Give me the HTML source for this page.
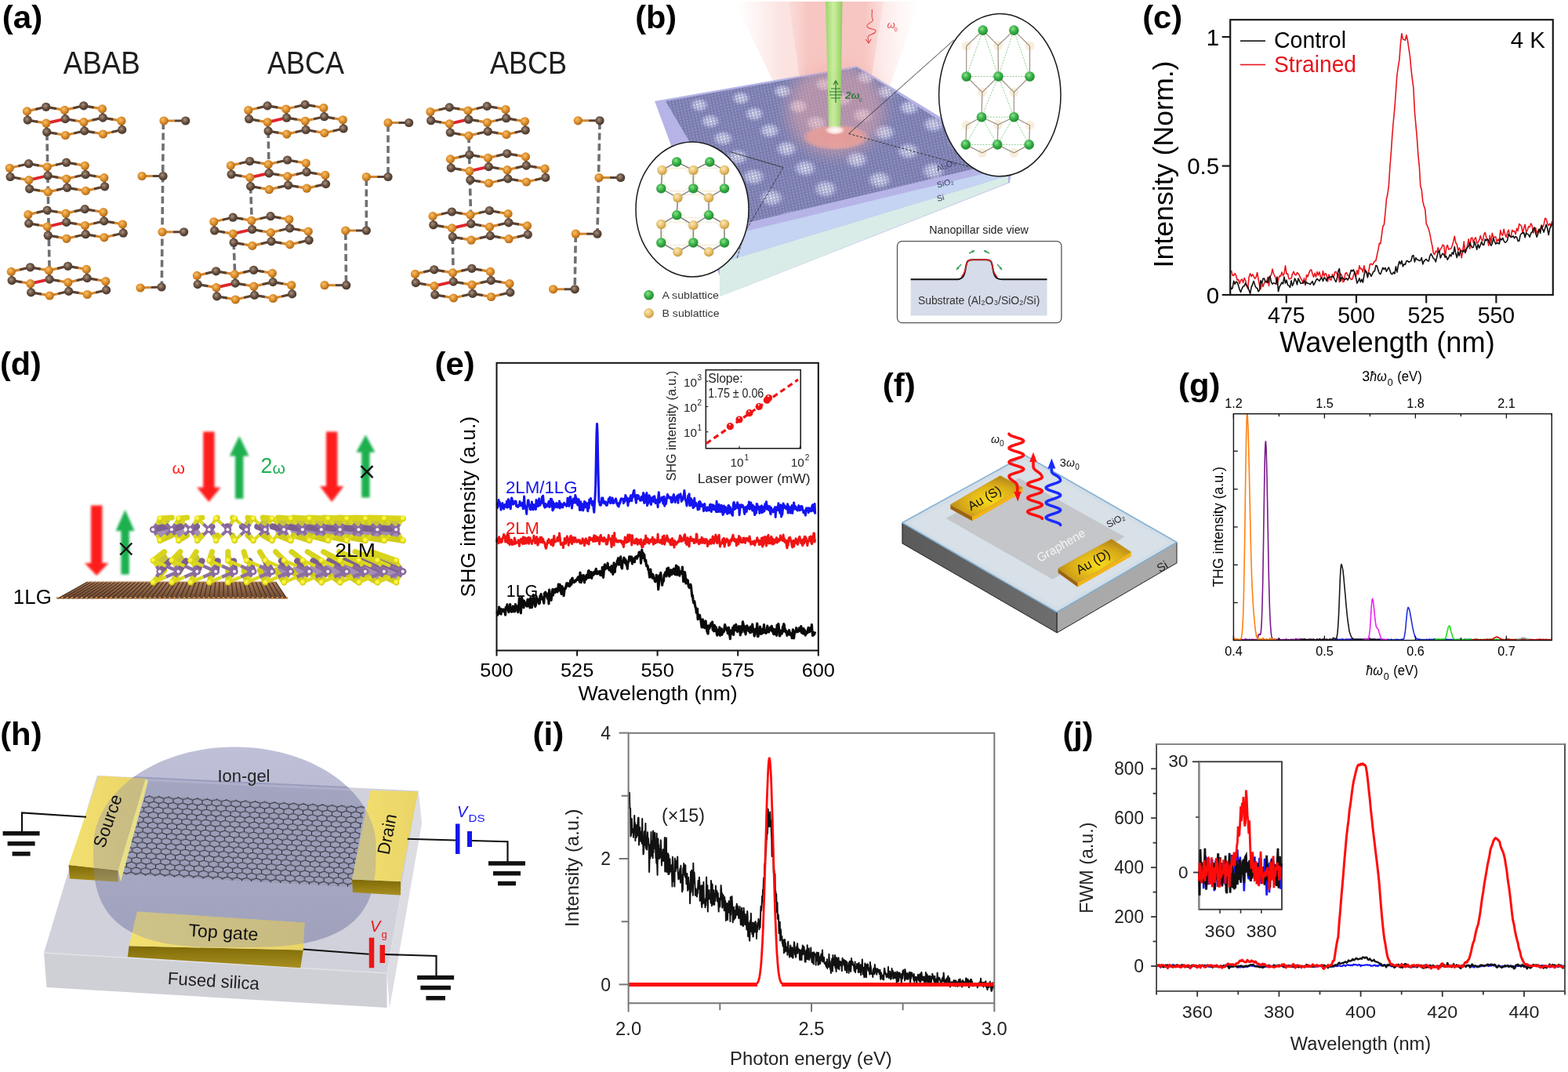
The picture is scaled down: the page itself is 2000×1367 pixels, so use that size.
<!DOCTYPE html><html><head><meta charset="utf-8"><style>html,body{margin:0;padding:0;background:#fff;}svg{display:block;}text{font-family:"Liberation Sans",Arial,sans-serif;}</style></head><body>
<svg width="2000" height="1367" viewBox="0 0 2000 1367">
<rect width="2000" height="1367" fill="#fff"/>
<defs>
<radialGradient id="gO" cx="0.4" cy="0.38" r="0.65"><stop offset="0" stop-color="#f8c068"/><stop offset="0.55" stop-color="#dc8c28"/><stop offset="1" stop-color="#a8661a"/></radialGradient>
<radialGradient id="gB" cx="0.42" cy="0.4" r="0.65"><stop offset="0" stop-color="#a89482"/><stop offset="0.5" stop-color="#6a5242"/><stop offset="1" stop-color="#3e2e22"/></radialGradient>
</defs>
<text x="129.8" y="94.0" font-size="39.8" text-anchor="middle" fill="#1e1e1e" textLength="98.0" lengthAdjust="spacingAndGlyphs">ABAB</text>
<text x="390.0" y="94.0" font-size="39.8" text-anchor="middle" fill="#1e1e1e" textLength="98.0" lengthAdjust="spacingAndGlyphs">ABCA</text>
<text x="674.0" y="94.0" font-size="39.8" text-anchor="middle" fill="#1e1e1e" textLength="98.0" lengthAdjust="spacingAndGlyphs">ABCB</text>
<path d="M59.9,170.0 L63.3,356.0" stroke="#6f7073" stroke-width="3.6" stroke-dasharray="9 4.5" fill="none"/>
<path d="M208.3,156.0 L206.3,366.0" stroke="#6f7073" stroke-width="3.6" stroke-dasharray="9 4.5" fill="none"/>
<g stroke-linecap="round">
<path d="M34.4,141.9 L34.8,147.5" stroke="#d4862c" stroke-width="3.2"/>
<path d="M34.8,147.5 L35.2,153.1" stroke="#5a4232" stroke-width="3.2"/>
<path d="M34.4,141.9 L46.5,139.1" stroke="#d4862c" stroke-width="3.2"/>
<path d="M46.5,139.1 L58.7,136.3" stroke="#5a4232" stroke-width="3.2"/>
<path d="M82.4,140.4 L82.8,146.0" stroke="#d4862c" stroke-width="3.2"/>
<path d="M82.8,146.0 L83.2,151.6" stroke="#5a4232" stroke-width="3.2"/>
<path d="M82.4,140.4 L94.5,137.6" stroke="#d4862c" stroke-width="3.2"/>
<path d="M94.5,137.6 L106.7,134.8" stroke="#5a4232" stroke-width="3.2"/>
<path d="M82.4,140.4 L70.6,138.4" stroke="#d4862c" stroke-width="3.2"/>
<path d="M70.6,138.4 L58.7,136.3" stroke="#5a4232" stroke-width="3.2"/>
<path d="M130.4,138.9 L130.8,144.5" stroke="#d4862c" stroke-width="3.2"/>
<path d="M130.8,144.5 L131.2,150.1" stroke="#5a4232" stroke-width="3.2"/>
<path d="M130.4,138.9 L118.5,136.9" stroke="#d4862c" stroke-width="3.2"/>
<path d="M118.5,136.9 L106.7,134.8" stroke="#5a4232" stroke-width="3.2"/>
<path d="M58.9,157.2 L59.3,162.8" stroke="#d4862c" stroke-width="3.2"/>
<path d="M59.3,162.8 L59.7,168.4" stroke="#5a4232" stroke-width="3.2"/>
<path d="M58.9,157.2 L47.0,155.2" stroke="#d4862c" stroke-width="3.2"/>
<path d="M47.0,155.2 L35.2,153.1" stroke="#5a4232" stroke-width="3.2"/>
<path d="M106.9,155.7 L107.3,161.3" stroke="#d4862c" stroke-width="3.2"/>
<path d="M107.3,161.3 L107.7,166.9" stroke="#5a4232" stroke-width="3.2"/>
<path d="M106.9,155.7 L119.0,152.9" stroke="#d4862c" stroke-width="3.2"/>
<path d="M119.0,152.9 L131.2,150.1" stroke="#5a4232" stroke-width="3.2"/>
<path d="M106.9,155.7 L95.0,153.7" stroke="#d4862c" stroke-width="3.2"/>
<path d="M95.0,153.7 L83.2,151.6" stroke="#5a4232" stroke-width="3.2"/>
<path d="M154.9,154.2 L155.3,159.8" stroke="#d4862c" stroke-width="3.2"/>
<path d="M155.3,159.8 L155.7,165.4" stroke="#5a4232" stroke-width="3.2"/>
<path d="M154.9,154.2 L143.1,152.2" stroke="#d4862c" stroke-width="3.2"/>
<path d="M143.1,152.2 L131.2,150.1" stroke="#5a4232" stroke-width="3.2"/>
<path d="M83.4,172.5 L95.5,169.7" stroke="#d4862c" stroke-width="3.2"/>
<path d="M95.5,169.7 L107.7,166.9" stroke="#5a4232" stroke-width="3.2"/>
<path d="M83.4,172.5 L71.6,170.4" stroke="#d4862c" stroke-width="3.2"/>
<path d="M71.6,170.4 L59.7,168.4" stroke="#5a4232" stroke-width="3.2"/>
<path d="M131.4,171.0 L143.6,168.2" stroke="#d4862c" stroke-width="3.2"/>
<path d="M143.6,168.2 L155.7,165.4" stroke="#5a4232" stroke-width="3.2"/>
<path d="M131.4,171.0 L119.5,168.9" stroke="#d4862c" stroke-width="3.2"/>
<path d="M119.5,168.9 L107.7,166.9" stroke="#5a4232" stroke-width="3.2"/>
<path d="M58.9,157.2 L83.2,151.6" stroke="#e0242c" stroke-width="3.8"/>
</g>
<circle cx="106.7" cy="134.8" r="5.6" fill="url(#gB)"/>
<circle cx="58.7" cy="136.3" r="5.6" fill="url(#gB)"/>
<circle cx="130.4" cy="138.9" r="5.6" fill="url(#gO)"/>
<circle cx="82.4" cy="140.4" r="5.6" fill="url(#gO)"/>
<circle cx="34.4" cy="141.9" r="5.6" fill="url(#gO)"/>
<circle cx="131.2" cy="150.1" r="5.6" fill="url(#gB)"/>
<circle cx="83.2" cy="151.6" r="5.6" fill="url(#gB)"/>
<circle cx="35.2" cy="153.1" r="5.6" fill="url(#gB)"/>
<circle cx="154.9" cy="154.2" r="5.6" fill="url(#gO)"/>
<circle cx="106.9" cy="155.7" r="5.6" fill="url(#gO)"/>
<circle cx="58.9" cy="157.2" r="5.6" fill="url(#gO)"/>
<circle cx="155.7" cy="165.4" r="5.6" fill="url(#gB)"/>
<circle cx="107.7" cy="166.9" r="5.6" fill="url(#gB)"/>
<circle cx="59.7" cy="168.4" r="5.6" fill="url(#gB)"/>
<circle cx="131.4" cy="171.0" r="5.6" fill="url(#gO)"/>
<circle cx="83.4" cy="172.5" r="5.6" fill="url(#gO)"/>
<g stroke-linecap="round">
<path d="M12.3,214.3 L12.7,219.9" stroke="#d4862c" stroke-width="3.2"/>
<path d="M12.7,219.9 L13.1,225.5" stroke="#5a4232" stroke-width="3.2"/>
<path d="M12.3,214.3 L24.5,211.5" stroke="#d4862c" stroke-width="3.2"/>
<path d="M24.5,211.5 L36.6,208.7" stroke="#5a4232" stroke-width="3.2"/>
<path d="M60.3,212.8 L60.7,218.4" stroke="#d4862c" stroke-width="3.2"/>
<path d="M60.7,218.4 L61.1,224.0" stroke="#5a4232" stroke-width="3.2"/>
<path d="M60.3,212.8 L72.4,210.0" stroke="#d4862c" stroke-width="3.2"/>
<path d="M72.4,210.0 L84.6,207.2" stroke="#5a4232" stroke-width="3.2"/>
<path d="M60.3,212.8 L48.5,210.8" stroke="#d4862c" stroke-width="3.2"/>
<path d="M48.5,210.8 L36.6,208.7" stroke="#5a4232" stroke-width="3.2"/>
<path d="M108.3,211.3 L108.7,216.9" stroke="#d4862c" stroke-width="3.2"/>
<path d="M108.7,216.9 L109.1,222.5" stroke="#5a4232" stroke-width="3.2"/>
<path d="M108.3,211.3 L96.4,209.2" stroke="#d4862c" stroke-width="3.2"/>
<path d="M96.4,209.2 L84.6,207.2" stroke="#5a4232" stroke-width="3.2"/>
<path d="M36.8,229.6 L37.2,235.2" stroke="#d4862c" stroke-width="3.2"/>
<path d="M37.2,235.2 L37.6,240.8" stroke="#5a4232" stroke-width="3.2"/>
<path d="M36.8,229.6 L24.9,227.6" stroke="#d4862c" stroke-width="3.2"/>
<path d="M24.9,227.6 L13.1,225.5" stroke="#5a4232" stroke-width="3.2"/>
<path d="M84.8,228.1 L85.2,233.7" stroke="#d4862c" stroke-width="3.2"/>
<path d="M85.2,233.7 L85.6,239.3" stroke="#5a4232" stroke-width="3.2"/>
<path d="M84.8,228.1 L96.9,225.3" stroke="#d4862c" stroke-width="3.2"/>
<path d="M96.9,225.3 L109.1,222.5" stroke="#5a4232" stroke-width="3.2"/>
<path d="M84.8,228.1 L72.9,226.1" stroke="#d4862c" stroke-width="3.2"/>
<path d="M72.9,226.1 L61.1,224.0" stroke="#5a4232" stroke-width="3.2"/>
<path d="M132.8,226.6 L133.2,232.2" stroke="#d4862c" stroke-width="3.2"/>
<path d="M133.2,232.2 L133.6,237.8" stroke="#5a4232" stroke-width="3.2"/>
<path d="M132.8,226.6 L121.0,224.6" stroke="#d4862c" stroke-width="3.2"/>
<path d="M121.0,224.6 L109.1,222.5" stroke="#5a4232" stroke-width="3.2"/>
<path d="M61.3,244.9 L73.4,242.1" stroke="#d4862c" stroke-width="3.2"/>
<path d="M73.4,242.1 L85.6,239.3" stroke="#5a4232" stroke-width="3.2"/>
<path d="M61.3,244.9 L49.5,242.9" stroke="#d4862c" stroke-width="3.2"/>
<path d="M49.5,242.9 L37.6,240.8" stroke="#5a4232" stroke-width="3.2"/>
<path d="M109.3,243.4 L121.4,240.6" stroke="#d4862c" stroke-width="3.2"/>
<path d="M121.4,240.6 L133.6,237.8" stroke="#5a4232" stroke-width="3.2"/>
<path d="M109.3,243.4 L97.4,241.4" stroke="#d4862c" stroke-width="3.2"/>
<path d="M97.4,241.4 L85.6,239.3" stroke="#5a4232" stroke-width="3.2"/>
<path d="M36.8,229.6 L61.1,224.0" stroke="#e0242c" stroke-width="3.8"/>
</g>
<circle cx="84.6" cy="207.2" r="5.6" fill="url(#gB)"/>
<circle cx="36.6" cy="208.7" r="5.6" fill="url(#gB)"/>
<circle cx="108.3" cy="211.3" r="5.6" fill="url(#gO)"/>
<circle cx="60.3" cy="212.8" r="5.6" fill="url(#gO)"/>
<circle cx="12.3" cy="214.3" r="5.6" fill="url(#gO)"/>
<circle cx="109.1" cy="222.5" r="5.6" fill="url(#gB)"/>
<circle cx="61.1" cy="224.0" r="5.6" fill="url(#gB)"/>
<circle cx="13.1" cy="225.5" r="5.6" fill="url(#gB)"/>
<circle cx="132.8" cy="226.6" r="5.6" fill="url(#gO)"/>
<circle cx="84.8" cy="228.1" r="5.6" fill="url(#gO)"/>
<circle cx="36.8" cy="229.6" r="5.6" fill="url(#gO)"/>
<circle cx="133.6" cy="237.8" r="5.6" fill="url(#gB)"/>
<circle cx="85.6" cy="239.3" r="5.6" fill="url(#gB)"/>
<circle cx="37.6" cy="240.8" r="5.6" fill="url(#gB)"/>
<circle cx="109.3" cy="243.4" r="5.6" fill="url(#gO)"/>
<circle cx="61.3" cy="244.9" r="5.6" fill="url(#gO)"/>
<g stroke-linecap="round">
<path d="M35.9,273.7 L36.3,279.3" stroke="#d4862c" stroke-width="3.2"/>
<path d="M36.3,279.3 L36.7,284.9" stroke="#5a4232" stroke-width="3.2"/>
<path d="M35.9,273.7 L48.0,270.9" stroke="#d4862c" stroke-width="3.2"/>
<path d="M48.0,270.9 L60.2,268.1" stroke="#5a4232" stroke-width="3.2"/>
<path d="M83.9,272.2 L84.3,277.8" stroke="#d4862c" stroke-width="3.2"/>
<path d="M84.3,277.8 L84.7,283.4" stroke="#5a4232" stroke-width="3.2"/>
<path d="M83.9,272.2 L96.0,269.4" stroke="#d4862c" stroke-width="3.2"/>
<path d="M96.0,269.4 L108.2,266.6" stroke="#5a4232" stroke-width="3.2"/>
<path d="M83.9,272.2 L72.1,270.1" stroke="#d4862c" stroke-width="3.2"/>
<path d="M72.1,270.1 L60.2,268.1" stroke="#5a4232" stroke-width="3.2"/>
<path d="M131.9,270.7 L132.3,276.3" stroke="#d4862c" stroke-width="3.2"/>
<path d="M132.3,276.3 L132.7,281.9" stroke="#5a4232" stroke-width="3.2"/>
<path d="M131.9,270.7 L120.0,268.6" stroke="#d4862c" stroke-width="3.2"/>
<path d="M120.0,268.6 L108.2,266.6" stroke="#5a4232" stroke-width="3.2"/>
<path d="M60.4,289.0 L60.8,294.6" stroke="#d4862c" stroke-width="3.2"/>
<path d="M60.8,294.6 L61.2,300.2" stroke="#5a4232" stroke-width="3.2"/>
<path d="M60.4,289.0 L48.5,286.9" stroke="#d4862c" stroke-width="3.2"/>
<path d="M48.5,286.9 L36.7,284.9" stroke="#5a4232" stroke-width="3.2"/>
<path d="M108.4,287.5 L108.8,293.1" stroke="#d4862c" stroke-width="3.2"/>
<path d="M108.8,293.1 L109.2,298.7" stroke="#5a4232" stroke-width="3.2"/>
<path d="M108.4,287.5 L120.5,284.7" stroke="#d4862c" stroke-width="3.2"/>
<path d="M120.5,284.7 L132.7,281.9" stroke="#5a4232" stroke-width="3.2"/>
<path d="M108.4,287.5 L96.5,285.4" stroke="#d4862c" stroke-width="3.2"/>
<path d="M96.5,285.4 L84.7,283.4" stroke="#5a4232" stroke-width="3.2"/>
<path d="M156.4,286.0 L156.8,291.6" stroke="#d4862c" stroke-width="3.2"/>
<path d="M156.8,291.6 L157.2,297.2" stroke="#5a4232" stroke-width="3.2"/>
<path d="M156.4,286.0 L144.6,283.9" stroke="#d4862c" stroke-width="3.2"/>
<path d="M144.6,283.9 L132.7,281.9" stroke="#5a4232" stroke-width="3.2"/>
<path d="M84.9,304.3 L97.0,301.5" stroke="#d4862c" stroke-width="3.2"/>
<path d="M97.0,301.5 L109.2,298.7" stroke="#5a4232" stroke-width="3.2"/>
<path d="M84.9,304.3 L73.1,302.2" stroke="#d4862c" stroke-width="3.2"/>
<path d="M73.1,302.2 L61.2,300.2" stroke="#5a4232" stroke-width="3.2"/>
<path d="M132.9,302.8 L145.1,300.0" stroke="#d4862c" stroke-width="3.2"/>
<path d="M145.1,300.0 L157.2,297.2" stroke="#5a4232" stroke-width="3.2"/>
<path d="M132.9,302.8 L121.0,300.8" stroke="#d4862c" stroke-width="3.2"/>
<path d="M121.0,300.8 L109.2,298.7" stroke="#5a4232" stroke-width="3.2"/>
<path d="M60.4,289.0 L84.7,283.4" stroke="#e0242c" stroke-width="3.8"/>
</g>
<circle cx="108.2" cy="266.6" r="5.6" fill="url(#gB)"/>
<circle cx="60.2" cy="268.1" r="5.6" fill="url(#gB)"/>
<circle cx="131.9" cy="270.7" r="5.6" fill="url(#gO)"/>
<circle cx="83.9" cy="272.2" r="5.6" fill="url(#gO)"/>
<circle cx="35.9" cy="273.7" r="5.6" fill="url(#gO)"/>
<circle cx="132.7" cy="281.9" r="5.6" fill="url(#gB)"/>
<circle cx="84.7" cy="283.4" r="5.6" fill="url(#gB)"/>
<circle cx="36.7" cy="284.9" r="5.6" fill="url(#gB)"/>
<circle cx="156.4" cy="286.0" r="5.6" fill="url(#gO)"/>
<circle cx="108.4" cy="287.5" r="5.6" fill="url(#gO)"/>
<circle cx="60.4" cy="289.0" r="5.6" fill="url(#gO)"/>
<circle cx="157.2" cy="297.2" r="5.6" fill="url(#gB)"/>
<circle cx="109.2" cy="298.7" r="5.6" fill="url(#gB)"/>
<circle cx="61.2" cy="300.2" r="5.6" fill="url(#gB)"/>
<circle cx="132.9" cy="302.8" r="5.6" fill="url(#gO)"/>
<circle cx="84.9" cy="304.3" r="5.6" fill="url(#gO)"/>
<g stroke-linecap="round">
<path d="M14.3,346.4 L14.7,352.0" stroke="#d4862c" stroke-width="3.2"/>
<path d="M14.7,352.0 L15.1,357.6" stroke="#5a4232" stroke-width="3.2"/>
<path d="M14.3,346.4 L26.5,343.6" stroke="#d4862c" stroke-width="3.2"/>
<path d="M26.5,343.6 L38.6,340.8" stroke="#5a4232" stroke-width="3.2"/>
<path d="M62.3,344.9 L62.7,350.5" stroke="#d4862c" stroke-width="3.2"/>
<path d="M62.7,350.5 L63.1,356.1" stroke="#5a4232" stroke-width="3.2"/>
<path d="M62.3,344.9 L74.4,342.1" stroke="#d4862c" stroke-width="3.2"/>
<path d="M74.4,342.1 L86.6,339.3" stroke="#5a4232" stroke-width="3.2"/>
<path d="M62.3,344.9 L50.5,342.8" stroke="#d4862c" stroke-width="3.2"/>
<path d="M50.5,342.8 L38.6,340.8" stroke="#5a4232" stroke-width="3.2"/>
<path d="M110.3,343.4 L110.7,349.0" stroke="#d4862c" stroke-width="3.2"/>
<path d="M110.7,349.0 L111.1,354.6" stroke="#5a4232" stroke-width="3.2"/>
<path d="M110.3,343.4 L98.4,341.3" stroke="#d4862c" stroke-width="3.2"/>
<path d="M98.4,341.3 L86.6,339.3" stroke="#5a4232" stroke-width="3.2"/>
<path d="M38.8,361.7 L39.2,367.3" stroke="#d4862c" stroke-width="3.2"/>
<path d="M39.2,367.3 L39.6,372.9" stroke="#5a4232" stroke-width="3.2"/>
<path d="M38.8,361.7 L26.9,359.6" stroke="#d4862c" stroke-width="3.2"/>
<path d="M26.9,359.6 L15.1,357.6" stroke="#5a4232" stroke-width="3.2"/>
<path d="M86.8,360.2 L87.2,365.8" stroke="#d4862c" stroke-width="3.2"/>
<path d="M87.2,365.8 L87.6,371.4" stroke="#5a4232" stroke-width="3.2"/>
<path d="M86.8,360.2 L98.9,357.4" stroke="#d4862c" stroke-width="3.2"/>
<path d="M98.9,357.4 L111.1,354.6" stroke="#5a4232" stroke-width="3.2"/>
<path d="M86.8,360.2 L74.9,358.1" stroke="#d4862c" stroke-width="3.2"/>
<path d="M74.9,358.1 L63.1,356.1" stroke="#5a4232" stroke-width="3.2"/>
<path d="M134.8,358.7 L135.2,364.3" stroke="#d4862c" stroke-width="3.2"/>
<path d="M135.2,364.3 L135.6,369.9" stroke="#5a4232" stroke-width="3.2"/>
<path d="M134.8,358.7 L123.0,356.6" stroke="#d4862c" stroke-width="3.2"/>
<path d="M123.0,356.6 L111.1,354.6" stroke="#5a4232" stroke-width="3.2"/>
<path d="M63.3,377.0 L75.4,374.2" stroke="#d4862c" stroke-width="3.2"/>
<path d="M75.4,374.2 L87.6,371.4" stroke="#5a4232" stroke-width="3.2"/>
<path d="M63.3,377.0 L51.5,374.9" stroke="#d4862c" stroke-width="3.2"/>
<path d="M51.5,374.9 L39.6,372.9" stroke="#5a4232" stroke-width="3.2"/>
<path d="M111.3,375.5 L123.4,372.7" stroke="#d4862c" stroke-width="3.2"/>
<path d="M123.4,372.7 L135.6,369.9" stroke="#5a4232" stroke-width="3.2"/>
<path d="M111.3,375.5 L99.4,373.4" stroke="#d4862c" stroke-width="3.2"/>
<path d="M99.4,373.4 L87.6,371.4" stroke="#5a4232" stroke-width="3.2"/>
<path d="M38.8,361.7 L63.1,356.1" stroke="#e0242c" stroke-width="3.8"/>
</g>
<circle cx="86.6" cy="339.3" r="5.6" fill="url(#gB)"/>
<circle cx="38.6" cy="340.8" r="5.6" fill="url(#gB)"/>
<circle cx="110.3" cy="343.4" r="5.6" fill="url(#gO)"/>
<circle cx="62.3" cy="344.9" r="5.6" fill="url(#gO)"/>
<circle cx="14.3" cy="346.4" r="5.6" fill="url(#gO)"/>
<circle cx="111.1" cy="354.6" r="5.6" fill="url(#gB)"/>
<circle cx="63.1" cy="356.1" r="5.6" fill="url(#gB)"/>
<circle cx="15.1" cy="357.6" r="5.6" fill="url(#gB)"/>
<circle cx="134.8" cy="358.7" r="5.6" fill="url(#gO)"/>
<circle cx="86.8" cy="360.2" r="5.6" fill="url(#gO)"/>
<circle cx="38.8" cy="361.7" r="5.6" fill="url(#gO)"/>
<circle cx="135.6" cy="369.9" r="5.6" fill="url(#gB)"/>
<circle cx="87.6" cy="371.4" r="5.6" fill="url(#gB)"/>
<circle cx="39.6" cy="372.9" r="5.6" fill="url(#gB)"/>
<circle cx="111.3" cy="375.5" r="5.6" fill="url(#gO)"/>
<circle cx="63.3" cy="377.0" r="5.6" fill="url(#gO)"/>
<path d="M209.0,154.0 L222.8,154.0" stroke="#d4862c" stroke-width="3.0"/>
<path d="M222.8,154.0 L236.7,154.0" stroke="#5a4232" stroke-width="3.0"/>
<circle cx="209.0" cy="154.0" r="5.6" fill="url(#gO)"/>
<circle cx="236.7" cy="154.0" r="5.6" fill="url(#gB)"/>
<path d="M181.0,224.5 L194.5,224.5" stroke="#d4862c" stroke-width="3.0"/>
<path d="M194.5,224.5 L208.0,224.5" stroke="#5a4232" stroke-width="3.0"/>
<circle cx="181.0" cy="224.5" r="5.6" fill="url(#gO)"/>
<circle cx="208.0" cy="224.5" r="5.6" fill="url(#gB)"/>
<path d="M207.0,295.8 L220.8,295.8" stroke="#d4862c" stroke-width="3.0"/>
<path d="M220.8,295.8 L234.6,295.8" stroke="#5a4232" stroke-width="3.0"/>
<circle cx="207.0" cy="295.8" r="5.6" fill="url(#gO)"/>
<circle cx="234.6" cy="295.8" r="5.6" fill="url(#gB)"/>
<path d="M179.0,367.0 L192.5,366.5" stroke="#d4862c" stroke-width="3.0"/>
<path d="M192.5,366.5 L206.0,366.0" stroke="#5a4232" stroke-width="3.0"/>
<circle cx="179.0" cy="367.0" r="5.6" fill="url(#gO)"/>
<circle cx="206.0" cy="366.0" r="5.6" fill="url(#gB)"/>
<path d="M342.1,167.0 L343.1,220.8" stroke="#6f7073" stroke-width="3.6" stroke-dasharray="9 4.5" fill="none"/>
<path d="M319.6,237.6 L321.6,292.5" stroke="#6f7073" stroke-width="3.6" stroke-dasharray="9 4.5" fill="none"/>
<path d="M298.1,309.3 L300.1,361.1" stroke="#6f7073" stroke-width="3.6" stroke-dasharray="9 4.5" fill="none"/>
<path d="M495.0,159.0 L495.0,224.0" stroke="#6f7073" stroke-width="3.6" stroke-dasharray="9 4.5" fill="none"/>
<path d="M467.3,228.0 L467.3,292.0" stroke="#6f7073" stroke-width="3.6" stroke-dasharray="9 4.5" fill="none"/>
<path d="M440.8,297.0 L441.5,362.0" stroke="#6f7073" stroke-width="3.6" stroke-dasharray="9 4.5" fill="none"/>
<g stroke-linecap="round">
<path d="M316.8,140.5 L317.2,146.1" stroke="#d4862c" stroke-width="3.2"/>
<path d="M317.2,146.1 L317.6,151.7" stroke="#5a4232" stroke-width="3.2"/>
<path d="M316.8,140.5 L329.0,137.7" stroke="#d4862c" stroke-width="3.2"/>
<path d="M329.0,137.7 L341.1,134.9" stroke="#5a4232" stroke-width="3.2"/>
<path d="M364.8,139.0 L365.2,144.6" stroke="#d4862c" stroke-width="3.2"/>
<path d="M365.2,144.6 L365.6,150.2" stroke="#5a4232" stroke-width="3.2"/>
<path d="M364.8,139.0 L377.0,136.2" stroke="#d4862c" stroke-width="3.2"/>
<path d="M377.0,136.2 L389.1,133.4" stroke="#5a4232" stroke-width="3.2"/>
<path d="M364.8,139.0 L353.0,136.9" stroke="#d4862c" stroke-width="3.2"/>
<path d="M353.0,136.9 L341.1,134.9" stroke="#5a4232" stroke-width="3.2"/>
<path d="M412.8,137.5 L413.2,143.1" stroke="#d4862c" stroke-width="3.2"/>
<path d="M413.2,143.1 L413.6,148.7" stroke="#5a4232" stroke-width="3.2"/>
<path d="M412.8,137.5 L401.0,135.4" stroke="#d4862c" stroke-width="3.2"/>
<path d="M401.0,135.4 L389.1,133.4" stroke="#5a4232" stroke-width="3.2"/>
<path d="M341.3,155.8 L341.7,161.4" stroke="#d4862c" stroke-width="3.2"/>
<path d="M341.7,161.4 L342.1,167.0" stroke="#5a4232" stroke-width="3.2"/>
<path d="M341.3,155.8 L329.5,153.8" stroke="#d4862c" stroke-width="3.2"/>
<path d="M329.5,153.8 L317.6,151.7" stroke="#5a4232" stroke-width="3.2"/>
<path d="M389.3,154.3 L389.7,159.9" stroke="#d4862c" stroke-width="3.2"/>
<path d="M389.7,159.9 L390.1,165.5" stroke="#5a4232" stroke-width="3.2"/>
<path d="M389.3,154.3 L401.5,151.5" stroke="#d4862c" stroke-width="3.2"/>
<path d="M401.5,151.5 L413.6,148.7" stroke="#5a4232" stroke-width="3.2"/>
<path d="M389.3,154.3 L377.5,152.2" stroke="#d4862c" stroke-width="3.2"/>
<path d="M377.5,152.2 L365.6,150.2" stroke="#5a4232" stroke-width="3.2"/>
<path d="M437.3,152.8 L437.7,158.4" stroke="#d4862c" stroke-width="3.2"/>
<path d="M437.7,158.4 L438.1,164.0" stroke="#5a4232" stroke-width="3.2"/>
<path d="M437.3,152.8 L425.5,150.8" stroke="#d4862c" stroke-width="3.2"/>
<path d="M425.5,150.8 L413.6,148.7" stroke="#5a4232" stroke-width="3.2"/>
<path d="M365.8,171.1 L378.0,168.3" stroke="#d4862c" stroke-width="3.2"/>
<path d="M378.0,168.3 L390.1,165.5" stroke="#5a4232" stroke-width="3.2"/>
<path d="M365.8,171.1 L354.0,169.1" stroke="#d4862c" stroke-width="3.2"/>
<path d="M354.0,169.1 L342.1,167.0" stroke="#5a4232" stroke-width="3.2"/>
<path d="M413.8,169.6 L426.0,166.8" stroke="#d4862c" stroke-width="3.2"/>
<path d="M426.0,166.8 L438.1,164.0" stroke="#5a4232" stroke-width="3.2"/>
<path d="M413.8,169.6 L402.0,167.6" stroke="#d4862c" stroke-width="3.2"/>
<path d="M402.0,167.6 L390.1,165.5" stroke="#5a4232" stroke-width="3.2"/>
<path d="M341.3,155.8 L365.6,150.2" stroke="#e0242c" stroke-width="3.8"/>
</g>
<circle cx="389.1" cy="133.4" r="5.6" fill="url(#gB)"/>
<circle cx="341.1" cy="134.9" r="5.6" fill="url(#gB)"/>
<circle cx="412.8" cy="137.5" r="5.6" fill="url(#gO)"/>
<circle cx="364.8" cy="139.0" r="5.6" fill="url(#gO)"/>
<circle cx="316.8" cy="140.5" r="5.6" fill="url(#gO)"/>
<circle cx="413.6" cy="148.7" r="5.6" fill="url(#gB)"/>
<circle cx="365.6" cy="150.2" r="5.6" fill="url(#gB)"/>
<circle cx="317.6" cy="151.7" r="5.6" fill="url(#gB)"/>
<circle cx="437.3" cy="152.8" r="5.6" fill="url(#gO)"/>
<circle cx="389.3" cy="154.3" r="5.6" fill="url(#gO)"/>
<circle cx="341.3" cy="155.8" r="5.6" fill="url(#gO)"/>
<circle cx="438.1" cy="164.0" r="5.6" fill="url(#gB)"/>
<circle cx="390.1" cy="165.5" r="5.6" fill="url(#gB)"/>
<circle cx="342.1" cy="167.0" r="5.6" fill="url(#gB)"/>
<circle cx="413.8" cy="169.6" r="5.6" fill="url(#gO)"/>
<circle cx="365.8" cy="171.1" r="5.6" fill="url(#gO)"/>
<g stroke-linecap="round">
<path d="M294.3,211.1 L294.7,216.7" stroke="#d4862c" stroke-width="3.2"/>
<path d="M294.7,216.7 L295.1,222.3" stroke="#5a4232" stroke-width="3.2"/>
<path d="M294.3,211.1 L306.5,208.3" stroke="#d4862c" stroke-width="3.2"/>
<path d="M306.5,208.3 L318.6,205.5" stroke="#5a4232" stroke-width="3.2"/>
<path d="M342.3,209.6 L342.7,215.2" stroke="#d4862c" stroke-width="3.2"/>
<path d="M342.7,215.2 L343.1,220.8" stroke="#5a4232" stroke-width="3.2"/>
<path d="M342.3,209.6 L354.5,206.8" stroke="#d4862c" stroke-width="3.2"/>
<path d="M354.5,206.8 L366.6,204.0" stroke="#5a4232" stroke-width="3.2"/>
<path d="M342.3,209.6 L330.5,207.6" stroke="#d4862c" stroke-width="3.2"/>
<path d="M330.5,207.6 L318.6,205.5" stroke="#5a4232" stroke-width="3.2"/>
<path d="M390.3,208.1 L390.7,213.7" stroke="#d4862c" stroke-width="3.2"/>
<path d="M390.7,213.7 L391.1,219.3" stroke="#5a4232" stroke-width="3.2"/>
<path d="M390.3,208.1 L378.5,206.1" stroke="#d4862c" stroke-width="3.2"/>
<path d="M378.5,206.1 L366.6,204.0" stroke="#5a4232" stroke-width="3.2"/>
<path d="M318.8,226.4 L319.2,232.0" stroke="#d4862c" stroke-width="3.2"/>
<path d="M319.2,232.0 L319.6,237.6" stroke="#5a4232" stroke-width="3.2"/>
<path d="M318.8,226.4 L307.0,224.3" stroke="#d4862c" stroke-width="3.2"/>
<path d="M307.0,224.3 L295.1,222.3" stroke="#5a4232" stroke-width="3.2"/>
<path d="M366.8,224.9 L367.2,230.5" stroke="#d4862c" stroke-width="3.2"/>
<path d="M367.2,230.5 L367.6,236.1" stroke="#5a4232" stroke-width="3.2"/>
<path d="M366.8,224.9 L379.0,222.1" stroke="#d4862c" stroke-width="3.2"/>
<path d="M379.0,222.1 L391.1,219.3" stroke="#5a4232" stroke-width="3.2"/>
<path d="M366.8,224.9 L355.0,222.8" stroke="#d4862c" stroke-width="3.2"/>
<path d="M355.0,222.8 L343.1,220.8" stroke="#5a4232" stroke-width="3.2"/>
<path d="M414.8,223.4 L415.2,229.0" stroke="#d4862c" stroke-width="3.2"/>
<path d="M415.2,229.0 L415.6,234.6" stroke="#5a4232" stroke-width="3.2"/>
<path d="M414.8,223.4 L403.0,221.3" stroke="#d4862c" stroke-width="3.2"/>
<path d="M403.0,221.3 L391.1,219.3" stroke="#5a4232" stroke-width="3.2"/>
<path d="M343.3,241.7 L355.5,238.9" stroke="#d4862c" stroke-width="3.2"/>
<path d="M355.5,238.9 L367.6,236.1" stroke="#5a4232" stroke-width="3.2"/>
<path d="M343.3,241.7 L331.5,239.6" stroke="#d4862c" stroke-width="3.2"/>
<path d="M331.5,239.6 L319.6,237.6" stroke="#5a4232" stroke-width="3.2"/>
<path d="M391.3,240.2 L403.5,237.4" stroke="#d4862c" stroke-width="3.2"/>
<path d="M403.5,237.4 L415.6,234.6" stroke="#5a4232" stroke-width="3.2"/>
<path d="M391.3,240.2 L379.5,238.1" stroke="#d4862c" stroke-width="3.2"/>
<path d="M379.5,238.1 L367.6,236.1" stroke="#5a4232" stroke-width="3.2"/>
<path d="M318.8,226.4 L343.1,220.8" stroke="#e0242c" stroke-width="3.8"/>
</g>
<circle cx="366.6" cy="204.0" r="5.6" fill="url(#gB)"/>
<circle cx="318.6" cy="205.5" r="5.6" fill="url(#gB)"/>
<circle cx="390.3" cy="208.1" r="5.6" fill="url(#gO)"/>
<circle cx="342.3" cy="209.6" r="5.6" fill="url(#gO)"/>
<circle cx="294.3" cy="211.1" r="5.6" fill="url(#gO)"/>
<circle cx="391.1" cy="219.3" r="5.6" fill="url(#gB)"/>
<circle cx="343.1" cy="220.8" r="5.6" fill="url(#gB)"/>
<circle cx="295.1" cy="222.3" r="5.6" fill="url(#gB)"/>
<circle cx="414.8" cy="223.4" r="5.6" fill="url(#gO)"/>
<circle cx="366.8" cy="224.9" r="5.6" fill="url(#gO)"/>
<circle cx="318.8" cy="226.4" r="5.6" fill="url(#gO)"/>
<circle cx="415.6" cy="234.6" r="5.6" fill="url(#gB)"/>
<circle cx="367.6" cy="236.1" r="5.6" fill="url(#gB)"/>
<circle cx="319.6" cy="237.6" r="5.6" fill="url(#gB)"/>
<circle cx="391.3" cy="240.2" r="5.6" fill="url(#gO)"/>
<circle cx="343.3" cy="241.7" r="5.6" fill="url(#gO)"/>
<g stroke-linecap="round">
<path d="M272.8,282.8 L273.2,288.4" stroke="#d4862c" stroke-width="3.2"/>
<path d="M273.2,288.4 L273.6,294.0" stroke="#5a4232" stroke-width="3.2"/>
<path d="M272.8,282.8 L285.0,280.0" stroke="#d4862c" stroke-width="3.2"/>
<path d="M285.0,280.0 L297.1,277.2" stroke="#5a4232" stroke-width="3.2"/>
<path d="M320.8,281.3 L321.2,286.9" stroke="#d4862c" stroke-width="3.2"/>
<path d="M321.2,286.9 L321.6,292.5" stroke="#5a4232" stroke-width="3.2"/>
<path d="M320.8,281.3 L333.0,278.5" stroke="#d4862c" stroke-width="3.2"/>
<path d="M333.0,278.5 L345.1,275.7" stroke="#5a4232" stroke-width="3.2"/>
<path d="M320.8,281.3 L309.0,279.2" stroke="#d4862c" stroke-width="3.2"/>
<path d="M309.0,279.2 L297.1,277.2" stroke="#5a4232" stroke-width="3.2"/>
<path d="M368.8,279.8 L369.2,285.4" stroke="#d4862c" stroke-width="3.2"/>
<path d="M369.2,285.4 L369.6,291.0" stroke="#5a4232" stroke-width="3.2"/>
<path d="M368.8,279.8 L357.0,277.8" stroke="#d4862c" stroke-width="3.2"/>
<path d="M357.0,277.8 L345.1,275.7" stroke="#5a4232" stroke-width="3.2"/>
<path d="M297.3,298.1 L297.7,303.7" stroke="#d4862c" stroke-width="3.2"/>
<path d="M297.7,303.7 L298.1,309.3" stroke="#5a4232" stroke-width="3.2"/>
<path d="M297.3,298.1 L285.5,296.1" stroke="#d4862c" stroke-width="3.2"/>
<path d="M285.5,296.1 L273.6,294.0" stroke="#5a4232" stroke-width="3.2"/>
<path d="M345.3,296.6 L345.7,302.2" stroke="#d4862c" stroke-width="3.2"/>
<path d="M345.7,302.2 L346.1,307.8" stroke="#5a4232" stroke-width="3.2"/>
<path d="M345.3,296.6 L357.5,293.8" stroke="#d4862c" stroke-width="3.2"/>
<path d="M357.5,293.8 L369.6,291.0" stroke="#5a4232" stroke-width="3.2"/>
<path d="M345.3,296.6 L333.5,294.6" stroke="#d4862c" stroke-width="3.2"/>
<path d="M333.5,294.6 L321.6,292.5" stroke="#5a4232" stroke-width="3.2"/>
<path d="M393.3,295.1 L393.7,300.7" stroke="#d4862c" stroke-width="3.2"/>
<path d="M393.7,300.7 L394.1,306.3" stroke="#5a4232" stroke-width="3.2"/>
<path d="M393.3,295.1 L381.5,293.1" stroke="#d4862c" stroke-width="3.2"/>
<path d="M381.5,293.1 L369.6,291.0" stroke="#5a4232" stroke-width="3.2"/>
<path d="M321.8,313.4 L334.0,310.6" stroke="#d4862c" stroke-width="3.2"/>
<path d="M334.0,310.6 L346.1,307.8" stroke="#5a4232" stroke-width="3.2"/>
<path d="M321.8,313.4 L310.0,311.4" stroke="#d4862c" stroke-width="3.2"/>
<path d="M310.0,311.4 L298.1,309.3" stroke="#5a4232" stroke-width="3.2"/>
<path d="M369.8,311.9 L382.0,309.1" stroke="#d4862c" stroke-width="3.2"/>
<path d="M382.0,309.1 L394.1,306.3" stroke="#5a4232" stroke-width="3.2"/>
<path d="M369.8,311.9 L358.0,309.9" stroke="#d4862c" stroke-width="3.2"/>
<path d="M358.0,309.9 L346.1,307.8" stroke="#5a4232" stroke-width="3.2"/>
<path d="M297.3,298.1 L321.6,292.5" stroke="#e0242c" stroke-width="3.8"/>
</g>
<circle cx="345.1" cy="275.7" r="5.6" fill="url(#gB)"/>
<circle cx="297.1" cy="277.2" r="5.6" fill="url(#gB)"/>
<circle cx="368.8" cy="279.8" r="5.6" fill="url(#gO)"/>
<circle cx="320.8" cy="281.3" r="5.6" fill="url(#gO)"/>
<circle cx="272.8" cy="282.8" r="5.6" fill="url(#gO)"/>
<circle cx="369.6" cy="291.0" r="5.6" fill="url(#gB)"/>
<circle cx="321.6" cy="292.5" r="5.6" fill="url(#gB)"/>
<circle cx="273.6" cy="294.0" r="5.6" fill="url(#gB)"/>
<circle cx="393.3" cy="295.1" r="5.6" fill="url(#gO)"/>
<circle cx="345.3" cy="296.6" r="5.6" fill="url(#gO)"/>
<circle cx="297.3" cy="298.1" r="5.6" fill="url(#gO)"/>
<circle cx="394.1" cy="306.3" r="5.6" fill="url(#gB)"/>
<circle cx="346.1" cy="307.8" r="5.6" fill="url(#gB)"/>
<circle cx="298.1" cy="309.3" r="5.6" fill="url(#gB)"/>
<circle cx="369.8" cy="311.9" r="5.6" fill="url(#gO)"/>
<circle cx="321.8" cy="313.4" r="5.6" fill="url(#gO)"/>
<g stroke-linecap="round">
<path d="M251.3,351.4 L251.7,357.0" stroke="#d4862c" stroke-width="3.2"/>
<path d="M251.7,357.0 L252.1,362.6" stroke="#5a4232" stroke-width="3.2"/>
<path d="M251.3,351.4 L263.5,348.6" stroke="#d4862c" stroke-width="3.2"/>
<path d="M263.5,348.6 L275.6,345.8" stroke="#5a4232" stroke-width="3.2"/>
<path d="M299.3,349.9 L299.7,355.5" stroke="#d4862c" stroke-width="3.2"/>
<path d="M299.7,355.5 L300.1,361.1" stroke="#5a4232" stroke-width="3.2"/>
<path d="M299.3,349.9 L311.5,347.1" stroke="#d4862c" stroke-width="3.2"/>
<path d="M311.5,347.1 L323.6,344.3" stroke="#5a4232" stroke-width="3.2"/>
<path d="M299.3,349.9 L287.5,347.8" stroke="#d4862c" stroke-width="3.2"/>
<path d="M287.5,347.8 L275.6,345.8" stroke="#5a4232" stroke-width="3.2"/>
<path d="M347.3,348.4 L347.7,354.0" stroke="#d4862c" stroke-width="3.2"/>
<path d="M347.7,354.0 L348.1,359.6" stroke="#5a4232" stroke-width="3.2"/>
<path d="M347.3,348.4 L335.5,346.3" stroke="#d4862c" stroke-width="3.2"/>
<path d="M335.5,346.3 L323.6,344.3" stroke="#5a4232" stroke-width="3.2"/>
<path d="M275.8,366.7 L276.2,372.3" stroke="#d4862c" stroke-width="3.2"/>
<path d="M276.2,372.3 L276.6,377.9" stroke="#5a4232" stroke-width="3.2"/>
<path d="M275.8,366.7 L264.0,364.6" stroke="#d4862c" stroke-width="3.2"/>
<path d="M264.0,364.6 L252.1,362.6" stroke="#5a4232" stroke-width="3.2"/>
<path d="M323.8,365.2 L324.2,370.8" stroke="#d4862c" stroke-width="3.2"/>
<path d="M324.2,370.8 L324.6,376.4" stroke="#5a4232" stroke-width="3.2"/>
<path d="M323.8,365.2 L336.0,362.4" stroke="#d4862c" stroke-width="3.2"/>
<path d="M336.0,362.4 L348.1,359.6" stroke="#5a4232" stroke-width="3.2"/>
<path d="M323.8,365.2 L312.0,363.1" stroke="#d4862c" stroke-width="3.2"/>
<path d="M312.0,363.1 L300.1,361.1" stroke="#5a4232" stroke-width="3.2"/>
<path d="M371.8,363.7 L372.2,369.3" stroke="#d4862c" stroke-width="3.2"/>
<path d="M372.2,369.3 L372.6,374.9" stroke="#5a4232" stroke-width="3.2"/>
<path d="M371.8,363.7 L360.0,361.6" stroke="#d4862c" stroke-width="3.2"/>
<path d="M360.0,361.6 L348.1,359.6" stroke="#5a4232" stroke-width="3.2"/>
<path d="M300.3,382.0 L312.5,379.2" stroke="#d4862c" stroke-width="3.2"/>
<path d="M312.5,379.2 L324.6,376.4" stroke="#5a4232" stroke-width="3.2"/>
<path d="M300.3,382.0 L288.5,379.9" stroke="#d4862c" stroke-width="3.2"/>
<path d="M288.5,379.9 L276.6,377.9" stroke="#5a4232" stroke-width="3.2"/>
<path d="M348.3,380.5 L360.5,377.7" stroke="#d4862c" stroke-width="3.2"/>
<path d="M360.5,377.7 L372.6,374.9" stroke="#5a4232" stroke-width="3.2"/>
<path d="M348.3,380.5 L336.5,378.4" stroke="#d4862c" stroke-width="3.2"/>
<path d="M336.5,378.4 L324.6,376.4" stroke="#5a4232" stroke-width="3.2"/>
<path d="M275.8,366.7 L300.1,361.1" stroke="#e0242c" stroke-width="3.8"/>
</g>
<circle cx="323.6" cy="344.3" r="5.6" fill="url(#gB)"/>
<circle cx="275.6" cy="345.8" r="5.6" fill="url(#gB)"/>
<circle cx="347.3" cy="348.4" r="5.6" fill="url(#gO)"/>
<circle cx="299.3" cy="349.9" r="5.6" fill="url(#gO)"/>
<circle cx="251.3" cy="351.4" r="5.6" fill="url(#gO)"/>
<circle cx="348.1" cy="359.6" r="5.6" fill="url(#gB)"/>
<circle cx="300.1" cy="361.1" r="5.6" fill="url(#gB)"/>
<circle cx="252.1" cy="362.6" r="5.6" fill="url(#gB)"/>
<circle cx="371.8" cy="363.7" r="5.6" fill="url(#gO)"/>
<circle cx="323.8" cy="365.2" r="5.6" fill="url(#gO)"/>
<circle cx="275.8" cy="366.7" r="5.6" fill="url(#gO)"/>
<circle cx="372.6" cy="374.9" r="5.6" fill="url(#gB)"/>
<circle cx="324.6" cy="376.4" r="5.6" fill="url(#gB)"/>
<circle cx="276.6" cy="377.9" r="5.6" fill="url(#gB)"/>
<circle cx="348.3" cy="380.5" r="5.6" fill="url(#gO)"/>
<circle cx="300.3" cy="382.0" r="5.6" fill="url(#gO)"/>
<path d="M495.0,156.5 L508.3,156.5" stroke="#d4862c" stroke-width="3.0"/>
<path d="M508.3,156.5 L521.6,156.5" stroke="#5a4232" stroke-width="3.0"/>
<circle cx="495.0" cy="156.5" r="5.6" fill="url(#gO)"/>
<circle cx="521.6" cy="156.5" r="5.6" fill="url(#gB)"/>
<path d="M467.3,225.5 L481.1,225.5" stroke="#d4862c" stroke-width="3.0"/>
<path d="M481.1,225.5 L495.0,225.5" stroke="#5a4232" stroke-width="3.0"/>
<circle cx="467.3" cy="225.5" r="5.6" fill="url(#gO)"/>
<circle cx="495.0" cy="225.5" r="5.6" fill="url(#gB)"/>
<path d="M440.7,294.0 L454.0,294.0" stroke="#d4862c" stroke-width="3.0"/>
<path d="M454.0,294.0 L467.3,294.0" stroke="#5a4232" stroke-width="3.0"/>
<circle cx="440.7" cy="294.0" r="5.6" fill="url(#gO)"/>
<circle cx="467.3" cy="294.0" r="5.6" fill="url(#gB)"/>
<path d="M414.0,363.7 L427.9,363.7" stroke="#d4862c" stroke-width="3.0"/>
<path d="M427.9,363.7 L441.7,363.7" stroke="#5a4232" stroke-width="3.0"/>
<circle cx="414.0" cy="363.7" r="5.6" fill="url(#gO)"/>
<circle cx="441.7" cy="363.7" r="5.6" fill="url(#gB)"/>
<path d="M597.9,173.1 L600.8,285.3" stroke="#6f7073" stroke-width="3.6" stroke-dasharray="9 4.5" fill="none"/>
<path d="M577.3,302.1 L578.3,359.1" stroke="#6f7073" stroke-width="3.6" stroke-dasharray="9 4.5" fill="none"/>
<path d="M765.0,156.0 L762.0,296.0" stroke="#6f7073" stroke-width="3.6" stroke-dasharray="9 4.5" fill="none"/>
<path d="M734.3,300.0 L733.2,366.0" stroke="#6f7073" stroke-width="3.6" stroke-dasharray="9 4.5" fill="none"/>
<g stroke-linecap="round">
<path d="M548.9,142.5 L549.3,148.1" stroke="#d4862c" stroke-width="3.2"/>
<path d="M549.3,148.1 L549.7,153.7" stroke="#5a4232" stroke-width="3.2"/>
<path d="M548.9,142.5 L561.0,139.7" stroke="#d4862c" stroke-width="3.2"/>
<path d="M561.0,139.7 L573.2,136.9" stroke="#5a4232" stroke-width="3.2"/>
<path d="M596.9,141.0 L597.3,146.6" stroke="#d4862c" stroke-width="3.2"/>
<path d="M597.3,146.6 L597.7,152.2" stroke="#5a4232" stroke-width="3.2"/>
<path d="M596.9,141.0 L609.0,138.2" stroke="#d4862c" stroke-width="3.2"/>
<path d="M609.0,138.2 L621.2,135.4" stroke="#5a4232" stroke-width="3.2"/>
<path d="M596.9,141.0 L585.0,138.9" stroke="#d4862c" stroke-width="3.2"/>
<path d="M585.0,138.9 L573.2,136.9" stroke="#5a4232" stroke-width="3.2"/>
<path d="M644.9,139.5 L645.3,145.1" stroke="#d4862c" stroke-width="3.2"/>
<path d="M645.3,145.1 L645.7,150.7" stroke="#5a4232" stroke-width="3.2"/>
<path d="M644.9,139.5 L633.0,137.4" stroke="#d4862c" stroke-width="3.2"/>
<path d="M633.0,137.4 L621.2,135.4" stroke="#5a4232" stroke-width="3.2"/>
<path d="M573.4,157.8 L573.8,163.4" stroke="#d4862c" stroke-width="3.2"/>
<path d="M573.8,163.4 L574.2,169.0" stroke="#5a4232" stroke-width="3.2"/>
<path d="M573.4,157.8 L561.5,155.8" stroke="#d4862c" stroke-width="3.2"/>
<path d="M561.5,155.8 L549.7,153.7" stroke="#5a4232" stroke-width="3.2"/>
<path d="M621.4,156.3 L621.8,161.9" stroke="#d4862c" stroke-width="3.2"/>
<path d="M621.8,161.9 L622.2,167.5" stroke="#5a4232" stroke-width="3.2"/>
<path d="M621.4,156.3 L633.5,153.5" stroke="#d4862c" stroke-width="3.2"/>
<path d="M633.5,153.5 L645.7,150.7" stroke="#5a4232" stroke-width="3.2"/>
<path d="M621.4,156.3 L609.5,154.2" stroke="#d4862c" stroke-width="3.2"/>
<path d="M609.5,154.2 L597.7,152.2" stroke="#5a4232" stroke-width="3.2"/>
<path d="M669.4,154.8 L669.8,160.4" stroke="#d4862c" stroke-width="3.2"/>
<path d="M669.8,160.4 L670.2,166.0" stroke="#5a4232" stroke-width="3.2"/>
<path d="M669.4,154.8 L657.5,152.8" stroke="#d4862c" stroke-width="3.2"/>
<path d="M657.5,152.8 L645.7,150.7" stroke="#5a4232" stroke-width="3.2"/>
<path d="M597.9,173.1 L610.0,170.3" stroke="#d4862c" stroke-width="3.2"/>
<path d="M610.0,170.3 L622.2,167.5" stroke="#5a4232" stroke-width="3.2"/>
<path d="M597.9,173.1 L586.0,171.1" stroke="#d4862c" stroke-width="3.2"/>
<path d="M586.0,171.1 L574.2,169.0" stroke="#5a4232" stroke-width="3.2"/>
<path d="M645.9,171.6 L658.0,168.8" stroke="#d4862c" stroke-width="3.2"/>
<path d="M658.0,168.8 L670.2,166.0" stroke="#5a4232" stroke-width="3.2"/>
<path d="M645.9,171.6 L634.0,169.6" stroke="#d4862c" stroke-width="3.2"/>
<path d="M634.0,169.6 L622.2,167.5" stroke="#5a4232" stroke-width="3.2"/>
<path d="M573.4,157.8 L597.7,152.2" stroke="#e0242c" stroke-width="3.8"/>
</g>
<circle cx="621.2" cy="135.4" r="5.6" fill="url(#gB)"/>
<circle cx="573.2" cy="136.9" r="5.6" fill="url(#gB)"/>
<circle cx="644.9" cy="139.5" r="5.6" fill="url(#gO)"/>
<circle cx="596.9" cy="141.0" r="5.6" fill="url(#gO)"/>
<circle cx="548.9" cy="142.5" r="5.6" fill="url(#gO)"/>
<circle cx="645.7" cy="150.7" r="5.6" fill="url(#gB)"/>
<circle cx="597.7" cy="152.2" r="5.6" fill="url(#gB)"/>
<circle cx="549.7" cy="153.7" r="5.6" fill="url(#gB)"/>
<circle cx="669.4" cy="154.8" r="5.6" fill="url(#gO)"/>
<circle cx="621.4" cy="156.3" r="5.6" fill="url(#gO)"/>
<circle cx="573.4" cy="157.8" r="5.6" fill="url(#gO)"/>
<circle cx="670.2" cy="166.0" r="5.6" fill="url(#gB)"/>
<circle cx="622.2" cy="167.5" r="5.6" fill="url(#gB)"/>
<circle cx="574.2" cy="169.0" r="5.6" fill="url(#gB)"/>
<circle cx="645.9" cy="171.6" r="5.6" fill="url(#gO)"/>
<circle cx="597.9" cy="173.1" r="5.6" fill="url(#gO)"/>
<g stroke-linecap="round">
<path d="M574.5,202.9 L574.9,208.5" stroke="#d4862c" stroke-width="3.2"/>
<path d="M574.9,208.5 L575.3,214.1" stroke="#5a4232" stroke-width="3.2"/>
<path d="M574.5,202.9 L586.6,200.1" stroke="#d4862c" stroke-width="3.2"/>
<path d="M586.6,200.1 L598.8,197.3" stroke="#5a4232" stroke-width="3.2"/>
<path d="M622.5,201.4 L622.9,207.0" stroke="#d4862c" stroke-width="3.2"/>
<path d="M622.9,207.0 L623.3,212.6" stroke="#5a4232" stroke-width="3.2"/>
<path d="M622.5,201.4 L634.6,198.6" stroke="#d4862c" stroke-width="3.2"/>
<path d="M634.6,198.6 L646.8,195.8" stroke="#5a4232" stroke-width="3.2"/>
<path d="M622.5,201.4 L610.6,199.4" stroke="#d4862c" stroke-width="3.2"/>
<path d="M610.6,199.4 L598.8,197.3" stroke="#5a4232" stroke-width="3.2"/>
<path d="M670.5,199.9 L670.9,205.5" stroke="#d4862c" stroke-width="3.2"/>
<path d="M670.9,205.5 L671.3,211.1" stroke="#5a4232" stroke-width="3.2"/>
<path d="M670.5,199.9 L658.6,197.9" stroke="#d4862c" stroke-width="3.2"/>
<path d="M658.6,197.9 L646.8,195.8" stroke="#5a4232" stroke-width="3.2"/>
<path d="M599.0,218.2 L599.4,223.8" stroke="#d4862c" stroke-width="3.2"/>
<path d="M599.4,223.8 L599.8,229.4" stroke="#5a4232" stroke-width="3.2"/>
<path d="M599.0,218.2 L587.1,216.2" stroke="#d4862c" stroke-width="3.2"/>
<path d="M587.1,216.2 L575.3,214.1" stroke="#5a4232" stroke-width="3.2"/>
<path d="M647.0,216.7 L647.4,222.3" stroke="#d4862c" stroke-width="3.2"/>
<path d="M647.4,222.3 L647.8,227.9" stroke="#5a4232" stroke-width="3.2"/>
<path d="M647.0,216.7 L659.1,213.9" stroke="#d4862c" stroke-width="3.2"/>
<path d="M659.1,213.9 L671.3,211.1" stroke="#5a4232" stroke-width="3.2"/>
<path d="M647.0,216.7 L635.1,214.7" stroke="#d4862c" stroke-width="3.2"/>
<path d="M635.1,214.7 L623.3,212.6" stroke="#5a4232" stroke-width="3.2"/>
<path d="M695.0,215.2 L695.4,220.8" stroke="#d4862c" stroke-width="3.2"/>
<path d="M695.4,220.8 L695.8,226.4" stroke="#5a4232" stroke-width="3.2"/>
<path d="M695.0,215.2 L683.1,213.2" stroke="#d4862c" stroke-width="3.2"/>
<path d="M683.1,213.2 L671.3,211.1" stroke="#5a4232" stroke-width="3.2"/>
<path d="M623.5,233.5 L635.6,230.7" stroke="#d4862c" stroke-width="3.2"/>
<path d="M635.6,230.7 L647.8,227.9" stroke="#5a4232" stroke-width="3.2"/>
<path d="M623.5,233.5 L611.6,231.4" stroke="#d4862c" stroke-width="3.2"/>
<path d="M611.6,231.4 L599.8,229.4" stroke="#5a4232" stroke-width="3.2"/>
<path d="M671.5,232.0 L683.6,229.2" stroke="#d4862c" stroke-width="3.2"/>
<path d="M683.6,229.2 L695.8,226.4" stroke="#5a4232" stroke-width="3.2"/>
<path d="M671.5,232.0 L659.6,229.9" stroke="#d4862c" stroke-width="3.2"/>
<path d="M659.6,229.9 L647.8,227.9" stroke="#5a4232" stroke-width="3.2"/>
<path d="M599.0,218.2 L623.3,212.6" stroke="#e0242c" stroke-width="3.8"/>
</g>
<circle cx="646.8" cy="195.8" r="5.6" fill="url(#gB)"/>
<circle cx="598.8" cy="197.3" r="5.6" fill="url(#gB)"/>
<circle cx="670.5" cy="199.9" r="5.6" fill="url(#gO)"/>
<circle cx="622.5" cy="201.4" r="5.6" fill="url(#gO)"/>
<circle cx="574.5" cy="202.9" r="5.6" fill="url(#gO)"/>
<circle cx="671.3" cy="211.1" r="5.6" fill="url(#gB)"/>
<circle cx="623.3" cy="212.6" r="5.6" fill="url(#gB)"/>
<circle cx="575.3" cy="214.1" r="5.6" fill="url(#gB)"/>
<circle cx="695.0" cy="215.2" r="5.6" fill="url(#gO)"/>
<circle cx="647.0" cy="216.7" r="5.6" fill="url(#gO)"/>
<circle cx="599.0" cy="218.2" r="5.6" fill="url(#gO)"/>
<circle cx="695.8" cy="226.4" r="5.6" fill="url(#gB)"/>
<circle cx="647.8" cy="227.9" r="5.6" fill="url(#gB)"/>
<circle cx="599.8" cy="229.4" r="5.6" fill="url(#gB)"/>
<circle cx="671.5" cy="232.0" r="5.6" fill="url(#gO)"/>
<circle cx="623.5" cy="233.5" r="5.6" fill="url(#gO)"/>
<g stroke-linecap="round">
<path d="M552.0,275.6 L552.4,281.2" stroke="#d4862c" stroke-width="3.2"/>
<path d="M552.4,281.2 L552.8,286.8" stroke="#5a4232" stroke-width="3.2"/>
<path d="M552.0,275.6 L564.1,272.8" stroke="#d4862c" stroke-width="3.2"/>
<path d="M564.1,272.8 L576.3,270.0" stroke="#5a4232" stroke-width="3.2"/>
<path d="M600.0,274.1 L600.4,279.7" stroke="#d4862c" stroke-width="3.2"/>
<path d="M600.4,279.7 L600.8,285.3" stroke="#5a4232" stroke-width="3.2"/>
<path d="M600.0,274.1 L612.1,271.3" stroke="#d4862c" stroke-width="3.2"/>
<path d="M612.1,271.3 L624.3,268.5" stroke="#5a4232" stroke-width="3.2"/>
<path d="M600.0,274.1 L588.1,272.1" stroke="#d4862c" stroke-width="3.2"/>
<path d="M588.1,272.1 L576.3,270.0" stroke="#5a4232" stroke-width="3.2"/>
<path d="M648.0,272.6 L648.4,278.2" stroke="#d4862c" stroke-width="3.2"/>
<path d="M648.4,278.2 L648.8,283.8" stroke="#5a4232" stroke-width="3.2"/>
<path d="M648.0,272.6 L636.1,270.6" stroke="#d4862c" stroke-width="3.2"/>
<path d="M636.1,270.6 L624.3,268.5" stroke="#5a4232" stroke-width="3.2"/>
<path d="M576.5,290.9 L576.9,296.5" stroke="#d4862c" stroke-width="3.2"/>
<path d="M576.9,296.5 L577.3,302.1" stroke="#5a4232" stroke-width="3.2"/>
<path d="M576.5,290.9 L564.6,288.9" stroke="#d4862c" stroke-width="3.2"/>
<path d="M564.6,288.9 L552.8,286.8" stroke="#5a4232" stroke-width="3.2"/>
<path d="M624.5,289.4 L624.9,295.0" stroke="#d4862c" stroke-width="3.2"/>
<path d="M624.9,295.0 L625.3,300.6" stroke="#5a4232" stroke-width="3.2"/>
<path d="M624.5,289.4 L636.6,286.6" stroke="#d4862c" stroke-width="3.2"/>
<path d="M636.6,286.6 L648.8,283.8" stroke="#5a4232" stroke-width="3.2"/>
<path d="M624.5,289.4 L612.6,287.4" stroke="#d4862c" stroke-width="3.2"/>
<path d="M612.6,287.4 L600.8,285.3" stroke="#5a4232" stroke-width="3.2"/>
<path d="M672.5,287.9 L672.9,293.5" stroke="#d4862c" stroke-width="3.2"/>
<path d="M672.9,293.5 L673.3,299.1" stroke="#5a4232" stroke-width="3.2"/>
<path d="M672.5,287.9 L660.6,285.9" stroke="#d4862c" stroke-width="3.2"/>
<path d="M660.6,285.9 L648.8,283.8" stroke="#5a4232" stroke-width="3.2"/>
<path d="M601.0,306.2 L613.1,303.4" stroke="#d4862c" stroke-width="3.2"/>
<path d="M613.1,303.4 L625.3,300.6" stroke="#5a4232" stroke-width="3.2"/>
<path d="M601.0,306.2 L589.1,304.2" stroke="#d4862c" stroke-width="3.2"/>
<path d="M589.1,304.2 L577.3,302.1" stroke="#5a4232" stroke-width="3.2"/>
<path d="M649.0,304.7 L661.1,301.9" stroke="#d4862c" stroke-width="3.2"/>
<path d="M661.1,301.9 L673.3,299.1" stroke="#5a4232" stroke-width="3.2"/>
<path d="M649.0,304.7 L637.1,302.7" stroke="#d4862c" stroke-width="3.2"/>
<path d="M637.1,302.7 L625.3,300.6" stroke="#5a4232" stroke-width="3.2"/>
<path d="M576.5,290.9 L600.8,285.3" stroke="#e0242c" stroke-width="3.8"/>
</g>
<circle cx="624.3" cy="268.5" r="5.6" fill="url(#gB)"/>
<circle cx="576.3" cy="270.0" r="5.6" fill="url(#gB)"/>
<circle cx="648.0" cy="272.6" r="5.6" fill="url(#gO)"/>
<circle cx="600.0" cy="274.1" r="5.6" fill="url(#gO)"/>
<circle cx="552.0" cy="275.6" r="5.6" fill="url(#gO)"/>
<circle cx="648.8" cy="283.8" r="5.6" fill="url(#gB)"/>
<circle cx="600.8" cy="285.3" r="5.6" fill="url(#gB)"/>
<circle cx="552.8" cy="286.8" r="5.6" fill="url(#gB)"/>
<circle cx="672.5" cy="287.9" r="5.6" fill="url(#gO)"/>
<circle cx="624.5" cy="289.4" r="5.6" fill="url(#gO)"/>
<circle cx="576.5" cy="290.9" r="5.6" fill="url(#gO)"/>
<circle cx="673.3" cy="299.1" r="5.6" fill="url(#gB)"/>
<circle cx="625.3" cy="300.6" r="5.6" fill="url(#gB)"/>
<circle cx="577.3" cy="302.1" r="5.6" fill="url(#gB)"/>
<circle cx="649.0" cy="304.7" r="5.6" fill="url(#gO)"/>
<circle cx="601.0" cy="306.2" r="5.6" fill="url(#gO)"/>
<g stroke-linecap="round">
<path d="M529.5,349.4 L529.9,355.0" stroke="#d4862c" stroke-width="3.2"/>
<path d="M529.9,355.0 L530.3,360.6" stroke="#5a4232" stroke-width="3.2"/>
<path d="M529.5,349.4 L541.6,346.6" stroke="#d4862c" stroke-width="3.2"/>
<path d="M541.6,346.6 L553.8,343.8" stroke="#5a4232" stroke-width="3.2"/>
<path d="M577.5,347.9 L577.9,353.5" stroke="#d4862c" stroke-width="3.2"/>
<path d="M577.9,353.5 L578.3,359.1" stroke="#5a4232" stroke-width="3.2"/>
<path d="M577.5,347.9 L589.6,345.1" stroke="#d4862c" stroke-width="3.2"/>
<path d="M589.6,345.1 L601.8,342.3" stroke="#5a4232" stroke-width="3.2"/>
<path d="M577.5,347.9 L565.6,345.8" stroke="#d4862c" stroke-width="3.2"/>
<path d="M565.6,345.8 L553.8,343.8" stroke="#5a4232" stroke-width="3.2"/>
<path d="M625.5,346.4 L625.9,352.0" stroke="#d4862c" stroke-width="3.2"/>
<path d="M625.9,352.0 L626.3,357.6" stroke="#5a4232" stroke-width="3.2"/>
<path d="M625.5,346.4 L613.6,344.3" stroke="#d4862c" stroke-width="3.2"/>
<path d="M613.6,344.3 L601.8,342.3" stroke="#5a4232" stroke-width="3.2"/>
<path d="M554.0,364.7 L554.4,370.3" stroke="#d4862c" stroke-width="3.2"/>
<path d="M554.4,370.3 L554.8,375.9" stroke="#5a4232" stroke-width="3.2"/>
<path d="M554.0,364.7 L542.1,362.6" stroke="#d4862c" stroke-width="3.2"/>
<path d="M542.1,362.6 L530.3,360.6" stroke="#5a4232" stroke-width="3.2"/>
<path d="M602.0,363.2 L602.4,368.8" stroke="#d4862c" stroke-width="3.2"/>
<path d="M602.4,368.8 L602.8,374.4" stroke="#5a4232" stroke-width="3.2"/>
<path d="M602.0,363.2 L614.1,360.4" stroke="#d4862c" stroke-width="3.2"/>
<path d="M614.1,360.4 L626.3,357.6" stroke="#5a4232" stroke-width="3.2"/>
<path d="M602.0,363.2 L590.1,361.1" stroke="#d4862c" stroke-width="3.2"/>
<path d="M590.1,361.1 L578.3,359.1" stroke="#5a4232" stroke-width="3.2"/>
<path d="M650.0,361.7 L650.4,367.3" stroke="#d4862c" stroke-width="3.2"/>
<path d="M650.4,367.3 L650.8,372.9" stroke="#5a4232" stroke-width="3.2"/>
<path d="M650.0,361.7 L638.1,359.6" stroke="#d4862c" stroke-width="3.2"/>
<path d="M638.1,359.6 L626.3,357.6" stroke="#5a4232" stroke-width="3.2"/>
<path d="M578.5,380.0 L590.6,377.2" stroke="#d4862c" stroke-width="3.2"/>
<path d="M590.6,377.2 L602.8,374.4" stroke="#5a4232" stroke-width="3.2"/>
<path d="M578.5,380.0 L566.6,377.9" stroke="#d4862c" stroke-width="3.2"/>
<path d="M566.6,377.9 L554.8,375.9" stroke="#5a4232" stroke-width="3.2"/>
<path d="M626.5,378.5 L638.6,375.7" stroke="#d4862c" stroke-width="3.2"/>
<path d="M638.6,375.7 L650.8,372.9" stroke="#5a4232" stroke-width="3.2"/>
<path d="M626.5,378.5 L614.6,376.4" stroke="#d4862c" stroke-width="3.2"/>
<path d="M614.6,376.4 L602.8,374.4" stroke="#5a4232" stroke-width="3.2"/>
<path d="M554.0,364.7 L578.3,359.1" stroke="#e0242c" stroke-width="3.8"/>
</g>
<circle cx="601.8" cy="342.3" r="5.6" fill="url(#gB)"/>
<circle cx="553.8" cy="343.8" r="5.6" fill="url(#gB)"/>
<circle cx="625.5" cy="346.4" r="5.6" fill="url(#gO)"/>
<circle cx="577.5" cy="347.9" r="5.6" fill="url(#gO)"/>
<circle cx="529.5" cy="349.4" r="5.6" fill="url(#gO)"/>
<circle cx="626.3" cy="357.6" r="5.6" fill="url(#gB)"/>
<circle cx="578.3" cy="359.1" r="5.6" fill="url(#gB)"/>
<circle cx="530.3" cy="360.6" r="5.6" fill="url(#gB)"/>
<circle cx="650.0" cy="361.7" r="5.6" fill="url(#gO)"/>
<circle cx="602.0" cy="363.2" r="5.6" fill="url(#gO)"/>
<circle cx="554.0" cy="364.7" r="5.6" fill="url(#gO)"/>
<circle cx="650.8" cy="372.9" r="5.6" fill="url(#gB)"/>
<circle cx="602.8" cy="374.4" r="5.6" fill="url(#gB)"/>
<circle cx="554.8" cy="375.9" r="5.6" fill="url(#gB)"/>
<circle cx="626.5" cy="378.5" r="5.6" fill="url(#gO)"/>
<circle cx="578.5" cy="380.0" r="5.6" fill="url(#gO)"/>
<path d="M737.3,153.8 L751.1,153.8" stroke="#d4862c" stroke-width="3.0"/>
<path d="M751.1,153.8 L765.0,153.8" stroke="#5a4232" stroke-width="3.0"/>
<circle cx="737.3" cy="153.8" r="5.6" fill="url(#gO)"/>
<circle cx="765.0" cy="153.8" r="5.6" fill="url(#gB)"/>
<path d="M764.0,226.5 L777.8,226.5" stroke="#d4862c" stroke-width="3.0"/>
<path d="M777.8,226.5 L791.6,226.5" stroke="#5a4232" stroke-width="3.0"/>
<circle cx="764.0" cy="226.5" r="5.6" fill="url(#gO)"/>
<circle cx="791.6" cy="226.5" r="5.6" fill="url(#gB)"/>
<path d="M734.3,298.2 L748.1,298.2" stroke="#d4862c" stroke-width="3.0"/>
<path d="M748.1,298.2 L761.9,298.2" stroke="#5a4232" stroke-width="3.0"/>
<circle cx="734.3" cy="298.2" r="5.6" fill="url(#gO)"/>
<circle cx="761.9" cy="298.2" r="5.6" fill="url(#gB)"/>
<path d="M705.6,368.8 L719.4,368.8" stroke="#d4862c" stroke-width="3.0"/>
<path d="M719.4,368.8 L733.2,368.8" stroke="#5a4232" stroke-width="3.0"/>
<circle cx="705.6" cy="368.8" r="5.6" fill="url(#gO)"/>
<circle cx="733.2" cy="368.8" r="5.6" fill="url(#gB)"/>
<defs>
<linearGradient id="beamOuter" x1="0" y1="0" x2="1" y2="0"><stop offset="0" stop-color="#fde9e8" stop-opacity="0"/><stop offset="0.25" stop-color="#fbe0de" stop-opacity="0.9"/><stop offset="0.75" stop-color="#fbe0de" stop-opacity="0.9"/><stop offset="1" stop-color="#fde9e8" stop-opacity="0"/></linearGradient>
<linearGradient id="beamInner" x1="0" y1="0" x2="1" y2="0"><stop offset="0" stop-color="#f8cdca" stop-opacity="0.3"/><stop offset="0.2" stop-color="#f7c6c2"/><stop offset="0.8" stop-color="#f7c6c2"/><stop offset="1" stop-color="#f8cdca" stop-opacity="0.3"/></linearGradient>
<linearGradient id="greenBeam" x1="0" y1="0" x2="1" y2="0"><stop offset="0" stop-color="#98d46a"/><stop offset="0.45" stop-color="#c8f09c"/><stop offset="0.6" stop-color="#bfe98e"/><stop offset="1" stop-color="#8ccc5e"/></linearGradient>
<radialGradient id="spotG" cx="0.5" cy="0.5" r="0.5"><stop offset="0" stop-color="#e69a94" stop-opacity="0.95"/><stop offset="0.8" stop-color="#e8a09a" stop-opacity="0.85"/><stop offset="1" stop-color="#eaa8a2" stop-opacity="0.2"/></radialGradient>
<radialGradient id="glowG" cx="0.5" cy="0.5" r="0.5"><stop offset="0" stop-color="#ffffff"/><stop offset="0.6" stop-color="#fff4f0" stop-opacity="0.8"/><stop offset="1" stop-color="#ffffff" stop-opacity="0"/></radialGradient>
<radialGradient id="bumpG" cx="0.5" cy="0.45" r="0.5"><stop offset="0" stop-color="#eceefc"/><stop offset="0.55" stop-color="#cdd0f2" stop-opacity="0.95"/><stop offset="1" stop-color="#a6a9d8" stop-opacity="0"/></radialGradient>
<radialGradient id="gA" cx="0.4" cy="0.35" r="0.65"><stop offset="0" stop-color="#8fe08f"/><stop offset="0.5" stop-color="#3cb44a"/><stop offset="1" stop-color="#1f8a2c"/></radialGradient>
<radialGradient id="gBt" cx="0.4" cy="0.35" r="0.65"><stop offset="0" stop-color="#fbe9b8"/><stop offset="0.55" stop-color="#e8c270"/><stop offset="1" stop-color="#c89a42"/></radialGradient>
<filter id="blurP" x="-50%" y="-50%" width="200%" height="200%"><feGaussianBlur stdDeviation="9"/></filter>
<pattern id="mesh" width="4.2" height="3.6" patternUnits="userSpaceOnUse" patternTransform="rotate(-12)"><path d="M0,1.8 L1.05,0 L3.15,0 L4.2,1.8 L3.15,3.6 L1.05,3.6 Z" fill="none" stroke="#4a4c7c" stroke-width="0.75"/></pattern>
<clipPath id="grClip"><path d="M849,129 L1093,86 L1268,198 L1286,205 L940,287 L932,270 Z"/></clipPath>
</defs>
<path d="M937,2 L1172,2 L1112,178 L1022,178 Z" fill="url(#beamOuter)"/>
<path d="M1006,2 L1127,2 L1100,170 L1030,170 Z" fill="url(#beamInner)"/>
<path d="M835,129 L1093,84 L1292,206 L1288,233 L926,375 L918,352 Z" fill="#b6b4e6"/>
<path d="M918.0,302.9 L936.4,298.5 L954.8,294.0 L973.2,289.6 L991.6,285.1 L1010.0,280.7 L1028.4,276.2 L1046.8,271.8 L1065.2,267.3 L1083.6,262.9 L1102.0,258.4 L1120.4,254.0 L1138.8,249.6 L1157.2,245.1 L1175.6,240.7 L1194.0,236.2 L1212.4,231.8 L1230.8,227.3 L1249.2,222.9 L1267.6,218.4 L1286.0,214.0 L1286.0,224.0 L1267.6,229.6 L1249.2,235.2 L1230.8,240.7 L1212.4,246.3 L1194.0,251.9 L1175.6,257.5 L1157.2,263.1 L1138.8,268.6 L1120.4,274.2 L1102.0,279.8 L1083.6,285.4 L1065.2,291.0 L1046.8,296.5 L1028.4,302.1 L1010.0,307.7 L991.6,313.3 L973.2,318.9 L954.8,324.4 L936.4,330.0 L918.0,335.6Z" stroke="none" stroke-width="1" fill="#c4d4f2" />
<path d="M918.0,335.6 L936.4,330.0 L954.8,324.4 L973.2,318.9 L991.6,313.3 L1010.0,307.7 L1028.4,302.1 L1046.8,296.5 L1065.2,291.0 L1083.6,285.4 L1102.0,279.8 L1120.4,274.2 L1138.8,268.6 L1157.2,263.1 L1175.6,257.5 L1194.0,251.9 L1212.4,246.3 L1230.8,240.7 L1249.2,235.2 L1267.6,229.6 L1286.0,224.0 L1286.0,233.0 L1267.6,240.3 L1249.2,247.5 L1230.8,254.8 L1212.4,262.0 L1194.0,269.3 L1175.6,276.5 L1157.2,283.8 L1138.8,291.1 L1120.4,298.3 L1102.0,305.6 L1083.6,312.8 L1065.2,320.1 L1046.8,327.4 L1028.4,334.6 L1010.0,341.9 L991.6,349.1 L973.2,356.4 L954.8,363.6 L936.4,370.9 L918.0,378.2Z" stroke="none" stroke-width="1" fill="#d9ece8" />
<g clip-path="url(#grClip)">
<rect x="840" y="80" width="460" height="220" fill="#9093c4"/>
<ellipse cx="870.0" cy="98.5" rx="11.9" ry="8.8" fill="url(#bumpG)"/>
<ellipse cx="916.6" cy="90.8" rx="11.9" ry="8.8" fill="url(#bumpG)"/>
<ellipse cx="963.3" cy="83.0" rx="11.9" ry="8.8" fill="url(#bumpG)"/>
<ellipse cx="830.2" cy="124.3" rx="12.7" ry="9.4" fill="url(#bumpG)"/>
<ellipse cx="880.0" cy="116.0" rx="12.7" ry="9.4" fill="url(#bumpG)"/>
<ellipse cx="929.8" cy="107.7" rx="12.7" ry="9.4" fill="url(#bumpG)"/>
<ellipse cx="979.6" cy="99.5" rx="12.7" ry="9.4" fill="url(#bumpG)"/>
<ellipse cx="1029.5" cy="91.2" rx="12.7" ry="9.4" fill="url(#bumpG)"/>
<ellipse cx="1079.3" cy="82.9" rx="12.7" ry="9.4" fill="url(#bumpG)"/>
<ellipse cx="839.0" cy="143.8" rx="13.5" ry="10.0" fill="url(#bumpG)"/>
<ellipse cx="892.0" cy="135.0" rx="13.5" ry="10.0" fill="url(#bumpG)"/>
<ellipse cx="945.0" cy="126.2" rx="13.5" ry="10.0" fill="url(#bumpG)"/>
<ellipse cx="998.0" cy="117.4" rx="13.5" ry="10.0" fill="url(#bumpG)"/>
<ellipse cx="1051.0" cy="108.6" rx="13.5" ry="10.0" fill="url(#bumpG)"/>
<ellipse cx="1104.0" cy="99.8" rx="13.5" ry="10.0" fill="url(#bumpG)"/>
<ellipse cx="1157.0" cy="91.0" rx="13.5" ry="10.0" fill="url(#bumpG)"/>
<ellipse cx="1210.0" cy="82.2" rx="13.5" ry="10.0" fill="url(#bumpG)"/>
<ellipse cx="849.8" cy="164.8" rx="14.3" ry="10.6" fill="url(#bumpG)"/>
<ellipse cx="906.0" cy="155.5" rx="14.3" ry="10.6" fill="url(#bumpG)"/>
<ellipse cx="962.2" cy="146.2" rx="14.3" ry="10.6" fill="url(#bumpG)"/>
<ellipse cx="1018.4" cy="136.8" rx="14.3" ry="10.6" fill="url(#bumpG)"/>
<ellipse cx="1074.5" cy="127.5" rx="14.3" ry="10.6" fill="url(#bumpG)"/>
<ellipse cx="1130.7" cy="118.2" rx="14.3" ry="10.6" fill="url(#bumpG)"/>
<ellipse cx="1186.9" cy="108.9" rx="14.3" ry="10.6" fill="url(#bumpG)"/>
<ellipse cx="1243.1" cy="99.5" rx="14.3" ry="10.6" fill="url(#bumpG)"/>
<ellipse cx="1299.3" cy="90.2" rx="14.3" ry="10.6" fill="url(#bumpG)"/>
<ellipse cx="862.8" cy="187.5" rx="15.1" ry="11.2" fill="url(#bumpG)"/>
<ellipse cx="922.2" cy="177.6" rx="15.1" ry="11.2" fill="url(#bumpG)"/>
<ellipse cx="981.6" cy="167.7" rx="15.1" ry="11.2" fill="url(#bumpG)"/>
<ellipse cx="1040.9" cy="157.9" rx="15.1" ry="11.2" fill="url(#bumpG)"/>
<ellipse cx="1100.3" cy="148.0" rx="15.1" ry="11.2" fill="url(#bumpG)"/>
<ellipse cx="1159.6" cy="138.2" rx="15.1" ry="11.2" fill="url(#bumpG)"/>
<ellipse cx="1219.0" cy="128.3" rx="15.1" ry="11.2" fill="url(#bumpG)"/>
<ellipse cx="1278.4" cy="118.5" rx="15.1" ry="11.2" fill="url(#bumpG)"/>
<ellipse cx="878.1" cy="211.7" rx="15.9" ry="11.8" fill="url(#bumpG)"/>
<ellipse cx="940.6" cy="201.3" rx="15.9" ry="11.8" fill="url(#bumpG)"/>
<ellipse cx="1003.1" cy="190.9" rx="15.9" ry="11.8" fill="url(#bumpG)"/>
<ellipse cx="1065.7" cy="180.5" rx="15.9" ry="11.8" fill="url(#bumpG)"/>
<ellipse cx="1128.2" cy="170.1" rx="15.9" ry="11.8" fill="url(#bumpG)"/>
<ellipse cx="1190.8" cy="159.8" rx="15.9" ry="11.8" fill="url(#bumpG)"/>
<ellipse cx="1253.3" cy="149.4" rx="15.9" ry="11.8" fill="url(#bumpG)"/>
<ellipse cx="895.5" cy="237.5" rx="16.7" ry="12.4" fill="url(#bumpG)"/>
<ellipse cx="961.2" cy="226.6" rx="16.7" ry="12.4" fill="url(#bumpG)"/>
<ellipse cx="1026.9" cy="215.7" rx="16.7" ry="12.4" fill="url(#bumpG)"/>
<ellipse cx="1092.6" cy="204.8" rx="16.7" ry="12.4" fill="url(#bumpG)"/>
<ellipse cx="1158.4" cy="193.9" rx="16.7" ry="12.4" fill="url(#bumpG)"/>
<ellipse cx="1224.1" cy="183.0" rx="16.7" ry="12.4" fill="url(#bumpG)"/>
<ellipse cx="1289.8" cy="172.0" rx="16.7" ry="12.4" fill="url(#bumpG)"/>
<ellipse cx="846.2" cy="276.4" rx="17.6" ry="13.0" fill="url(#bumpG)"/>
<ellipse cx="915.1" cy="264.9" rx="17.6" ry="13.0" fill="url(#bumpG)"/>
<ellipse cx="984.0" cy="253.5" rx="17.6" ry="13.0" fill="url(#bumpG)"/>
<ellipse cx="1052.9" cy="242.1" rx="17.6" ry="13.0" fill="url(#bumpG)"/>
<ellipse cx="1121.8" cy="230.6" rx="17.6" ry="13.0" fill="url(#bumpG)"/>
<ellipse cx="1190.7" cy="219.2" rx="17.6" ry="13.0" fill="url(#bumpG)"/>
<ellipse cx="1259.6" cy="207.7" rx="17.6" ry="13.0" fill="url(#bumpG)"/>
<ellipse cx="936.9" cy="294.0" rx="18.4" ry="13.6" fill="url(#bumpG)"/>
<ellipse cx="1009.0" cy="282.0" rx="18.4" ry="13.6" fill="url(#bumpG)"/>
<ellipse cx="1081.1" cy="270.0" rx="18.4" ry="13.6" fill="url(#bumpG)"/>
<ellipse cx="1153.2" cy="258.1" rx="18.4" ry="13.6" fill="url(#bumpG)"/>
<ellipse cx="1225.2" cy="246.1" rx="18.4" ry="13.6" fill="url(#bumpG)"/>
<ellipse cx="1297.3" cy="234.1" rx="18.4" ry="13.6" fill="url(#bumpG)"/>
<ellipse cx="1111.5" cy="299.6" rx="19.2" ry="14.2" fill="url(#bumpG)"/>
<ellipse cx="1186.7" cy="287.1" rx="19.2" ry="14.2" fill="url(#bumpG)"/>
<ellipse cx="1262.0" cy="274.6" rx="19.2" ry="14.2" fill="url(#bumpG)"/>
<rect x="840" y="80" width="460" height="220" fill="url(#mesh)" opacity="0.6"/>
</g>
<ellipse cx="1066" cy="140" rx="62" ry="58" fill="#f4aaa6" opacity="0.45" filter="url(#blurP)"/>
<ellipse cx="1066" cy="175" rx="42" ry="16" fill="url(#spotG)"/>
<path d="M1053,2 L1074.5,2 L1072,162 L1057,162 Z" fill="url(#greenBeam)" opacity="0.95"/>
<ellipse cx="1065" cy="166" rx="13" ry="6" fill="url(#glowG)"/>
<path d="M1112,12 C1114,16 1110,20 1113,24 C1116,28 1104,30 1106,34 C1108,38 1118,36 1117,40 C1116,44 1106,44 1107,48 L1108,54" stroke="#e04848" stroke-width="1.1" fill="none"/>
<path d="M1104,50 L1108,55 L1111,50" stroke="#e04848" stroke-width="1.1" fill="none"/>
<path d="M1066,104 L1066,131 M1063,108 L1066,103 L1069,108 M1060,113 L1072,113 M1058,117 L1074,117 M1058,121 L1074,121 M1060,125 L1072,125" stroke="#2f7a36" stroke-width="1.2" fill="none"/>
<text x="1131.5" y="36.0" font-size="13" fill="#e04848" font-style="italic" font-family="'Liberation Serif', serif">ω</text>
<text x="1140.5" y="39.5" font-size="7.5" fill="#e04848">0</text>
<text x="1078.0" y="126.0" font-size="13.5" fill="#3a7a3a" font-weight="bold" font-style="italic" font-family="'Liberation Serif', serif">2ω</text>
<text x="1095.5" y="129.5" font-size="7.5" fill="#3a7a3a">0</text>
<text x="1196.0" y="219.0" font-size="10.5" fill="#3a3c66" transform="rotate(-22 1196.0 219.0)">Al₂O₃</text>
<text x="1196.0" y="239.5" font-size="10.5" fill="#3a3c66" transform="rotate(-14 1196.0 239.5)">SiO₂</text>
<text x="1196.0" y="257.0" font-size="10.5" fill="#3a3c66" transform="rotate(-14 1196.0 257.0)">Si</text>
<path d="M1082.6,170.5 L1216.9,50.9" stroke="#333" stroke-width="0.9" fill="none"/>
<path d="M1082.6,170.5 L1238,213" stroke="#333" stroke-width="1" stroke-dasharray="3 2" fill="none"/>
<path d="M999,213.5 L931,193.5" stroke="#333" stroke-width="0.9" fill="none"/>
<path d="M999,213.5 L950,296 L940,330" stroke="#333" stroke-width="0.9" fill="none" stroke-dasharray="4 1.5"/>
<ellipse cx="883" cy="267" rx="72" ry="86" fill="#fff" stroke="#1a1a1a" stroke-width="1.5"/>
<path d="M884.0,229.0 L874.0,243.7 L854.0,243.7 L844.0,229.0 L854.0,214.3 L874.0,214.3Z" stroke="#d8c070" stroke-width="0.7" fill="none" stroke-dasharray="1.5 1.2"/>
<path d="M924.0,229.0 L914.0,243.7 L894.0,243.7 L884.0,229.0 L894.0,214.3 L914.0,214.3Z" stroke="#d8c070" stroke-width="0.7" fill="none" stroke-dasharray="1.5 1.2"/>
<path d="M904.0,263.0 L894.0,277.7 L874.0,277.7 L864.0,263.0 L874.0,248.3 L894.0,248.3Z" stroke="#d8c070" stroke-width="0.7" fill="none" stroke-dasharray="1.5 1.2"/>
<path d="M884.0,298.0 L874.0,312.7 L854.0,312.7 L844.0,298.0 L854.0,283.3 L874.0,283.3Z" stroke="#d8c070" stroke-width="0.7" fill="none" stroke-dasharray="1.5 1.2"/>
<path d="M924.0,298.0 L914.0,312.7 L894.0,312.7 L884.0,298.0 L894.0,283.3 L914.0,283.3Z" stroke="#d8c070" stroke-width="0.7" fill="none" stroke-dasharray="1.5 1.2"/>
<line x1="863.2" y1="206.5" x2="844.5" y2="217.0" stroke="#8a8a8a" stroke-width="1.6" />
<line x1="863.2" y1="206.5" x2="884.3" y2="217.0" stroke="#8a8a8a" stroke-width="1.6" />
<line x1="905.3" y1="206.5" x2="884.3" y2="217.0" stroke="#8a8a8a" stroke-width="1.6" />
<line x1="905.3" y1="206.5" x2="924.0" y2="217.0" stroke="#8a8a8a" stroke-width="1.6" />
<line x1="844.5" y1="217.0" x2="843.3" y2="240.4" stroke="#8a8a8a" stroke-width="1.6" />
<line x1="884.3" y1="217.0" x2="884.3" y2="240.4" stroke="#8a8a8a" stroke-width="1.6" />
<line x1="924.0" y1="217.0" x2="924.0" y2="240.4" stroke="#8a8a8a" stroke-width="1.6" />
<line x1="843.3" y1="240.4" x2="864.4" y2="252.1" stroke="#8a8a8a" stroke-width="1.6" />
<line x1="884.3" y1="240.4" x2="864.4" y2="252.1" stroke="#8a8a8a" stroke-width="1.6" />
<line x1="884.3" y1="240.4" x2="904.1" y2="252.1" stroke="#8a8a8a" stroke-width="1.6" />
<line x1="924.0" y1="240.4" x2="904.1" y2="252.1" stroke="#8a8a8a" stroke-width="1.6" />
<line x1="864.4" y1="252.1" x2="863.2" y2="274.3" stroke="#8a8a8a" stroke-width="1.6" />
<line x1="904.1" y1="252.1" x2="904.1" y2="274.3" stroke="#8a8a8a" stroke-width="1.6" />
<line x1="863.2" y1="274.3" x2="843.3" y2="286.0" stroke="#8a8a8a" stroke-width="1.6" />
<line x1="863.2" y1="274.3" x2="884.3" y2="287.2" stroke="#8a8a8a" stroke-width="1.6" />
<line x1="904.1" y1="274.3" x2="884.3" y2="287.2" stroke="#8a8a8a" stroke-width="1.6" />
<line x1="904.1" y1="274.3" x2="924.0" y2="286.0" stroke="#8a8a8a" stroke-width="1.6" />
<line x1="843.3" y1="286.0" x2="843.3" y2="309.5" stroke="#8a8a8a" stroke-width="1.6" />
<line x1="884.3" y1="287.2" x2="884.3" y2="309.5" stroke="#8a8a8a" stroke-width="1.6" />
<line x1="924.0" y1="286.0" x2="924.0" y2="309.5" stroke="#8a8a8a" stroke-width="1.6" />
<line x1="843.3" y1="309.5" x2="864.4" y2="321.2" stroke="#8a8a8a" stroke-width="1.6" />
<line x1="884.3" y1="309.5" x2="864.4" y2="321.2" stroke="#8a8a8a" stroke-width="1.6" />
<line x1="884.3" y1="309.5" x2="904.1" y2="321.2" stroke="#8a8a8a" stroke-width="1.6" />
<line x1="924.0" y1="309.5" x2="904.1" y2="321.2" stroke="#8a8a8a" stroke-width="1.6" />
<circle cx="844.5" cy="217" r="6.2" fill="url(#gBt)"/>
<circle cx="884.3" cy="217" r="6.2" fill="url(#gBt)"/>
<circle cx="924" cy="217" r="6.2" fill="url(#gBt)"/>
<circle cx="864.4" cy="252.1" r="6.2" fill="url(#gBt)"/>
<circle cx="904.1" cy="252.1" r="6.2" fill="url(#gBt)"/>
<circle cx="843.3" cy="286" r="6.2" fill="url(#gBt)"/>
<circle cx="884.3" cy="287.2" r="6.2" fill="url(#gBt)"/>
<circle cx="924" cy="286" r="6.2" fill="url(#gBt)"/>
<circle cx="864.4" cy="321.2" r="6.2" fill="url(#gBt)"/>
<circle cx="904.1" cy="321.2" r="6.2" fill="url(#gBt)"/>
<circle cx="863.2" cy="206.5" r="6.2" fill="url(#gA)"/>
<circle cx="905.3" cy="206.5" r="6.2" fill="url(#gA)"/>
<circle cx="843.3" cy="240.4" r="6.2" fill="url(#gA)"/>
<circle cx="884.3" cy="240.4" r="6.2" fill="url(#gA)"/>
<circle cx="924" cy="240.4" r="6.2" fill="url(#gA)"/>
<circle cx="863.2" cy="274.3" r="6.2" fill="url(#gA)"/>
<circle cx="904.1" cy="274.3" r="6.2" fill="url(#gA)"/>
<circle cx="843.3" cy="309.5" r="6.2" fill="url(#gA)"/>
<circle cx="884.3" cy="309.5" r="6.2" fill="url(#gA)"/>
<circle cx="924" cy="309.5" r="6.2" fill="url(#gA)"/>
<ellipse cx="1275.3" cy="121.2" rx="77.7" ry="103.6" fill="#fff" stroke="#1a1a1a" stroke-width="1.5"/>
<circle cx="1232.7" cy="58.8" r="6" fill="#f6ead2" opacity="0.8"/>
<circle cx="1273" cy="58" r="6" fill="#f6ead2" opacity="0.8"/>
<circle cx="1313.5" cy="58.8" r="6" fill="#f6ead2" opacity="0.8"/>
<circle cx="1252.9" cy="117.6" r="6" fill="#f6ead2" opacity="0.8"/>
<circle cx="1293.3" cy="117.6" r="6" fill="#f6ead2" opacity="0.8"/>
<circle cx="1232.7" cy="159.8" r="6" fill="#f6ead2" opacity="0.8"/>
<circle cx="1273" cy="159" r="6" fill="#f6ead2" opacity="0.8"/>
<circle cx="1313.5" cy="159.8" r="6" fill="#f6ead2" opacity="0.8"/>
<circle cx="1252.9" cy="195" r="6" fill="#f6ead2" opacity="0.8"/>
<circle cx="1293.3" cy="195" r="6" fill="#f6ead2" opacity="0.8"/>
<line x1="1232.7" y1="97.5" x2="1273.4" y2="97.5" stroke="#6cc070" stroke-width="0.8" stroke-dasharray="2 1.6"/>
<line x1="1273.4" y1="97.5" x2="1313.5" y2="97.5" stroke="#6cc070" stroke-width="0.8" stroke-dasharray="2 1.6"/>
<line x1="1252.0" y1="149.3" x2="1293.3" y2="149.3" stroke="#6cc070" stroke-width="0.8" stroke-dasharray="2 1.6"/>
<line x1="1231.8" y1="184.4" x2="1272.2" y2="184.4" stroke="#6cc070" stroke-width="0.8" stroke-dasharray="2 1.6"/>
<line x1="1272.2" y1="184.4" x2="1312.6" y2="184.4" stroke="#6cc070" stroke-width="0.8" stroke-dasharray="2 1.6"/>
<line x1="1253.7" y1="38.6" x2="1232.7" y2="97.5" stroke="#6cc070" stroke-width="0.8" stroke-dasharray="2 1.6"/>
<line x1="1253.7" y1="38.6" x2="1273.4" y2="97.5" stroke="#6cc070" stroke-width="0.8" stroke-dasharray="2 1.6"/>
<line x1="1293.3" y1="38.6" x2="1273.4" y2="97.5" stroke="#6cc070" stroke-width="0.8" stroke-dasharray="2 1.6"/>
<line x1="1293.3" y1="38.6" x2="1313.5" y2="97.5" stroke="#6cc070" stroke-width="0.8" stroke-dasharray="2 1.6"/>
<line x1="1273.4" y1="97.5" x2="1252.0" y2="149.3" stroke="#6cc070" stroke-width="0.8" stroke-dasharray="2 1.6"/>
<line x1="1273.4" y1="97.5" x2="1293.3" y2="149.3" stroke="#6cc070" stroke-width="0.8" stroke-dasharray="2 1.6"/>
<line x1="1252.0" y1="149.3" x2="1231.8" y2="184.4" stroke="#6cc070" stroke-width="0.8" stroke-dasharray="2 1.6"/>
<line x1="1252.0" y1="149.3" x2="1272.2" y2="184.4" stroke="#6cc070" stroke-width="0.8" stroke-dasharray="2 1.6"/>
<line x1="1293.3" y1="149.3" x2="1272.2" y2="184.4" stroke="#6cc070" stroke-width="0.8" stroke-dasharray="2 1.6"/>
<line x1="1293.3" y1="149.3" x2="1312.6" y2="184.4" stroke="#6cc070" stroke-width="0.8" stroke-dasharray="2 1.6"/>
<line x1="1253.7" y1="38.6" x2="1232.7" y2="58.8" stroke="#9c8f84" stroke-width="1.2" />
<line x1="1253.7" y1="38.6" x2="1273.0" y2="58.0" stroke="#9c8f84" stroke-width="1.2" />
<line x1="1293.3" y1="38.6" x2="1273.0" y2="58.0" stroke="#9c8f84" stroke-width="1.2" />
<line x1="1293.3" y1="38.6" x2="1313.5" y2="58.8" stroke="#9c8f84" stroke-width="1.2" />
<line x1="1232.7" y1="58.8" x2="1232.7" y2="97.5" stroke="#9c8f84" stroke-width="1.2" />
<line x1="1273.0" y1="58.0" x2="1273.4" y2="97.5" stroke="#9c8f84" stroke-width="1.2" />
<line x1="1313.5" y1="58.8" x2="1313.5" y2="97.5" stroke="#9c8f84" stroke-width="1.2" />
<line x1="1232.7" y1="97.5" x2="1252.9" y2="117.6" stroke="#9c8f84" stroke-width="1.2" />
<line x1="1273.4" y1="97.5" x2="1252.9" y2="117.6" stroke="#9c8f84" stroke-width="1.2" />
<line x1="1273.4" y1="97.5" x2="1293.3" y2="117.6" stroke="#9c8f84" stroke-width="1.2" />
<line x1="1313.5" y1="97.5" x2="1293.3" y2="117.6" stroke="#9c8f84" stroke-width="1.2" />
<line x1="1252.9" y1="117.6" x2="1252.0" y2="149.3" stroke="#9c8f84" stroke-width="1.2" />
<line x1="1293.3" y1="117.6" x2="1293.3" y2="149.3" stroke="#9c8f84" stroke-width="1.2" />
<line x1="1252.0" y1="149.3" x2="1232.7" y2="159.8" stroke="#9c8f84" stroke-width="1.2" />
<line x1="1252.0" y1="149.3" x2="1273.0" y2="159.0" stroke="#9c8f84" stroke-width="1.2" />
<line x1="1293.3" y1="149.3" x2="1273.0" y2="159.0" stroke="#9c8f84" stroke-width="1.2" />
<line x1="1293.3" y1="149.3" x2="1313.5" y2="159.8" stroke="#9c8f84" stroke-width="1.2" />
<line x1="1232.7" y1="159.8" x2="1231.8" y2="184.4" stroke="#9c8f84" stroke-width="1.2" />
<line x1="1273.0" y1="159.0" x2="1272.2" y2="184.4" stroke="#9c8f84" stroke-width="1.2" />
<line x1="1313.5" y1="159.8" x2="1312.6" y2="184.4" stroke="#9c8f84" stroke-width="1.2" />
<line x1="1231.8" y1="184.4" x2="1252.9" y2="195.0" stroke="#9c8f84" stroke-width="1.2" />
<line x1="1272.2" y1="184.4" x2="1252.9" y2="195.0" stroke="#9c8f84" stroke-width="1.2" />
<line x1="1272.2" y1="184.4" x2="1293.3" y2="195.0" stroke="#9c8f84" stroke-width="1.2" />
<line x1="1312.6" y1="184.4" x2="1293.3" y2="195.0" stroke="#9c8f84" stroke-width="1.2" />
<circle cx="1253.7" cy="38.6" r="6.3" fill="url(#gA)"/>
<circle cx="1293.3" cy="38.6" r="6.3" fill="url(#gA)"/>
<circle cx="1232.7" cy="97.5" r="6.3" fill="url(#gA)"/>
<circle cx="1273.4" cy="97.5" r="6.3" fill="url(#gA)"/>
<circle cx="1313.5" cy="97.5" r="6.3" fill="url(#gA)"/>
<circle cx="1252" cy="149.3" r="6.3" fill="url(#gA)"/>
<circle cx="1293.3" cy="149.3" r="6.3" fill="url(#gA)"/>
<circle cx="1231.8" cy="184.4" r="6.3" fill="url(#gA)"/>
<circle cx="1272.2" cy="184.4" r="6.3" fill="url(#gA)"/>
<circle cx="1312.6" cy="184.4" r="6.3" fill="url(#gA)"/>
<circle cx="827.6" cy="376.3" r="6.3" fill="url(#gA)"/><circle cx="827.6" cy="399.4" r="6.3" fill="url(#gBt)"/>
<text x="844.5" y="381.0" font-size="13.2" fill="#333" textLength="72.5" lengthAdjust="spacingAndGlyphs">A sublattice</text>
<text x="844.5" y="404.4" font-size="13.2" fill="#333" textLength="73.0" lengthAdjust="spacingAndGlyphs">B sublattice</text>
<text x="1248.6" y="298.4" font-size="14.6" text-anchor="middle" fill="#222" textLength="126.5" lengthAdjust="spacingAndGlyphs">Nanopillar side view</text>
<rect x="1144.5" y="307.6" width="209.4" height="104" rx="6" fill="#fff" stroke="#555" stroke-width="1.3"/>
<path d="M1161.6,356.3 L1219,356.3 C1228,356.3 1230,352 1231.5,343 C1233,333 1234,331.3 1240,331.3 L1258,331.3 C1264,331.3 1265,333 1266.5,343 C1268,352 1270,356.3 1279,356.3 L1335.5,356.3 L1335.5,402.4 L1161.6,402.4 Z" fill="#d6dce9"/>
<path d="M1161.6,356.3 L1219,356.3 C1228,356.3 1230,352 1231.5,343 C1233,333 1234,331.3 1240,331.3 L1258,331.3 C1264,331.3 1265,333 1266.5,343 C1268,352 1270,356.3 1279,356.3 L1335.5,356.3" stroke="#111" stroke-width="2" fill="none"/>
<path d="M1226,353 C1229.5,350 1230.5,347 1231.5,343 C1233,333 1234,331.3 1240,331.3 L1258,331.3 C1264,331.3 1265,333 1266.5,343 C1267.5,347 1268.5,350 1272,353" stroke="#e02020" stroke-width="1.4" fill="none"/>
<path d="M1236,323 L1243,319.5" stroke="#3aa060" stroke-width="1.4"/>
<path d="M1240.7,322.8 L1243,319.5 L1239.0,319.4 Z" fill="#3aa060"/>
<path d="M1262,323 L1255,319.5" stroke="#3aa060" stroke-width="1.4"/>
<path d="M1259.0,319.4 L1255,319.5 L1257.3,322.8 Z" fill="#3aa060"/>
<path d="M1226,337 L1220,344" stroke="#3aa060" stroke-width="1.4"/>
<path d="M1220.8,340.1 L1220,344 L1223.7,342.6 Z" fill="#3aa060"/>
<path d="M1272,337 L1278,344" stroke="#3aa060" stroke-width="1.4"/>
<path d="M1274.3,342.6 L1278,344 L1277.2,340.1 Z" fill="#3aa060"/>
<text x="1248.6" y="387.8" font-size="15.3" text-anchor="middle" fill="#333" textLength="155.4" lengthAdjust="spacingAndGlyphs">Substrate (Al₂O₃/SiO₂/Si)</text>
<g fill="none" stroke-linejoin="round">
<path d="M1569.1,346.8 L1570.6,345.6 L1572.1,351.3 L1573.6,351.4 L1575.1,348.7 L1576.6,351.3 L1578.1,357.0 L1579.6,356.6 L1581.1,361.7 L1582.6,357.4 L1584.1,356.1 L1585.6,360.6 L1587.1,354.6 L1588.6,357.5 L1590.1,364.4 L1591.6,368.1 L1593.1,353.3 L1594.6,348.8 L1596.1,352.5 L1597.6,349.8 L1599.1,352.4 L1600.6,355.3 L1602.1,353.7 L1603.6,347.5 L1605.0,355.7 L1606.5,363.9 L1608.0,368.7 L1609.5,361.3 L1611.0,365.5 L1612.5,361.0 L1614.0,358.9 L1615.5,360.3 L1617.0,353.5 L1618.5,364.4 L1620.0,352.2 L1621.5,350.4 L1623.0,343.1 L1624.5,349.3 L1626.0,351.7 L1627.5,356.0 L1629.0,362.8 L1630.5,356.7 L1632.0,351.8 L1633.5,352.3 L1635.0,347.0 L1636.5,351.5 L1638.0,348.8 L1639.5,338.9 L1641.0,349.3 L1642.5,349.0 L1644.0,355.6 L1645.5,355.5 L1647.0,355.1 L1648.5,349.4 L1650.0,346.3 L1651.5,350.0 L1653.0,350.9 L1654.5,347.7 L1656.0,348.8 L1657.5,351.4 L1659.0,355.1 L1660.5,356.7 L1662.0,361.0 L1663.5,354.7 L1665.0,363.7 L1666.5,350.5 L1668.0,353.0 L1669.5,348.4 L1671.0,344.9 L1672.5,343.8 L1674.0,349.0 L1675.5,353.3 L1677.0,348.4 L1678.5,353.1 L1680.0,346.6 L1681.5,351.1 L1683.0,346.7 L1684.5,353.5 L1686.0,354.0 L1687.5,345.6 L1689.0,352.0 L1690.5,348.5 L1692.0,350.1 L1693.5,359.0 L1695.0,350.0 L1696.5,356.7 L1698.0,357.0 L1699.5,349.8 L1701.0,353.7 L1702.5,347.2 L1704.0,346.4 L1705.5,349.9 L1707.0,349.5 L1708.4,359.6 L1709.9,348.9 L1711.4,350.9 L1712.9,359.6 L1714.4,358.8 L1715.9,348.9 L1717.4,347.5 L1718.9,350.9 L1720.4,351.5 L1721.9,354.6 L1723.4,356.4 L1724.9,356.0 L1726.4,351.4 L1727.9,346.5 L1729.4,353.3 L1730.9,344.7 L1732.4,349.8 L1733.9,338.9 L1735.4,342.9 L1736.9,342.8 L1738.4,347.0 L1739.9,338.7 L1741.4,346.9 L1742.9,346.1 L1744.4,351.8 L1745.9,345.2 L1747.4,337.0 L1748.9,336.3 L1750.4,337.7 L1751.9,335.8 L1753.4,332.9 L1754.9,332.5 L1756.4,325.3 L1757.9,318.4 L1759.4,310.2 L1760.9,310.7 L1762.4,299.3 L1763.9,288.6 L1765.4,286.6 L1766.9,272.0 L1768.4,254.3 L1769.9,247.5 L1771.4,236.4 L1772.9,212.8 L1774.4,193.9 L1775.9,171.5 L1777.4,153.7 L1778.9,137.9 L1780.4,116.8 L1781.9,96.0 L1783.4,85.1 L1784.9,76.4 L1786.4,56.0 L1787.9,42.7 L1789.4,49.9 L1790.9,50.5 L1792.4,51.3 L1793.9,44.7 L1795.4,51.0 L1796.9,61.7 L1798.4,71.5 L1799.9,87.9 L1801.4,101.2 L1802.9,112.0 L1804.4,142.3 L1805.9,159.0 L1807.4,176.0 L1808.9,197.8 L1810.4,212.8 L1811.8,237.3 L1813.3,242.2 L1814.8,256.9 L1816.3,262.7 L1817.8,267.1 L1819.3,285.5 L1820.8,288.3 L1822.3,292.4 L1823.8,298.1 L1825.3,306.4 L1826.8,313.5 L1828.3,322.5 L1829.8,324.6 L1831.3,320.2 L1832.8,321.3 L1834.3,315.8 L1835.8,321.3 L1837.3,317.9 L1838.8,315.7 L1840.3,312.1 L1841.8,313.4 L1843.3,328.5 L1844.8,315.6 L1846.3,312.6 L1847.8,318.2 L1849.3,317.2 L1850.8,317.0 L1852.3,313.2 L1853.8,307.9 L1855.3,301.3 L1856.8,309.5 L1858.3,311.5 L1859.8,319.6 L1861.3,316.1 L1862.8,319.2 L1864.3,328.8 L1865.8,319.2 L1867.3,308.1 L1868.8,322.3 L1870.3,319.6 L1871.8,311.8 L1873.3,304.8 L1874.8,317.1 L1876.3,303.7 L1877.8,303.1 L1879.3,309.4 L1880.8,304.5 L1882.3,302.9 L1883.8,310.1 L1885.3,308.9 L1886.8,306.1 L1888.3,300.6 L1889.8,305.8 L1891.3,307.0 L1892.8,299.2 L1894.3,296.4 L1895.8,302.9 L1897.3,305.7 L1898.8,313.1 L1900.3,300.4 L1901.8,309.6 L1903.3,297.4 L1904.8,302.2 L1906.3,302.6 L1907.8,301.8 L1909.3,308.7 L1910.8,305.1 L1912.3,307.7 L1913.8,293.6 L1915.3,299.1 L1916.7,300.1 L1918.2,292.2 L1919.7,299.2 L1921.2,302.5 L1922.7,296.4 L1924.2,293.2 L1925.7,301.1 L1927.2,302.5 L1928.7,293.3 L1930.2,295.2 L1931.7,294.7 L1933.2,298.8 L1934.7,291.2 L1936.2,294.4 L1937.7,285.6 L1939.2,286.9 L1940.7,288.3 L1942.2,297.8 L1943.7,290.5 L1945.2,286.2 L1946.7,295.8 L1948.2,293.4 L1949.7,288.7 L1951.2,289.6 L1952.7,285.0 L1954.2,287.6 L1955.7,297.1 L1957.2,292.3 L1958.7,290.7 L1960.2,297.7 L1961.7,294.0 L1963.2,292.8 L1964.7,292.4 L1966.2,287.1 L1967.7,289.7 L1969.2,286.4 L1970.7,278.3 L1972.2,279.2 L1973.7,284.8 L1975.2,287.6 L1976.7,285.1 L1978.2,288.8 L1979.7,281.9" stroke="#e8141c" stroke-width="1.6" fill="none" />
<path d="M1569.1,364.8 L1570.6,368.6 L1572.1,367.4 L1573.6,358.3 L1575.1,362.3 L1576.6,359.2 L1578.1,360.0 L1579.6,364.1 L1581.1,369.4 L1582.6,372.6 L1584.1,368.1 L1585.6,365.3 L1587.1,364.7 L1588.6,361.1 L1590.1,364.2 L1591.6,365.7 L1593.1,369.9 L1594.6,374.6 L1596.1,366.4 L1597.6,362.5 L1599.1,358.6 L1600.6,363.5 L1602.1,366.9 L1603.6,367.4 L1605.0,371.8 L1606.5,369.9 L1608.0,357.8 L1609.5,361.5 L1611.0,355.3 L1612.5,355.0 L1614.0,359.7 L1615.5,358.4 L1617.0,360.6 L1618.5,353.8 L1620.0,352.3 L1621.5,359.6 L1623.0,362.3 L1624.5,360.7 L1626.0,361.7 L1627.5,361.9 L1629.0,353.0 L1630.5,371.8 L1632.0,365.6 L1633.5,363.2 L1635.0,360.1 L1636.5,361.9 L1638.0,353.1 L1639.5,361.1 L1641.0,357.2 L1642.5,363.3 L1644.0,364.4 L1645.5,366.5 L1647.0,357.9 L1648.5,364.4 L1650.0,361.0 L1651.5,355.1 L1653.0,357.9 L1654.5,362.9 L1656.0,355.0 L1657.5,358.1 L1659.0,361.4 L1660.5,361.2 L1662.0,361.1 L1663.5,358.0 L1665.0,362.5 L1666.5,359.8 L1668.0,361.5 L1669.5,361.5 L1671.0,362.7 L1672.5,360.8 L1674.0,358.6 L1675.5,363.6 L1677.0,360.8 L1678.5,357.6 L1680.0,355.6 L1681.5,356.9 L1683.0,358.3 L1684.5,355.2 L1686.0,354.5 L1687.5,358.6 L1689.0,353.9 L1690.5,355.0 L1692.0,358.1 L1693.5,354.2 L1695.0,353.9 L1696.5,353.0 L1698.0,353.3 L1699.5,352.4 L1701.0,353.3 L1702.5,356.8 L1704.0,359.4 L1705.5,354.8 L1707.0,345.4 L1708.4,342.6 L1709.9,358.7 L1711.4,353.7 L1712.9,354.4 L1714.4,356.9 L1715.9,356.2 L1717.4,354.8 L1718.9,357.1 L1720.4,354.8 L1721.9,349.2 L1723.4,344.4 L1724.9,345.8 L1726.4,343.9 L1727.9,348.0 L1729.4,353.7 L1730.9,361.2 L1732.4,358.7 L1733.9,354.8 L1735.4,359.7 L1736.9,356.2 L1738.4,360.1 L1739.9,351.0 L1741.4,344.2 L1742.9,347.3 L1744.4,353.9 L1745.9,348.0 L1747.4,348.9 L1748.9,352.4 L1750.4,349.6 L1751.9,346.3 L1753.4,345.7 L1754.9,338.6 L1756.4,339.2 L1757.9,344.6 L1759.4,348.5 L1760.9,349.6 L1762.4,345.4 L1763.9,341.2 L1765.4,343.6 L1766.9,341.4 L1768.4,346.2 L1769.9,343.3 L1771.4,341.0 L1772.9,345.1 L1774.4,349.1 L1775.9,349.7 L1777.4,347.2 L1778.9,349.1 L1780.4,339.9 L1781.9,347.0 L1783.4,338.8 L1784.9,333.3 L1786.4,336.7 L1787.9,332.4 L1789.4,339.9 L1790.9,336.8 L1792.4,337.4 L1793.9,332.7 L1795.4,332.6 L1796.9,334.3 L1798.4,333.5 L1799.9,332.6 L1801.4,326.3 L1802.9,325.6 L1804.4,334.0 L1805.9,328.7 L1807.4,331.0 L1808.9,331.5 L1810.4,332.4 L1811.8,332.2 L1813.3,328.6 L1814.8,336.9 L1816.3,333.1 L1817.8,331.5 L1819.3,330.5 L1820.8,332.6 L1822.3,333.0 L1823.8,326.5 L1825.3,323.6 L1826.8,326.3 L1828.3,329.5 L1829.8,330.4 L1831.3,333.9 L1832.8,327.7 L1834.3,321.3 L1835.8,319.9 L1837.3,329.0 L1838.8,325.4 L1840.3,323.2 L1841.8,324.9 L1843.3,327.8 L1844.8,326.9 L1846.3,331.2 L1847.8,328.7 L1849.3,324.7 L1850.8,326.8 L1852.3,321.9 L1853.8,324.4 L1855.3,314.6 L1856.8,323.3 L1858.3,328.6 L1859.8,321.0 L1861.3,326.2 L1862.8,319.2 L1864.3,319.8 L1865.8,321.5 L1867.3,318.6 L1868.8,322.3 L1870.3,317.2 L1871.8,315.6 L1873.3,313.5 L1874.8,309.5 L1876.3,313.2 L1877.8,315.8 L1879.3,315.3 L1880.8,308.3 L1882.3,312.5 L1883.8,318.2 L1885.3,311.5 L1886.8,316.3 L1888.3,312.6 L1889.8,308.3 L1891.3,312.1 L1892.8,312.4 L1894.3,305.1 L1895.8,306.7 L1897.3,305.0 L1898.8,306.8 L1900.3,309.8 L1901.8,313.2 L1903.3,310.9 L1904.8,303.4 L1906.3,307.8 L1907.8,311.1 L1909.3,309.7 L1910.8,310.0 L1912.3,311.0 L1913.8,304.2 L1915.3,306.0 L1916.7,303.3 L1918.2,307.1 L1919.7,309.4 L1921.2,308.6 L1922.7,306.4 L1924.2,298.6 L1925.7,300.8 L1927.2,301.9 L1928.7,302.2 L1930.2,300.9 L1931.7,303.9 L1933.2,301.5 L1934.7,302.7 L1936.2,307.5 L1937.7,307.3 L1939.2,299.9 L1940.7,297.6 L1942.2,296.9 L1943.7,296.5 L1945.2,302.7 L1946.7,296.7 L1948.2,298.6 L1949.7,299.3 L1951.2,302.3 L1952.7,297.4 L1954.2,295.9 L1955.7,292.5 L1957.2,290.0 L1958.7,297.3 L1960.2,302.3 L1961.7,298.2 L1963.2,292.1 L1964.7,297.4 L1966.2,287.5 L1967.7,292.4 L1969.2,296.1 L1970.7,291.3 L1972.2,286.3 L1973.7,291.2 L1975.2,299.5 L1976.7,291.8 L1978.2,288.6 L1979.7,285.1" stroke="#111" stroke-width="1.6" fill="none" />
</g>
<rect x="1569.2" y="25.2" width="411.5999999999999" height="350.8" fill="none" stroke="#1a1a1a" stroke-width="2.2"/>
<line x1="1558.7" y1="47.1" x2="1569.2" y2="47.1" stroke="#1a1a1a" stroke-width="2.2" />
<text x="1555.2" y="57.6" font-size="29.5" text-anchor="end">1</text>
<line x1="1558.7" y1="211.6" x2="1569.2" y2="211.6" stroke="#1a1a1a" stroke-width="2.2" />
<text x="1555.2" y="222.1" font-size="29.5" text-anchor="end">0.5</text>
<line x1="1558.7" y1="376.0" x2="1569.2" y2="376.0" stroke="#1a1a1a" stroke-width="2.2" />
<text x="1555.2" y="386.5" font-size="29.5" text-anchor="end">0</text>
<line x1="1640.8" y1="376.0" x2="1640.8" y2="386.5" stroke="#1a1a1a" stroke-width="2.2" />
<text x="1640.8" y="412.0" font-size="29.5" text-anchor="middle" textLength="47.5" lengthAdjust="spacingAndGlyphs">475</text>
<line x1="1730.0" y1="376.0" x2="1730.0" y2="386.5" stroke="#1a1a1a" stroke-width="2.2" />
<text x="1730.0" y="412.0" font-size="29.5" text-anchor="middle" textLength="47.5" lengthAdjust="spacingAndGlyphs">500</text>
<line x1="1819.2" y1="376.0" x2="1819.2" y2="386.5" stroke="#1a1a1a" stroke-width="2.2" />
<text x="1819.2" y="412.0" font-size="29.5" text-anchor="middle" textLength="47.5" lengthAdjust="spacingAndGlyphs">525</text>
<line x1="1908.4" y1="376.0" x2="1908.4" y2="386.5" stroke="#1a1a1a" stroke-width="2.2" />
<text x="1908.4" y="412.0" font-size="29.5" text-anchor="middle" textLength="47.5" lengthAdjust="spacingAndGlyphs">550</text>
<text x="1769.5" y="449.4" font-size="36.2" text-anchor="middle" textLength="274.4" lengthAdjust="spacingAndGlyphs">Wavelength (nm)</text>
<text x="1495.5" y="209.5" font-size="35.7" text-anchor="middle" textLength="264.0" lengthAdjust="spacingAndGlyphs" transform="rotate(-90 1495.5 209.5)">Intensity (Norm.)</text>
<line x1="1582.0" y1="52.2" x2="1614.0" y2="52.2" stroke="#111" stroke-width="1.6" />
<line x1="1582.0" y1="82.5" x2="1614.0" y2="82.5" stroke="#e8141c" stroke-width="1.6" />
<text x="1625.0" y="61.3" font-size="29.5" textLength="92.0" lengthAdjust="spacingAndGlyphs">Control</text>
<text x="1625.0" y="91.5" font-size="29.5" fill="#e8141c" textLength="105.0" lengthAdjust="spacingAndGlyphs">Strained</text>
<text x="1971.0" y="61.3" font-size="29.5" text-anchor="end">4 K</text>
<defs><filter id="blur1" x="-30%" y="-10%" width="160%" height="120%"><feGaussianBlur stdDeviation="1.8"/></filter>
<radialGradient id="gS" cx="0.45" cy="0.4" r="0.6"><stop offset="0" stop-color="#ffff70"/><stop offset="0.6" stop-color="#f0e820"/><stop offset="1" stop-color="#c8c000"/></radialGradient>
<linearGradient id="grB" x1="0" y1="0" x2="0" y2="1"><stop offset="0" stop-color="#a87a58"/><stop offset="1" stop-color="#6e4a32"/></linearGradient>
</defs>
<path d="M111.6,742 L351.6,742 L366,763.6 L73.2,763.6 Z" fill="url(#grB)"/>
<path d="M111.6,742 L73.2,763.6" stroke="#4e3322" stroke-width="1.3"/>
<circle cx="73.2" cy="762.5" r="1.4" fill="#d09050"/>
<path d="M116.7,742 L79.4,763.6" stroke="#4e3322" stroke-width="1.3"/>
<circle cx="79.4" cy="762.5" r="1.4" fill="#d09050"/>
<path d="M121.8,742 L85.7,763.6" stroke="#4e3322" stroke-width="1.3"/>
<circle cx="85.7" cy="762.5" r="1.4" fill="#d09050"/>
<path d="M126.9,742 L91.9,763.6" stroke="#4e3322" stroke-width="1.3"/>
<circle cx="91.9" cy="762.5" r="1.4" fill="#d09050"/>
<path d="M132.0,742 L98.1,763.6" stroke="#4e3322" stroke-width="1.3"/>
<circle cx="98.1" cy="762.5" r="1.4" fill="#d09050"/>
<path d="M137.1,742 L104.3,763.6" stroke="#4e3322" stroke-width="1.3"/>
<circle cx="104.3" cy="762.5" r="1.4" fill="#d09050"/>
<path d="M142.2,742 L110.6,763.6" stroke="#4e3322" stroke-width="1.3"/>
<circle cx="110.6" cy="762.5" r="1.4" fill="#d09050"/>
<path d="M147.3,742 L116.8,763.6" stroke="#4e3322" stroke-width="1.3"/>
<circle cx="116.8" cy="762.5" r="1.4" fill="#d09050"/>
<path d="M152.5,742 L123.0,763.6" stroke="#4e3322" stroke-width="1.3"/>
<circle cx="123.0" cy="762.5" r="1.4" fill="#d09050"/>
<path d="M157.6,742 L129.3,763.6" stroke="#4e3322" stroke-width="1.3"/>
<circle cx="129.3" cy="762.5" r="1.4" fill="#d09050"/>
<path d="M162.7,742 L135.5,763.6" stroke="#4e3322" stroke-width="1.3"/>
<circle cx="135.5" cy="762.5" r="1.4" fill="#d09050"/>
<path d="M167.8,742 L141.7,763.6" stroke="#4e3322" stroke-width="1.3"/>
<circle cx="141.7" cy="762.5" r="1.4" fill="#d09050"/>
<path d="M172.9,742 L148.0,763.6" stroke="#4e3322" stroke-width="1.3"/>
<circle cx="148.0" cy="762.5" r="1.4" fill="#d09050"/>
<path d="M178.0,742 L154.2,763.6" stroke="#4e3322" stroke-width="1.3"/>
<circle cx="154.2" cy="762.5" r="1.4" fill="#d09050"/>
<path d="M183.1,742 L160.4,763.6" stroke="#4e3322" stroke-width="1.3"/>
<circle cx="160.4" cy="762.5" r="1.4" fill="#d09050"/>
<path d="M188.2,742 L166.6,763.6" stroke="#4e3322" stroke-width="1.3"/>
<circle cx="166.6" cy="762.5" r="1.4" fill="#d09050"/>
<path d="M193.3,742 L172.9,763.6" stroke="#4e3322" stroke-width="1.3"/>
<circle cx="172.9" cy="762.5" r="1.4" fill="#d09050"/>
<path d="M198.4,742 L179.1,763.6" stroke="#4e3322" stroke-width="1.3"/>
<circle cx="179.1" cy="762.5" r="1.4" fill="#d09050"/>
<path d="M203.5,742 L185.3,763.6" stroke="#4e3322" stroke-width="1.3"/>
<circle cx="185.3" cy="762.5" r="1.4" fill="#d09050"/>
<path d="M208.6,742 L191.6,763.6" stroke="#4e3322" stroke-width="1.3"/>
<circle cx="191.6" cy="762.5" r="1.4" fill="#d09050"/>
<path d="M213.7,742 L197.8,763.6" stroke="#4e3322" stroke-width="1.3"/>
<circle cx="197.8" cy="762.5" r="1.4" fill="#d09050"/>
<path d="M218.8,742 L204.0,763.6" stroke="#4e3322" stroke-width="1.3"/>
<circle cx="204.0" cy="762.5" r="1.4" fill="#d09050"/>
<path d="M223.9,742 L210.3,763.6" stroke="#4e3322" stroke-width="1.3"/>
<circle cx="210.3" cy="762.5" r="1.4" fill="#d09050"/>
<path d="M229.0,742 L216.5,763.6" stroke="#4e3322" stroke-width="1.3"/>
<circle cx="216.5" cy="762.5" r="1.4" fill="#d09050"/>
<path d="M234.2,742 L222.7,763.6" stroke="#4e3322" stroke-width="1.3"/>
<circle cx="222.7" cy="762.5" r="1.4" fill="#d09050"/>
<path d="M239.3,742 L228.9,763.6" stroke="#4e3322" stroke-width="1.3"/>
<circle cx="228.9" cy="762.5" r="1.4" fill="#d09050"/>
<path d="M244.4,742 L235.2,763.6" stroke="#4e3322" stroke-width="1.3"/>
<circle cx="235.2" cy="762.5" r="1.4" fill="#d09050"/>
<path d="M249.5,742 L241.4,763.6" stroke="#4e3322" stroke-width="1.3"/>
<circle cx="241.4" cy="762.5" r="1.4" fill="#d09050"/>
<path d="M254.6,742 L247.6,763.6" stroke="#4e3322" stroke-width="1.3"/>
<circle cx="247.6" cy="762.5" r="1.4" fill="#d09050"/>
<path d="M259.7,742 L253.9,763.6" stroke="#4e3322" stroke-width="1.3"/>
<circle cx="253.9" cy="762.5" r="1.4" fill="#d09050"/>
<path d="M264.8,742 L260.1,763.6" stroke="#4e3322" stroke-width="1.3"/>
<circle cx="260.1" cy="762.5" r="1.4" fill="#d09050"/>
<path d="M269.9,742 L266.3,763.6" stroke="#4e3322" stroke-width="1.3"/>
<circle cx="266.3" cy="762.5" r="1.4" fill="#d09050"/>
<path d="M275.0,742 L272.6,763.6" stroke="#4e3322" stroke-width="1.3"/>
<circle cx="272.6" cy="762.5" r="1.4" fill="#d09050"/>
<path d="M280.1,742 L278.8,763.6" stroke="#4e3322" stroke-width="1.3"/>
<circle cx="278.8" cy="762.5" r="1.4" fill="#d09050"/>
<path d="M285.2,742 L285.0,763.6" stroke="#4e3322" stroke-width="1.3"/>
<circle cx="285.0" cy="762.5" r="1.4" fill="#d09050"/>
<path d="M290.3,742 L291.2,763.6" stroke="#4e3322" stroke-width="1.3"/>
<circle cx="291.2" cy="762.5" r="1.4" fill="#d09050"/>
<path d="M295.4,742 L297.5,763.6" stroke="#4e3322" stroke-width="1.3"/>
<circle cx="297.5" cy="762.5" r="1.4" fill="#d09050"/>
<path d="M300.5,742 L303.7,763.6" stroke="#4e3322" stroke-width="1.3"/>
<circle cx="303.7" cy="762.5" r="1.4" fill="#d09050"/>
<path d="M305.6,742 L309.9,763.6" stroke="#4e3322" stroke-width="1.3"/>
<circle cx="309.9" cy="762.5" r="1.4" fill="#d09050"/>
<path d="M310.7,742 L316.2,763.6" stroke="#4e3322" stroke-width="1.3"/>
<circle cx="316.2" cy="762.5" r="1.4" fill="#d09050"/>
<path d="M315.9,742 L322.4,763.6" stroke="#4e3322" stroke-width="1.3"/>
<circle cx="322.4" cy="762.5" r="1.4" fill="#d09050"/>
<path d="M321.0,742 L328.6,763.6" stroke="#4e3322" stroke-width="1.3"/>
<circle cx="328.6" cy="762.5" r="1.4" fill="#d09050"/>
<path d="M326.1,742 L334.9,763.6" stroke="#4e3322" stroke-width="1.3"/>
<circle cx="334.9" cy="762.5" r="1.4" fill="#d09050"/>
<path d="M331.2,742 L341.1,763.6" stroke="#4e3322" stroke-width="1.3"/>
<circle cx="341.1" cy="762.5" r="1.4" fill="#d09050"/>
<path d="M336.3,742 L347.3,763.6" stroke="#4e3322" stroke-width="1.3"/>
<circle cx="347.3" cy="762.5" r="1.4" fill="#d09050"/>
<path d="M341.4,742 L353.5,763.6" stroke="#4e3322" stroke-width="1.3"/>
<circle cx="353.5" cy="762.5" r="1.4" fill="#d09050"/>
<path d="M346.5,742 L359.8,763.6" stroke="#4e3322" stroke-width="1.3"/>
<circle cx="359.8" cy="762.5" r="1.4" fill="#d09050"/>
<path d="M351.6,742 L366.0,763.6" stroke="#4e3322" stroke-width="1.3"/>
<circle cx="366.0" cy="762.5" r="1.4" fill="#d09050"/>
<path d="M111.6,742 L351.6,742" stroke="#c08a60" stroke-width="1.2"/>
<path d="M514.0,661.2 L470.4,660.1 L463.6,671.4 L505.5,675.2 Z" fill="#c8c43a"/>
<path d="M514.0,689.2 L470.4,682.7 L463.6,671.4 L505.5,675.2 Z" fill="#a48eb2"/>
<path d="M514.0,661.2 L470.4,660.1" stroke="#d8d41c" stroke-width="7" stroke-linecap="round"/>
<path d="M514.0,689.2 L470.4,682.7" stroke="#d0cc18" stroke-width="7" stroke-linecap="round"/>
<path d="M505.5,675.2 L463.6,671.4" stroke="#7c5e90" stroke-width="8" stroke-linecap="round"/>
<path d="M490.1,661.2 L451.1,660.1 L444.2,671.4 L481.6,675.2 Z" fill="#c8c43a"/>
<path d="M490.1,689.2 L451.1,682.7 L444.2,671.4 L481.6,675.2 Z" fill="#a48eb2"/>
<path d="M490.1,661.2 L451.1,660.1" stroke="#d8d41c" stroke-width="7" stroke-linecap="round"/>
<path d="M490.1,689.2 L451.1,682.7" stroke="#d0cc18" stroke-width="7" stroke-linecap="round"/>
<path d="M481.6,675.2 L444.2,671.4" stroke="#7c5e90" stroke-width="8" stroke-linecap="round"/>
<path d="M466.2,661.2 L431.8,660.1 L424.9,671.4 L457.8,675.2 Z" fill="#c8c43a"/>
<path d="M466.2,689.2 L431.8,682.7 L424.9,671.4 L457.8,675.2 Z" fill="#a48eb2"/>
<path d="M466.2,661.2 L431.8,660.1" stroke="#d8d41c" stroke-width="7" stroke-linecap="round"/>
<path d="M466.2,689.2 L431.8,682.7" stroke="#d0cc18" stroke-width="7" stroke-linecap="round"/>
<path d="M457.8,675.2 L424.9,671.4" stroke="#7c5e90" stroke-width="8" stroke-linecap="round"/>
<path d="M442.4,661.2 L412.5,660.1 L405.6,671.4 L433.9,675.2 Z" fill="#c8c43a"/>
<path d="M442.4,689.2 L412.5,682.7 L405.6,671.4 L433.9,675.2 Z" fill="#a48eb2"/>
<path d="M442.4,661.2 L412.5,660.1" stroke="#d8d41c" stroke-width="7" stroke-linecap="round"/>
<path d="M442.4,689.2 L412.5,682.7" stroke="#d0cc18" stroke-width="7" stroke-linecap="round"/>
<path d="M433.9,675.2 L405.6,671.4" stroke="#7c5e90" stroke-width="8" stroke-linecap="round"/>
<path d="M418.6,661.2 L393.2,660.1 L386.3,671.4 L410.1,675.2 Z" fill="#c8c43a"/>
<path d="M418.6,689.2 L393.2,682.7 L386.3,671.4 L410.1,675.2 Z" fill="#a48eb2"/>
<path d="M418.6,661.2 L393.2,660.1" stroke="#d8d41c" stroke-width="7" stroke-linecap="round"/>
<path d="M418.6,689.2 L393.2,682.7" stroke="#d0cc18" stroke-width="7" stroke-linecap="round"/>
<path d="M410.1,675.2 L386.3,671.4" stroke="#7c5e90" stroke-width="8" stroke-linecap="round"/>
<path d="M394.7,661.2 L373.9,660.1 L367.0,671.4 L386.2,675.2 Z" fill="#c8c43a"/>
<path d="M394.7,689.2 L373.9,682.7 L367.0,671.4 L386.2,675.2 Z" fill="#a48eb2"/>
<path d="M394.7,661.2 L373.9,660.1" stroke="#d8d41c" stroke-width="7" stroke-linecap="round"/>
<path d="M394.7,689.2 L373.9,682.7" stroke="#d0cc18" stroke-width="7" stroke-linecap="round"/>
<path d="M386.2,675.2 L367.0,671.4" stroke="#7c5e90" stroke-width="8" stroke-linecap="round"/>
<path d="M203.9,661.2 L219.3,660.1 L212.4,671.4 L195.4,675.2 Z" fill="#c8c43a"/>
<path d="M203.9,689.2 L219.3,682.7 L212.4,671.4 L195.4,675.2 Z" fill="#a48eb2"/>
<path d="M203.9,661.2 L219.3,660.1" stroke="#d8d41c" stroke-width="7" stroke-linecap="round"/>
<path d="M203.9,689.2 L219.3,682.7" stroke="#d0cc18" stroke-width="7" stroke-linecap="round"/>
<path d="M195.4,675.2 L212.4,671.4" stroke="#7c5e90" stroke-width="8" stroke-linecap="round"/>
<path d="M370.9,661.2 L354.5,660.1 L347.7,671.4 L362.4,675.2 Z" fill="#c8c43a"/>
<path d="M370.9,689.2 L354.5,682.7 L347.7,671.4 L362.4,675.2 Z" fill="#a48eb2"/>
<path d="M370.9,661.2 L354.5,660.1" stroke="#d8d41c" stroke-width="7" stroke-linecap="round"/>
<path d="M370.9,689.2 L354.5,682.7" stroke="#d0cc18" stroke-width="7" stroke-linecap="round"/>
<path d="M362.4,675.2 L347.7,671.4" stroke="#7c5e90" stroke-width="8" stroke-linecap="round"/>
<path d="M227.8,661.2 L238.6,660.1 L231.7,671.4 L219.2,675.2 Z" fill="#c8c43a"/>
<path d="M227.8,689.2 L238.6,682.7 L231.7,671.4 L219.2,675.2 Z" fill="#a48eb2"/>
<path d="M227.8,661.2 L238.6,660.1" stroke="#d8d41c" stroke-width="7" stroke-linecap="round"/>
<path d="M227.8,689.2 L238.6,682.7" stroke="#d0cc18" stroke-width="7" stroke-linecap="round"/>
<path d="M219.2,675.2 L231.7,671.4" stroke="#7c5e90" stroke-width="8" stroke-linecap="round"/>
<path d="M347.0,661.2 L335.2,660.1 L328.3,671.4 L338.5,675.2 Z" fill="#c8c43a"/>
<path d="M347.0,689.2 L335.2,682.7 L328.3,671.4 L338.5,675.2 Z" fill="#a48eb2"/>
<path d="M347.0,661.2 L335.2,660.1" stroke="#d8d41c" stroke-width="7" stroke-linecap="round"/>
<path d="M347.0,689.2 L335.2,682.7" stroke="#d0cc18" stroke-width="7" stroke-linecap="round"/>
<path d="M338.5,675.2 L328.3,671.4" stroke="#7c5e90" stroke-width="8" stroke-linecap="round"/>
<path d="M251.6,661.2 L257.9,660.1 L251.1,671.4 L243.1,675.2 Z" fill="#c8c43a"/>
<path d="M251.6,689.2 L257.9,682.7 L251.1,671.4 L243.1,675.2 Z" fill="#a48eb2"/>
<path d="M251.6,661.2 L257.9,660.1" stroke="#d8d41c" stroke-width="7" stroke-linecap="round"/>
<path d="M251.6,689.2 L257.9,682.7" stroke="#d0cc18" stroke-width="7" stroke-linecap="round"/>
<path d="M243.1,675.2 L251.1,671.4" stroke="#7c5e90" stroke-width="8" stroke-linecap="round"/>
<path d="M323.1,661.2 L315.9,660.1 L309.0,671.4 L314.6,675.2 Z" fill="#c8c43a"/>
<path d="M323.1,689.2 L315.9,682.7 L309.0,671.4 L314.6,675.2 Z" fill="#a48eb2"/>
<path d="M323.1,661.2 L315.9,660.1" stroke="#d8d41c" stroke-width="7" stroke-linecap="round"/>
<path d="M323.1,689.2 L315.9,682.7" stroke="#d0cc18" stroke-width="7" stroke-linecap="round"/>
<path d="M314.6,675.2 L309.0,671.4" stroke="#7c5e90" stroke-width="8" stroke-linecap="round"/>
<path d="M275.5,661.2 L277.3,660.1 L270.4,671.4 L267.0,675.2 Z" fill="#c8c43a"/>
<path d="M275.5,689.2 L277.3,682.7 L270.4,671.4 L267.0,675.2 Z" fill="#a48eb2"/>
<path d="M275.5,661.2 L277.3,660.1" stroke="#d8d41c" stroke-width="7" stroke-linecap="round"/>
<path d="M275.5,689.2 L277.3,682.7" stroke="#d0cc18" stroke-width="7" stroke-linecap="round"/>
<path d="M267.0,675.2 L270.4,671.4" stroke="#7c5e90" stroke-width="8" stroke-linecap="round"/>
<path d="M299.3,661.2 L296.6,660.1 L289.7,671.4 L290.8,675.2 Z" fill="#c8c43a"/>
<path d="M299.3,689.2 L296.6,682.7 L289.7,671.4 L290.8,675.2 Z" fill="#a48eb2"/>
<path d="M299.3,661.2 L296.6,660.1" stroke="#d8d41c" stroke-width="7" stroke-linecap="round"/>
<path d="M299.3,689.2 L296.6,682.7" stroke="#d0cc18" stroke-width="7" stroke-linecap="round"/>
<path d="M290.8,675.2 L289.7,671.4" stroke="#7c5e90" stroke-width="8" stroke-linecap="round"/>
<path d="M195.4,675.2 L199.7,668.2" stroke="#8c6ea0" stroke-width="4.2"/>
<path d="M199.7,668.2 L203.9,661.2" stroke="#dcd81e" stroke-width="4.2"/>
<path d="M195.4,675.2 L199.7,682.2" stroke="#8c6ea0" stroke-width="4.2"/>
<path d="M199.7,682.2 L203.9,689.2" stroke="#dcd81e" stroke-width="4.2"/>
<path d="M219.2,675.2 L223.5,668.2" stroke="#8c6ea0" stroke-width="4.2"/>
<path d="M223.5,668.2 L227.8,661.2" stroke="#dcd81e" stroke-width="4.2"/>
<path d="M219.2,675.2 L223.5,682.2" stroke="#8c6ea0" stroke-width="4.2"/>
<path d="M223.5,682.2 L227.8,689.2" stroke="#dcd81e" stroke-width="4.2"/>
<path d="M219.2,675.2 L211.6,668.2" stroke="#8c6ea0" stroke-width="4.2"/>
<path d="M211.6,668.2 L203.9,661.2" stroke="#dcd81e" stroke-width="4.2"/>
<path d="M219.2,675.2 L211.6,682.2" stroke="#8c6ea0" stroke-width="4.2"/>
<path d="M211.6,682.2 L203.9,689.2" stroke="#dcd81e" stroke-width="4.2"/>
<path d="M243.1,675.2 L247.4,668.2" stroke="#8c6ea0" stroke-width="4.2"/>
<path d="M247.4,668.2 L251.6,661.2" stroke="#dcd81e" stroke-width="4.2"/>
<path d="M243.1,675.2 L247.4,682.2" stroke="#8c6ea0" stroke-width="4.2"/>
<path d="M247.4,682.2 L251.6,689.2" stroke="#dcd81e" stroke-width="4.2"/>
<path d="M243.1,675.2 L235.4,668.2" stroke="#8c6ea0" stroke-width="4.2"/>
<path d="M235.4,668.2 L227.8,661.2" stroke="#dcd81e" stroke-width="4.2"/>
<path d="M243.1,675.2 L235.4,682.2" stroke="#8c6ea0" stroke-width="4.2"/>
<path d="M235.4,682.2 L227.8,689.2" stroke="#dcd81e" stroke-width="4.2"/>
<path d="M267.0,675.2 L271.2,668.2" stroke="#8c6ea0" stroke-width="4.2"/>
<path d="M271.2,668.2 L275.5,661.2" stroke="#dcd81e" stroke-width="4.2"/>
<path d="M267.0,675.2 L271.2,682.2" stroke="#8c6ea0" stroke-width="4.2"/>
<path d="M271.2,682.2 L275.5,689.2" stroke="#dcd81e" stroke-width="4.2"/>
<path d="M267.0,675.2 L259.3,668.2" stroke="#8c6ea0" stroke-width="4.2"/>
<path d="M259.3,668.2 L251.6,661.2" stroke="#dcd81e" stroke-width="4.2"/>
<path d="M267.0,675.2 L259.3,682.2" stroke="#8c6ea0" stroke-width="4.2"/>
<path d="M259.3,682.2 L251.6,689.2" stroke="#dcd81e" stroke-width="4.2"/>
<path d="M290.8,675.2 L295.1,668.2" stroke="#8c6ea0" stroke-width="4.2"/>
<path d="M295.1,668.2 L299.3,661.2" stroke="#dcd81e" stroke-width="4.2"/>
<path d="M290.8,675.2 L295.1,682.2" stroke="#8c6ea0" stroke-width="4.2"/>
<path d="M295.1,682.2 L299.3,689.2" stroke="#dcd81e" stroke-width="4.2"/>
<path d="M290.8,675.2 L283.1,668.2" stroke="#8c6ea0" stroke-width="4.2"/>
<path d="M283.1,668.2 L275.5,661.2" stroke="#dcd81e" stroke-width="4.2"/>
<path d="M290.8,675.2 L283.1,682.2" stroke="#8c6ea0" stroke-width="4.2"/>
<path d="M283.1,682.2 L275.5,689.2" stroke="#dcd81e" stroke-width="4.2"/>
<path d="M314.6,675.2 L318.9,668.2" stroke="#8c6ea0" stroke-width="4.2"/>
<path d="M318.9,668.2 L323.1,661.2" stroke="#dcd81e" stroke-width="4.2"/>
<path d="M314.6,675.2 L318.9,682.2" stroke="#8c6ea0" stroke-width="4.2"/>
<path d="M318.9,682.2 L323.1,689.2" stroke="#dcd81e" stroke-width="4.2"/>
<path d="M314.6,675.2 L307.0,668.2" stroke="#8c6ea0" stroke-width="4.2"/>
<path d="M307.0,668.2 L299.3,661.2" stroke="#dcd81e" stroke-width="4.2"/>
<path d="M314.6,675.2 L307.0,682.2" stroke="#8c6ea0" stroke-width="4.2"/>
<path d="M307.0,682.2 L299.3,689.2" stroke="#dcd81e" stroke-width="4.2"/>
<path d="M338.5,675.2 L342.8,668.2" stroke="#8c6ea0" stroke-width="4.2"/>
<path d="M342.8,668.2 L347.0,661.2" stroke="#dcd81e" stroke-width="4.2"/>
<path d="M338.5,675.2 L342.8,682.2" stroke="#8c6ea0" stroke-width="4.2"/>
<path d="M342.8,682.2 L347.0,689.2" stroke="#dcd81e" stroke-width="4.2"/>
<path d="M338.5,675.2 L330.8,668.2" stroke="#8c6ea0" stroke-width="4.2"/>
<path d="M330.8,668.2 L323.1,661.2" stroke="#dcd81e" stroke-width="4.2"/>
<path d="M338.5,675.2 L330.8,682.2" stroke="#8c6ea0" stroke-width="4.2"/>
<path d="M330.8,682.2 L323.1,689.2" stroke="#dcd81e" stroke-width="4.2"/>
<path d="M362.4,675.2 L366.6,668.2" stroke="#8c6ea0" stroke-width="4.2"/>
<path d="M366.6,668.2 L370.9,661.2" stroke="#dcd81e" stroke-width="4.2"/>
<path d="M362.4,675.2 L366.6,682.2" stroke="#8c6ea0" stroke-width="4.2"/>
<path d="M366.6,682.2 L370.9,689.2" stroke="#dcd81e" stroke-width="4.2"/>
<path d="M362.4,675.2 L354.7,668.2" stroke="#8c6ea0" stroke-width="4.2"/>
<path d="M354.7,668.2 L347.0,661.2" stroke="#dcd81e" stroke-width="4.2"/>
<path d="M362.4,675.2 L354.7,682.2" stroke="#8c6ea0" stroke-width="4.2"/>
<path d="M354.7,682.2 L347.0,689.2" stroke="#dcd81e" stroke-width="4.2"/>
<path d="M386.2,675.2 L390.5,668.2" stroke="#8c6ea0" stroke-width="4.2"/>
<path d="M390.5,668.2 L394.7,661.2" stroke="#dcd81e" stroke-width="4.2"/>
<path d="M386.2,675.2 L390.5,682.2" stroke="#8c6ea0" stroke-width="4.2"/>
<path d="M390.5,682.2 L394.7,689.2" stroke="#dcd81e" stroke-width="4.2"/>
<path d="M386.2,675.2 L378.5,668.2" stroke="#8c6ea0" stroke-width="4.2"/>
<path d="M378.5,668.2 L370.9,661.2" stroke="#dcd81e" stroke-width="4.2"/>
<path d="M386.2,675.2 L378.5,682.2" stroke="#8c6ea0" stroke-width="4.2"/>
<path d="M378.5,682.2 L370.9,689.2" stroke="#dcd81e" stroke-width="4.2"/>
<path d="M410.1,675.2 L414.3,668.2" stroke="#8c6ea0" stroke-width="4.2"/>
<path d="M414.3,668.2 L418.6,661.2" stroke="#dcd81e" stroke-width="4.2"/>
<path d="M410.1,675.2 L414.3,682.2" stroke="#8c6ea0" stroke-width="4.2"/>
<path d="M414.3,682.2 L418.6,689.2" stroke="#dcd81e" stroke-width="4.2"/>
<path d="M410.1,675.2 L402.4,668.2" stroke="#8c6ea0" stroke-width="4.2"/>
<path d="M402.4,668.2 L394.7,661.2" stroke="#dcd81e" stroke-width="4.2"/>
<path d="M410.1,675.2 L402.4,682.2" stroke="#8c6ea0" stroke-width="4.2"/>
<path d="M402.4,682.2 L394.7,689.2" stroke="#dcd81e" stroke-width="4.2"/>
<path d="M433.9,675.2 L438.1,668.2" stroke="#8c6ea0" stroke-width="4.2"/>
<path d="M438.1,668.2 L442.4,661.2" stroke="#dcd81e" stroke-width="4.2"/>
<path d="M433.9,675.2 L438.1,682.2" stroke="#8c6ea0" stroke-width="4.2"/>
<path d="M438.1,682.2 L442.4,689.2" stroke="#dcd81e" stroke-width="4.2"/>
<path d="M433.9,675.2 L426.2,668.2" stroke="#8c6ea0" stroke-width="4.2"/>
<path d="M426.2,668.2 L418.6,661.2" stroke="#dcd81e" stroke-width="4.2"/>
<path d="M433.9,675.2 L426.2,682.2" stroke="#8c6ea0" stroke-width="4.2"/>
<path d="M426.2,682.2 L418.6,689.2" stroke="#dcd81e" stroke-width="4.2"/>
<path d="M457.8,675.2 L462.0,668.2" stroke="#8c6ea0" stroke-width="4.2"/>
<path d="M462.0,668.2 L466.2,661.2" stroke="#dcd81e" stroke-width="4.2"/>
<path d="M457.8,675.2 L462.0,682.2" stroke="#8c6ea0" stroke-width="4.2"/>
<path d="M462.0,682.2 L466.2,689.2" stroke="#dcd81e" stroke-width="4.2"/>
<path d="M457.8,675.2 L450.1,668.2" stroke="#8c6ea0" stroke-width="4.2"/>
<path d="M450.1,668.2 L442.4,661.2" stroke="#dcd81e" stroke-width="4.2"/>
<path d="M457.8,675.2 L450.1,682.2" stroke="#8c6ea0" stroke-width="4.2"/>
<path d="M450.1,682.2 L442.4,689.2" stroke="#dcd81e" stroke-width="4.2"/>
<path d="M481.6,675.2 L485.9,668.2" stroke="#8c6ea0" stroke-width="4.2"/>
<path d="M485.9,668.2 L490.1,661.2" stroke="#dcd81e" stroke-width="4.2"/>
<path d="M481.6,675.2 L485.9,682.2" stroke="#8c6ea0" stroke-width="4.2"/>
<path d="M485.9,682.2 L490.1,689.2" stroke="#dcd81e" stroke-width="4.2"/>
<path d="M481.6,675.2 L473.9,668.2" stroke="#8c6ea0" stroke-width="4.2"/>
<path d="M473.9,668.2 L466.2,661.2" stroke="#dcd81e" stroke-width="4.2"/>
<path d="M481.6,675.2 L473.9,682.2" stroke="#8c6ea0" stroke-width="4.2"/>
<path d="M473.9,682.2 L466.2,689.2" stroke="#dcd81e" stroke-width="4.2"/>
<path d="M505.5,675.2 L509.7,668.2" stroke="#8c6ea0" stroke-width="4.2"/>
<path d="M509.7,668.2 L514.0,661.2" stroke="#dcd81e" stroke-width="4.2"/>
<path d="M505.5,675.2 L509.7,682.2" stroke="#8c6ea0" stroke-width="4.2"/>
<path d="M509.7,682.2 L514.0,689.2" stroke="#dcd81e" stroke-width="4.2"/>
<path d="M505.5,675.2 L497.8,668.2" stroke="#8c6ea0" stroke-width="4.2"/>
<path d="M497.8,668.2 L490.1,661.2" stroke="#dcd81e" stroke-width="4.2"/>
<path d="M505.5,675.2 L497.8,682.2" stroke="#8c6ea0" stroke-width="4.2"/>
<path d="M497.8,682.2 L490.1,689.2" stroke="#dcd81e" stroke-width="4.2"/>
<circle cx="195.4" cy="675.2" r="4.4" fill="#8a6a9e"/><circle cx="195.1" cy="675.2" r="2" fill="#fff"/>
<circle cx="203.9" cy="661.2" r="3.7" fill="url(#gS)"/>
<circle cx="203.9" cy="689.2" r="3.7" fill="url(#gS)"/>
<circle cx="219.2" cy="675.2" r="4.4" fill="#8a6a9e"/><circle cx="218.9" cy="675.2" r="2" fill="#fff"/>
<circle cx="227.8" cy="661.2" r="3.7" fill="url(#gS)"/>
<circle cx="227.8" cy="689.2" r="3.7" fill="url(#gS)"/>
<circle cx="243.1" cy="675.2" r="4.4" fill="#8a6a9e"/><circle cx="242.8" cy="675.2" r="2" fill="#fff"/>
<circle cx="251.6" cy="661.2" r="3.7" fill="url(#gS)"/>
<circle cx="251.6" cy="689.2" r="3.7" fill="url(#gS)"/>
<circle cx="267.0" cy="675.2" r="4.4" fill="#8a6a9e"/><circle cx="266.7" cy="675.2" r="2" fill="#fff"/>
<circle cx="275.5" cy="661.2" r="3.7" fill="url(#gS)"/>
<circle cx="275.5" cy="689.2" r="3.7" fill="url(#gS)"/>
<circle cx="290.8" cy="675.2" r="4.4" fill="#8a6a9e"/><circle cx="290.5" cy="675.2" r="2" fill="#fff"/>
<circle cx="299.3" cy="661.2" r="3.7" fill="url(#gS)"/>
<circle cx="299.3" cy="689.2" r="3.7" fill="url(#gS)"/>
<circle cx="314.6" cy="675.2" r="4.4" fill="#8a6a9e"/><circle cx="314.3" cy="675.2" r="2" fill="#fff"/>
<circle cx="323.1" cy="661.2" r="3.7" fill="url(#gS)"/>
<circle cx="323.1" cy="689.2" r="3.7" fill="url(#gS)"/>
<circle cx="338.5" cy="675.2" r="4.4" fill="#8a6a9e"/><circle cx="338.2" cy="675.2" r="2" fill="#fff"/>
<circle cx="347.0" cy="661.2" r="3.7" fill="url(#gS)"/>
<circle cx="347.0" cy="689.2" r="3.7" fill="url(#gS)"/>
<circle cx="362.4" cy="675.2" r="4.4" fill="#8a6a9e"/><circle cx="362.1" cy="675.2" r="2" fill="#fff"/>
<circle cx="370.9" cy="661.2" r="3.7" fill="url(#gS)"/>
<circle cx="370.9" cy="689.2" r="3.7" fill="url(#gS)"/>
<circle cx="386.2" cy="675.2" r="4.4" fill="#8a6a9e"/><circle cx="385.9" cy="675.2" r="2" fill="#fff"/>
<circle cx="394.7" cy="661.2" r="3.7" fill="url(#gS)"/>
<circle cx="394.7" cy="689.2" r="3.7" fill="url(#gS)"/>
<circle cx="410.1" cy="675.2" r="4.4" fill="#8a6a9e"/><circle cx="409.8" cy="675.2" r="2" fill="#fff"/>
<circle cx="418.6" cy="661.2" r="3.7" fill="url(#gS)"/>
<circle cx="418.6" cy="689.2" r="3.7" fill="url(#gS)"/>
<circle cx="433.9" cy="675.2" r="4.4" fill="#8a6a9e"/><circle cx="433.6" cy="675.2" r="2" fill="#fff"/>
<circle cx="442.4" cy="661.2" r="3.7" fill="url(#gS)"/>
<circle cx="442.4" cy="689.2" r="3.7" fill="url(#gS)"/>
<circle cx="457.8" cy="675.2" r="4.4" fill="#8a6a9e"/><circle cx="457.4" cy="675.2" r="2" fill="#fff"/>
<circle cx="466.2" cy="661.2" r="3.7" fill="url(#gS)"/>
<circle cx="466.2" cy="689.2" r="3.7" fill="url(#gS)"/>
<circle cx="481.6" cy="675.2" r="4.4" fill="#8a6a9e"/><circle cx="481.3" cy="675.2" r="2" fill="#fff"/>
<circle cx="490.1" cy="661.2" r="3.7" fill="url(#gS)"/>
<circle cx="490.1" cy="689.2" r="3.7" fill="url(#gS)"/>
<circle cx="505.5" cy="675.2" r="4.4" fill="#8a6a9e"/><circle cx="505.2" cy="675.2" r="2" fill="#fff"/>
<circle cx="514.0" cy="661.2" r="3.7" fill="url(#gS)"/>
<circle cx="514.0" cy="689.2" r="3.7" fill="url(#gS)"/>
<path d="M505.5,714.8 L473.3,703.6 L480.5,715.4 L514.0,728.8 Z" fill="#c8c43a"/>
<path d="M505.5,742.7 L473.3,727.3 L480.5,715.4 L514.0,728.8 Z" fill="#a48eb2"/>
<path d="M505.5,714.8 L473.3,703.6" stroke="#d8d41c" stroke-width="7" stroke-linecap="round"/>
<path d="M505.5,742.7 L473.3,727.3" stroke="#d0cc18" stroke-width="7" stroke-linecap="round"/>
<path d="M514.0,728.8 L480.5,715.4" stroke="#7c5e90" stroke-width="8" stroke-linecap="round"/>
<path d="M481.6,714.8 L453.0,703.6 L460.2,715.4 L490.1,728.8 Z" fill="#c8c43a"/>
<path d="M481.6,742.7 L453.0,727.3 L460.2,715.4 L490.1,728.8 Z" fill="#a48eb2"/>
<path d="M481.6,714.8 L453.0,703.6" stroke="#d8d41c" stroke-width="7" stroke-linecap="round"/>
<path d="M481.6,742.7 L453.0,727.3" stroke="#d0cc18" stroke-width="7" stroke-linecap="round"/>
<path d="M490.1,728.8 L460.2,715.4" stroke="#7c5e90" stroke-width="8" stroke-linecap="round"/>
<path d="M457.8,714.8 L432.7,703.6 L440.0,715.4 L466.2,728.8 Z" fill="#c8c43a"/>
<path d="M457.8,742.7 L432.7,727.3 L440.0,715.4 L466.2,728.8 Z" fill="#a48eb2"/>
<path d="M457.8,714.8 L432.7,703.6" stroke="#d8d41c" stroke-width="7" stroke-linecap="round"/>
<path d="M457.8,742.7 L432.7,727.3" stroke="#d0cc18" stroke-width="7" stroke-linecap="round"/>
<path d="M466.2,728.8 L440.0,715.4" stroke="#7c5e90" stroke-width="8" stroke-linecap="round"/>
<path d="M433.9,714.8 L412.5,703.6 L419.7,715.4 L442.4,728.8 Z" fill="#c8c43a"/>
<path d="M433.9,742.7 L412.5,727.3 L419.7,715.4 L442.4,728.8 Z" fill="#a48eb2"/>
<path d="M433.9,714.8 L412.5,703.6" stroke="#d8d41c" stroke-width="7" stroke-linecap="round"/>
<path d="M433.9,742.7 L412.5,727.3" stroke="#d0cc18" stroke-width="7" stroke-linecap="round"/>
<path d="M442.4,728.8 L419.7,715.4" stroke="#7c5e90" stroke-width="8" stroke-linecap="round"/>
<path d="M410.1,714.8 L392.2,703.6 L399.4,715.4 L418.6,728.8 Z" fill="#c8c43a"/>
<path d="M410.1,742.7 L392.2,727.3 L399.4,715.4 L418.6,728.8 Z" fill="#a48eb2"/>
<path d="M410.1,714.8 L392.2,703.6" stroke="#d8d41c" stroke-width="7" stroke-linecap="round"/>
<path d="M410.1,742.7 L392.2,727.3" stroke="#d0cc18" stroke-width="7" stroke-linecap="round"/>
<path d="M418.6,728.8 L399.4,715.4" stroke="#7c5e90" stroke-width="8" stroke-linecap="round"/>
<path d="M386.2,714.8 L371.9,703.6 L379.1,715.4 L394.7,728.8 Z" fill="#c8c43a"/>
<path d="M386.2,742.7 L371.9,727.3 L379.1,715.4 L394.7,728.8 Z" fill="#a48eb2"/>
<path d="M386.2,714.8 L371.9,703.6" stroke="#d8d41c" stroke-width="7" stroke-linecap="round"/>
<path d="M386.2,742.7 L371.9,727.3" stroke="#d0cc18" stroke-width="7" stroke-linecap="round"/>
<path d="M394.7,728.8 L379.1,715.4" stroke="#7c5e90" stroke-width="8" stroke-linecap="round"/>
<path d="M195.4,714.8 L209.7,703.6 L217.0,715.4 L203.9,728.8 Z" fill="#c8c43a"/>
<path d="M195.4,742.7 L209.7,727.3 L217.0,715.4 L203.9,728.8 Z" fill="#a48eb2"/>
<path d="M195.4,714.8 L209.7,703.6" stroke="#d8d41c" stroke-width="7" stroke-linecap="round"/>
<path d="M195.4,742.7 L209.7,727.3" stroke="#d0cc18" stroke-width="7" stroke-linecap="round"/>
<path d="M203.9,728.8 L217.0,715.4" stroke="#7c5e90" stroke-width="8" stroke-linecap="round"/>
<path d="M362.4,714.8 L351.6,703.6 L358.9,715.4 L370.9,728.8 Z" fill="#c8c43a"/>
<path d="M362.4,742.7 L351.6,727.3 L358.9,715.4 L370.9,728.8 Z" fill="#a48eb2"/>
<path d="M362.4,714.8 L351.6,703.6" stroke="#d8d41c" stroke-width="7" stroke-linecap="round"/>
<path d="M362.4,742.7 L351.6,727.3" stroke="#d0cc18" stroke-width="7" stroke-linecap="round"/>
<path d="M370.9,728.8 L358.9,715.4" stroke="#7c5e90" stroke-width="8" stroke-linecap="round"/>
<path d="M219.2,714.8 L230.0,703.6 L237.2,715.4 L227.8,728.8 Z" fill="#c8c43a"/>
<path d="M219.2,742.7 L230.0,727.3 L237.2,715.4 L227.8,728.8 Z" fill="#a48eb2"/>
<path d="M219.2,714.8 L230.0,703.6" stroke="#d8d41c" stroke-width="7" stroke-linecap="round"/>
<path d="M219.2,742.7 L230.0,727.3" stroke="#d0cc18" stroke-width="7" stroke-linecap="round"/>
<path d="M227.8,728.8 L237.2,715.4" stroke="#7c5e90" stroke-width="8" stroke-linecap="round"/>
<path d="M338.5,714.8 L331.4,703.6 L338.6,715.4 L347.0,728.8 Z" fill="#c8c43a"/>
<path d="M338.5,742.7 L331.4,727.3 L338.6,715.4 L347.0,728.8 Z" fill="#a48eb2"/>
<path d="M338.5,714.8 L331.4,703.6" stroke="#d8d41c" stroke-width="7" stroke-linecap="round"/>
<path d="M338.5,742.7 L331.4,727.3" stroke="#d0cc18" stroke-width="7" stroke-linecap="round"/>
<path d="M347.0,728.8 L338.6,715.4" stroke="#7c5e90" stroke-width="8" stroke-linecap="round"/>
<path d="M243.1,714.8 L250.3,703.6 L257.5,715.4 L251.6,728.8 Z" fill="#c8c43a"/>
<path d="M243.1,742.7 L250.3,727.3 L257.5,715.4 L251.6,728.8 Z" fill="#a48eb2"/>
<path d="M243.1,714.8 L250.3,703.6" stroke="#d8d41c" stroke-width="7" stroke-linecap="round"/>
<path d="M243.1,742.7 L250.3,727.3" stroke="#d0cc18" stroke-width="7" stroke-linecap="round"/>
<path d="M251.6,728.8 L257.5,715.4" stroke="#7c5e90" stroke-width="8" stroke-linecap="round"/>
<path d="M314.6,714.8 L311.1,703.6 L318.3,715.4 L323.1,728.8 Z" fill="#c8c43a"/>
<path d="M314.6,742.7 L311.1,727.3 L318.3,715.4 L323.1,728.8 Z" fill="#a48eb2"/>
<path d="M314.6,714.8 L311.1,703.6" stroke="#d8d41c" stroke-width="7" stroke-linecap="round"/>
<path d="M314.6,742.7 L311.1,727.3" stroke="#d0cc18" stroke-width="7" stroke-linecap="round"/>
<path d="M323.1,728.8 L318.3,715.4" stroke="#7c5e90" stroke-width="8" stroke-linecap="round"/>
<path d="M267.0,714.8 L270.6,703.6 L277.8,715.4 L275.5,728.8 Z" fill="#c8c43a"/>
<path d="M267.0,742.7 L270.6,727.3 L277.8,715.4 L275.5,728.8 Z" fill="#a48eb2"/>
<path d="M267.0,714.8 L270.6,703.6" stroke="#d8d41c" stroke-width="7" stroke-linecap="round"/>
<path d="M267.0,742.7 L270.6,727.3" stroke="#d0cc18" stroke-width="7" stroke-linecap="round"/>
<path d="M275.5,728.8 L277.8,715.4" stroke="#7c5e90" stroke-width="8" stroke-linecap="round"/>
<path d="M290.8,714.8 L290.8,703.6 L298.1,715.4 L299.3,728.8 Z" fill="#c8c43a"/>
<path d="M290.8,742.7 L290.8,727.3 L298.1,715.4 L299.3,728.8 Z" fill="#a48eb2"/>
<path d="M290.8,714.8 L290.8,703.6" stroke="#d8d41c" stroke-width="7" stroke-linecap="round"/>
<path d="M290.8,742.7 L290.8,727.3" stroke="#d0cc18" stroke-width="7" stroke-linecap="round"/>
<path d="M299.3,728.8 L298.1,715.4" stroke="#7c5e90" stroke-width="8" stroke-linecap="round"/>
<path d="M203.9,728.8 L199.7,721.8" stroke="#8c6ea0" stroke-width="4.2"/>
<path d="M199.7,721.8 L195.4,714.8" stroke="#dcd81e" stroke-width="4.2"/>
<path d="M203.9,728.8 L199.7,735.7" stroke="#8c6ea0" stroke-width="4.2"/>
<path d="M199.7,735.7 L195.4,742.7" stroke="#dcd81e" stroke-width="4.2"/>
<path d="M227.8,728.8 L223.5,721.8" stroke="#8c6ea0" stroke-width="4.2"/>
<path d="M223.5,721.8 L219.2,714.8" stroke="#dcd81e" stroke-width="4.2"/>
<path d="M227.8,728.8 L223.5,735.7" stroke="#8c6ea0" stroke-width="4.2"/>
<path d="M223.5,735.7 L219.2,742.7" stroke="#dcd81e" stroke-width="4.2"/>
<path d="M227.8,728.8 L211.6,721.8" stroke="#8c6ea0" stroke-width="4.2"/>
<path d="M211.6,721.8 L195.4,714.8" stroke="#dcd81e" stroke-width="4.2"/>
<path d="M227.8,728.8 L211.6,735.7" stroke="#8c6ea0" stroke-width="4.2"/>
<path d="M211.6,735.7 L195.4,742.7" stroke="#dcd81e" stroke-width="4.2"/>
<path d="M251.6,728.8 L247.4,721.8" stroke="#8c6ea0" stroke-width="4.2"/>
<path d="M247.4,721.8 L243.1,714.8" stroke="#dcd81e" stroke-width="4.2"/>
<path d="M251.6,728.8 L247.4,735.7" stroke="#8c6ea0" stroke-width="4.2"/>
<path d="M247.4,735.7 L243.1,742.7" stroke="#dcd81e" stroke-width="4.2"/>
<path d="M251.6,728.8 L235.4,721.8" stroke="#8c6ea0" stroke-width="4.2"/>
<path d="M235.4,721.8 L219.2,714.8" stroke="#dcd81e" stroke-width="4.2"/>
<path d="M251.6,728.8 L235.4,735.7" stroke="#8c6ea0" stroke-width="4.2"/>
<path d="M235.4,735.7 L219.2,742.7" stroke="#dcd81e" stroke-width="4.2"/>
<path d="M275.5,728.8 L271.2,721.8" stroke="#8c6ea0" stroke-width="4.2"/>
<path d="M271.2,721.8 L267.0,714.8" stroke="#dcd81e" stroke-width="4.2"/>
<path d="M275.5,728.8 L271.2,735.7" stroke="#8c6ea0" stroke-width="4.2"/>
<path d="M271.2,735.7 L267.0,742.7" stroke="#dcd81e" stroke-width="4.2"/>
<path d="M275.5,728.8 L259.3,721.8" stroke="#8c6ea0" stroke-width="4.2"/>
<path d="M259.3,721.8 L243.1,714.8" stroke="#dcd81e" stroke-width="4.2"/>
<path d="M275.5,728.8 L259.3,735.7" stroke="#8c6ea0" stroke-width="4.2"/>
<path d="M259.3,735.7 L243.1,742.7" stroke="#dcd81e" stroke-width="4.2"/>
<path d="M299.3,728.8 L295.1,721.8" stroke="#8c6ea0" stroke-width="4.2"/>
<path d="M295.1,721.8 L290.8,714.8" stroke="#dcd81e" stroke-width="4.2"/>
<path d="M299.3,728.8 L295.1,735.7" stroke="#8c6ea0" stroke-width="4.2"/>
<path d="M295.1,735.7 L290.8,742.7" stroke="#dcd81e" stroke-width="4.2"/>
<path d="M299.3,728.8 L283.1,721.8" stroke="#8c6ea0" stroke-width="4.2"/>
<path d="M283.1,721.8 L267.0,714.8" stroke="#dcd81e" stroke-width="4.2"/>
<path d="M299.3,728.8 L283.1,735.7" stroke="#8c6ea0" stroke-width="4.2"/>
<path d="M283.1,735.7 L267.0,742.7" stroke="#dcd81e" stroke-width="4.2"/>
<path d="M323.1,728.8 L318.9,721.8" stroke="#8c6ea0" stroke-width="4.2"/>
<path d="M318.9,721.8 L314.6,714.8" stroke="#dcd81e" stroke-width="4.2"/>
<path d="M323.1,728.8 L318.9,735.7" stroke="#8c6ea0" stroke-width="4.2"/>
<path d="M318.9,735.7 L314.6,742.7" stroke="#dcd81e" stroke-width="4.2"/>
<path d="M323.1,728.8 L307.0,721.8" stroke="#8c6ea0" stroke-width="4.2"/>
<path d="M307.0,721.8 L290.8,714.8" stroke="#dcd81e" stroke-width="4.2"/>
<path d="M323.1,728.8 L307.0,735.7" stroke="#8c6ea0" stroke-width="4.2"/>
<path d="M307.0,735.7 L290.8,742.7" stroke="#dcd81e" stroke-width="4.2"/>
<path d="M347.0,728.8 L342.8,721.8" stroke="#8c6ea0" stroke-width="4.2"/>
<path d="M342.8,721.8 L338.5,714.8" stroke="#dcd81e" stroke-width="4.2"/>
<path d="M347.0,728.8 L342.8,735.7" stroke="#8c6ea0" stroke-width="4.2"/>
<path d="M342.8,735.7 L338.5,742.7" stroke="#dcd81e" stroke-width="4.2"/>
<path d="M347.0,728.8 L330.8,721.8" stroke="#8c6ea0" stroke-width="4.2"/>
<path d="M330.8,721.8 L314.6,714.8" stroke="#dcd81e" stroke-width="4.2"/>
<path d="M347.0,728.8 L330.8,735.7" stroke="#8c6ea0" stroke-width="4.2"/>
<path d="M330.8,735.7 L314.6,742.7" stroke="#dcd81e" stroke-width="4.2"/>
<path d="M370.9,728.8 L366.6,721.8" stroke="#8c6ea0" stroke-width="4.2"/>
<path d="M366.6,721.8 L362.4,714.8" stroke="#dcd81e" stroke-width="4.2"/>
<path d="M370.9,728.8 L366.6,735.7" stroke="#8c6ea0" stroke-width="4.2"/>
<path d="M366.6,735.7 L362.4,742.7" stroke="#dcd81e" stroke-width="4.2"/>
<path d="M370.9,728.8 L354.7,721.8" stroke="#8c6ea0" stroke-width="4.2"/>
<path d="M354.7,721.8 L338.5,714.8" stroke="#dcd81e" stroke-width="4.2"/>
<path d="M370.9,728.8 L354.7,735.7" stroke="#8c6ea0" stroke-width="4.2"/>
<path d="M354.7,735.7 L338.5,742.7" stroke="#dcd81e" stroke-width="4.2"/>
<path d="M394.7,728.8 L390.5,721.8" stroke="#8c6ea0" stroke-width="4.2"/>
<path d="M390.5,721.8 L386.2,714.8" stroke="#dcd81e" stroke-width="4.2"/>
<path d="M394.7,728.8 L390.5,735.7" stroke="#8c6ea0" stroke-width="4.2"/>
<path d="M390.5,735.7 L386.2,742.7" stroke="#dcd81e" stroke-width="4.2"/>
<path d="M394.7,728.8 L378.5,721.8" stroke="#8c6ea0" stroke-width="4.2"/>
<path d="M378.5,721.8 L362.4,714.8" stroke="#dcd81e" stroke-width="4.2"/>
<path d="M394.7,728.8 L378.5,735.7" stroke="#8c6ea0" stroke-width="4.2"/>
<path d="M378.5,735.7 L362.4,742.7" stroke="#dcd81e" stroke-width="4.2"/>
<path d="M418.6,728.8 L414.3,721.8" stroke="#8c6ea0" stroke-width="4.2"/>
<path d="M414.3,721.8 L410.1,714.8" stroke="#dcd81e" stroke-width="4.2"/>
<path d="M418.6,728.8 L414.3,735.7" stroke="#8c6ea0" stroke-width="4.2"/>
<path d="M414.3,735.7 L410.1,742.7" stroke="#dcd81e" stroke-width="4.2"/>
<path d="M418.6,728.8 L402.4,721.8" stroke="#8c6ea0" stroke-width="4.2"/>
<path d="M402.4,721.8 L386.2,714.8" stroke="#dcd81e" stroke-width="4.2"/>
<path d="M418.6,728.8 L402.4,735.7" stroke="#8c6ea0" stroke-width="4.2"/>
<path d="M402.4,735.7 L386.2,742.7" stroke="#dcd81e" stroke-width="4.2"/>
<path d="M442.4,728.8 L438.1,721.8" stroke="#8c6ea0" stroke-width="4.2"/>
<path d="M438.1,721.8 L433.9,714.8" stroke="#dcd81e" stroke-width="4.2"/>
<path d="M442.4,728.8 L438.1,735.7" stroke="#8c6ea0" stroke-width="4.2"/>
<path d="M438.1,735.7 L433.9,742.7" stroke="#dcd81e" stroke-width="4.2"/>
<path d="M442.4,728.8 L426.2,721.8" stroke="#8c6ea0" stroke-width="4.2"/>
<path d="M426.2,721.8 L410.1,714.8" stroke="#dcd81e" stroke-width="4.2"/>
<path d="M442.4,728.8 L426.2,735.7" stroke="#8c6ea0" stroke-width="4.2"/>
<path d="M426.2,735.7 L410.1,742.7" stroke="#dcd81e" stroke-width="4.2"/>
<path d="M466.2,728.8 L462.0,721.8" stroke="#8c6ea0" stroke-width="4.2"/>
<path d="M462.0,721.8 L457.8,714.8" stroke="#dcd81e" stroke-width="4.2"/>
<path d="M466.2,728.8 L462.0,735.7" stroke="#8c6ea0" stroke-width="4.2"/>
<path d="M462.0,735.7 L457.8,742.7" stroke="#dcd81e" stroke-width="4.2"/>
<path d="M466.2,728.8 L450.1,721.8" stroke="#8c6ea0" stroke-width="4.2"/>
<path d="M450.1,721.8 L433.9,714.8" stroke="#dcd81e" stroke-width="4.2"/>
<path d="M466.2,728.8 L450.1,735.7" stroke="#8c6ea0" stroke-width="4.2"/>
<path d="M450.1,735.7 L433.9,742.7" stroke="#dcd81e" stroke-width="4.2"/>
<path d="M490.1,728.8 L485.9,721.8" stroke="#8c6ea0" stroke-width="4.2"/>
<path d="M485.9,721.8 L481.6,714.8" stroke="#dcd81e" stroke-width="4.2"/>
<path d="M490.1,728.8 L485.9,735.7" stroke="#8c6ea0" stroke-width="4.2"/>
<path d="M485.9,735.7 L481.6,742.7" stroke="#dcd81e" stroke-width="4.2"/>
<path d="M490.1,728.8 L473.9,721.8" stroke="#8c6ea0" stroke-width="4.2"/>
<path d="M473.9,721.8 L457.8,714.8" stroke="#dcd81e" stroke-width="4.2"/>
<path d="M490.1,728.8 L473.9,735.7" stroke="#8c6ea0" stroke-width="4.2"/>
<path d="M473.9,735.7 L457.8,742.7" stroke="#dcd81e" stroke-width="4.2"/>
<path d="M514.0,728.8 L509.7,721.8" stroke="#8c6ea0" stroke-width="4.2"/>
<path d="M509.7,721.8 L505.5,714.8" stroke="#dcd81e" stroke-width="4.2"/>
<path d="M514.0,728.8 L509.7,735.7" stroke="#8c6ea0" stroke-width="4.2"/>
<path d="M509.7,735.7 L505.5,742.7" stroke="#dcd81e" stroke-width="4.2"/>
<path d="M514.0,728.8 L497.8,721.8" stroke="#8c6ea0" stroke-width="4.2"/>
<path d="M497.8,721.8 L481.6,714.8" stroke="#dcd81e" stroke-width="4.2"/>
<path d="M514.0,728.8 L497.8,735.7" stroke="#8c6ea0" stroke-width="4.2"/>
<path d="M497.8,735.7 L481.6,742.7" stroke="#dcd81e" stroke-width="4.2"/>
<circle cx="203.9" cy="728.8" r="4.4" fill="#8a6a9e"/><circle cx="203.6" cy="728.8" r="2" fill="#fff"/>
<circle cx="195.4" cy="714.8" r="3.7" fill="url(#gS)"/>
<circle cx="195.4" cy="742.7" r="3.7" fill="url(#gS)"/>
<circle cx="227.8" cy="728.8" r="4.4" fill="#8a6a9e"/><circle cx="227.4" cy="728.8" r="2" fill="#fff"/>
<circle cx="219.2" cy="714.8" r="3.7" fill="url(#gS)"/>
<circle cx="219.2" cy="742.7" r="3.7" fill="url(#gS)"/>
<circle cx="251.6" cy="728.8" r="4.4" fill="#8a6a9e"/><circle cx="251.3" cy="728.8" r="2" fill="#fff"/>
<circle cx="243.1" cy="714.8" r="3.7" fill="url(#gS)"/>
<circle cx="243.1" cy="742.7" r="3.7" fill="url(#gS)"/>
<circle cx="275.5" cy="728.8" r="4.4" fill="#8a6a9e"/><circle cx="275.2" cy="728.8" r="2" fill="#fff"/>
<circle cx="267.0" cy="714.8" r="3.7" fill="url(#gS)"/>
<circle cx="267.0" cy="742.7" r="3.7" fill="url(#gS)"/>
<circle cx="299.3" cy="728.8" r="4.4" fill="#8a6a9e"/><circle cx="299.0" cy="728.8" r="2" fill="#fff"/>
<circle cx="290.8" cy="714.8" r="3.7" fill="url(#gS)"/>
<circle cx="290.8" cy="742.7" r="3.7" fill="url(#gS)"/>
<circle cx="323.1" cy="728.8" r="4.4" fill="#8a6a9e"/><circle cx="322.8" cy="728.8" r="2" fill="#fff"/>
<circle cx="314.6" cy="714.8" r="3.7" fill="url(#gS)"/>
<circle cx="314.6" cy="742.7" r="3.7" fill="url(#gS)"/>
<circle cx="347.0" cy="728.8" r="4.4" fill="#8a6a9e"/><circle cx="346.7" cy="728.8" r="2" fill="#fff"/>
<circle cx="338.5" cy="714.8" r="3.7" fill="url(#gS)"/>
<circle cx="338.5" cy="742.7" r="3.7" fill="url(#gS)"/>
<circle cx="370.9" cy="728.8" r="4.4" fill="#8a6a9e"/><circle cx="370.6" cy="728.8" r="2" fill="#fff"/>
<circle cx="362.4" cy="714.8" r="3.7" fill="url(#gS)"/>
<circle cx="362.4" cy="742.7" r="3.7" fill="url(#gS)"/>
<circle cx="394.7" cy="728.8" r="4.4" fill="#8a6a9e"/><circle cx="394.4" cy="728.8" r="2" fill="#fff"/>
<circle cx="386.2" cy="714.8" r="3.7" fill="url(#gS)"/>
<circle cx="386.2" cy="742.7" r="3.7" fill="url(#gS)"/>
<circle cx="418.6" cy="728.8" r="4.4" fill="#8a6a9e"/><circle cx="418.2" cy="728.8" r="2" fill="#fff"/>
<circle cx="410.1" cy="714.8" r="3.7" fill="url(#gS)"/>
<circle cx="410.1" cy="742.7" r="3.7" fill="url(#gS)"/>
<circle cx="442.4" cy="728.8" r="4.4" fill="#8a6a9e"/><circle cx="442.1" cy="728.8" r="2" fill="#fff"/>
<circle cx="433.9" cy="714.8" r="3.7" fill="url(#gS)"/>
<circle cx="433.9" cy="742.7" r="3.7" fill="url(#gS)"/>
<circle cx="466.2" cy="728.8" r="4.4" fill="#8a6a9e"/><circle cx="465.9" cy="728.8" r="2" fill="#fff"/>
<circle cx="457.8" cy="714.8" r="3.7" fill="url(#gS)"/>
<circle cx="457.8" cy="742.7" r="3.7" fill="url(#gS)"/>
<circle cx="490.1" cy="728.8" r="4.4" fill="#8a6a9e"/><circle cx="489.8" cy="728.8" r="2" fill="#fff"/>
<circle cx="481.6" cy="714.8" r="3.7" fill="url(#gS)"/>
<circle cx="481.6" cy="742.7" r="3.7" fill="url(#gS)"/>
<circle cx="514.0" cy="728.8" r="4.4" fill="#8a6a9e"/><circle cx="513.7" cy="728.8" r="2" fill="#fff"/>
<circle cx="505.5" cy="714.8" r="3.7" fill="url(#gS)"/>
<circle cx="505.5" cy="742.7" r="3.7" fill="url(#gS)"/>
<path d="M259.2,550.4 L273.6,550.4 L273.6,621.6 L281.6,621.6 L266.4,640 L251.2,621.6 L259.2,621.6 Z" fill="#ff1c1c" filter="url(#blur1)"/>
<path d="M305.2,556 L317.6,581.6 L310.4,581.6 L310.4,636 L300.0,636 L300.0,581.6 L292.8,581.6 Z" fill="#1cb050" filter="url(#blur1)"/>
<path d="M416.0,550.4 L430.4,550.4 L430.4,620 L438.4,620 L423.2,640 L408.0,620 L416.0,620 Z" fill="#ff1c1c" filter="url(#blur1)"/>
<path d="M466.4,554.4 L478.4,576.8 L471.6,576.8 L471.6,634.4 L461.2,634.4 L461.2,576.8 L454.4,576.8 Z" fill="#1cb050" filter="url(#blur1)"/>
<path d="M116.0,644.4 L130.4,644.4 L130.4,718 L138.4,718 L123.2,734 L108.0,718 L116.0,718 Z" fill="#ff1c1c" filter="url(#blur1)"/>
<path d="M159.6,650 L171.6,677 L164.8,677 L164.8,732.6 L154.4,732.6 L154.4,677 L147.6,677 Z" fill="#1cb050" filter="url(#blur1)"/>
<path d="M460.5,594.1 L475.5,609.1 M475.5,594.1 L460.5,609.1" stroke="#111" stroke-width="2.4"/>
<path d="M153.3,692.5 L168.3,707.5 M168.3,692.5 L153.3,707.5" stroke="#111" stroke-width="2.4"/>
<text x="227.6" y="603.8" font-size="21" text-anchor="middle" fill="#ff1c1c" font-family="'DejaVu Sans', sans-serif">ω</text>
<text x="332.4" y="603.2" font-size="26.8" fill="#1cb050">2</text>
<text x="355.6" y="603.8" font-size="21" text-anchor="middle" fill="#1cb050" font-family="'DejaVu Sans', sans-serif">ω</text>
<text x="427.2" y="709.6" font-size="23.5" textLength="51.6" lengthAdjust="spacingAndGlyphs">2LM</text>
<text x="16.8" y="770.4" font-size="25.7" textLength="49.0" lengthAdjust="spacingAndGlyphs">1LG</text>
<defs>
<radialGradient id="auG" cx="0.55" cy="0.6" r="0.65"><stop offset="0" stop-color="#fadc1a"/><stop offset="0.6" stop-color="#d8aa18"/><stop offset="1" stop-color="#a87c18"/></radialGradient>
<linearGradient id="slabL" x1="0" y1="0" x2="1" y2="0"><stop offset="0" stop-color="#5a5a5a"/><stop offset="1" stop-color="#6e6e6e"/></linearGradient>
</defs>
<path d="M1150.9,666.5 L1348.2,780.5 L1348.2,806.9 L1150.9,692.9 Z" fill="url(#slabL)" stroke="#222" stroke-width="1"/>
<path d="M1348.2,780.5 L1501,691.5 L1501,717.9 L1348.2,806.9 Z" fill="#a9a9a9" stroke="#222" stroke-width="1"/>
<path d="M1150.9,666.5 L1307.2,580.5 L1501,691.5 L1348.2,780.5 Z" fill="#d3dde6" stroke="#86b2d4" stroke-width="1.6" stroke-linejoin="round"/>
<path d="M1159.9,667.5 L1307.2,586.5 L1491,691.5 L1348.2,774.5 Z" fill="#d8e0e8"/>
<path d="M1206.5,661 L1299.6,609.5 L1434.4,684.6 L1342.6,738.8 Z" fill="#c4c6c9"/>
<text x="1356.0" y="700.0" font-size="15.5" text-anchor="middle" fill="#f4f4f4" transform="rotate(-30 1356.0 700.0)">Graphene</text>
<text x="1425.0" y="667.5" font-size="12" text-anchor="middle" fill="#222" transform="rotate(-28 1425.0 667.5)">SiO₂</text>
<text x="1485.0" y="727.0" font-size="15" text-anchor="middle" fill="#222" transform="rotate(-30 1485.0 727.0)">Si</text>
<path d="M1240,658.8 L1304.5,621.9 L1304.5,627.4 L1240,664.3 Z" fill="#f2b418"/>
<path d="M1212.3,643.4 L1240,658.8 L1240,664.3 L1212.3,648.9 Z" fill="#9a6410"/>
<path d="M1212.3,643.4 L1275.8,606.6 L1304.5,621.9 L1240,658.8 Z" fill="url(#auG)" stroke="#c89a20" stroke-width="0.6" stroke-linejoin="round"/>
<text x="1258.5" y="640.0" font-size="16.3" text-anchor="middle" fill="#111" transform="rotate(-30 1258.5 640.0)">Au (S)</text>
<path d="M1374.6,743 L1442.7,704 L1442.7,709.5 L1374.6,748.5 Z" fill="#f2b418"/>
<path d="M1349.6,724.9 L1374.6,743 L1374.6,748.5 L1349.6,730.4 Z" fill="#9a6410"/>
<path d="M1349.6,724.9 L1417.7,687.4 L1442.7,704 L1374.6,743 Z" fill="url(#auG)" stroke="#c89a20" stroke-width="0.6" stroke-linejoin="round"/>
<text x="1397.0" y="721.0" font-size="16.3" text-anchor="middle" fill="#111" transform="rotate(-30 1397.0 721.0)">Au (D)</text>
<path d="M1287.0,553.3 L1287.1,553.6 L1287.3,554.0 L1287.6,554.3 L1288.0,554.6 L1288.6,555.0 L1289.2,555.3 L1290.0,555.7 L1290.8,556.0 L1291.8,556.3 L1292.7,556.7 L1293.8,557.0 L1294.8,557.3 L1295.9,557.7 L1297.0,558.0 L1298.1,558.4 L1299.2,558.7 L1300.2,559.0 L1301.2,559.4 L1302.1,559.7 L1302.9,560.0 L1303.6,560.4 L1304.2,560.7 L1304.7,561.1 L1305.1,561.4 L1305.4,561.7 L1305.6,562.1 L1305.6,562.4 L1305.5,562.8 L1305.3,563.1 L1304.9,563.4 L1304.4,563.8 L1303.8,564.1 L1303.1,564.4 L1302.3,564.8 L1301.5,565.1 L1300.5,565.4 L1299.5,565.8 L1298.5,566.1 L1297.4,566.5 L1296.3,566.8 L1295.2,567.1 L1294.1,567.5 L1293.1,567.8 L1292.1,568.1 L1291.1,568.5 L1290.3,568.8 L1289.5,569.2 L1288.8,569.5 L1288.2,569.8 L1287.7,570.2 L1287.3,570.5 L1287.1,570.8 L1287.0,571.2 L1287.0,571.5 L1287.2,571.9 L1287.5,572.2 L1287.9,572.5 L1288.4,572.9 L1289.0,573.2 L1289.7,573.5 L1290.5,573.9 L1291.4,574.2 L1292.4,574.6 L1293.4,574.9 L1294.5,575.2 L1295.6,575.6 L1296.7,575.9 L1297.8,576.2 L1298.8,576.6 L1299.9,576.9 L1300.8,577.3 L1301.8,577.6 L1302.6,577.9 L1303.4,578.3 L1304.0,578.6 L1304.6,578.9 L1305.0,579.3 L1305.3,579.6 L1305.5,580.0 L1305.6,580.3 L1305.5,580.6 L1305.3,581.0 L1305.0,581.3 L1304.6,581.6 L1304.0,582.0 L1303.4,582.3 L1302.6,582.7 L1301.8,583.0 L1300.8,583.3 L1299.9,583.7 L1298.8,584.0 L1297.8,584.3 L1296.7,584.7 L1295.6,585.0 L1294.5,585.4 L1293.4,585.7 L1292.4,586.0 L1291.4,586.4 L1290.5,586.7 L1289.7,587.0 L1289.0,587.4 L1288.4,587.7 L1287.9,588.1 L1287.5,588.4 L1287.2,588.7 L1287.0,589.1 L1287.0,589.4 L1287.1,589.8 L1287.3,590.1 L1287.7,590.4 L1288.2,590.8 L1288.8,591.1 L1289.5,591.4 L1290.3,591.8 L1291.1,592.1 L1292.1,592.4 L1293.1,592.8 L1294.1,593.1 L1295.2,593.5 L1296.3,593.8 L1297.4,594.1 L1298.5,594.5 L1299.5,594.8 L1300.5,595.1 L1301.5,595.5 L1302.3,595.8 L1303.1,596.2 L1303.8,596.5 L1304.4,596.8 L1304.9,597.2 L1305.3,597.5 L1305.5,597.8 L1305.6,598.2 L1305.6,598.5 L1305.4,598.9 L1305.1,599.2 L1304.7,599.5 L1304.2,599.9 L1303.6,600.2 L1302.9,600.5 L1302.1,600.9 L1301.2,601.2 L1300.2,601.6 L1299.2,601.9 L1298.1,602.2 L1297.0,602.6 L1295.9,602.9 L1294.8,603.2 L1293.8,603.6 L1292.7,603.9 L1291.8,604.3 L1290.8,604.6 L1290.0,604.9 L1289.2,605.3 L1288.6,605.6 L1288.0,605.9 L1287.6,606.3 L1287.3,606.6 L1287.1,607.0 L1287.0,607.3 C1287,613 1297.5,613 1297.6,620 L1297.7,628" stroke="#ff1010" stroke-width="3.6" fill="none" stroke-linecap="round" stroke-linejoin="round"/>
<path d="M1293.2,627 L1302.6,627 L1298.3,639.5 Z" fill="#ff1010"/>
<path d="M1329.3,661.4 L1329.2,661.1 L1329.0,660.7 L1328.7,660.4 L1328.3,660.1 L1327.7,659.8 L1327.1,659.4 L1326.3,659.1 L1325.5,658.8 L1324.5,658.4 L1323.6,658.1 L1322.5,657.8 L1321.5,657.4 L1320.4,657.1 L1319.3,656.8 L1318.2,656.4 L1317.1,656.1 L1316.1,655.8 L1315.1,655.5 L1314.2,655.1 L1313.4,654.8 L1312.7,654.5 L1312.1,654.1 L1311.6,653.8 L1311.2,653.5 L1310.9,653.1 L1310.7,652.8 L1310.7,652.5 L1310.8,652.2 L1311.0,651.8 L1311.4,651.5 L1311.9,651.2 L1312.5,650.8 L1313.2,650.5 L1314.0,650.2 L1314.8,649.9 L1315.8,649.5 L1316.8,649.2 L1317.8,648.9 L1318.9,648.5 L1320.0,648.2 L1321.1,647.9 L1322.2,647.5 L1323.2,647.2 L1324.2,646.9 L1325.2,646.5 L1326.0,646.2 L1326.8,645.9 L1327.5,645.6 L1328.1,645.2 L1328.6,644.9 L1329.0,644.6 L1329.2,644.2 L1329.3,643.9 L1329.3,643.6 L1329.1,643.2 L1328.8,642.9 L1328.4,642.6 L1327.9,642.3 L1327.3,641.9 L1326.6,641.6 L1325.8,641.3 L1324.9,640.9 L1323.9,640.6 L1322.9,640.3 L1321.8,640.0 L1320.7,639.6 L1319.6,639.3 L1318.5,639.0 L1317.5,638.6 L1316.4,638.3 L1315.5,638.0 L1314.5,637.6 L1313.7,637.3 L1312.9,637.0 L1312.3,636.6 L1311.7,636.3 L1311.3,636.0 L1311.0,635.7 L1310.8,635.3 L1310.7,635.0 L1310.8,634.7 L1311.0,634.3 L1311.3,634.0 L1311.7,633.7 L1312.3,633.4 L1312.9,633.0 L1313.7,632.7 L1314.5,632.4 L1315.5,632.0 L1316.4,631.7 L1317.5,631.4 L1318.5,631.0 L1319.6,630.7 L1320.7,630.4 L1321.8,630.0 L1322.9,629.7 L1323.9,629.4 L1324.9,629.1 L1325.8,628.7 L1326.6,628.4 L1327.3,628.1 L1327.9,627.7 L1328.4,627.4 L1328.8,627.1 L1329.1,626.8 L1329.3,626.4 L1329.3,626.1 L1329.2,625.8 L1329.0,625.4 L1328.6,625.1 L1328.1,624.8 L1327.5,624.4 L1326.8,624.1 L1326.0,623.8 L1325.2,623.5 L1324.2,623.1 L1323.2,622.8 L1322.2,622.5 L1321.1,622.1 L1320.0,621.8 L1318.9,621.5 L1317.8,621.1 L1316.8,620.8 L1315.8,620.5 L1314.8,620.1 L1314.0,619.8 L1313.2,619.5 L1312.5,619.2 L1311.9,618.8 L1311.4,618.5 L1311.0,618.2 L1310.8,617.8 L1310.7,617.5 L1310.7,617.2 L1310.9,616.9 L1311.2,616.5 L1311.6,616.2 L1312.1,615.9 L1312.7,615.5 L1313.4,615.2 L1314.2,614.9 L1315.1,614.5 L1316.1,614.2 L1317.1,613.9 L1318.2,613.6 L1319.3,613.2 L1320.4,612.9 L1321.5,612.6 L1322.5,612.2 L1323.6,611.9 L1324.5,611.6 L1325.5,611.2 L1326.3,610.9 L1327.1,610.6 L1327.7,610.2 L1328.3,609.9 L1328.7,609.6 L1329.0,609.3 L1329.2,608.9 L1329.3,608.6 C1329.3,602 1318,601 1318,595 L1318,589" stroke="#ff1010" stroke-width="3.6" fill="none" stroke-linecap="round" stroke-linejoin="round"/>
<path d="M1313.2,589 L1322.6,589 L1318,576.5 Z" fill="#ff1010"/>
<path d="M1352.6,669.5 L1352.5,669.1 L1352.3,668.8 L1352.0,668.4 L1351.6,668.1 L1351.0,667.7 L1350.4,667.4 L1349.6,667.0 L1348.8,666.6 L1347.9,666.3 L1346.9,665.9 L1345.9,665.6 L1344.8,665.2 L1343.8,664.9 L1342.7,664.5 L1341.6,664.2 L1340.6,663.8 L1339.5,663.4 L1338.6,663.1 L1337.7,662.7 L1336.9,662.4 L1336.2,662.0 L1335.6,661.7 L1335.0,661.3 L1334.7,661.0 L1334.4,660.6 L1334.2,660.2 L1334.2,659.9 L1334.3,659.5 L1334.5,659.2 L1334.9,658.8 L1335.4,658.5 L1336.0,658.1 L1336.6,657.7 L1337.4,657.4 L1338.3,657.0 L1339.2,656.7 L1340.2,656.3 L1341.3,656.0 L1342.3,655.6 L1343.4,655.2 L1344.5,654.9 L1345.5,654.5 L1346.6,654.2 L1347.6,653.8 L1348.5,653.5 L1349.4,653.1 L1350.2,652.8 L1350.8,652.4 L1351.4,652.0 L1351.9,651.7 L1352.3,651.3 L1352.5,651.0 L1352.6,650.6 L1352.6,650.3 L1352.4,649.9 L1352.1,649.5 L1351.8,649.2 L1351.2,648.8 L1350.6,648.5 L1349.9,648.1 L1349.1,647.8 L1348.2,647.4 L1347.3,647.1 L1346.2,646.7 L1345.2,646.3 L1344.1,646.0 L1343.0,645.6 L1342.0,645.3 L1340.9,644.9 L1339.9,644.6 L1338.9,644.2 L1338.0,643.9 L1337.2,643.5 L1336.4,643.1 L1335.8,642.8 L1335.2,642.4 L1334.8,642.1 L1334.5,641.7 L1334.3,641.4 L1334.2,641.0 L1334.3,640.6 L1334.5,640.3 L1334.8,639.9 L1335.2,639.6 L1335.8,639.2 L1336.4,638.9 L1337.2,638.5 L1338.0,638.1 L1338.9,637.8 L1339.9,637.4 L1340.9,637.1 L1342.0,636.7 L1343.0,636.4 L1344.1,636.0 L1345.2,635.7 L1346.2,635.3 L1347.3,634.9 L1348.2,634.6 L1349.1,634.2 L1349.9,633.9 L1350.6,633.5 L1351.2,633.2 L1351.8,632.8 L1352.1,632.5 L1352.4,632.1 L1352.6,631.7 L1352.6,631.4 L1352.5,631.0 L1352.3,630.7 L1351.9,630.3 L1351.4,630.0 L1350.8,629.6 L1350.2,629.2 L1349.4,628.9 L1348.5,628.5 L1347.6,628.2 L1346.6,627.8 L1345.5,627.5 L1344.5,627.1 L1343.4,626.8 L1342.3,626.4 L1341.3,626.0 L1340.2,625.7 L1339.2,625.3 L1338.3,625.0 L1337.4,624.6 L1336.6,624.3 L1336.0,623.9 L1335.4,623.5 L1334.9,623.2 L1334.5,622.8 L1334.3,622.5 L1334.2,622.1 L1334.2,621.8 L1334.4,621.4 L1334.7,621.0 L1335.0,620.7 L1335.6,620.3 L1336.2,620.0 L1336.9,619.6 L1337.7,619.3 L1338.6,618.9 L1339.5,618.6 L1340.6,618.2 L1341.6,617.8 L1342.7,617.5 L1343.8,617.1 L1344.8,616.8 L1345.9,616.4 L1346.9,616.1 L1347.9,615.7 L1348.8,615.4 L1349.6,615.0 L1350.4,614.6 L1351.0,614.3 L1351.6,613.9 L1352.0,613.6 L1352.3,613.2 L1352.5,612.9 L1352.6,612.5 C1352.6,606 1341.4,606 1341.4,601 L1341.4,598" stroke="#1a2cff" stroke-width="3.6" fill="none" stroke-linecap="round" stroke-linejoin="round"/>
<path d="M1336.4,597.5 L1346.4,597.5 L1341.4,584.5 Z" fill="#1a2cff"/>
<text x="1264.0" y="565.0" font-size="14" fill="#111" font-style="italic" font-family="'Liberation Serif', serif">ω</text>
<text x="1275.0" y="569.2" font-size="10" fill="#111">0</text>
<text x="1351.8" y="595.3" font-size="14.5" fill="#111">3</text>
<text x="1360.0" y="595.3" font-size="14" fill="#111" font-style="italic" font-family="'Liberation Serif', serif">ω</text>
<text x="1371.2" y="599.4" font-size="10" fill="#111">0</text>
<defs>
<pattern id="hexh" width="12.3" height="13.05" patternUnits="userSpaceOnUse" patternTransform="rotate(2.8)">
<path d="M6.15,0 L12.3,2.175 L12.3,6.525 L6.15,8.7 L0,6.525 L0,2.175 Z M6.15,8.7 L6.15,13.05" fill="none" stroke="#2a2a32" stroke-width="1.05"/>
</pattern>
<linearGradient id="gelG" x1="0" y1="0" x2="0" y2="1"><stop offset="0" stop-color="#a6a8c8"/><stop offset="1" stop-color="#8c8eb0"/></linearGradient>
<linearGradient id="auTop" x1="0" y1="0" x2="1" y2="0"><stop offset="0" stop-color="#f2e070"/><stop offset="1" stop-color="#ead466"/></linearGradient>
<linearGradient id="auFront" x1="0" y1="0" x2="0" y2="1"><stop offset="0" stop-color="#7e6a06"/><stop offset="1" stop-color="#a89020"/></linearGradient>
<clipPath id="gelClip"><path d="M119.0,1080.3 L119.1,1077.0 L119.2,1073.6 L119.6,1070.3 L120.0,1066.9 L120.5,1063.6 L121.2,1060.3 L122.0,1057.0 L122.9,1053.7 L124.0,1050.5 L125.1,1047.2 L126.4,1044.0 L127.8,1040.8 L129.3,1037.6 L131.0,1034.5 L132.7,1031.4 L134.6,1028.3 L136.6,1025.3 L138.7,1022.3 L140.8,1019.3 L143.2,1016.4 L145.6,1013.5 L148.1,1010.7 L150.7,1007.9 L153.4,1005.2 L156.3,1002.5 L159.2,999.9 L162.2,997.3 L165.3,994.8 L168.5,992.3 L171.8,989.9 L175.2,987.6 L178.7,985.3 L182.2,983.1 L185.8,981.0 L189.5,978.9 L193.3,976.9 L197.2,975.0 L201.1,973.1 L205.1,971.3 L209.1,969.6 L213.3,968.0 L217.4,966.4 L221.7,964.9 L226.0,963.5 L230.3,962.2 L234.7,961.0 L239.1,959.8 L243.6,958.8 L248.1,957.8 L252.6,956.9 L257.2,956.0 L261.8,955.3 L266.4,954.6 L271.1,954.1 L275.8,953.6 L280.5,953.2 L285.2,952.9 L289.9,952.7 L294.6,952.5 L299.3,952.5 L304.0,952.5 L308.7,952.7 L313.4,952.9 L318.1,953.2 L322.8,953.6 L327.5,954.1 L332.2,954.6 L336.8,955.3 L341.4,956.0 L346.0,956.9 L350.5,957.8 L355.0,958.8 L359.5,959.8 L363.9,961.0 L368.3,962.2 L372.6,963.5 L376.9,964.9 L381.2,966.4 L385.3,968.0 L389.4,969.6 L393.5,971.3 L397.5,973.1 L401.4,975.0 L405.3,976.9 L409.1,978.9 L412.8,981.0 L416.4,983.1 L419.9,985.3 L423.4,987.6 L426.8,989.9 L430.1,992.3 L433.3,994.8 L436.4,997.3 L439.4,999.9 L442.3,1002.5 L445.2,1005.2 L447.9,1007.9 L450.5,1010.7 L453.0,1013.5 L455.4,1016.4 L457.8,1019.3 L459.9,1022.3 L462.0,1025.3 L464.0,1028.3 L465.9,1031.4 L467.6,1034.5 L469.3,1037.6 L470.8,1040.8 L472.2,1044.0 L473.5,1047.2 L474.6,1050.5 L475.7,1053.7 L476.6,1057.0 L477.4,1060.3 L478.1,1063.6 L478.6,1066.9 L479.0,1070.3 L479.4,1073.6 L479.5,1077.0 L479.6,1080.3 L479.6,1091.6 L479.4,1098.2 L479.2,1103.7 L478.9,1108.7 L478.6,1113.2 L478.1,1117.4 L477.6,1121.4 L477.0,1125.2 L476.3,1128.8 L475.5,1132.2 L474.6,1135.5 L473.7,1138.7 L472.6,1141.8 L471.5,1144.8 L470.3,1147.7 L469.1,1150.5 L467.7,1153.2 L466.2,1155.8 L464.7,1158.3 L463.1,1160.8 L461.4,1163.2 L459.6,1165.5 L457.8,1167.8 L455.8,1170.0 L453.8,1172.1 L451.7,1174.2 L449.5,1176.1 L447.2,1178.1 L444.9,1179.9 L442.4,1181.7 L439.9,1183.5 L437.2,1185.2 L434.5,1186.8 L431.7,1188.3 L428.8,1189.8 L425.8,1191.3 L422.7,1192.6 L419.5,1194.0 L416.3,1195.2 L412.9,1196.4 L409.4,1197.6 L405.8,1198.6 L402.1,1199.7 L398.3,1200.6 L394.3,1201.5 L390.3,1202.4 L386.1,1203.2 L381.7,1203.9 L377.2,1204.6 L372.5,1205.2 L367.7,1205.7 L362.6,1206.2 L357.3,1206.7 L351.6,1207.0 L345.7,1207.4 L339.3,1207.6 L332.3,1207.8 L324.5,1208.0 L315.2,1208.1 L299.3,1208.1 L283.4,1208.1 L274.1,1208.0 L266.3,1207.8 L259.3,1207.6 L252.9,1207.4 L247.0,1207.0 L241.3,1206.7 L236.0,1206.2 L230.9,1205.7 L226.1,1205.2 L221.4,1204.6 L216.9,1203.9 L212.5,1203.2 L208.3,1202.4 L204.3,1201.5 L200.3,1200.6 L196.5,1199.7 L192.8,1198.6 L189.2,1197.6 L185.7,1196.4 L182.3,1195.2 L179.1,1194.0 L175.9,1192.6 L172.8,1191.3 L169.8,1189.8 L166.9,1188.3 L164.1,1186.8 L161.4,1185.2 L158.7,1183.5 L156.2,1181.7 L153.7,1179.9 L151.4,1178.1 L149.1,1176.1 L146.9,1174.2 L144.8,1172.1 L142.8,1170.0 L140.8,1167.8 L139.0,1165.5 L137.2,1163.2 L135.5,1160.8 L133.9,1158.3 L132.4,1155.8 L130.9,1153.2 L129.5,1150.5 L128.3,1147.7 L127.1,1144.8 L126.0,1141.8 L124.9,1138.7 L124.0,1135.5 L123.1,1132.2 L122.3,1128.8 L121.6,1125.2 L121.0,1121.4 L120.5,1117.4 L120.0,1113.2 L119.7,1108.7 L119.4,1103.7 L119.2,1098.2 L119.0,1091.6Z"/></clipPath>
</defs>
<path d="M124,989 L533.8,1008.5 L493.5,1241 L56,1215 Z" fill="#d0d1da"/>
<path d="M56,1215 L493.5,1241 L493.5,1285 L59.5,1259 Z" fill="#cfcfd6"/>
<path d="M533.8,1008.5 L538,1050 L497,1285 L493.5,1241 Z" fill="#dcdce3"/>
<path d="M56,1215 L493.5,1241" stroke="#e2e2e8" stroke-width="1.5"/>
<path d="M119.0,1080.3 L119.1,1077.0 L119.2,1073.6 L119.6,1070.3 L120.0,1066.9 L120.5,1063.6 L121.2,1060.3 L122.0,1057.0 L122.9,1053.7 L124.0,1050.5 L125.1,1047.2 L126.4,1044.0 L127.8,1040.8 L129.3,1037.6 L131.0,1034.5 L132.7,1031.4 L134.6,1028.3 L136.6,1025.3 L138.7,1022.3 L140.8,1019.3 L143.2,1016.4 L145.6,1013.5 L148.1,1010.7 L150.7,1007.9 L153.4,1005.2 L156.3,1002.5 L159.2,999.9 L162.2,997.3 L165.3,994.8 L168.5,992.3 L171.8,989.9 L175.2,987.6 L178.7,985.3 L182.2,983.1 L185.8,981.0 L189.5,978.9 L193.3,976.9 L197.2,975.0 L201.1,973.1 L205.1,971.3 L209.1,969.6 L213.3,968.0 L217.4,966.4 L221.7,964.9 L226.0,963.5 L230.3,962.2 L234.7,961.0 L239.1,959.8 L243.6,958.8 L248.1,957.8 L252.6,956.9 L257.2,956.0 L261.8,955.3 L266.4,954.6 L271.1,954.1 L275.8,953.6 L280.5,953.2 L285.2,952.9 L289.9,952.7 L294.6,952.5 L299.3,952.5 L304.0,952.5 L308.7,952.7 L313.4,952.9 L318.1,953.2 L322.8,953.6 L327.5,954.1 L332.2,954.6 L336.8,955.3 L341.4,956.0 L346.0,956.9 L350.5,957.8 L355.0,958.8 L359.5,959.8 L363.9,961.0 L368.3,962.2 L372.6,963.5 L376.9,964.9 L381.2,966.4 L385.3,968.0 L389.4,969.6 L393.5,971.3 L397.5,973.1 L401.4,975.0 L405.3,976.9 L409.1,978.9 L412.8,981.0 L416.4,983.1 L419.9,985.3 L423.4,987.6 L426.8,989.9 L430.1,992.3 L433.3,994.8 L436.4,997.3 L439.4,999.9 L442.3,1002.5 L445.2,1005.2 L447.9,1007.9 L450.5,1010.7 L453.0,1013.5 L455.4,1016.4 L457.8,1019.3 L459.9,1022.3 L462.0,1025.3 L464.0,1028.3 L465.9,1031.4 L467.6,1034.5 L469.3,1037.6 L470.8,1040.8 L472.2,1044.0 L473.5,1047.2 L474.6,1050.5 L475.7,1053.7 L476.6,1057.0 L477.4,1060.3 L478.1,1063.6 L478.6,1066.9 L479.0,1070.3 L479.4,1073.6 L479.5,1077.0 L479.6,1080.3 L479.6,1091.6 L479.4,1098.2 L479.2,1103.7 L478.9,1108.7 L478.6,1113.2 L478.1,1117.4 L477.6,1121.4 L477.0,1125.2 L476.3,1128.8 L475.5,1132.2 L474.6,1135.5 L473.7,1138.7 L472.6,1141.8 L471.5,1144.8 L470.3,1147.7 L469.1,1150.5 L467.7,1153.2 L466.2,1155.8 L464.7,1158.3 L463.1,1160.8 L461.4,1163.2 L459.6,1165.5 L457.8,1167.8 L455.8,1170.0 L453.8,1172.1 L451.7,1174.2 L449.5,1176.1 L447.2,1178.1 L444.9,1179.9 L442.4,1181.7 L439.9,1183.5 L437.2,1185.2 L434.5,1186.8 L431.7,1188.3 L428.8,1189.8 L425.8,1191.3 L422.7,1192.6 L419.5,1194.0 L416.3,1195.2 L412.9,1196.4 L409.4,1197.6 L405.8,1198.6 L402.1,1199.7 L398.3,1200.6 L394.3,1201.5 L390.3,1202.4 L386.1,1203.2 L381.7,1203.9 L377.2,1204.6 L372.5,1205.2 L367.7,1205.7 L362.6,1206.2 L357.3,1206.7 L351.6,1207.0 L345.7,1207.4 L339.3,1207.6 L332.3,1207.8 L324.5,1208.0 L315.2,1208.1 L299.3,1208.1 L283.4,1208.1 L274.1,1208.0 L266.3,1207.8 L259.3,1207.6 L252.9,1207.4 L247.0,1207.0 L241.3,1206.7 L236.0,1206.2 L230.9,1205.7 L226.1,1205.2 L221.4,1204.6 L216.9,1203.9 L212.5,1203.2 L208.3,1202.4 L204.3,1201.5 L200.3,1200.6 L196.5,1199.7 L192.8,1198.6 L189.2,1197.6 L185.7,1196.4 L182.3,1195.2 L179.1,1194.0 L175.9,1192.6 L172.8,1191.3 L169.8,1189.8 L166.9,1188.3 L164.1,1186.8 L161.4,1185.2 L158.7,1183.5 L156.2,1181.7 L153.7,1179.9 L151.4,1178.1 L149.1,1176.1 L146.9,1174.2 L144.8,1172.1 L142.8,1170.0 L140.8,1167.8 L139.0,1165.5 L137.2,1163.2 L135.5,1160.8 L133.9,1158.3 L132.4,1155.8 L130.9,1153.2 L129.5,1150.5 L128.3,1147.7 L127.1,1144.8 L126.0,1141.8 L124.9,1138.7 L124.0,1135.5 L123.1,1132.2 L122.3,1128.8 L121.6,1125.2 L121.0,1121.4 L120.5,1117.4 L120.0,1113.2 L119.7,1108.7 L119.4,1103.7 L119.2,1098.2 L119.0,1091.6Z" fill="url(#gelG)" opacity="0.72"/>
<path d="M124,989 L533.8,1008.5" stroke="#9a9cbc" stroke-width="2" clip-path="url(#gelClip)"/>
<path d="M150,994 L520,1012 L505,1030 L160,1012 Z" fill="#8f91b0" opacity="0.35" clip-path="url(#gelClip)"/>
<path d="M185.5,1013.75 L465.5,1027.75 L448,1131 L154,1115 Z" fill="#9b9db8"/>
<path d="M185.5,1013.75 L465.5,1027.75 L448,1131 L154,1115 Z" fill="url(#hexh)"/>
<path d="M87.5,1103 L150.5,1110 L150.5,1124.5 L89,1120.5 Z" fill="url(#auFront)"/>
<path d="M185.5,992.75 L189,996 L154,1124.5 L150.5,1110 Z" fill="#e8e088"/>
<path d="M126,989.3 L185.5,992.75 L150.5,1110 L87.5,1103 Z" fill="url(#auTop)"/>
<path d="M449,1121.6 L511,1124 L511,1141.5 L450,1138 Z" fill="url(#auFront)"/>
<path d="M472.4,1008 L533.3,1009.3 L511,1124 L449,1121.6 Z" fill="url(#auTop)"/>
<path d="M164.5,1206.25 L386.75,1211.5 L383.25,1234.25 L162.75,1220.25 Z" fill="url(#auFront)"/>
<path d="M175,1162.5 L388.5,1176.5 L386.75,1211.5 L164.5,1206.25 Z" fill="url(#auTop)"/>
<g clip-path="url(#gelClip)" opacity="0.35">
<path d="M126,989.3 L185.5,992.75 L150.5,1110 L87.5,1103 Z" fill="#8a8cb4"/>
<path d="M472.4,1008 L533.3,1009.3 L511,1124 L449,1121.6 Z" fill="#8a8cb4"/>
<path d="M175,1162.5 L388.5,1176.5 L386.75,1211.5 L164.5,1206.25 Z" fill="#8a8cb4"/>
<path d="M87.5,1103 L150.5,1110 L150.5,1124.5 L89,1120.5 Z" fill="#8a8cb4"/>
</g>
<path d="M110,1041.75 L28,1036.5 L28,1062" stroke="#111" stroke-width="2.2" fill="none"/>
<rect x="3.6" y="1060.0" width="47.0" height="5.5" fill="#111"/>
<rect x="9.6" y="1073.0" width="35.0" height="5.5" fill="#111"/>
<rect x="15.6" y="1086.0" width="23.0" height="5.5" fill="#111"/>
<path d="M519.75,1069.75 L581,1071.5 M602,1072 L647.5,1073.25 L647.5,1100" stroke="#111" stroke-width="2.2" fill="none"/>
<rect x="581" y="1050.5" width="5.5" height="38.5" fill="#1515ee"/><rect x="596" y="1060" width="6" height="20" fill="#1515ee"/>
<rect x="623.0" y="1098.2" width="47.0" height="5.5" fill="#111"/>
<rect x="629.0" y="1111.0" width="35.0" height="5.5" fill="#111"/>
<rect x="635.0" y="1123.8" width="23.0" height="5.5" fill="#111"/>
<path d="M386.75,1210.5 L470.75,1216.75 M491,1217 L556.5,1219 L556.5,1245" stroke="#111" stroke-width="2.2" fill="none"/>
<rect x="470.75" y="1195.75" width="6.5" height="38.5" fill="#ee1515"/><rect x="484.5" y="1205" width="6.5" height="23" fill="#ee1515"/>
<rect x="532.1" y="1243.8" width="47.0" height="5.5" fill="#111"/>
<rect x="536.4" y="1256.8" width="38.5" height="5.5" fill="#111"/>
<rect x="543.4" y="1270.0" width="24.5" height="5.5" fill="#111"/>
<text x="583.0" y="1041.5" font-size="20" fill="#1515ee" font-style="italic">V</text>
<text x="597.5" y="1048.0" font-size="13" fill="#1515ee" textLength="21.0" lengthAdjust="spacingAndGlyphs">DS</text>
<text x="472.0" y="1188.0" font-size="20" fill="#ee1515" font-style="italic">V</text>
<text x="486.5" y="1195.5" font-size="13" fill="#ee1515">g</text>
<text x="277.5" y="997.3" font-size="22" fill="#222" textLength="67.0" lengthAdjust="spacingAndGlyphs">Ion-gel</text>
<text x="137.5" y="1047.0" font-size="22.5" text-anchor="middle" fill="#111" textLength="70.0" lengthAdjust="spacingAndGlyphs" transform="rotate(-70.8 137.5 1047.0)" dominant-baseline="central">Source</text>
<text x="493.8" y="1063.8" font-size="22.5" text-anchor="middle" fill="#111" textLength="52.0" lengthAdjust="spacingAndGlyphs" transform="rotate(-79 493.8 1063.8)" dominant-baseline="central">Drain</text>
<text x="284.4" y="1196.5" font-size="22.5" text-anchor="middle" fill="#111" textLength="89.0" lengthAdjust="spacingAndGlyphs" transform="rotate(3.7 284.4 1196.5)">Top gate</text>
<text x="272.0" y="1258.5" font-size="22.5" text-anchor="middle" fill="#222" textLength="117.0" lengthAdjust="spacingAndGlyphs" transform="rotate(3.5 272.0 1258.5)">Fused silica</text>
<g fill="none" stroke-linejoin="round">
<path d="M633.5,642.5 L634.1,642.1 L634.7,647.4 L635.3,645.4 L636.0,637.6 L636.6,643.9 L637.2,640.2 L637.8,642.5 L638.4,644.4 L639.0,650.2 L639.7,642.8 L640.3,642.9 L640.9,641.6 L641.5,647.6 L642.1,646.1 L642.7,649.1 L643.3,644.4 L644.0,643.5 L644.6,646.0 L645.2,645.4 L645.8,646.3 L646.4,639.3 L647.0,647.3 L647.7,645.3 L648.3,636.7 L648.9,638.9 L649.5,646.5 L650.1,645.8 L650.7,646.0 L651.3,648.9 L652.0,637.3 L652.6,635.0 L653.2,636.3 L653.8,641.0 L654.4,643.2 L655.0,641.8 L655.7,639.6 L656.3,640.7 L656.9,642.1 L657.5,639.1 L658.1,639.3 L658.7,645.6 L659.3,644.5 L660.0,644.7 L660.6,646.6 L661.2,645.4 L661.8,643.8 L662.4,644.9 L663.0,639.4 L663.7,643.3 L664.3,644.4 L664.9,644.9 L665.5,642.9 L666.1,641.3 L666.7,642.6 L667.3,648.8 L668.0,643.4 L668.6,633.1 L669.2,643.3 L669.8,647.8 L670.4,647.4 L671.0,650.1 L671.7,655.4 L672.3,645.3 L672.9,644.6 L673.5,637.9 L674.1,638.0 L674.7,644.8 L675.4,643.6 L676.0,649.4 L676.6,648.5 L677.2,649.9 L677.8,646.4 L678.4,640.1 L679.0,648.0 L679.7,648.3 L680.3,649.9 L680.9,643.4 L681.5,644.5 L682.1,646.7 L682.7,643.8 L683.4,649.5 L684.0,637.6 L684.6,645.9 L685.2,643.1 L685.8,644.1 L686.4,645.4 L687.0,638.9 L687.7,635.9 L688.3,644.4 L688.9,644.1 L689.5,641.0 L690.1,639.2 L690.7,641.7 L691.4,633.8 L692.0,633.4 L692.6,632.2 L693.2,638.7 L693.8,644.5 L694.4,646.0 L695.0,647.2 L695.7,642.4 L696.3,644.7 L696.9,646.1 L697.5,646.0 L698.1,643.5 L698.7,643.1 L699.4,641.7 L700.0,639.5 L700.6,646.5 L701.2,646.3 L701.8,645.5 L702.4,636.3 L703.0,638.7 L703.7,636.7 L704.3,642.2 L704.9,650.9 L705.5,639.9 L706.1,649.2 L706.7,645.6 L707.4,643.5 L708.0,642.7 L708.6,645.4 L709.2,646.6 L709.8,641.6 L710.4,643.3 L711.0,642.6 L711.7,646.9 L712.3,645.7 L712.9,643.9 L713.5,639.1 L714.1,648.0 L714.7,641.4 L715.4,643.3 L716.0,643.0 L716.6,646.6 L717.2,643.3 L717.8,647.0 L718.4,643.1 L719.0,642.1 L719.7,641.3 L720.3,642.4 L720.9,644.0 L721.5,643.1 L722.1,643.6 L722.7,645.5 L723.4,643.4 L724.0,635.2 L724.6,642.9 L725.2,637.2 L725.8,645.4 L726.4,636.3 L727.0,633.7 L727.7,633.6 L728.3,637.8 L728.9,642.2 L729.5,648.0 L730.1,641.8 L730.7,641.9 L731.4,636.1 L732.0,640.0 L732.6,638.8 L733.2,641.0 L733.8,631.5 L734.4,633.8 L735.0,634.8 L735.7,642.0 L736.3,638.8 L736.9,644.0 L737.5,637.3 L738.1,636.6 L738.7,641.0 L739.4,650.5 L740.0,644.5 L740.6,639.7 L741.2,650.2 L741.8,646.8 L742.4,642.4 L743.1,646.4 L743.7,650.9 L744.3,648.4 L744.9,644.3 L745.5,639.4 L746.1,641.1 L746.7,646.8 L747.4,641.0 L748.0,646.5 L748.6,645.8 L749.2,648.3 L749.8,651.8 L750.4,641.5 L751.1,648.2 L751.7,637.3 L752.3,638.6 L752.9,640.1 L753.5,635.5 L754.1,641.6 L754.7,641.9 L755.4,644.3 L756.0,639.3 L756.6,641.8 L757.2,649.2 L757.8,653.3 L758.4,642.7 L759.1,632.3 L759.7,618.0 L760.3,585.6 L760.9,554.4 L761.5,540.4 L762.1,552.2 L762.7,586.6 L763.4,618.2 L764.0,639.9 L764.6,640.0 L765.2,644.1 L765.8,641.6 L766.4,644.3 L767.1,641.1 L767.7,635.0 L768.3,637.0 L768.9,635.0 L769.5,640.8 L770.1,638.6 L770.7,642.1 L771.4,642.0 L772.0,640.0 L772.6,639.9 L773.2,644.2 L773.8,644.5 L774.4,644.2 L775.1,641.0 L775.7,640.5 L776.3,636.0 L776.9,640.1 L777.5,639.1 L778.1,633.9 L778.7,641.8 L779.4,638.0 L780.0,636.9 L780.6,639.3 L781.2,635.1 L781.8,641.7 L782.4,641.0 L783.1,641.3 L783.7,638.5 L784.3,637.7 L784.9,638.8 L785.5,635.9 L786.1,638.3 L786.7,642.2 L787.4,642.1 L788.0,645.0 L788.6,644.2 L789.2,646.0 L789.8,640.9 L790.4,642.5 L791.1,640.5 L791.7,637.1 L792.3,636.0 L792.9,635.8 L793.5,635.9 L794.1,637.2 L794.7,638.0 L795.4,641.7 L796.0,636.0 L796.6,638.6 L797.2,639.3 L797.8,631.4 L798.4,633.7 L799.1,634.2 L799.7,635.8 L800.3,637.1 L800.9,644.7 L801.5,639.7 L802.1,635.8 L802.7,639.6 L803.4,636.5 L804.0,634.1 L804.6,631.7 L805.2,631.8 L805.8,638.8 L806.4,634.3 L807.1,632.0 L807.7,628.9 L808.3,626.2 L808.9,625.3 L809.5,633.9 L810.1,633.3 L810.7,636.7 L811.4,641.2 L812.0,631.4 L812.6,636.7 L813.2,634.2 L813.8,631.6 L814.4,632.1 L815.1,635.8 L815.7,636.1 L816.3,637.7 L816.9,638.3 L817.5,637.2 L818.1,633.6 L818.8,637.8 L819.4,634.2 L820.0,632.6 L820.6,628.6 L821.2,638.4 L821.8,641.4 L822.4,631.1 L823.1,632.0 L823.7,637.9 L824.3,640.5 L824.9,628.5 L825.5,644.7 L826.1,639.4 L826.8,642.4 L827.4,636.9 L828.0,631.7 L828.6,634.4 L829.2,633.7 L829.8,639.3 L830.4,643.6 L831.1,639.1 L831.7,635.2 L832.3,636.0 L832.9,633.7 L833.5,639.6 L834.1,637.1 L834.8,632.7 L835.4,636.2 L836.0,641.7 L836.6,638.9 L837.2,638.0 L837.8,637.6 L838.4,638.6 L839.1,646.7 L839.7,633.8 L840.3,627.8 L840.9,634.6 L841.5,640.6 L842.1,636.5 L842.8,638.4 L843.4,637.8 L844.0,634.4 L844.6,637.3 L845.2,633.9 L845.8,642.2 L846.4,636.0 L847.1,633.2 L847.7,645.3 L848.3,636.0 L848.9,641.3 L849.5,642.5 L850.1,637.7 L850.8,633.8 L851.4,630.5 L852.0,634.7 L852.6,632.4 L853.2,634.1 L853.8,634.6 L854.4,635.2 L855.1,636.0 L855.7,634.0 L856.3,640.6 L856.9,638.5 L857.5,640.3 L858.1,637.8 L858.8,632.1 L859.4,630.6 L860.0,633.5 L860.6,635.3 L861.2,640.6 L861.8,636.0 L862.4,636.0 L863.1,634.1 L863.7,632.6 L864.3,635.7 L864.9,641.3 L865.5,631.1 L866.1,632.9 L866.8,634.1 L867.4,630.8 L868.0,629.8 L868.6,633.8 L869.2,639.4 L869.8,636.1 L870.4,637.7 L871.1,635.5 L871.7,633.0 L872.3,630.9 L872.9,625.5 L873.5,631.0 L874.1,637.4 L874.8,638.1 L875.4,641.2 L876.0,645.1 L876.6,641.2 L877.2,636.8 L877.8,632.0 L878.4,632.3 L879.1,629.9 L879.7,644.6 L880.3,642.3 L880.9,644.4 L881.5,635.8 L882.1,640.6 L882.8,638.0 L883.4,643.1 L884.0,647.6 L884.6,647.4 L885.2,639.0 L885.8,635.3 L886.4,645.5 L887.1,644.5 L887.7,641.3 L888.3,643.5 L888.9,643.6 L889.5,645.4 L890.1,650.1 L890.8,645.0 L891.4,640.2 L892.0,649.2 L892.6,639.5 L893.2,640.4 L893.8,642.9 L894.5,645.5 L895.1,642.9 L895.7,645.4 L896.3,644.5 L896.9,643.7 L897.5,651.7 L898.1,649.8 L898.8,642.5 L899.4,647.9 L900.0,650.3 L900.6,649.3 L901.2,651.4 L901.8,647.5 L902.5,646.9 L903.1,650.8 L903.7,648.3 L904.3,650.3 L904.9,650.6 L905.5,643.6 L906.1,643.1 L906.8,650.4 L907.4,652.5 L908.0,643.8 L908.6,648.6 L909.2,649.4 L909.8,644.1 L910.5,645.3 L911.1,650.0 L911.7,646.9 L912.3,650.0 L912.9,644.9 L913.5,652.7 L914.1,639.3 L914.8,647.3 L915.4,652.5 L916.0,652.4 L916.6,644.1 L917.2,643.3 L917.8,648.6 L918.5,652.6 L919.1,648.7 L919.7,652.3 L920.3,644.3 L920.9,649.8 L921.5,653.2 L922.1,656.4 L922.8,655.0 L923.4,645.1 L924.0,649.1 L924.6,653.0 L925.2,646.5 L925.8,647.4 L926.5,650.0 L927.1,650.9 L927.7,655.2 L928.3,653.0 L928.9,644.7 L929.5,644.5 L930.1,654.2 L930.8,646.2 L931.4,647.5 L932.0,648.9 L932.6,650.3 L933.2,655.5 L933.8,655.8 L934.5,657.3 L935.1,646.8 L935.7,641.0 L936.3,640.5 L936.9,649.5 L937.5,648.9 L938.1,648.7 L938.8,644.1 L939.4,645.5 L940.0,643.0 L940.6,640.8 L941.2,648.0 L941.8,644.3 L942.5,643.8 L943.1,656.7 L943.7,651.4 L944.3,644.0 L944.9,644.5 L945.5,646.5 L946.1,643.7 L946.8,644.5 L947.4,644.5 L948.0,647.1 L948.6,646.5 L949.2,652.8 L949.8,655.5 L950.5,647.1 L951.1,650.6 L951.7,646.6 L952.3,652.4 L952.9,645.9 L953.5,646.7 L954.1,644.4 L954.8,647.9 L955.4,640.0 L956.0,649.3 L956.6,647.6 L957.2,646.6 L957.8,641.1 L958.5,648.5 L959.1,643.9 L959.7,651.1 L960.3,644.3 L960.9,645.9 L961.5,645.8 L962.2,653.6 L962.8,656.6 L963.4,651.0 L964.0,646.4 L964.6,654.2 L965.2,642.6 L965.8,642.9 L966.5,649.3 L967.1,648.6 L967.7,649.0 L968.3,646.3 L968.9,654.5 L969.5,646.6 L970.2,650.2 L970.8,645.3 L971.4,644.8 L972.0,653.8 L972.6,648.5 L973.2,646.5 L973.8,652.5 L974.5,646.9 L975.1,651.5 L975.7,642.8 L976.3,644.2 L976.9,643.0 L977.5,639.8 L978.2,649.2 L978.8,647.4 L979.4,644.9 L980.0,648.9 L980.6,650.5 L981.2,647.9 L981.8,645.8 L982.5,654.2 L983.1,655.8 L983.7,647.6 L984.3,651.7 L984.9,650.1 L985.5,651.4 L986.2,652.9 L986.8,650.3 L987.4,648.9 L988.0,649.1 L988.6,646.6 L989.2,659.4 L989.8,647.9 L990.5,649.1 L991.1,646.5 L991.7,648.0 L992.3,650.7 L992.9,641.8 L993.5,649.2 L994.2,645.6 L994.8,654.3 L995.4,643.9 L996.0,644.0 L996.6,658.9 L997.2,652.1 L997.8,656.2 L998.5,649.4 L999.1,642.0 L999.7,647.6 L1000.3,646.9 L1000.9,644.6 L1001.5,647.4 L1002.2,648.5 L1002.8,648.2 L1003.4,646.0 L1004.0,649.5 L1004.6,642.8 L1005.2,654.2 L1005.8,645.5 L1006.5,649.7 L1007.1,647.3 L1007.7,647.1 L1008.3,654.2 L1008.9,651.6 L1009.5,646.4 L1010.2,644.6 L1010.8,654.4 L1011.4,648.7 L1012.0,649.0 L1012.6,640.9 L1013.2,646.5 L1013.8,649.0 L1014.5,645.5 L1015.1,649.0 L1015.7,648.8 L1016.3,650.2 L1016.9,647.5 L1017.5,651.0 L1018.2,646.7 L1018.8,644.6 L1019.4,650.1 L1020.0,650.8 L1020.6,650.4 L1021.2,648.8 L1021.8,645.4 L1022.5,647.0 L1023.1,645.8 L1023.7,650.6 L1024.3,650.7 L1024.9,653.7 L1025.5,651.3 L1026.2,652.3 L1026.8,654.9 L1027.4,657.2 L1028.0,649.4 L1028.6,648.0 L1029.2,647.8 L1029.8,648.3 L1030.5,648.8 L1031.1,653.7 L1031.7,647.7 L1032.3,652.4 L1032.9,650.0 L1033.5,648.5 L1034.2,649.7 L1034.8,651.8 L1035.4,647.0 L1036.0,645.1 L1036.6,643.7 L1037.2,647.9 L1037.9,651.8 L1038.5,652.1 L1039.1,642.6 L1039.7,655.6" stroke="#1414f0" stroke-width="3" fill="none" />
<path d="M633.5,691.2 L634.1,686.9 L634.7,690.2 L635.3,691.0 L636.0,692.7 L636.6,684.7 L637.2,686.8 L637.8,690.5 L638.4,691.1 L639.0,691.7 L639.7,687.6 L640.3,691.1 L640.9,686.7 L641.5,686.1 L642.1,683.7 L642.7,681.4 L643.3,684.8 L644.0,683.5 L644.6,691.1 L645.2,690.3 L645.8,687.7 L646.4,685.9 L647.0,681.9 L647.7,692.4 L648.3,681.9 L648.9,683.9 L649.5,688.6 L650.1,694.5 L650.7,692.6 L651.3,693.4 L652.0,688.4 L652.6,688.6 L653.2,694.6 L653.8,691.8 L654.4,693.9 L655.0,694.0 L655.7,693.8 L656.3,686.0 L656.9,687.6 L657.5,693.2 L658.1,692.5 L658.7,691.4 L659.3,691.9 L660.0,692.0 L660.6,692.0 L661.2,688.7 L661.8,692.4 L662.4,696.3 L663.0,692.0 L663.7,688.7 L664.3,687.6 L664.9,687.2 L665.5,688.7 L666.1,692.6 L666.7,693.4 L667.3,684.9 L668.0,690.4 L668.6,693.3 L669.2,685.5 L669.8,688.0 L670.4,689.6 L671.0,693.0 L671.7,686.6 L672.3,689.2 L672.9,691.5 L673.5,692.0 L674.1,685.3 L674.7,693.3 L675.4,686.7 L676.0,685.9 L676.6,688.0 L677.2,688.8 L677.8,690.7 L678.4,693.5 L679.0,689.9 L679.7,690.0 L680.3,688.8 L680.9,683.2 L681.5,685.9 L682.1,688.9 L682.7,692.8 L683.4,688.1 L684.0,685.6 L684.6,684.5 L685.2,688.1 L685.8,695.1 L686.4,694.2 L687.0,688.8 L687.7,687.4 L688.3,689.0 L688.9,685.5 L689.5,691.5 L690.1,687.5 L690.7,685.1 L691.4,689.5 L692.0,691.9 L692.6,687.2 L693.2,691.5 L693.8,691.1 L694.4,691.4 L695.0,694.3 L695.7,697.1 L696.3,699.4 L696.9,698.2 L697.5,694.7 L698.1,691.8 L698.7,689.4 L699.4,692.4 L700.0,687.5 L700.6,691.1 L701.2,691.5 L701.8,689.8 L702.4,693.0 L703.0,694.7 L703.7,688.6 L704.3,688.0 L704.9,692.5 L705.5,695.9 L706.1,693.8 L706.7,683.4 L707.4,689.7 L708.0,691.1 L708.6,690.6 L709.2,689.9 L709.8,689.6 L710.4,689.5 L711.0,685.4 L711.7,689.9 L712.3,686.4 L712.9,685.7 L713.5,679.9 L714.1,685.8 L714.7,690.3 L715.4,694.6 L716.0,692.7 L716.6,693.7 L717.2,693.0 L717.8,692.3 L718.4,698.6 L719.0,692.1 L719.7,693.0 L720.3,686.5 L720.9,692.5 L721.5,693.1 L722.1,690.6 L722.7,686.3 L723.4,683.9 L724.0,685.8 L724.6,688.4 L725.2,695.3 L725.8,688.0 L726.4,691.7 L727.0,689.9 L727.7,683.6 L728.3,683.4 L728.9,690.1 L729.5,693.5 L730.1,687.0 L730.7,688.9 L731.4,685.3 L732.0,687.4 L732.6,691.3 L733.2,687.7 L733.8,685.8 L734.4,689.2 L735.0,688.6 L735.7,691.3 L736.3,689.5 L736.9,690.5 L737.5,688.5 L738.1,688.9 L738.7,691.1 L739.4,688.8 L740.0,693.0 L740.6,691.2 L741.2,691.0 L741.8,693.0 L742.4,692.1 L743.1,686.8 L743.7,688.1 L744.3,689.2 L744.9,691.4 L745.5,695.7 L746.1,691.9 L746.7,687.8 L747.4,686.8 L748.0,688.8 L748.6,689.2 L749.2,693.1 L749.8,690.4 L750.4,689.6 L751.1,694.0 L751.7,685.3 L752.3,688.2 L752.9,685.6 L753.5,688.3 L754.1,688.4 L754.7,687.6 L755.4,688.7 L756.0,686.2 L756.6,690.4 L757.2,687.4 L757.8,682.8 L758.4,688.3 L759.1,690.4 L759.7,683.5 L760.3,684.6 L760.9,686.1 L761.5,689.7 L762.1,684.9 L762.7,686.6 L763.4,685.9 L764.0,686.8 L764.6,693.9 L765.2,688.3 L765.8,683.3 L766.4,682.2 L767.1,689.2 L767.7,688.7 L768.3,685.9 L768.9,689.7 L769.5,690.4 L770.1,687.5 L770.7,685.6 L771.4,689.4 L772.0,687.7 L772.6,688.8 L773.2,693.9 L773.8,688.1 L774.4,694.1 L775.1,691.3 L775.7,687.7 L776.3,682.5 L776.9,685.9 L777.5,686.6 L778.1,686.5 L778.7,688.2 L779.4,690.2 L780.0,697.5 L780.6,692.1 L781.2,683.2 L781.8,690.0 L782.4,690.5 L783.1,695.2 L783.7,679.6 L784.3,690.1 L784.9,688.8 L785.5,687.2 L786.1,689.2 L786.7,691.0 L787.4,689.4 L788.0,691.0 L788.6,691.0 L789.2,691.0 L789.8,689.4 L790.4,689.6 L791.1,689.8 L791.7,689.4 L792.3,691.7 L792.9,689.7 L793.5,692.0 L794.1,694.2 L794.7,690.4 L795.4,697.6 L796.0,693.2 L796.6,692.3 L797.2,685.1 L797.8,686.1 L798.4,691.5 L799.1,691.8 L799.7,691.3 L800.3,685.7 L800.9,682.0 L801.5,690.8 L802.1,686.4 L802.7,685.1 L803.4,682.0 L804.0,689.1 L804.6,688.1 L805.2,689.2 L805.8,695.0 L806.4,682.7 L807.1,687.7 L807.7,690.6 L808.3,690.7 L808.9,692.5 L809.5,691.7 L810.1,692.9 L810.7,687.7 L811.4,690.5 L812.0,687.1 L812.6,690.3 L813.2,694.2 L813.8,693.6 L814.4,688.6 L815.1,690.4 L815.7,690.3 L816.3,688.8 L816.9,693.7 L817.5,687.7 L818.1,693.0 L818.8,697.7 L819.4,693.2 L820.0,697.5 L820.6,694.3 L821.2,688.8 L821.8,689.7 L822.4,693.5 L823.1,693.3 L823.7,683.0 L824.3,690.3 L824.9,690.3 L825.5,686.5 L826.1,691.7 L826.8,687.4 L827.4,689.5 L828.0,693.1 L828.6,691.1 L829.2,689.5 L829.8,688.4 L830.4,690.3 L831.1,690.6 L831.7,687.3 L832.3,685.1 L832.9,690.6 L833.5,694.3 L834.1,690.9 L834.8,687.8 L835.4,689.3 L836.0,692.5 L836.6,690.2 L837.2,689.1 L837.8,689.3 L838.4,691.2 L839.1,681.3 L839.7,690.7 L840.3,690.2 L840.9,691.5 L841.5,691.2 L842.1,692.0 L842.8,688.5 L843.4,689.9 L844.0,689.5 L844.6,693.6 L845.2,684.2 L845.8,691.2 L846.4,687.6 L847.1,683.0 L847.7,694.2 L848.3,691.4 L848.9,689.7 L849.5,687.6 L850.1,688.0 L850.8,683.0 L851.4,685.4 L852.0,690.3 L852.6,687.4 L853.2,690.6 L853.8,689.2 L854.4,691.9 L855.1,694.4 L855.7,688.1 L856.3,694.9 L856.9,694.7 L857.5,686.6 L858.1,693.5 L858.8,689.3 L859.4,694.4 L860.0,697.9 L860.6,689.6 L861.2,691.6 L861.8,691.7 L862.4,694.3 L863.1,691.5 L863.7,692.6 L864.3,691.4 L864.9,690.2 L865.5,689.5 L866.1,691.0 L866.8,687.1 L867.4,682.9 L868.0,684.5 L868.6,684.4 L869.2,690.5 L869.8,689.3 L870.4,689.2 L871.1,686.5 L871.7,689.2 L872.3,685.7 L872.9,682.4 L873.5,681.5 L874.1,685.0 L874.8,692.8 L875.4,690.8 L876.0,694.5 L876.6,691.7 L877.2,685.7 L877.8,692.6 L878.4,694.9 L879.1,696.9 L879.7,687.3 L880.3,689.6 L880.9,684.6 L881.5,686.4 L882.1,689.6 L882.8,688.1 L883.4,689.5 L884.0,687.5 L884.6,688.1 L885.2,692.5 L885.8,692.5 L886.4,688.0 L887.1,688.0 L887.7,691.3 L888.3,680.9 L888.9,681.5 L889.5,691.0 L890.1,689.4 L890.8,691.7 L891.4,693.7 L892.0,693.4 L892.6,688.3 L893.2,691.1 L893.8,690.5 L894.5,692.2 L895.1,685.2 L895.7,692.1 L896.3,690.2 L896.9,692.1 L897.5,687.3 L898.1,692.1 L898.8,692.7 L899.4,688.7 L900.0,687.5 L900.6,690.6 L901.2,687.8 L901.8,691.0 L902.5,696.6 L903.1,693.2 L903.7,690.1 L904.3,694.1 L904.9,690.0 L905.5,693.1 L906.1,687.9 L906.8,692.6 L907.4,693.2 L908.0,688.0 L908.6,687.9 L909.2,684.0 L909.8,685.8 L910.5,692.9 L911.1,691.4 L911.7,688.2 L912.3,686.7 L912.9,682.0 L913.5,688.2 L914.1,689.7 L914.8,692.6 L915.4,688.8 L916.0,684.3 L916.6,687.8 L917.2,682.3 L917.8,692.6 L918.5,697.1 L919.1,692.3 L919.7,693.6 L920.3,693.0 L920.9,691.2 L921.5,688.4 L922.1,687.5 L922.8,693.1 L923.4,686.2 L924.0,697.1 L924.6,693.9 L925.2,691.2 L925.8,691.5 L926.5,687.9 L927.1,687.2 L927.7,689.0 L928.3,688.2 L928.9,691.2 L929.5,695.8 L930.1,693.2 L930.8,694.4 L931.4,690.3 L932.0,688.3 L932.6,690.3 L933.2,688.6 L933.8,686.0 L934.5,684.1 L935.1,682.1 L935.7,689.3 L936.3,688.4 L936.9,686.8 L937.5,690.6 L938.1,688.0 L938.8,689.3 L939.4,695.8 L940.0,691.9 L940.6,687.7 L941.2,688.7 L941.8,693.8 L942.5,683.6 L943.1,684.2 L943.7,687.7 L944.3,685.6 L944.9,691.3 L945.5,690.8 L946.1,691.8 L946.8,691.6 L947.4,690.0 L948.0,686.3 L948.6,691.2 L949.2,686.1 L949.8,690.0 L950.5,692.3 L951.1,690.3 L951.7,686.5 L952.3,686.3 L952.9,687.2 L953.5,686.9 L954.1,689.0 L954.8,690.2 L955.4,687.9 L956.0,683.9 L956.6,687.0 L957.2,692.1 L957.8,694.2 L958.5,691.1 L959.1,693.0 L959.7,690.7 L960.3,693.5 L960.9,691.3 L961.5,690.3 L962.2,689.8 L962.8,695.3 L963.4,691.4 L964.0,689.8 L964.6,691.3 L965.2,689.8 L965.8,685.8 L966.5,688.4 L967.1,688.7 L967.7,689.9 L968.3,694.5 L968.9,689.6 L969.5,692.7 L970.2,693.9 L970.8,694.2 L971.4,686.3 L972.0,686.7 L972.6,697.1 L973.2,685.5 L973.8,694.7 L974.5,689.1 L975.1,685.8 L975.7,684.4 L976.3,690.8 L976.9,691.9 L977.5,696.1 L978.2,685.0 L978.8,691.9 L979.4,683.4 L980.0,682.4 L980.6,693.0 L981.2,686.5 L981.8,689.2 L982.5,690.4 L983.1,692.9 L983.7,684.2 L984.3,685.5 L984.9,689.3 L985.5,694.1 L986.2,687.4 L986.8,689.8 L987.4,693.2 L988.0,688.6 L988.6,688.6 L989.2,691.4 L989.8,687.6 L990.5,685.6 L991.1,692.1 L991.7,691.1 L992.3,690.8 L992.9,687.5 L993.5,690.0 L994.2,687.7 L994.8,688.9 L995.4,683.0 L996.0,686.0 L996.6,686.4 L997.2,688.6 L997.8,685.2 L998.5,689.6 L999.1,681.9 L999.7,687.8 L1000.3,686.6 L1000.9,691.1 L1001.5,691.6 L1002.2,690.2 L1002.8,689.2 L1003.4,696.8 L1004.0,698.9 L1004.6,694.1 L1005.2,695.0 L1005.8,688.0 L1006.5,685.8 L1007.1,688.8 L1007.7,685.2 L1008.3,688.1 L1008.9,691.3 L1009.5,691.8 L1010.2,696.6 L1010.8,697.8 L1011.4,689.6 L1012.0,689.4 L1012.6,697.1 L1013.2,693.6 L1013.8,689.8 L1014.5,690.2 L1015.1,686.8 L1015.7,690.8 L1016.3,693.1 L1016.9,688.8 L1017.5,694.4 L1018.2,692.0 L1018.8,687.7 L1019.4,685.1 L1020.0,684.4 L1020.6,687.8 L1021.2,688.0 L1021.8,692.7 L1022.5,690.3 L1023.1,691.5 L1023.7,695.7 L1024.3,688.0 L1024.9,689.2 L1025.5,693.2 L1026.2,684.4 L1026.8,684.2 L1027.4,690.7 L1028.0,685.8 L1028.6,688.4 L1029.2,689.9 L1029.8,695.7 L1030.5,690.4 L1031.1,690.2 L1031.7,689.2 L1032.3,685.6 L1032.9,684.6 L1033.5,689.9 L1034.2,684.1 L1034.8,691.6 L1035.4,693.6 L1036.0,692.7 L1036.6,684.1 L1037.2,685.2 L1037.9,679.9 L1038.5,680.2 L1039.1,690.9 L1039.7,687.8" stroke="#f01414" stroke-width="3" fill="none" />
<path d="M633.5,780.1 L634.1,779.8 L634.7,784.3 L635.3,782.1 L636.0,782.6 L636.6,774.1 L637.2,779.6 L637.8,777.2 L638.4,776.4 L639.0,783.2 L639.7,778.8 L640.3,779.9 L640.9,777.1 L641.5,779.2 L642.1,778.8 L642.7,777.2 L643.3,779.7 L644.0,781.5 L644.6,784.1 L645.2,774.3 L645.8,774.9 L646.4,774.6 L647.0,770.9 L647.7,777.5 L648.3,778.2 L648.9,780.6 L649.5,778.3 L650.1,779.0 L650.7,770.7 L651.3,776.5 L652.0,779.0 L652.6,780.2 L653.2,778.5 L653.8,778.4 L654.4,773.2 L655.0,774.4 L655.7,780.0 L656.3,775.2 L656.9,779.7 L657.5,770.6 L658.1,777.3 L658.7,775.1 L659.3,773.2 L660.0,773.2 L660.6,780.7 L661.2,773.4 L661.8,771.6 L662.4,762.5 L663.0,771.4 L663.7,774.4 L664.3,781.8 L664.9,773.9 L665.5,761.8 L666.1,764.6 L666.7,772.8 L667.3,770.1 L668.0,774.8 L668.6,766.2 L669.2,770.1 L669.8,771.0 L670.4,770.0 L671.0,768.8 L671.7,773.0 L672.3,773.1 L672.9,764.5 L673.5,764.4 L674.1,772.7 L674.7,766.2 L675.4,771.0 L676.0,775.0 L676.6,762.5 L677.2,764.4 L677.8,772.8 L678.4,774.7 L679.0,766.5 L679.7,767.6 L680.3,758.6 L680.9,768.0 L681.5,767.1 L682.1,771.8 L682.7,773.5 L683.4,771.4 L684.0,760.0 L684.6,764.4 L685.2,763.2 L685.8,765.1 L686.4,764.6 L687.0,769.1 L687.7,769.9 L688.3,769.1 L688.9,759.8 L689.5,761.2 L690.1,757.7 L690.7,763.9 L691.4,761.5 L692.0,762.1 L692.6,764.3 L693.2,766.4 L693.8,769.1 L694.4,756.6 L695.0,760.0 L695.7,755.0 L696.3,756.7 L696.9,759.9 L697.5,757.4 L698.1,763.1 L698.7,757.2 L699.4,759.8 L700.0,769.9 L700.6,752.1 L701.2,763.7 L701.8,761.9 L702.4,760.4 L703.0,765.4 L703.7,760.6 L704.3,754.3 L704.9,751.6 L705.5,759.0 L706.1,753.5 L706.7,752.3 L707.4,751.8 L708.0,755.6 L708.6,753.6 L709.2,750.9 L709.8,752.7 L710.4,754.0 L711.0,754.9 L711.7,752.6 L712.3,745.2 L712.9,753.1 L713.5,748.1 L714.1,745.3 L714.7,751.4 L715.4,753.5 L716.0,757.3 L716.6,747.6 L717.2,747.9 L717.8,752.2 L718.4,754.3 L719.0,759.7 L719.7,754.7 L720.3,750.1 L720.9,751.0 L721.5,750.0 L722.1,746.5 L722.7,743.9 L723.4,743.7 L724.0,747.2 L724.6,744.7 L725.2,746.7 L725.8,744.2 L726.4,747.6 L727.0,747.0 L727.7,740.1 L728.3,742.3 L728.9,745.2 L729.5,738.1 L730.1,737.1 L730.7,742.6 L731.4,741.8 L732.0,741.3 L732.6,742.6 L733.2,740.7 L733.8,740.8 L734.4,741.1 L735.0,739.2 L735.7,739.6 L736.3,739.4 L736.9,736.7 L737.5,735.8 L738.1,736.3 L738.7,736.5 L739.4,742.2 L740.0,730.2 L740.6,738.3 L741.2,742.7 L741.8,740.7 L742.4,734.0 L743.1,737.2 L743.7,736.9 L744.3,733.5 L744.9,738.3 L745.5,742.9 L746.1,735.9 L746.7,738.2 L747.4,738.7 L748.0,733.4 L748.6,735.6 L749.2,732.8 L749.8,736.9 L750.4,728.1 L751.1,727.7 L751.7,736.6 L752.3,732.9 L752.9,733.1 L753.5,734.0 L754.1,729.5 L754.7,737.5 L755.4,731.6 L756.0,730.4 L756.6,733.4 L757.2,731.9 L757.8,729.3 L758.4,732.0 L759.1,731.1 L759.7,727.2 L760.3,725.4 L760.9,731.1 L761.5,731.9 L762.1,729.9 L762.7,728.9 L763.4,731.3 L764.0,729.8 L764.6,729.9 L765.2,728.5 L765.8,733.5 L766.4,731.9 L767.1,729.9 L767.7,733.5 L768.3,723.4 L768.9,732.2 L769.5,736.3 L770.1,730.7 L770.7,722.6 L771.4,719.9 L772.0,725.8 L772.6,724.0 L773.2,723.3 L773.8,724.6 L774.4,723.0 L775.1,718.2 L775.7,723.9 L776.3,723.9 L776.9,726.9 L777.5,725.9 L778.1,723.6 L778.7,724.1 L779.4,729.2 L780.0,721.5 L780.6,725.7 L781.2,725.0 L781.8,732.3 L782.4,727.5 L783.1,717.9 L783.7,723.1 L784.3,729.3 L784.9,720.6 L785.5,722.5 L786.1,719.8 L786.7,719.0 L787.4,714.8 L788.0,714.3 L788.6,711.7 L789.2,720.2 L789.8,712.8 L790.4,715.6 L791.1,719.8 L791.7,709.9 L792.3,720.5 L792.9,723.9 L793.5,724.9 L794.1,715.9 L794.7,716.6 L795.4,713.6 L796.0,711.2 L796.6,713.4 L797.2,717.8 L797.8,713.7 L798.4,714.9 L799.1,720.8 L799.7,720.8 L800.3,725.4 L800.9,716.7 L801.5,717.1 L802.1,714.9 L802.7,709.9 L803.4,711.4 L804.0,709.9 L804.6,711.9 L805.2,715.3 L805.8,710.1 L806.4,718.9 L807.1,715.6 L807.7,712.6 L808.3,716.3 L808.9,713.3 L809.5,716.6 L810.1,710.7 L810.7,710.3 L811.4,709.8 L812.0,710.8 L812.6,712.2 L813.2,708.9 L813.8,709.6 L814.4,708.5 L815.1,704.4 L815.7,704.0 L816.3,706.9 L816.9,706.5 L817.5,718.2 L818.1,710.1 L818.8,701.2 L819.4,708.6 L820.0,711.4 L820.6,705.5 L821.2,711.4 L821.8,707.4 L822.4,714.8 L823.1,716.0 L823.7,714.2 L824.3,720.2 L824.9,721.9 L825.5,720.9 L826.1,721.9 L826.8,726.6 L827.4,725.8 L828.0,731.0 L828.6,736.1 L829.2,735.8 L829.8,726.0 L830.4,732.1 L831.1,732.3 L831.7,732.2 L832.3,737.2 L832.9,732.6 L833.5,736.5 L834.1,737.7 L834.8,738.5 L835.4,741.3 L836.0,741.8 L836.6,739.1 L837.2,733.3 L837.8,735.2 L838.4,739.1 L839.1,740.4 L839.7,751.6 L840.3,745.8 L840.9,733.5 L841.5,738.6 L842.1,737.6 L842.8,730.3 L843.4,739.5 L844.0,741.0 L844.6,746.2 L845.2,742.8 L845.8,741.4 L846.4,741.0 L847.1,733.4 L847.7,732.3 L848.3,731.4 L848.9,729.6 L849.5,733.7 L850.1,734.8 L850.8,725.1 L851.4,730.7 L852.0,732.3 L852.6,724.0 L853.2,731.7 L853.8,734.9 L854.4,734.1 L855.1,729.3 L855.7,726.9 L856.3,729.2 L856.9,732.5 L857.5,727.6 L858.1,728.9 L858.8,726.0 L859.4,725.2 L860.0,731.6 L860.6,730.0 L861.2,732.6 L861.8,727.4 L862.4,721.2 L863.1,722.6 L863.7,733.1 L864.3,722.7 L864.9,726.3 L865.5,723.5 L866.1,727.5 L866.8,734.2 L867.4,730.2 L868.0,728.9 L868.6,729.9 L869.2,730.4 L869.8,731.4 L870.4,723.1 L871.1,733.0 L871.7,741.7 L872.3,730.6 L872.9,735.0 L873.5,729.5 L874.1,733.4 L874.8,744.0 L875.4,740.8 L876.0,739.0 L876.6,740.8 L877.2,739.9 L877.8,744.6 L878.4,747.9 L879.1,749.3 L879.7,749.5 L880.3,749.0 L880.9,745.3 L881.5,748.8 L882.1,753.9 L882.8,760.6 L883.4,759.3 L884.0,764.5 L884.6,768.4 L885.2,768.9 L885.8,766.7 L886.4,770.8 L887.1,774.6 L887.7,775.7 L888.3,781.5 L888.9,780.0 L889.5,776.3 L890.1,789.7 L890.8,783.6 L891.4,788.1 L892.0,784.7 L892.6,784.6 L893.2,789.5 L893.8,790.1 L894.5,795.5 L895.1,799.8 L895.7,790.3 L896.3,789.9 L896.9,799.6 L897.5,792.7 L898.1,797.2 L898.8,800.8 L899.4,800.0 L900.0,791.8 L900.6,797.0 L901.2,798.1 L901.8,804.9 L902.5,806.6 L903.1,808.1 L903.7,797.9 L904.3,801.6 L904.9,801.3 L905.5,799.2 L906.1,797.3 L906.8,794.9 L907.4,797.5 L908.0,798.1 L908.6,793.1 L909.2,803.2 L909.8,799.2 L910.5,804.9 L911.1,797.4 L911.7,797.8 L912.3,799.1 L912.9,804.6 L913.5,800.1 L914.1,807.3 L914.8,810.1 L915.4,809.2 L916.0,803.4 L916.6,805.7 L917.2,809.0 L917.8,799.9 L918.5,810.3 L919.1,804.7 L919.7,804.2 L920.3,801.9 L920.9,809.3 L921.5,806.4 L922.1,805.9 L922.8,806.2 L923.4,805.2 L924.0,800.7 L924.6,796.6 L925.2,800.0 L925.8,799.7 L926.5,800.6 L927.1,804.0 L927.7,803.2 L928.3,807.7 L928.9,802.7 L929.5,800.2 L930.1,808.3 L930.8,810.4 L931.4,814.7 L932.0,804.1 L932.6,804.5 L933.2,805.7 L933.8,808.2 L934.5,800.7 L935.1,804.7 L935.7,809.5 L936.3,797.9 L936.9,801.3 L937.5,801.8 L938.1,803.7 L938.8,796.4 L939.4,802.3 L940.0,799.7 L940.6,805.6 L941.2,800.7 L941.8,804.0 L942.5,798.7 L943.1,802.3 L943.7,802.4 L944.3,809.9 L944.9,798.9 L945.5,806.6 L946.1,806.0 L946.8,801.0 L947.4,792.9 L948.0,795.6 L948.6,800.3 L949.2,798.0 L949.8,806.0 L950.5,805.4 L951.1,808.9 L951.7,799.6 L952.3,798.9 L952.9,797.9 L953.5,800.3 L954.1,801.3 L954.8,804.6 L955.4,801.1 L956.0,800.6 L956.6,806.9 L957.2,799.2 L957.8,804.5 L958.5,806.0 L959.1,802.5 L959.7,796.1 L960.3,801.5 L960.9,801.8 L961.5,804.0 L962.2,811.2 L962.8,809.9 L963.4,805.0 L964.0,801.9 L964.6,801.8 L965.2,802.0 L965.8,795.0 L966.5,811.6 L967.1,811.5 L967.7,804.6 L968.3,808.0 L968.9,805.2 L969.5,799.1 L970.2,808.3 L970.8,802.5 L971.4,808.1 L972.0,802.3 L972.6,807.5 L973.2,802.5 L973.8,802.8 L974.5,796.7 L975.1,806.4 L975.7,805.9 L976.3,804.7 L976.9,807.5 L977.5,807.0 L978.2,802.2 L978.8,798.2 L979.4,801.8 L980.0,801.4 L980.6,806.1 L981.2,801.2 L981.8,803.3 L982.5,800.0 L983.1,803.6 L983.7,800.3 L984.3,798.3 L984.9,805.1 L985.5,801.3 L986.2,806.2 L986.8,808.5 L987.4,808.7 L988.0,802.6 L988.6,803.8 L989.2,807.2 L989.8,803.9 L990.5,810.4 L991.1,797.0 L991.7,803.3 L992.3,804.7 L992.9,795.6 L993.5,801.5 L994.2,810.7 L994.8,810.9 L995.4,804.2 L996.0,805.1 L996.6,804.8 L997.2,808.1 L997.8,806.0 L998.5,799.0 L999.1,805.1 L999.7,795.7 L1000.3,796.9 L1000.9,804.7 L1001.5,802.3 L1002.2,806.1 L1002.8,804.4 L1003.4,806.5 L1004.0,810.4 L1004.6,809.2 L1005.2,808.6 L1005.8,806.6 L1006.5,803.6 L1007.1,805.6 L1007.7,809.6 L1008.3,809.7 L1008.9,807.7 L1009.5,809.2 L1010.2,813.7 L1010.8,809.7 L1011.4,802.8 L1012.0,806.7 L1012.6,813.8 L1013.2,808.7 L1013.8,805.2 L1014.5,804.7 L1015.1,804.8 L1015.7,800.7 L1016.3,806.0 L1016.9,804.1 L1017.5,804.0 L1018.2,805.3 L1018.8,804.5 L1019.4,800.8 L1020.0,804.2 L1020.6,800.7 L1021.2,805.0 L1021.8,798.5 L1022.5,806.8 L1023.1,803.1 L1023.7,802.8 L1024.3,808.0 L1024.9,801.3 L1025.5,808.1 L1026.2,803.0 L1026.8,808.7 L1027.4,810.0 L1028.0,805.7 L1028.6,807.7 L1029.2,807.2 L1029.8,807.1 L1030.5,803.0 L1031.1,800.3 L1031.7,802.0 L1032.3,806.0 L1032.9,805.3 L1033.5,803.3 L1034.2,800.4 L1034.8,803.7 L1035.4,796.7 L1036.0,805.3 L1036.6,810.5 L1037.2,806.5 L1037.9,809.6 L1038.5,809.0 L1039.1,807.5 L1039.7,805.6" stroke="#0a0a0a" stroke-width="3.2" fill="none" />
</g>
<rect x="633.5" y="462.8" width="410.29999999999995" height="366.7" fill="none" stroke="#111" stroke-width="2"/>
<line x1="633.5" y1="829.5" x2="633.5" y2="836.5" stroke="#111" stroke-width="2" />
<text x="633.5" y="863.4" font-size="24.5" text-anchor="middle" textLength="42.3" lengthAdjust="spacingAndGlyphs">500</text>
<line x1="736.1" y1="829.5" x2="736.1" y2="836.5" stroke="#111" stroke-width="2" />
<text x="736.1" y="863.4" font-size="24.5" text-anchor="middle" textLength="42.3" lengthAdjust="spacingAndGlyphs">525</text>
<line x1="838.6" y1="829.5" x2="838.6" y2="836.5" stroke="#111" stroke-width="2" />
<text x="838.6" y="863.4" font-size="24.5" text-anchor="middle" textLength="42.3" lengthAdjust="spacingAndGlyphs">550</text>
<line x1="941.2" y1="829.5" x2="941.2" y2="836.5" stroke="#111" stroke-width="2" />
<text x="941.2" y="863.4" font-size="24.5" text-anchor="middle" textLength="42.3" lengthAdjust="spacingAndGlyphs">575</text>
<line x1="1043.8" y1="829.5" x2="1043.8" y2="836.5" stroke="#111" stroke-width="2" />
<text x="1043.8" y="863.4" font-size="24.5" text-anchor="middle" textLength="42.3" lengthAdjust="spacingAndGlyphs">600</text>
<text x="839.1" y="893.0" font-size="25" text-anchor="middle" textLength="203.4" lengthAdjust="spacingAndGlyphs">Wavelength (nm)</text>
<text x="606.5" y="646.2" font-size="26.4" text-anchor="middle" textLength="230.5" lengthAdjust="spacingAndGlyphs" transform="rotate(-90 606.5 646.2)">SHG intensity (a.u.)</text>
<text x="645.0" y="629.3" font-size="22.6" fill="#1414f0" textLength="91.5" lengthAdjust="spacingAndGlyphs">2LM/1LG</text>
<text x="645.0" y="680.5" font-size="22.6" fill="#f01414" textLength="43.0" lengthAdjust="spacingAndGlyphs">2LM</text>
<text x="645.8" y="761.0" font-size="22.6" textLength="40.5" lengthAdjust="spacingAndGlyphs">1LG</text>
<rect x="900.3" y="471.7" width="120.90000000000009" height="100.09999999999997" fill="#fff" stroke="#222" stroke-width="1.6"/>
<line x1="900.3" y1="486.3" x2="903.3" y2="486.3" stroke="#222" stroke-width="1.2" />
<text x="872.0" y="492.8" font-size="15.5" fill="#222" textLength="17.0" lengthAdjust="spacingAndGlyphs">10</text>
<text x="889.5" y="484.8" font-size="10" fill="#222">3</text>
<line x1="900.3" y1="518.5" x2="903.3" y2="518.5" stroke="#222" stroke-width="1.2" />
<text x="872.0" y="525.0" font-size="15.5" fill="#222" textLength="17.0" lengthAdjust="spacingAndGlyphs">10</text>
<text x="889.5" y="517.0" font-size="10" fill="#222">2</text>
<line x1="900.3" y1="550.7" x2="903.3" y2="550.7" stroke="#222" stroke-width="1.2" />
<text x="872.0" y="557.2" font-size="15.5" fill="#222" textLength="17.0" lengthAdjust="spacingAndGlyphs">10</text>
<text x="889.5" y="549.2" font-size="10" fill="#222">1</text>
<line x1="943.0" y1="571.8" x2="943.0" y2="568.8" stroke="#222" stroke-width="1.2" />
<text x="931.5" y="594.6" font-size="15.5" fill="#222" textLength="17.0" lengthAdjust="spacingAndGlyphs">10</text>
<text x="949.5" y="587.0" font-size="10" fill="#222">1</text>
<line x1="1020.3" y1="571.8" x2="1020.3" y2="568.8" stroke="#222" stroke-width="1.2" />
<text x="1008.8" y="594.6" font-size="15.5" fill="#222" textLength="17.0" lengthAdjust="spacingAndGlyphs">10</text>
<text x="1026.8" y="587.0" font-size="10" fill="#222">2</text>
<text x="889.7" y="615.7" font-size="16" fill="#222" textLength="144.0" lengthAdjust="spacingAndGlyphs">Laser power (mW)</text>
<text x="862.5" y="543.1" font-size="16.1" text-anchor="middle" fill="#222" textLength="140.4" lengthAdjust="spacingAndGlyphs" transform="rotate(-90 862.5 543.1)">SHG intensity (a.u.)</text>
<text x="903.2" y="487.5" font-size="16.5" fill="#222" textLength="44.5" lengthAdjust="spacingAndGlyphs">Slope:</text>
<text x="903.2" y="507.4" font-size="16.3" fill="#222" textLength="71.0" lengthAdjust="spacingAndGlyphs">1.75 ± 0.06</text>
<line x1="901.0" y1="565.5" x2="1018.0" y2="484.0" stroke="#f01414" stroke-width="3.2" stroke-dasharray="7 4.5"/>
<circle cx="931.3" cy="543.7" r="4.6" fill="#f01414"/><circle cx="930.8" cy="541.5" r="1" fill="#fff"/>
<circle cx="943" cy="535" r="4.6" fill="#f01414"/><circle cx="942.5" cy="532.8" r="1" fill="#fff"/>
<circle cx="955.9" cy="526.7" r="4.6" fill="#f01414"/><circle cx="955.4" cy="524.5" r="1" fill="#fff"/>
<circle cx="968.2" cy="518.5" r="4.6" fill="#f01414"/><circle cx="967.7" cy="516.3" r="1" fill="#fff"/>
<circle cx="978.3" cy="510.2" r="4.6" fill="#f01414"/><circle cx="977.8" cy="508.0" r="1" fill="#fff"/>
<circle cx="980.5" cy="507.5" r="4.6" fill="#f01414"/><circle cx="980.0" cy="505.3" r="1" fill="#fff"/>
<g fill="none">
<path d="M1574.0,815.1 L1574.5,815.9 L1575.0,815.9 L1575.5,815.4 L1576.0,815.0 L1576.5,815.7 L1577.0,815.9 L1577.5,815.9 L1578.0,815.1 L1578.5,815.1 L1579.0,815.9 L1579.5,815.9 L1580.0,815.9 L1580.5,815.9 L1581.0,815.6 L1581.5,815.6 L1582.0,815.9 L1582.5,815.6 L1583.0,815.3 L1583.5,815.1 L1584.0,815.7 L1584.5,815.8 L1585.0,815.5 L1585.5,815.7 L1586.0,815.8 L1586.5,815.9 L1587.0,815.9 L1587.5,815.8 L1588.0,814.8 L1588.5,815.9 L1589.0,815.0 L1589.5,815.6 L1590.0,815.0 L1590.5,815.7 L1591.0,815.3 L1591.5,815.8 L1592.0,815.9 L1592.5,815.7 L1593.0,815.9 L1593.5,815.0 L1594.0,815.6 L1594.5,815.9 L1595.0,815.7 L1595.5,815.9 L1596.0,815.8 L1596.5,815.2 L1597.0,815.9 L1597.5,815.3 L1598.0,815.9 L1598.5,815.4 L1599.0,815.9 L1599.5,815.7 L1600.0,815.9 L1600.5,815.4 L1601.0,815.9 L1601.5,815.6 L1602.0,815.9 L1602.5,815.9 L1603.0,815.5 L1603.5,814.5 L1604.0,814.3 L1604.5,812.7 L1605.0,811.5 L1605.5,808.9 L1606.0,808.6 L1606.5,808.7 L1607.0,809.2 L1607.5,809.4 L1608.0,808.1 L1608.5,804.1 L1609.0,797.1 L1609.5,786.7 L1610.0,771.8 L1610.5,751.7 L1611.0,725.6 L1611.5,695.4 L1612.0,662.3 L1612.5,629.4 L1613.0,599.7 L1613.5,577.5 L1614.0,565.2 L1614.5,562.7 L1615.0,570.2 L1615.5,587.0 L1616.0,607.9 L1616.5,634.3 L1617.0,662.4 L1617.5,689.5 L1618.0,717.8 L1618.5,741.0 L1619.0,760.1 L1619.5,776.4 L1620.0,788.5 L1620.5,797.1 L1621.0,804.0 L1621.5,808.6 L1622.0,811.9 L1622.5,813.5 L1623.0,814.3 L1623.5,815.6 L1624.0,814.9 L1624.5,815.9 L1625.0,815.9 L1625.5,815.5 L1626.0,814.8 L1626.5,815.2 L1627.0,815.8 L1627.5,815.9 L1628.0,815.9 L1628.5,815.2 L1629.0,815.7 L1629.5,815.9 L1630.0,815.6 L1630.5,814.5 L1631.0,815.9 L1631.5,815.9 L1632.0,815.9 L1632.5,815.2 L1633.0,815.5 L1633.5,815.8 L1634.0,815.9 L1634.5,815.9 L1635.0,815.8 L1635.5,815.9 L1636.0,815.7 L1636.5,815.9 L1637.0,815.4 L1637.5,815.5 L1638.0,815.9 L1638.5,815.9 L1639.0,815.9 L1639.5,815.9 L1640.0,814.8 L1640.5,815.3 L1641.0,815.4 L1641.5,815.4 L1642.0,815.9 L1642.5,815.5 L1643.0,815.9 L1643.5,815.7 L1644.0,815.5 L1644.5,815.8 L1645.0,815.9 L1645.5,815.9 L1646.0,815.5 L1646.5,815.6 L1647.0,815.0 L1647.5,815.9 L1648.0,815.9 L1648.5,815.6 L1649.0,815.5 L1649.5,815.1 L1650.0,815.8 L1650.5,815.8 L1651.0,815.9 L1651.5,815.8 L1652.0,815.3 L1652.5,814.5 L1653.0,815.9 L1653.5,815.8 L1654.0,814.9 L1654.5,815.8 L1655.0,814.9 L1655.5,815.9 L1656.0,815.9 L1656.5,815.9 L1657.0,815.6 L1657.5,814.6 L1658.0,815.6 L1658.5,814.9 L1659.0,815.9 L1659.5,814.6 L1660.0,815.2 L1660.5,815.9 L1661.0,815.9 L1661.5,815.1 L1662.0,814.9 L1662.5,815.9 L1663.0,815.9 L1663.5,815.2 L1664.0,815.4 L1664.5,815.4 L1665.0,815.1 L1665.5,815.4 L1666.0,815.9 L1666.5,815.9 L1667.0,815.9 L1667.5,815.7 L1668.0,815.6 L1668.5,815.2 L1669.0,815.6 L1669.5,815.0 L1670.0,814.8 L1670.5,815.9 L1671.0,815.9 L1671.5,815.9 L1672.0,815.9 L1672.5,815.8 L1673.0,815.3 L1673.5,815.7 L1674.0,815.5 L1674.5,815.1 L1675.0,814.9 L1675.5,815.0 L1676.0,815.7 L1676.5,815.8 L1677.0,815.5 L1677.5,815.9 L1678.0,815.8 L1678.5,815.9 L1679.0,815.9 L1679.5,815.3 L1680.0,814.7 L1680.5,815.9 L1681.0,815.4 L1681.5,815.9 L1682.0,815.9 L1682.5,815.9 L1683.0,815.9 L1683.5,814.7 L1684.0,815.9 L1684.5,815.4 L1685.0,815.3 L1685.5,815.5 L1686.0,815.9 L1686.5,815.9 L1687.0,815.9 L1687.5,814.9 L1688.0,815.4 L1688.5,814.5 L1689.0,815.6 L1689.5,815.9 L1690.0,815.3 L1690.5,815.8 L1691.0,815.8 L1691.5,815.9 L1692.0,815.3 L1692.5,815.3 L1693.0,815.3 L1693.5,815.9 L1694.0,815.9 L1694.5,815.6 L1695.0,815.8 L1695.5,815.8 L1696.0,815.8 L1696.5,815.6 L1697.0,815.5 L1697.5,815.1 L1698.0,815.4 L1698.5,815.9 L1699.0,815.9 L1699.5,815.7 L1700.0,815.6 L1700.5,815.7 L1701.0,815.9 L1701.5,815.4 L1702.0,815.8 L1702.5,815.8 L1703.0,815.3 L1703.5,815.3 L1704.0,815.2 L1704.5,815.2 L1705.0,815.9 L1705.5,814.5 L1706.0,815.6 L1706.5,815.4 L1707.0,815.4 L1707.5,815.7 L1708.0,815.9 L1708.5,815.7 L1709.0,815.6 L1709.5,815.4 L1710.0,815.6 L1710.5,815.9 L1711.0,815.5 L1711.5,815.1 L1712.0,815.1 L1712.5,815.1 L1713.0,815.0 L1713.5,815.9 L1714.0,815.9 L1714.5,815.6 L1715.0,815.9 L1715.5,815.4 L1716.0,815.9 L1716.5,815.9 L1717.0,814.9 L1717.5,814.9 L1718.0,815.2 L1718.5,815.9 L1719.0,815.9 L1719.5,815.1 L1720.0,815.9 L1720.5,815.5 L1721.0,815.5 L1721.5,815.4 L1722.0,815.5 L1722.5,814.8 L1723.0,815.2 L1723.5,815.1 L1724.0,815.9 L1724.5,815.9 L1725.0,815.9 L1725.5,815.5 L1726.0,814.8 L1726.5,815.5 L1727.0,815.2 L1727.5,815.9 L1728.0,815.9 L1728.5,815.3 L1729.0,815.9 L1729.5,815.9 L1730.0,814.9 L1730.5,815.4 L1731.0,815.6 L1731.5,815.7 L1732.0,815.8 L1732.5,815.5 L1733.0,815.8 L1733.5,815.4 L1734.0,815.3 L1734.5,815.9 L1735.0,815.9 L1735.5,815.9 L1736.0,814.9 L1736.5,815.6 L1737.0,815.9 L1737.5,815.1 L1738.0,815.9 L1738.5,815.5 L1739.0,815.9 L1739.5,815.6 L1740.0,815.8 L1740.5,815.9 L1741.0,815.5 L1741.5,815.9 L1742.0,815.3 L1742.5,815.2 L1743.0,815.9 L1743.5,815.2 L1744.0,815.5 L1744.5,815.9 L1745.0,815.9 L1745.5,814.8 L1746.0,815.9 L1746.5,815.9 L1747.0,815.9 L1747.5,815.6 L1748.0,815.4 L1748.5,815.6 L1749.0,815.1 L1749.5,815.6 L1750.0,815.6 L1750.5,815.6 L1751.0,815.9 L1751.5,815.6 L1752.0,815.0 L1752.5,815.9 L1753.0,815.2 L1753.5,815.5 L1754.0,815.6 L1754.5,815.5 L1755.0,815.2 L1755.5,815.6 L1756.0,815.9 L1756.5,815.4 L1757.0,815.6 L1757.5,815.9 L1758.0,815.9 L1758.5,815.9 L1759.0,815.9 L1759.5,814.7 L1760.0,815.3 L1760.5,815.8 L1761.0,815.9 L1761.5,815.9 L1762.0,815.9 L1762.5,815.6 L1763.0,815.7 L1763.5,815.6 L1764.0,815.8 L1764.5,815.9 L1765.0,815.5" stroke="#7a1a8c" stroke-width="1.6" fill="none" stroke-linejoin="round"/>
<path d="M1700.0,815.4 L1700.5,815.4 L1701.0,815.9 L1701.5,815.9 L1702.0,815.9 L1702.5,815.9 L1703.0,815.9 L1703.5,815.7 L1704.0,815.9 L1704.5,815.3 L1705.0,815.6 L1705.5,815.4 L1706.0,815.9 L1706.5,815.5 L1707.0,815.7 L1707.5,815.9 L1708.0,815.9 L1708.5,815.4 L1709.0,815.3 L1709.5,815.9 L1710.0,815.3 L1710.5,815.9 L1711.0,815.5 L1711.5,815.7 L1712.0,815.0 L1712.5,815.9 L1713.0,815.5 L1713.5,815.3 L1714.0,815.9 L1714.5,815.9 L1715.0,815.9 L1715.5,815.9 L1716.0,815.6 L1716.5,815.7 L1717.0,815.9 L1717.5,815.7 L1718.0,815.9 L1718.5,815.9 L1719.0,815.3 L1719.5,815.8 L1720.0,815.5 L1720.5,815.2 L1721.0,815.9 L1721.5,815.9 L1722.0,815.7 L1722.5,815.3 L1723.0,814.9 L1723.5,815.9 L1724.0,815.7 L1724.5,815.0 L1725.0,815.7 L1725.5,815.1 L1726.0,815.7 L1726.5,815.8 L1727.0,815.8 L1727.5,815.8 L1728.0,815.8 L1728.5,815.2 L1729.0,815.5 L1729.5,815.5 L1730.0,815.6 L1730.5,815.8 L1731.0,815.9 L1731.5,815.9 L1732.0,814.7 L1732.5,815.9 L1733.0,815.6 L1733.5,815.9 L1734.0,815.9 L1734.5,815.0 L1735.0,815.9 L1735.5,815.5 L1736.0,815.9 L1736.5,815.3 L1737.0,815.7 L1737.5,815.6 L1738.0,815.7 L1738.5,815.5 L1739.0,815.0 L1739.5,815.9 L1740.0,815.9 L1740.5,815.7 L1741.0,815.3 L1741.5,815.8 L1742.0,815.9 L1742.5,815.6 L1743.0,815.7 L1743.5,815.9 L1744.0,815.3 L1744.5,815.5 L1745.0,814.9 L1745.5,815.4 L1746.0,815.4 L1746.5,815.3 L1747.0,815.4 L1747.5,815.9 L1748.0,815.6 L1748.5,815.7 L1749.0,815.9 L1749.5,815.7 L1750.0,815.0 L1750.5,815.9 L1751.0,815.3 L1751.5,815.9 L1752.0,815.2 L1752.5,815.5 L1753.0,815.1 L1753.5,815.7 L1754.0,815.3 L1754.5,815.7 L1755.0,815.5 L1755.5,815.5 L1756.0,815.9 L1756.5,815.9 L1757.0,815.7 L1757.5,815.3 L1758.0,815.3 L1758.5,815.8 L1759.0,815.9 L1759.5,815.5 L1760.0,815.4 L1760.5,815.4 L1761.0,815.3 L1761.5,815.3 L1762.0,815.6 L1762.5,815.9 L1763.0,815.7 L1763.5,815.5 L1764.0,815.1 L1764.5,815.8 L1765.0,815.7 L1765.5,815.2 L1766.0,815.3 L1766.5,815.7 L1767.0,815.9 L1767.5,815.9 L1768.0,815.8 L1768.5,815.6 L1769.0,815.8 L1769.5,815.7 L1770.0,815.9 L1770.5,815.2 L1771.0,815.6 L1771.5,815.9 L1772.0,815.6 L1772.5,815.9 L1773.0,815.7 L1773.5,815.8 L1774.0,815.6 L1774.5,815.1 L1775.0,815.3 L1775.5,815.9 L1776.0,815.9 L1776.5,815.9 L1777.0,815.9 L1777.5,815.9 L1778.0,815.9 L1778.5,815.6 L1779.0,815.6 L1779.5,815.9 L1780.0,815.6 L1780.5,815.2 L1781.0,815.6 L1781.5,815.5 L1782.0,815.9 L1782.5,815.4 L1783.0,815.3 L1783.5,815.6 L1784.0,815.9 L1784.5,815.7 L1785.0,815.8 L1785.5,815.7 L1786.0,815.8 L1786.5,815.9 L1787.0,815.9 L1787.5,815.0 L1788.0,815.9 L1788.5,815.6 L1789.0,815.3 L1789.5,815.9 L1790.0,814.6 L1790.5,814.7 L1791.0,813.0 L1791.5,810.2 L1792.0,808.0 L1792.5,804.4 L1793.0,799.5 L1793.5,793.3 L1794.0,788.4 L1794.5,783.1 L1795.0,778.3 L1795.5,776.5 L1796.0,774.6 L1796.5,774.8 L1797.0,775.7 L1797.5,776.9 L1798.0,778.8 L1798.5,781.4 L1799.0,784.1 L1799.5,786.5 L1800.0,789.6 L1800.5,792.0 L1801.0,795.7 L1801.5,798.0 L1802.0,801.0 L1802.5,803.0 L1803.0,805.3 L1803.5,807.5 L1804.0,808.5 L1804.5,811.4 L1805.0,811.6 L1805.5,812.5 L1806.0,813.0 L1806.5,814.5 L1807.0,814.9 L1807.5,814.9 L1808.0,814.5 L1808.5,815.0 L1809.0,815.6 L1809.5,815.3 L1810.0,815.1 L1810.5,815.1 L1811.0,815.3 L1811.5,815.7 L1812.0,815.4 L1812.5,815.7 L1813.0,815.9 L1813.5,815.9 L1814.0,815.3 L1814.5,815.8 L1815.0,815.7 L1815.5,815.6 L1816.0,815.9 L1816.5,815.6 L1817.0,815.6 L1817.5,815.6 L1818.0,815.7 L1818.5,815.9 L1819.0,815.9 L1819.5,815.2 L1820.0,815.5 L1820.5,815.4 L1821.0,815.9 L1821.5,815.8 L1822.0,815.9 L1822.5,815.7 L1823.0,814.9 L1823.5,815.9 L1824.0,815.8 L1824.5,815.9 L1825.0,815.2 L1825.5,815.7 L1826.0,815.4 L1826.5,815.4 L1827.0,815.8 L1827.5,815.8 L1828.0,815.3 L1828.5,815.0 L1829.0,814.7 L1829.5,815.5 L1830.0,815.9 L1830.5,815.7 L1831.0,814.8 L1831.5,815.4 L1832.0,815.9 L1832.5,815.9 L1833.0,815.9 L1833.5,815.8 L1834.0,815.8 L1834.5,815.3 L1835.0,815.5 L1835.5,815.6 L1836.0,815.4 L1836.5,815.7 L1837.0,815.5 L1837.5,815.8 L1838.0,815.9 L1838.5,815.9 L1839.0,815.9 L1839.5,815.6 L1840.0,815.1 L1840.5,815.7 L1841.0,815.9 L1841.5,815.3 L1842.0,815.9 L1842.5,815.6 L1843.0,815.8 L1843.5,815.6 L1844.0,815.2 L1844.5,815.9 L1845.0,815.2 L1845.5,815.9 L1846.0,815.5 L1846.5,815.8 L1847.0,815.4 L1847.5,815.5 L1848.0,815.9 L1848.5,815.9 L1849.0,815.4 L1849.5,815.7 L1850.0,815.9 L1850.5,815.4 L1851.0,815.9 L1851.5,815.4 L1852.0,815.9 L1852.5,815.9 L1853.0,815.9 L1853.5,815.8 L1854.0,815.2 L1854.5,815.9 L1855.0,815.3 L1855.5,815.9 L1856.0,815.9 L1856.5,815.9 L1857.0,815.5 L1857.5,815.9 L1858.0,815.8 L1858.5,815.2 L1859.0,815.6 L1859.5,815.9 L1860.0,815.6 L1860.5,815.7 L1861.0,815.6 L1861.5,815.0 L1862.0,815.5 L1862.5,815.8 L1863.0,815.8 L1863.5,815.6 L1864.0,814.8 L1864.5,815.9 L1865.0,815.9 L1865.5,815.9 L1866.0,815.9 L1866.5,815.5 L1867.0,815.5 L1867.5,815.8 L1868.0,815.9 L1868.5,815.0 L1869.0,815.6 L1869.5,815.4 L1870.0,815.9 L1870.5,815.9 L1871.0,815.6 L1871.5,815.2 L1872.0,815.7 L1872.5,815.6 L1873.0,815.1 L1873.5,815.9 L1874.0,815.5 L1874.5,815.9 L1875.0,815.2 L1875.5,815.9 L1876.0,815.1 L1876.5,815.9 L1877.0,815.0" stroke="#2030e0" stroke-width="1.6" fill="none" stroke-linejoin="round"/>
<path d="M1660.0,815.9 L1660.5,815.6 L1661.0,815.1 L1661.5,815.6 L1662.0,815.8 L1662.5,815.3 L1663.0,815.5 L1663.5,815.8 L1664.0,815.6 L1664.5,814.5 L1665.0,815.5 L1665.5,815.9 L1666.0,815.8 L1666.5,815.9 L1667.0,815.4 L1667.5,815.9 L1668.0,815.9 L1668.5,815.8 L1669.0,815.9 L1669.5,815.9 L1670.0,815.7 L1670.5,815.5 L1671.0,815.9 L1671.5,815.9 L1672.0,814.9 L1672.5,815.3 L1673.0,815.9 L1673.5,815.7 L1674.0,815.8 L1674.5,815.9 L1675.0,815.8 L1675.5,815.9 L1676.0,815.5 L1676.5,815.5 L1677.0,815.8 L1677.5,815.9 L1678.0,815.9 L1678.5,815.9 L1679.0,815.5 L1679.5,815.9 L1680.0,815.9 L1680.5,815.3 L1681.0,815.6 L1681.5,815.9 L1682.0,815.9 L1682.5,815.5 L1683.0,814.7 L1683.5,815.4 L1684.0,815.4 L1684.5,815.7 L1685.0,815.9 L1685.5,815.9 L1686.0,815.8 L1686.5,815.3 L1687.0,815.2 L1687.5,815.6 L1688.0,815.5 L1688.5,815.9 L1689.0,815.5 L1689.5,815.5 L1690.0,815.9 L1690.5,815.7 L1691.0,815.2 L1691.5,815.9 L1692.0,815.6 L1692.5,815.2 L1693.0,815.8 L1693.5,815.9 L1694.0,815.6 L1694.5,815.9 L1695.0,815.9 L1695.5,815.3 L1696.0,814.9 L1696.5,814.7 L1697.0,815.6 L1697.5,815.9 L1698.0,815.8 L1698.5,815.8 L1699.0,815.6 L1699.5,814.5 L1700.0,814.5 L1700.5,813.2 L1701.0,814.0 L1701.5,814.0 L1702.0,814.0 L1702.5,814.2 L1703.0,814.3 L1703.5,814.9 L1704.0,815.1 L1704.5,813.8 L1705.0,812.9 L1705.5,810.1 L1706.0,806.9 L1706.5,801.1 L1707.0,794.3 L1707.5,784.4 L1708.0,773.1 L1708.5,759.9 L1709.0,746.5 L1709.5,734.9 L1710.0,726.3 L1710.5,721.2 L1711.0,719.6 L1711.5,721.0 L1712.0,722.7 L1712.5,725.2 L1713.0,727.9 L1713.5,732.9 L1714.0,737.1 L1714.5,743.2 L1715.0,748.6 L1715.5,754.2 L1716.0,758.8 L1716.5,765.8 L1717.0,771.5 L1717.5,776.1 L1718.0,782.0 L1718.5,786.4 L1719.0,790.6 L1719.5,794.3 L1720.0,797.6 L1720.5,800.9 L1721.0,805.0 L1721.5,806.1 L1722.0,808.0 L1722.5,809.2 L1723.0,810.6 L1723.5,811.7 L1724.0,812.4 L1724.5,813.8 L1725.0,813.9 L1725.5,814.8 L1726.0,814.3 L1726.5,815.4 L1727.0,815.2 L1727.5,815.6 L1728.0,815.4 L1728.5,815.2 L1729.0,815.9 L1729.5,815.4 L1730.0,815.6 L1730.5,815.3 L1731.0,815.8 L1731.5,815.5 L1732.0,815.8 L1732.5,815.8 L1733.0,815.4 L1733.5,815.1 L1734.0,815.9 L1734.5,815.9 L1735.0,815.9 L1735.5,815.2 L1736.0,815.9 L1736.5,815.9 L1737.0,815.8 L1737.5,815.9 L1738.0,815.6 L1738.5,815.8 L1739.0,815.9 L1739.5,815.5 L1740.0,815.1 L1740.5,815.7 L1741.0,815.8 L1741.5,815.0 L1742.0,815.4 L1742.5,815.9 L1743.0,815.6 L1743.5,815.7 L1744.0,815.2 L1744.5,815.9 L1745.0,815.9 L1745.5,815.6 L1746.0,815.4 L1746.5,815.2 L1747.0,815.9 L1747.5,815.7 L1748.0,815.4 L1748.5,815.9 L1749.0,815.9 L1749.5,815.9 L1750.0,815.0 L1750.5,815.7 L1751.0,815.9 L1751.5,815.2 L1752.0,815.9 L1752.5,815.9 L1753.0,815.9 L1753.5,815.4 L1754.0,815.4 L1754.5,815.9 L1755.0,815.9 L1755.5,815.9 L1756.0,815.9 L1756.5,815.7 L1757.0,815.5 L1757.5,815.0 L1758.0,815.9 L1758.5,815.9 L1759.0,815.5 L1759.5,815.5 L1760.0,815.9" stroke="#1a1a1a" stroke-width="1.6" fill="none" stroke-linejoin="round"/>
<path d="M1740.0,815.8 L1740.5,815.3 L1741.0,815.5 L1741.5,815.4 L1742.0,815.9 L1742.5,815.5 L1743.0,815.9 L1743.5,815.9 L1744.0,815.9 L1744.5,815.8 L1745.0,815.4 L1745.5,813.7 L1746.0,812.4 L1746.5,809.8 L1747.0,806.1 L1747.5,801.5 L1748.0,793.3 L1748.5,786.0 L1749.0,777.2 L1749.5,770.8 L1750.0,765.7 L1750.5,763.3 L1751.0,764.9 L1751.5,766.8 L1752.0,771.0 L1752.5,775.5 L1753.0,780.4 L1753.5,785.5 L1754.0,790.1 L1754.5,794.1 L1755.0,796.8 L1755.5,799.5 L1756.0,800.1 L1756.5,800.9 L1757.0,801.4 L1757.5,802.1 L1758.0,802.8 L1758.5,804.1 L1759.0,806.2 L1759.5,807.6 L1760.0,809.3 L1760.5,811.0 L1761.0,812.6 L1761.5,813.6 L1762.0,814.4 L1762.5,814.6 L1763.0,815.1 L1763.5,815.2 L1764.0,815.5 L1764.5,815.4 L1765.0,815.6 L1765.5,815.6 L1766.0,815.6 L1766.5,815.6 L1767.0,815.6 L1767.5,815.9 L1768.0,815.6 L1768.5,815.4 L1769.0,815.8 L1769.5,815.4 L1770.0,815.4" stroke="#f020f0" stroke-width="1.6" fill="none" stroke-linejoin="round"/>
<path d="M1830.0,815.7 L1830.5,815.0 L1831.0,814.4 L1831.5,815.8 L1832.0,815.9 L1832.5,815.0 L1833.0,815.3 L1833.5,815.9 L1834.0,814.9 L1834.5,815.4 L1835.0,815.2 L1835.5,815.6 L1836.0,814.9 L1836.5,815.9 L1837.0,815.6 L1837.5,815.8 L1838.0,815.6 L1838.5,814.8 L1839.0,815.6 L1839.5,815.2 L1840.0,815.7 L1840.5,815.3 L1841.0,815.5 L1841.5,815.4 L1842.0,815.6 L1842.5,815.3 L1843.0,814.1 L1843.5,813.7 L1844.0,813.2 L1844.5,811.4 L1845.0,809.2 L1845.5,807.3 L1846.0,804.9 L1846.5,803.2 L1847.0,800.8 L1847.5,799.4 L1848.0,799.2 L1848.5,797.7 L1849.0,798.4 L1849.5,799.3 L1850.0,800.9 L1850.5,803.8 L1851.0,805.6 L1851.5,808.1 L1852.0,808.6 L1852.5,810.6 L1853.0,812.9 L1853.5,813.7 L1854.0,814.5 L1854.5,815.0 L1855.0,815.1 L1855.5,815.3 L1856.0,815.5 L1856.5,815.9 L1857.0,815.6 L1857.5,815.8 L1858.0,815.9 L1858.5,815.2 L1859.0,815.4 L1859.5,815.9 L1860.0,815.6 L1860.5,815.6 L1861.0,815.9 L1861.5,815.9 L1862.0,815.5 L1862.5,815.9 L1863.0,815.9 L1863.5,815.3 L1864.0,815.4 L1864.5,815.7 L1865.0,815.4 L1865.5,815.9 L1866.0,815.9 L1866.5,815.5 L1867.0,815.9 L1867.5,815.4 L1868.0,815.5 L1868.5,815.7 L1869.0,815.9 L1869.5,814.8 L1870.0,815.9 L1870.5,815.9 L1871.0,815.9 L1871.5,815.9 L1872.0,815.9 L1872.5,815.8 L1873.0,815.6 L1873.5,815.4 L1874.0,815.9 L1874.5,815.2 L1875.0,815.7 L1875.5,815.5 L1876.0,815.4 L1876.5,814.8 L1877.0,815.5 L1877.5,815.8 L1878.0,815.8 L1878.5,815.9 L1879.0,815.6 L1879.5,815.4 L1880.0,815.8 L1880.5,815.9 L1881.0,815.3 L1881.5,815.1 L1882.0,815.3 L1882.5,815.9 L1883.0,815.9 L1883.5,815.3 L1884.0,815.7 L1884.5,815.9 L1885.0,815.9 L1885.5,815.4 L1886.0,815.6 L1886.5,815.9 L1887.0,815.9 L1887.5,815.9 L1888.0,815.2 L1888.5,815.9 L1889.0,815.6 L1889.5,815.7 L1890.0,815.4 L1890.5,815.5 L1891.0,815.7 L1891.5,815.9 L1892.0,815.9 L1892.5,815.9 L1893.0,815.7 L1893.5,815.4 L1894.0,815.6 L1894.5,815.9 L1895.0,815.9 L1895.5,815.9 L1896.0,815.8 L1896.5,815.7 L1897.0,815.1 L1897.5,815.9 L1898.0,815.0 L1898.5,815.9 L1899.0,815.4 L1899.5,815.7 L1900.0,815.2 L1900.5,815.5 L1901.0,815.3 L1901.5,815.9 L1902.0,815.8 L1902.5,815.2 L1903.0,814.9 L1903.5,815.7 L1904.0,815.5 L1904.5,815.3 L1905.0,815.9 L1905.5,815.6 L1906.0,815.7 L1906.5,815.5 L1907.0,815.5 L1907.5,815.5 L1908.0,815.1 L1908.5,815.9 L1909.0,815.9 L1909.5,815.0 L1910.0,815.7 L1910.5,815.9 L1911.0,815.8 L1911.5,815.9 L1912.0,815.6 L1912.5,815.7 L1913.0,815.2 L1913.5,815.3 L1914.0,815.0 L1914.5,815.3 L1915.0,815.8 L1915.5,815.9 L1916.0,815.9 L1916.5,815.8 L1917.0,815.3 L1917.5,815.9 L1918.0,815.6 L1918.5,815.9 L1919.0,815.9 L1919.5,815.9 L1920.0,815.2 L1920.5,815.5 L1921.0,815.8 L1921.5,815.4 L1922.0,815.9 L1922.5,815.9 L1923.0,815.9 L1923.5,815.8 L1924.0,815.3 L1924.5,815.4 L1925.0,815.7 L1925.5,815.9 L1926.0,815.9 L1926.5,815.9 L1927.0,815.8 L1927.5,815.9 L1928.0,815.9 L1928.5,815.9 L1929.0,815.9 L1929.5,815.1 L1930.0,815.9 L1930.5,815.9 L1931.0,815.5 L1931.5,815.9 L1932.0,815.8 L1932.5,815.7 L1933.0,815.0 L1933.5,815.7 L1934.0,815.9 L1934.5,815.7 L1935.0,815.1 L1935.5,815.9 L1936.0,815.9 L1936.5,815.8 L1937.0,815.9 L1937.5,815.6 L1938.0,815.4 L1938.5,815.9 L1939.0,815.6 L1939.5,815.8 L1940.0,815.9 L1940.5,815.9 L1941.0,815.8 L1941.5,815.1 L1942.0,815.7 L1942.5,815.9 L1943.0,815.4 L1943.5,815.6 L1944.0,814.8 L1944.5,815.9 L1945.0,815.5" stroke="#20e020" stroke-width="1.6" fill="none" stroke-linejoin="round"/>
<path d="M1877.0,815.9 L1877.5,815.9 L1878.0,815.6 L1878.5,815.9 L1879.0,815.8 L1879.5,815.6 L1880.0,815.6 L1880.5,815.4 L1881.0,815.9 L1881.5,815.9 L1882.0,815.3 L1882.5,815.9 L1883.0,815.4 L1883.5,815.1 L1884.0,815.9 L1884.5,815.2 L1885.0,815.9 L1885.5,815.8 L1886.0,815.9 L1886.5,815.9 L1887.0,815.9 L1887.5,815.8 L1888.0,815.9 L1888.5,815.8 L1889.0,815.9 L1889.5,815.5 L1890.0,815.9 L1890.5,815.9 L1891.0,815.7 L1891.5,815.9 L1892.0,815.5 L1892.5,815.6 L1893.0,815.8 L1893.5,815.6 L1894.0,815.3 L1894.5,815.7 L1895.0,815.8 L1895.5,815.8 L1896.0,815.9 L1896.5,815.0 L1897.0,815.9 L1897.5,815.6 L1898.0,815.4 L1898.5,815.5 L1899.0,815.9 L1899.5,815.9 L1900.0,815.5 L1900.5,815.7 L1901.0,815.0 L1901.5,815.6 L1902.0,815.4 L1902.5,815.2 L1903.0,815.6 L1903.5,815.8 L1904.0,815.2 L1904.5,814.3 L1905.0,814.9 L1905.5,813.8 L1906.0,813.6 L1906.5,813.0 L1907.0,813.1 L1907.5,812.8 L1908.0,812.4 L1908.5,812.2 L1909.0,812.1 L1909.5,812.1 L1910.0,812.8 L1910.5,812.4 L1911.0,812.8 L1911.5,813.1 L1912.0,813.3 L1912.5,813.8 L1913.0,813.7 L1913.5,814.7 L1914.0,815.0 L1914.5,814.9 L1915.0,815.8 L1915.5,815.0 L1916.0,815.7 L1916.5,815.7 L1917.0,815.4 L1917.5,815.5 L1918.0,815.9 L1918.5,815.7 L1919.0,815.8 L1919.5,815.9 L1920.0,815.8 L1920.5,815.0 L1921.0,815.4 L1921.5,815.9 L1922.0,815.6 L1922.5,815.3 L1923.0,814.9 L1923.5,815.8 L1924.0,815.9 L1924.5,815.2 L1925.0,814.8 L1925.5,815.9 L1926.0,815.5 L1926.5,815.6 L1927.0,815.6 L1927.5,815.3 L1928.0,815.9 L1928.5,815.9 L1929.0,815.8 L1929.5,815.5 L1930.0,815.9 L1930.5,815.7 L1931.0,815.9 L1931.5,815.3 L1932.0,815.9 L1932.5,815.9 L1933.0,815.9 L1933.5,815.7 L1934.0,815.9 L1934.5,815.5 L1935.0,815.9 L1935.5,815.9 L1936.0,815.9 L1936.5,815.5 L1937.0,815.2 L1937.5,815.7 L1938.0,815.6 L1938.5,815.4 L1939.0,815.9 L1939.5,815.9 L1940.0,815.9 L1940.5,815.9 L1941.0,815.9 L1941.5,815.3 L1942.0,815.5 L1942.5,815.6 L1943.0,815.9 L1943.5,815.9 L1944.0,815.8 L1944.5,815.9 L1945.0,815.4 L1945.5,815.7 L1946.0,815.9 L1946.5,815.9 L1947.0,815.9 L1947.5,815.0 L1948.0,815.0 L1948.5,815.4 L1949.0,815.9 L1949.5,815.9 L1950.0,815.5 L1950.5,815.3 L1951.0,815.3 L1951.5,815.3 L1952.0,815.9 L1952.5,815.6 L1953.0,815.9 L1953.5,815.9 L1954.0,815.4 L1954.5,815.8 L1955.0,815.6 L1955.5,815.9 L1956.0,815.9 L1956.5,815.6 L1957.0,815.9 L1957.5,815.9 L1958.0,815.7 L1958.5,815.8 L1959.0,815.9 L1959.5,815.6 L1960.0,815.4 L1960.5,815.9 L1961.0,815.7 L1961.5,815.5 L1962.0,815.9 L1962.5,815.1 L1963.0,815.7 L1963.5,815.2 L1964.0,815.5 L1964.5,815.0 L1965.0,815.4 L1965.5,815.9 L1966.0,815.6 L1966.5,815.2 L1967.0,815.9 L1967.5,815.5 L1968.0,815.9 L1968.5,815.5 L1969.0,815.1 L1969.5,815.9 L1970.0,815.5 L1970.5,815.9 L1971.0,815.9 L1971.5,815.2 L1972.0,815.7 L1972.5,815.5 L1973.0,815.9 L1973.5,815.7 L1974.0,815.2 L1974.5,815.7 L1975.0,815.9 L1975.5,815.6 L1976.0,815.9 L1976.5,815.5 L1977.0,815.7 L1977.5,815.8 L1978.0,815.8 L1978.5,815.9 L1979.0,815.9" stroke="#d01010" stroke-width="1.6" fill="none" stroke-linejoin="round"/>
<path d="M1935.0,815.9 L1935.5,815.8 L1936.0,815.6 L1936.5,815.2 L1937.0,815.7 L1937.5,815.8 L1938.0,815.3 L1938.5,815.0 L1939.0,814.9 L1939.5,815.0 L1940.0,814.6 L1940.5,814.0 L1941.0,814.1 L1941.5,813.7 L1942.0,813.8 L1942.5,813.5 L1943.0,813.4 L1943.5,814.2 L1944.0,814.1 L1944.5,813.5 L1945.0,813.8 L1945.5,814.2 L1946.0,814.4 L1946.5,814.3 L1947.0,815.1 L1947.5,814.6 L1948.0,815.4 L1948.5,815.5 L1949.0,815.3 L1949.5,815.3 L1950.0,815.6" stroke="#909090" stroke-width="1.6" fill="none" stroke-linejoin="round"/>
<path d="M1574.0,815.9 L1574.5,813.7 L1575.0,814.5 L1575.5,815.9 L1576.0,815.6 L1576.5,815.3 L1577.0,814.7 L1577.5,815.0 L1578.0,815.0 L1578.5,815.9 L1579.0,814.5 L1579.5,815.9 L1580.0,815.9 L1580.5,815.9 L1581.0,815.8 L1581.5,815.2 L1582.0,815.9 L1582.5,815.4 L1583.0,814.0 L1583.5,812.4 L1584.0,810.1 L1584.5,804.4 L1585.0,798.2 L1585.5,787.6 L1586.0,774.0 L1586.5,754.0 L1587.0,726.1 L1587.5,697.1 L1588.0,663.7 L1588.5,625.2 L1589.0,590.4 L1589.5,562.5 L1590.0,539.5 L1590.5,528.1 L1591.0,527.3 L1591.5,535.2 L1592.0,546.6 L1592.5,564.2 L1593.0,584.9 L1593.5,608.0 L1594.0,631.0 L1594.5,654.6 L1595.0,677.9 L1595.5,698.5 L1596.0,717.1 L1596.5,732.1 L1597.0,745.5 L1597.5,756.0 L1598.0,765.0 L1598.5,773.1 L1599.0,780.6 L1599.5,784.8 L1600.0,791.5 L1600.5,796.4 L1601.0,800.8 L1601.5,805.3 L1602.0,807.3 L1602.5,811.0 L1603.0,812.6 L1603.5,810.2 L1604.0,814.8 L1604.5,815.6 L1605.0,815.9 L1605.5,814.5 L1606.0,815.7 L1606.5,815.9 L1607.0,814.7 L1607.5,815.9 L1608.0,815.9 L1608.5,814.9 L1609.0,814.5 L1609.5,815.3 L1610.0,815.9 L1610.5,815.9 L1611.0,813.3 L1611.5,813.9 L1612.0,815.9 L1612.5,815.6 L1613.0,815.1 L1613.5,815.9 L1614.0,815.8 L1614.5,815.9 L1615.0,815.9 L1615.5,814.6 L1616.0,815.9 L1616.5,815.3 L1617.0,815.9 L1617.5,815.9 L1618.0,815.7 L1618.5,815.8 L1619.0,815.7 L1619.5,813.9 L1620.0,815.4 L1620.5,815.9 L1621.0,814.1 L1621.5,814.2 L1622.0,815.9 L1622.5,815.9 L1623.0,814.2 L1623.5,815.9 L1624.0,815.7 L1624.5,815.9 L1625.0,815.4 L1625.5,815.5 L1626.0,815.0 L1626.5,815.9 L1627.0,815.6 L1627.5,815.1 L1628.0,815.4" stroke="#ff8010" stroke-width="1.6" fill="none" stroke-linejoin="round"/>
</g>
<rect x="1573.4" y="527.7" width="405.89999999999986" height="288.79999999999995" fill="none" stroke="#111" stroke-width="1.4"/>
<line x1="1573.4" y1="816.5" x2="1573.4" y2="810.7" stroke="#111" stroke-width="1.3" />
<line x1="1573.4" y1="527.7" x2="1573.4" y2="533.5" stroke="#111" stroke-width="1.3" />
<line x1="1631.4" y1="816.5" x2="1631.4" y2="813.1" stroke="#111" stroke-width="1.3" />
<line x1="1631.4" y1="527.7" x2="1631.4" y2="531.1" stroke="#111" stroke-width="1.3" />
<line x1="1689.4" y1="816.5" x2="1689.4" y2="810.7" stroke="#111" stroke-width="1.3" />
<line x1="1689.4" y1="527.7" x2="1689.4" y2="533.5" stroke="#111" stroke-width="1.3" />
<line x1="1747.4" y1="816.5" x2="1747.4" y2="813.1" stroke="#111" stroke-width="1.3" />
<line x1="1747.4" y1="527.7" x2="1747.4" y2="531.1" stroke="#111" stroke-width="1.3" />
<line x1="1805.4" y1="816.5" x2="1805.4" y2="810.7" stroke="#111" stroke-width="1.3" />
<line x1="1805.4" y1="527.7" x2="1805.4" y2="533.5" stroke="#111" stroke-width="1.3" />
<line x1="1863.4" y1="816.5" x2="1863.4" y2="813.1" stroke="#111" stroke-width="1.3" />
<line x1="1863.4" y1="527.7" x2="1863.4" y2="531.1" stroke="#111" stroke-width="1.3" />
<line x1="1921.4" y1="816.5" x2="1921.4" y2="810.7" stroke="#111" stroke-width="1.3" />
<line x1="1921.4" y1="527.7" x2="1921.4" y2="533.5" stroke="#111" stroke-width="1.3" />
<line x1="1979.4" y1="816.5" x2="1979.4" y2="813.1" stroke="#111" stroke-width="1.3" />
<line x1="1979.4" y1="527.7" x2="1979.4" y2="531.1" stroke="#111" stroke-width="1.3" />
<line x1="1573.4" y1="575.3" x2="1578.7" y2="575.3" stroke="#111" stroke-width="1.3" />
<line x1="1573.4" y1="623.8" x2="1578.7" y2="623.8" stroke="#111" stroke-width="1.3" />
<line x1="1573.4" y1="672.0" x2="1578.7" y2="672.0" stroke="#111" stroke-width="1.3" />
<line x1="1573.4" y1="720.3" x2="1578.7" y2="720.3" stroke="#111" stroke-width="1.3" />
<line x1="1573.4" y1="768.5" x2="1578.7" y2="768.5" stroke="#111" stroke-width="1.3" />
<text x="1573.4" y="835.8" font-size="16.2" text-anchor="middle" textLength="22.5" lengthAdjust="spacingAndGlyphs">0.4</text>
<text x="1689.4" y="835.8" font-size="16.2" text-anchor="middle" textLength="22.5" lengthAdjust="spacingAndGlyphs">0.5</text>
<text x="1805.4" y="835.8" font-size="16.2" text-anchor="middle" textLength="22.5" lengthAdjust="spacingAndGlyphs">0.6</text>
<text x="1921.4" y="835.8" font-size="16.2" text-anchor="middle" textLength="22.5" lengthAdjust="spacingAndGlyphs">0.7</text>
<text x="1573.4" y="519.9" font-size="16.2" text-anchor="middle" textLength="22.5" lengthAdjust="spacingAndGlyphs">1.2</text>
<text x="1689.4" y="519.9" font-size="16.2" text-anchor="middle" textLength="22.5" lengthAdjust="spacingAndGlyphs">1.5</text>
<text x="1805.4" y="519.9" font-size="16.2" text-anchor="middle" textLength="22.5" lengthAdjust="spacingAndGlyphs">1.8</text>
<text x="1921.4" y="519.9" font-size="16.2" text-anchor="middle" textLength="22.5" lengthAdjust="spacingAndGlyphs">2.1</text>
<text x="1559.5" y="672.0" font-size="17.7" text-anchor="middle" textLength="153.7" lengthAdjust="spacingAndGlyphs" transform="rotate(-90 1559.5 672.0)">THG intensity (a.u.)</text>
<text x="1737.3" y="486.2" font-size="18">3</text>
<text x="1747.3" y="486.2" font-size="19" font-style="italic" font-family="'Liberation Serif', serif" textLength="21.5" lengthAdjust="spacingAndGlyphs">ħω</text>
<text x="1769.8" y="492.0" font-size="12.5">0</text>
<text x="1782.3" y="486.2" font-size="18" textLength="31.5" lengthAdjust="spacingAndGlyphs">(eV)</text>
<text x="1742.3" y="860.8" font-size="19" font-style="italic" font-family="'Liberation Serif', serif" textLength="21.5" lengthAdjust="spacingAndGlyphs">ħω</text>
<text x="1764.8" y="866.6" font-size="12.5">0</text>
<text x="1777.3" y="860.8" font-size="18" textLength="31.5" lengthAdjust="spacingAndGlyphs">(eV)</text>
<g fill="none" stroke-linejoin="round">
<path d="M801.6,1010.8 L802.0,1010.8 L802.4,1010.8 L802.9,1010.8 L803.3,1030.8 L803.7,1030.8 L804.1,1030.8 L804.5,1066.4 L805.0,1064.5 L805.4,1056.3 L805.8,1044.1 L806.2,1055.4 L806.6,1061.6 L807.1,1061.4 L807.5,1057.0 L807.9,1067.8 L808.3,1060.2 L808.7,1056.6 L809.2,1040.0 L809.6,1059.0 L810.0,1048.9 L810.4,1072.1 L810.8,1052.1 L811.3,1058.8 L811.7,1068.1 L812.1,1063.2 L812.5,1051.9 L812.9,1065.7 L813.4,1051.3 L813.8,1044.2 L814.2,1042.6 L814.6,1042.8 L815.0,1077.4 L815.5,1062.1 L815.9,1072.9 L816.3,1055.0 L816.7,1063.9 L817.1,1063.2 L817.6,1060.7 L818.0,1073.1 L818.4,1066.6 L818.8,1075.8 L819.2,1044.0 L819.7,1071.0 L820.1,1068.4 L820.5,1089.4 L820.9,1088.4 L821.3,1081.1 L821.8,1061.4 L822.2,1060.1 L822.6,1066.0 L823.0,1077.7 L823.4,1049.9 L823.9,1081.1 L824.3,1082.5 L824.7,1067.3 L825.1,1083.4 L825.5,1070.5 L826.0,1061.3 L826.4,1072.8 L826.8,1068.7 L827.2,1072.9 L827.6,1081.9 L828.1,1112.1 L828.5,1092.7 L828.9,1077.0 L829.3,1094.7 L829.7,1084.3 L830.2,1074.8 L830.6,1061.1 L831.0,1091.4 L831.4,1085.1 L831.8,1076.2 L832.3,1072.2 L832.7,1094.2 L833.1,1059.4 L833.5,1087.1 L833.9,1068.4 L834.4,1081.7 L834.8,1076.4 L835.2,1061.8 L835.6,1071.8 L836.0,1079.8 L836.5,1093.9 L836.9,1091.7 L837.3,1100.7 L837.7,1062.7 L838.1,1100.0 L838.6,1115.7 L839.0,1069.6 L839.4,1069.6 L839.8,1088.6 L840.2,1077.3 L840.7,1095.3 L841.1,1094.7 L841.5,1082.8 L841.9,1083.3 L842.3,1093.3 L842.8,1071.2 L843.2,1079.4 L843.6,1087.3 L844.0,1103.4 L844.4,1090.5 L844.9,1094.7 L845.3,1092.8 L845.7,1083.2 L846.1,1098.0 L846.5,1090.5 L847.0,1084.2 L847.4,1088.9 L847.8,1068.1 L848.2,1111.4 L848.6,1097.4 L849.1,1108.9 L849.5,1098.0 L849.9,1068.6 L850.3,1112.1 L850.7,1102.0 L851.2,1090.8 L851.6,1096.3 L852.0,1088.2 L852.4,1115.0 L852.8,1090.2 L853.3,1109.3 L853.7,1114.5 L854.1,1095.8 L854.5,1095.3 L854.9,1108.9 L855.4,1111.6 L855.8,1105.5 L856.2,1103.2 L856.6,1105.1 L857.0,1114.8 L857.5,1130.4 L857.9,1092.8 L858.3,1101.8 L858.7,1118.5 L859.1,1124.0 L859.6,1115.4 L860.0,1111.9 L860.4,1130.4 L860.8,1094.5 L861.2,1101.7 L861.7,1110.9 L862.1,1104.9 L862.5,1105.9 L862.9,1097.5 L863.3,1106.7 L863.8,1096.1 L864.2,1092.4 L864.6,1112.2 L865.0,1116.0 L865.4,1121.3 L865.9,1115.3 L866.3,1120.3 L866.7,1113.3 L867.1,1109.8 L867.5,1107.3 L868.0,1125.4 L868.4,1103.8 L868.8,1116.7 L869.2,1116.3 L869.6,1120.8 L870.1,1137.3 L870.5,1115.5 L870.9,1135.0 L871.3,1107.0 L871.7,1115.7 L872.2,1101.0 L872.6,1109.5 L873.0,1110.1 L873.4,1103.2 L873.8,1117.9 L874.3,1103.3 L874.7,1119.5 L875.1,1117.5 L875.5,1127.3 L875.9,1116.0 L876.4,1113.9 L876.8,1126.2 L877.2,1135.8 L877.6,1124.2 L878.0,1118.7 L878.5,1124.4 L878.9,1133.8 L879.3,1132.4 L879.7,1127.9 L880.1,1152.0 L880.6,1133.9 L881.0,1111.7 L881.4,1137.6 L881.8,1129.7 L882.2,1109.8 L882.7,1118.1 L883.1,1117.2 L883.5,1128.2 L883.9,1141.7 L884.3,1100.7 L884.8,1123.1 L885.2,1126.3 L885.6,1112.8 L886.0,1120.2 L886.4,1128.9 L886.9,1141.7 L887.3,1133.8 L887.7,1133.3 L888.1,1138.9 L888.5,1141.5 L889.0,1143.4 L889.4,1135.0 L889.8,1139.1 L890.2,1129.8 L890.6,1123.1 L891.1,1129.6 L891.5,1133.4 L891.9,1118.8 L892.3,1126.6 L892.7,1148.7 L893.2,1143.6 L893.6,1134.3 L894.0,1144.3 L894.4,1129.3 L894.8,1152.8 L895.3,1157.0 L895.7,1129.2 L896.1,1130.6 L896.5,1152.4 L896.9,1138.3 L897.4,1124.7 L897.8,1147.7 L898.2,1151.0 L898.6,1151.8 L899.0,1149.9 L899.5,1157.2 L899.9,1146.0 L900.3,1154.5 L900.7,1140.9 L901.1,1118.6 L901.6,1148.6 L902.0,1132.8 L902.4,1128.9 L902.8,1162.5 L903.2,1142.7 L903.7,1142.1 L904.1,1145.4 L904.5,1135.0 L904.9,1146.2 L905.3,1139.9 L905.8,1146.7 L906.2,1145.2 L906.6,1151.5 L907.0,1123.0 L907.4,1142.7 L907.9,1155.1 L908.3,1127.2 L908.7,1128.3 L909.1,1145.6 L909.5,1151.9 L910.0,1153.6 L910.4,1135.2 L910.8,1148.5 L911.2,1153.7 L911.6,1139.7 L912.1,1149.1 L912.5,1148.2 L912.9,1129.5 L913.3,1138.1 L913.7,1135.6 L914.2,1143.4 L914.6,1136.2 L915.0,1149.5 L915.4,1140.4 L915.8,1138.9 L916.3,1152.7 L916.7,1162.5 L917.1,1146.7 L917.5,1151.5 L917.9,1145.4 L918.4,1156.3 L918.8,1147.0 L919.2,1142.3 L919.6,1129.0 L920.0,1133.3 L920.5,1147.0 L920.9,1138.8 L921.3,1157.4 L921.7,1142.8 L922.1,1151.2 L922.6,1141.2 L923.0,1149.7 L923.4,1155.9 L923.8,1161.2 L924.2,1143.9 L924.7,1153.4 L925.1,1148.5 L925.5,1150.4 L925.9,1174.0 L926.3,1152.3 L926.8,1159.3 L927.2,1153.2 L927.6,1152.0 L928.0,1173.0 L928.4,1161.7 L928.9,1158.5 L929.3,1154.3 L929.7,1149.1 L930.1,1163.6 L930.5,1161.2 L931.0,1153.4 L931.4,1175.1 L931.8,1144.1 L932.2,1166.5 L932.6,1148.6 L933.1,1157.6 L933.5,1143.1 L933.9,1149.5 L934.3,1160.0 L934.7,1176.2 L935.2,1161.6 L935.6,1158.7 L936.0,1156.7 L936.4,1172.8 L936.8,1170.7 L937.3,1170.3 L937.7,1161.1 L938.1,1170.6 L938.5,1165.1 L938.9,1155.5 L939.4,1166.7 L939.8,1152.5 L940.2,1160.6 L940.6,1166.4 L941.0,1155.4 L941.5,1159.8 L941.9,1167.3 L942.3,1170.9 L942.7,1166.8 L943.2,1163.2 L943.6,1156.1 L944.0,1163.2 L944.4,1171.9 L944.8,1179.2 L945.3,1166.3 L945.7,1164.1 L946.1,1157.7 L946.5,1171.8 L946.9,1180.3 L947.4,1163.2 L947.8,1170.7 L948.2,1180.9 L948.6,1157.7 L949.0,1162.5 L949.5,1170.5 L949.9,1169.9 L950.3,1179.0 L950.7,1165.7 L951.1,1176.9 L951.6,1178.6 L952.0,1177.9 L952.4,1185.4 L952.8,1168.5 L953.2,1162.0 L953.7,1169.4 L954.1,1193.9 L954.5,1182.3 L954.9,1184.4 L955.3,1176.7 L955.8,1197.0 L956.2,1199.6 L956.6,1186.4 L957.0,1173.9 L957.4,1182.6 L957.9,1164.7 L958.3,1187.9 L958.7,1183.6 L959.1,1185.1 L959.5,1191.2 L960.0,1176.6 L960.4,1194.5 L960.8,1194.2 L961.2,1188.7 L961.6,1189.1 L962.1,1176.4 L962.5,1188.3 L962.9,1181.3 L963.3,1188.2 L963.7,1175.0 L964.2,1183.9 L964.6,1182.4 L965.0,1197.0 L965.4,1179.7 L965.8,1188.3 L966.3,1176.7 L966.7,1178.0 L967.1,1177.2 L967.5,1171.7 L967.9,1176.1 L968.4,1185.3 L968.8,1176.8 L969.2,1174.3 L969.6,1182.8 L970.0,1167.0 L970.5,1155.8 L970.9,1161.3 L971.3,1159.4 L971.7,1152.7 L972.1,1142.8 L972.6,1150.4 L973.0,1134.4 L973.4,1141.3 L973.8,1126.3 L974.2,1119.2 L974.7,1127.1 L975.1,1106.0 L975.5,1101.1 L975.9,1109.7 L976.3,1094.2 L976.8,1088.0 L977.2,1083.9 L977.6,1067.3 L978.0,1070.4 L978.4,1059.1 L978.9,1063.0 L979.3,1052.9 L979.7,1031.8 L980.1,1038.7 L980.5,1053.8 L981.0,1049.3 L981.4,1042.1 L981.8,1054.1 L982.2,1035.4 L982.6,1043.9 L983.1,1047.8 L983.5,1050.6 L983.9,1060.9 L984.3,1070.2 L984.7,1092.1 L985.2,1087.6 L985.6,1077.9 L986.0,1079.2 L986.4,1092.4 L986.8,1113.1 L987.3,1109.2 L987.7,1111.8 L988.1,1128.6 L988.5,1114.4 L988.9,1138.4 L989.4,1136.9 L989.8,1150.2 L990.2,1140.0 L990.6,1160.5 L991.0,1163.3 L991.5,1150.9 L991.9,1171.8 L992.3,1171.5 L992.7,1166.3 L993.1,1170.4 L993.6,1190.2 L994.0,1176.4 L994.4,1184.4 L994.8,1175.8 L995.2,1199.4 L995.7,1184.7 L996.1,1187.7 L996.5,1195.5 L996.9,1198.1 L997.3,1193.9 L997.8,1202.6 L998.2,1202.3 L998.6,1206.5 L999.0,1201.7 L999.4,1198.6 L999.9,1215.3 L1000.3,1206.8 L1000.7,1205.1 L1001.1,1198.0 L1001.5,1213.5 L1002.0,1202.5 L1002.4,1212.7 L1002.8,1207.6 L1003.2,1209.0 L1003.6,1208.9 L1004.1,1213.0 L1004.5,1217.8 L1004.9,1202.0 L1005.3,1200.7 L1005.7,1211.1 L1006.2,1212.5 L1006.6,1213.1 L1007.0,1220.6 L1007.4,1219.9 L1007.8,1209.9 L1008.3,1205.5 L1008.7,1212.9 L1009.1,1218.3 L1009.5,1219.9 L1009.9,1217.1 L1010.4,1208.3 L1010.8,1211.8 L1011.2,1221.8 L1011.6,1221.2 L1012.0,1211.5 L1012.5,1210.8 L1012.9,1201.3 L1013.3,1202.5 L1013.7,1210.9 L1014.1,1217.4 L1014.6,1212.4 L1015.0,1220.7 L1015.4,1218.7 L1015.8,1207.6 L1016.2,1209.1 L1016.7,1207.4 L1017.1,1203.2 L1017.5,1215.6 L1017.9,1209.0 L1018.3,1213.2 L1018.8,1212.1 L1019.2,1212.6 L1019.6,1210.8 L1020.0,1223.0 L1020.4,1224.3 L1020.9,1215.1 L1021.3,1211.7 L1021.7,1217.7 L1022.1,1215.9 L1022.5,1224.2 L1023.0,1209.9 L1023.4,1211.8 L1023.8,1205.4 L1024.2,1217.1 L1024.6,1216.4 L1025.1,1215.4 L1025.5,1207.2 L1025.9,1211.6 L1026.3,1213.3 L1026.7,1226.5 L1027.2,1222.9 L1027.6,1226.6 L1028.0,1219.0 L1028.4,1211.8 L1028.8,1216.3 L1029.3,1222.9 L1029.7,1205.3 L1030.1,1223.2 L1030.5,1209.6 L1030.9,1209.8 L1031.4,1215.6 L1031.8,1209.5 L1032.2,1224.1 L1032.6,1222.5 L1033.0,1220.8 L1033.5,1216.6 L1033.9,1219.8 L1034.3,1208.6 L1034.7,1220.4 L1035.1,1220.8 L1035.6,1227.0 L1036.0,1217.4 L1036.4,1214.7 L1036.8,1224.0 L1037.2,1228.1 L1037.7,1229.4 L1038.1,1214.2 L1038.5,1215.1 L1038.9,1218.4 L1039.3,1216.0 L1039.8,1217.5 L1040.2,1218.0 L1040.6,1230.6 L1041.0,1219.2 L1041.4,1217.1 L1041.9,1214.4 L1042.3,1215.3 L1042.7,1225.3 L1043.1,1220.9 L1043.5,1230.5 L1044.0,1214.7 L1044.4,1229.9 L1044.8,1219.2 L1045.2,1227.1 L1045.6,1228.2 L1046.1,1228.9 L1046.5,1225.8 L1046.9,1221.4 L1047.3,1216.8 L1047.7,1224.8 L1048.2,1219.0 L1048.6,1218.4 L1049.0,1211.6 L1049.4,1226.5 L1049.8,1222.9 L1050.3,1220.4 L1050.7,1223.5 L1051.1,1221.1 L1051.5,1228.5 L1051.9,1227.6 L1052.4,1229.1 L1052.8,1229.5 L1053.2,1231.1 L1053.6,1226.9 L1054.0,1233.0 L1054.5,1230.0 L1054.9,1223.3 L1055.3,1235.0 L1055.7,1233.3 L1056.1,1229.6 L1056.6,1233.0 L1057.0,1233.0 L1057.4,1216.8 L1057.8,1224.0 L1058.2,1229.2 L1058.7,1231.4 L1059.1,1236.2 L1059.5,1234.5 L1059.9,1240.9 L1060.3,1225.5 L1060.8,1230.0 L1061.2,1222.6 L1061.6,1227.0 L1062.0,1238.6 L1062.4,1218.1 L1062.9,1223.8 L1063.3,1222.4 L1063.7,1230.3 L1064.1,1231.2 L1064.5,1229.2 L1065.0,1218.1 L1065.4,1234.0 L1065.8,1234.6 L1066.2,1225.9 L1066.6,1238.9 L1067.1,1221.1 L1067.5,1234.0 L1067.9,1222.4 L1068.3,1228.7 L1068.7,1230.5 L1069.2,1235.1 L1069.6,1221.3 L1070.0,1229.4 L1070.4,1236.2 L1070.8,1226.0 L1071.3,1229.4 L1071.7,1226.1 L1072.1,1230.9 L1072.5,1227.2 L1072.9,1226.5 L1073.4,1228.8 L1073.8,1238.1 L1074.2,1227.5 L1074.6,1221.7 L1075.0,1226.3 L1075.5,1224.1 L1075.9,1224.8 L1076.3,1230.8 L1076.7,1224.1 L1077.1,1230.5 L1077.6,1235.3 L1078.0,1237.2 L1078.4,1225.1 L1078.8,1225.7 L1079.2,1226.2 L1079.7,1232.8 L1080.1,1240.2 L1080.5,1227.1 L1080.9,1230.5 L1081.3,1233.7 L1081.8,1234.0 L1082.2,1233.9 L1082.6,1240.8 L1083.0,1228.3 L1083.4,1226.7 L1083.9,1225.7 L1084.3,1232.2 L1084.7,1237.7 L1085.1,1238.9 L1085.5,1233.4 L1086.0,1222.0 L1086.4,1225.3 L1086.8,1230.4 L1087.2,1228.7 L1087.6,1226.7 L1088.1,1230.6 L1088.5,1230.2 L1088.9,1230.3 L1089.3,1234.6 L1089.7,1238.1 L1090.2,1235.5 L1090.6,1226.4 L1091.0,1239.9 L1091.4,1235.3 L1091.8,1234.9 L1092.3,1232.6 L1092.7,1235.0 L1093.1,1228.9 L1093.5,1234.4 L1093.9,1233.2 L1094.4,1229.5 L1094.8,1240.1 L1095.2,1228.4 L1095.6,1227.7 L1096.0,1239.7 L1096.5,1234.8 L1096.9,1237.7 L1097.3,1236.2 L1097.7,1230.3 L1098.1,1243.3 L1098.6,1230.9 L1099.0,1231.9 L1099.4,1234.3 L1099.8,1223.5 L1100.2,1236.1 L1100.7,1242.5 L1101.1,1233.8 L1101.5,1234.2 L1101.9,1238.2 L1102.3,1246.2 L1102.8,1245.9 L1103.2,1228.5 L1103.6,1242.4 L1104.0,1229.6 L1104.4,1231.3 L1104.9,1246.3 L1105.3,1236.2 L1105.7,1233.1 L1106.1,1230.6 L1106.5,1229.4 L1107.0,1229.8 L1107.4,1236.2 L1107.8,1238.0 L1108.2,1238.0 L1108.6,1234.6 L1109.1,1241.4 L1109.5,1242.8 L1109.9,1227.0 L1110.3,1231.9 L1110.7,1232.0 L1111.2,1238.3 L1111.6,1242.0 L1112.0,1240.4 L1112.4,1242.1 L1112.8,1241.6 L1113.3,1246.0 L1113.7,1236.3 L1114.1,1236.8 L1114.5,1234.8 L1114.9,1238.1 L1115.4,1242.2 L1115.8,1230.0 L1116.2,1233.9 L1116.6,1236.1 L1117.0,1235.0 L1117.5,1240.5 L1117.9,1236.4 L1118.3,1242.8 L1118.7,1235.6 L1119.1,1235.3 L1119.6,1235.8 L1120.0,1238.0 L1120.4,1239.4 L1120.8,1239.2 L1121.2,1237.0 L1121.7,1242.1 L1122.1,1237.4 L1122.5,1236.7 L1122.9,1245.8 L1123.3,1248.8 L1123.8,1240.2 L1124.2,1242.2 L1124.6,1244.5 L1125.0,1246.7 L1125.4,1246.4 L1125.9,1248.8 L1126.3,1243.4 L1126.7,1248.2 L1127.1,1249.4 L1127.5,1242.5 L1128.0,1234.7 L1128.4,1235.1 L1128.8,1241.5 L1129.2,1239.7 L1129.6,1242.3 L1130.1,1242.1 L1130.5,1245.0 L1130.9,1241.9 L1131.3,1246.3 L1131.7,1245.4 L1132.2,1242.8 L1132.6,1242.2 L1133.0,1233.0 L1133.4,1244.8 L1133.8,1247.1 L1134.3,1239.7 L1134.7,1239.4 L1135.1,1238.9 L1135.5,1242.4 L1135.9,1248.8 L1136.4,1244.5 L1136.8,1248.0 L1137.2,1243.3 L1137.6,1235.0 L1138.0,1243.1 L1138.5,1242.2 L1138.9,1237.9 L1139.3,1247.9 L1139.7,1240.0 L1140.1,1243.9 L1140.6,1245.9 L1141.0,1244.7 L1141.4,1247.3 L1141.8,1239.8 L1142.2,1242.3 L1142.7,1245.0 L1143.1,1241.3 L1143.5,1249.3 L1143.9,1255.5 L1144.3,1239.0 L1144.8,1245.3 L1145.2,1240.4 L1145.6,1246.9 L1146.0,1251.5 L1146.4,1248.9 L1146.9,1240.3 L1147.3,1241.8 L1147.7,1246.2 L1148.1,1241.2 L1148.5,1244.8 L1149.0,1243.3 L1149.4,1248.3 L1149.8,1253.8 L1150.2,1244.7 L1150.6,1241.4 L1151.1,1247.6 L1151.5,1238.0 L1151.9,1242.5 L1152.3,1237.0 L1152.7,1240.9 L1153.2,1239.0 L1153.6,1244.9 L1154.0,1250.5 L1154.4,1236.1 L1154.8,1238.4 L1155.3,1241.2 L1155.7,1248.0 L1156.1,1241.4 L1156.5,1248.6 L1156.9,1243.0 L1157.4,1240.9 L1157.8,1242.4 L1158.2,1248.7 L1158.6,1242.8 L1159.0,1244.0 L1159.5,1242.7 L1159.9,1239.8 L1160.3,1247.2 L1160.7,1248.7 L1161.1,1254.0 L1161.6,1240.1 L1162.0,1248.0 L1162.4,1240.5 L1162.8,1243.4 L1163.2,1240.5 L1163.7,1244.0 L1164.1,1243.5 L1164.5,1246.2 L1164.9,1243.8 L1165.3,1249.6 L1165.8,1242.0 L1166.2,1252.0 L1166.6,1248.4 L1167.0,1247.6 L1167.4,1245.7 L1167.9,1246.3 L1168.3,1249.8 L1168.7,1246.1 L1169.1,1256.7 L1169.5,1250.0 L1170.0,1246.8 L1170.4,1249.0 L1170.8,1242.7 L1171.2,1246.5 L1171.6,1244.5 L1172.1,1250.6 L1172.5,1243.2 L1172.9,1243.3 L1173.3,1252.0 L1173.7,1241.7 L1174.2,1250.6 L1174.6,1251.6 L1175.0,1244.0 L1175.4,1239.8 L1175.8,1243.6 L1176.3,1247.1 L1176.7,1249.6 L1177.1,1250.0 L1177.5,1246.5 L1177.9,1245.6 L1178.4,1250.6 L1178.8,1245.5 L1179.2,1255.3 L1179.6,1247.1 L1180.0,1250.7 L1180.5,1252.4 L1180.9,1239.9 L1181.3,1244.3 L1181.7,1248.2 L1182.1,1251.6 L1182.6,1242.6 L1183.0,1246.7 L1183.4,1250.3 L1183.8,1256.7 L1184.2,1245.1 L1184.7,1244.7 L1185.1,1245.6 L1185.5,1251.6 L1185.9,1255.0 L1186.3,1244.5 L1186.8,1248.8 L1187.2,1245.4 L1187.6,1257.2 L1188.0,1250.1 L1188.4,1245.9 L1188.9,1248.2 L1189.3,1241.8 L1189.7,1244.6 L1190.1,1244.4 L1190.5,1245.7 L1191.0,1249.2 L1191.4,1251.6 L1191.8,1252.0 L1192.2,1244.7 L1192.6,1249.2 L1193.1,1256.5 L1193.5,1249.1 L1193.9,1248.8 L1194.3,1250.9 L1194.7,1248.0 L1195.2,1252.3 L1195.6,1240.6 L1196.0,1250.1 L1196.4,1252.9 L1196.8,1249.5 L1197.3,1249.0 L1197.7,1246.6 L1198.1,1248.6 L1198.5,1247.4 L1198.9,1249.5 L1199.4,1250.8 L1199.8,1253.6 L1200.2,1252.9 L1200.6,1250.6 L1201.0,1254.4 L1201.5,1248.0 L1201.9,1251.1 L1202.3,1246.5 L1202.7,1247.4 L1203.1,1251.2 L1203.6,1240.6 L1204.0,1244.9 L1204.4,1252.3 L1204.8,1249.4 L1205.2,1252.6 L1205.7,1254.0 L1206.1,1250.7 L1206.5,1252.5 L1206.9,1248.4 L1207.3,1255.3 L1207.8,1250.7 L1208.2,1247.0 L1208.6,1250.0 L1209.0,1245.2 L1209.4,1244.6 L1209.9,1254.6 L1210.3,1253.0 L1210.7,1253.5 L1211.1,1247.2 L1211.5,1252.8 L1212.0,1258.3 L1212.4,1254.4 L1212.8,1253.2 L1213.2,1252.6 L1213.6,1252.6 L1214.1,1252.1 L1214.5,1254.6 L1214.9,1252.6 L1215.3,1253.7 L1215.7,1253.8 L1216.2,1253.4 L1216.6,1250.1 L1217.0,1251.5 L1217.4,1250.5 L1217.8,1254.5 L1218.3,1257.7 L1218.7,1253.6 L1219.1,1250.3 L1219.5,1252.5 L1219.9,1254.2 L1220.4,1257.4 L1220.8,1252.3 L1221.2,1255.1 L1221.6,1257.8 L1222.1,1252.3 L1222.5,1252.6 L1222.9,1249.3 L1223.3,1256.1 L1223.7,1257.2 L1224.2,1253.0 L1224.6,1248.6 L1225.0,1252.0 L1225.4,1251.1 L1225.8,1256.7 L1226.3,1252.7 L1226.7,1257.2 L1227.1,1258.6 L1227.5,1251.8 L1227.9,1249.9 L1228.4,1254.8 L1228.8,1253.0 L1229.2,1251.7 L1229.6,1253.7 L1230.0,1253.3 L1230.5,1252.4 L1230.9,1255.6 L1231.3,1256.6 L1231.7,1252.6 L1232.1,1247.2 L1232.6,1253.9 L1233.0,1254.7 L1233.4,1248.6 L1233.8,1254.8 L1234.2,1255.6 L1234.7,1248.8 L1235.1,1251.3 L1235.5,1251.5 L1235.9,1259.1 L1236.3,1250.9 L1236.8,1254.1 L1237.2,1251.2 L1237.6,1252.1 L1238.0,1248.9 L1238.4,1251.2 L1238.9,1248.9 L1239.3,1255.0 L1239.7,1251.2 L1240.1,1252.1 L1240.5,1255.1 L1241.0,1257.6 L1241.4,1254.9 L1241.8,1256.4 L1242.2,1255.4 L1242.6,1255.5 L1243.1,1255.9 L1243.5,1254.0 L1243.9,1253.8 L1244.3,1256.7 L1244.7,1256.5 L1245.2,1253.9 L1245.6,1255.6 L1246.0,1255.7 L1246.4,1256.9 L1246.8,1259.3 L1247.3,1255.6 L1247.7,1257.2 L1248.1,1255.0 L1248.5,1255.3 L1248.9,1255.7 L1249.4,1252.4 L1249.8,1256.5 L1250.2,1251.9 L1250.6,1253.5 L1251.0,1247.7 L1251.5,1256.3 L1251.9,1256.6 L1252.3,1253.9 L1252.7,1252.7 L1253.1,1255.3 L1253.6,1252.9 L1254.0,1254.3 L1254.4,1258.5 L1254.8,1254.5 L1255.2,1252.7 L1255.7,1253.7 L1256.1,1255.1 L1256.5,1257.3 L1256.9,1253.4 L1257.3,1251.2 L1257.8,1258.3 L1258.2,1253.8 L1258.6,1259.6 L1259.0,1255.1 L1259.4,1262.1 L1259.9,1256.4 L1260.3,1253.7 L1260.7,1258.8 L1261.1,1259.1 L1261.5,1255.4 L1262.0,1256.0 L1262.4,1254.7 L1262.8,1251.8 L1263.2,1258.1 L1263.6,1255.1 L1264.1,1260.4 L1264.5,1263.8 L1264.9,1258.8 L1265.3,1262.9 L1265.7,1254.9 L1266.2,1253.2 L1266.6,1254.0 L1267.0,1259.5 L1267.4,1257.9 L1267.8,1260.1 L1268.3,1256.5" stroke="#111" stroke-width="2.0" fill="none" />
<path d="M801.6,1255.4 L802.0,1255.4 L802.4,1255.4 L802.9,1255.4 L803.3,1255.4 L803.7,1255.4 L804.1,1255.4 L804.5,1255.4 L805.0,1255.4 L805.4,1255.4 L805.8,1255.4 L806.2,1255.4 L806.6,1255.4 L807.1,1255.4 L807.5,1255.4 L807.9,1255.4 L808.3,1255.4 L808.7,1255.4 L809.2,1255.4 L809.6,1255.4 L810.0,1255.4 L810.4,1255.4 L810.8,1255.4 L811.3,1255.4 L811.7,1255.4 L812.1,1255.4 L812.5,1255.4 L812.9,1255.4 L813.4,1255.4 L813.8,1255.4 L814.2,1255.4 L814.6,1255.4 L815.0,1255.4 L815.5,1255.4 L815.9,1255.4 L816.3,1255.4 L816.7,1255.4 L817.1,1255.4 L817.6,1255.4 L818.0,1255.4 L818.4,1255.4 L818.8,1255.4 L819.2,1255.4 L819.7,1255.4 L820.1,1255.4 L820.5,1255.4 L820.9,1255.4 L821.3,1255.4 L821.8,1255.4 L822.2,1255.4 L822.6,1255.4 L823.0,1255.4 L823.4,1255.4 L823.9,1255.4 L824.3,1255.4 L824.7,1255.4 L825.1,1255.4 L825.5,1255.4 L826.0,1255.4 L826.4,1255.4 L826.8,1255.4 L827.2,1255.4 L827.6,1255.4 L828.1,1255.4 L828.5,1255.4 L828.9,1255.4 L829.3,1255.4 L829.7,1255.4 L830.2,1255.4 L830.6,1255.4 L831.0,1255.4 L831.4,1255.4 L831.8,1255.4 L832.3,1255.4 L832.7,1255.4 L833.1,1255.4 L833.5,1255.4 L833.9,1255.4 L834.4,1255.4 L834.8,1255.4 L835.2,1255.4 L835.6,1255.4 L836.0,1255.4 L836.5,1255.4 L836.9,1255.4 L837.3,1255.4 L837.7,1255.4 L838.1,1255.4 L838.6,1255.4 L839.0,1255.4 L839.4,1255.4 L839.8,1255.4 L840.2,1255.4 L840.7,1255.4 L841.1,1255.4 L841.5,1255.4 L841.9,1255.4 L842.3,1255.4 L842.8,1255.4 L843.2,1255.4 L843.6,1255.4 L844.0,1255.4 L844.4,1255.4 L844.9,1255.4 L845.3,1255.4 L845.7,1255.4 L846.1,1255.4 L846.5,1255.4 L847.0,1255.4 L847.4,1255.4 L847.8,1255.4 L848.2,1255.4 L848.6,1255.4 L849.1,1255.4 L849.5,1255.4 L849.9,1255.4 L850.3,1255.4 L850.7,1255.4 L851.2,1255.4 L851.6,1255.4 L852.0,1255.4 L852.4,1255.4 L852.8,1255.4 L853.3,1255.4 L853.7,1255.4 L854.1,1255.4 L854.5,1255.4 L854.9,1255.4 L855.4,1255.4 L855.8,1255.4 L856.2,1255.4 L856.6,1255.4 L857.0,1255.4 L857.5,1255.4 L857.9,1255.4 L858.3,1255.4 L858.7,1255.4 L859.1,1255.4 L859.6,1255.4 L860.0,1255.4 L860.4,1255.4 L860.8,1255.4 L861.2,1255.4 L861.7,1255.4 L862.1,1255.4 L862.5,1255.4 L862.9,1255.4 L863.3,1255.4 L863.8,1255.4 L864.2,1255.4 L864.6,1255.4 L865.0,1255.4 L865.4,1255.4 L865.9,1255.4 L866.3,1255.4 L866.7,1255.4 L867.1,1255.4 L867.5,1255.4 L868.0,1255.4 L868.4,1255.4 L868.8,1255.4 L869.2,1255.4 L869.6,1255.4 L870.1,1255.4 L870.5,1255.4 L870.9,1255.4 L871.3,1255.4 L871.7,1255.4 L872.2,1255.4 L872.6,1255.4 L873.0,1255.4 L873.4,1255.4 L873.8,1255.4 L874.3,1255.4 L874.7,1255.4 L875.1,1255.4 L875.5,1255.4 L875.9,1255.4 L876.4,1255.4 L876.8,1255.4 L877.2,1255.4 L877.6,1255.4 L878.0,1255.4 L878.5,1255.4 L878.9,1255.4 L879.3,1255.4 L879.7,1255.4 L880.1,1255.4 L880.6,1255.4 L881.0,1255.4 L881.4,1255.4 L881.8,1255.4 L882.2,1255.4 L882.7,1255.4 L883.1,1255.4 L883.5,1255.4 L883.9,1255.4 L884.3,1255.4 L884.8,1255.4 L885.2,1255.4 L885.6,1255.4 L886.0,1255.4 L886.4,1255.4 L886.9,1255.4 L887.3,1255.4 L887.7,1255.4 L888.1,1255.4 L888.5,1255.4 L889.0,1255.4 L889.4,1255.4 L889.8,1255.4 L890.2,1255.4 L890.6,1255.4 L891.1,1255.4 L891.5,1255.4 L891.9,1255.4 L892.3,1255.4 L892.7,1255.4 L893.2,1255.4 L893.6,1255.4 L894.0,1255.4 L894.4,1255.4 L894.8,1255.4 L895.3,1255.4 L895.7,1255.4 L896.1,1255.4 L896.5,1255.4 L896.9,1255.4 L897.4,1255.4 L897.8,1255.4 L898.2,1255.4 L898.6,1255.4 L899.0,1255.4 L899.5,1255.4 L899.9,1255.4 L900.3,1255.4 L900.7,1255.4 L901.1,1255.4 L901.6,1255.4 L902.0,1255.4 L902.4,1255.4 L902.8,1255.4 L903.2,1255.4 L903.7,1255.4 L904.1,1255.4 L904.5,1255.4 L904.9,1255.4 L905.3,1255.4 L905.8,1255.4 L906.2,1255.4 L906.6,1255.4 L907.0,1255.4 L907.4,1255.4 L907.9,1255.4 L908.3,1255.4 L908.7,1255.4 L909.1,1255.4 L909.5,1255.4 L910.0,1255.4 L910.4,1255.4 L910.8,1255.4 L911.2,1255.4 L911.6,1255.4 L912.1,1255.4 L912.5,1255.4 L912.9,1255.4 L913.3,1255.4 L913.7,1255.4 L914.2,1255.4 L914.6,1255.4 L915.0,1255.4 L915.4,1255.4 L915.8,1255.4 L916.3,1255.4 L916.7,1255.4 L917.1,1255.4 L917.5,1255.4 L917.9,1255.4 L918.4,1255.4 L918.8,1255.4 L919.2,1255.4 L919.6,1255.4 L920.0,1255.4 L920.5,1255.4 L920.9,1255.4 L921.3,1255.4 L921.7,1255.4 L922.1,1255.4 L922.6,1255.4 L923.0,1255.4 L923.4,1255.4 L923.8,1255.4 L924.2,1255.4 L924.7,1255.4 L925.1,1255.4 L925.5,1255.4 L925.9,1255.4 L926.3,1255.4 L926.8,1255.4 L927.2,1255.4 L927.6,1255.4 L928.0,1255.4 L928.4,1255.4 L928.9,1255.4 L929.3,1255.4 L929.7,1255.4 L930.1,1255.4 L930.5,1255.4 L931.0,1255.4 L931.4,1255.4 L931.8,1255.4 L932.2,1255.4 L932.6,1255.4 L933.1,1255.4 L933.5,1255.4 L933.9,1255.4 L934.3,1255.4 L934.7,1255.4 L935.2,1255.4 L935.6,1255.4 L936.0,1255.4 L936.4,1255.4 L936.8,1255.4 L937.3,1255.4 L937.7,1255.4 L938.1,1255.4 L938.5,1255.4 L938.9,1255.4 L939.4,1255.4 L939.8,1255.4 L940.2,1255.4 L940.6,1255.4 L941.0,1255.4 L941.5,1255.4 L941.9,1255.4 L942.3,1255.4 L942.7,1255.4 L943.2,1255.4 L943.6,1255.4 L944.0,1255.4 L944.4,1255.4 L944.8,1255.4 L945.3,1255.4 L945.7,1255.4 L946.1,1255.4 L946.5,1255.4 L946.9,1255.4 L947.4,1255.4 L947.8,1255.4 L948.2,1255.4 L948.6,1255.4 L949.0,1255.4 L949.5,1255.4 L949.9,1255.4 L950.3,1255.4 L950.7,1255.4 L951.1,1255.4 L951.6,1255.4 L952.0,1255.4 L952.4,1255.4 L952.8,1255.4 L953.2,1255.4 L953.7,1255.4 L954.1,1255.4 L954.5,1255.4 L954.9,1255.4 L955.3,1255.4 L955.8,1255.4 L956.2,1255.4 L956.6,1255.4 L957.0,1255.4 L957.4,1255.4 L957.9,1255.4 L958.3,1255.4 L958.7,1255.4 L959.1,1255.4 L959.5,1255.4 L960.0,1255.4 L960.4,1255.4 L960.8,1255.4 L961.2,1255.3 L961.6,1255.3 L962.1,1255.3 L962.5,1255.3 L962.9,1255.2 L963.3,1255.1 L963.7,1255.0 L964.2,1254.9 L964.6,1254.7 L965.0,1254.4 L965.4,1254.1 L965.8,1253.7 L966.3,1253.1 L966.7,1252.5 L967.1,1251.6 L967.5,1250.5 L967.9,1249.2 L968.4,1247.5 L968.8,1245.5 L969.2,1243.0 L969.6,1240.1 L970.0,1236.6 L970.5,1232.4 L970.9,1227.6 L971.3,1222.0 L971.7,1215.6 L972.1,1208.3 L972.6,1200.0 L973.0,1190.8 L973.4,1180.7 L973.8,1169.6 L974.2,1157.6 L974.7,1144.7 L975.1,1131.1 L975.5,1116.8 L975.9,1102.1 L976.3,1087.0 L976.8,1071.9 L977.2,1056.9 L977.6,1042.2 L978.0,1028.2 L978.4,1015.1 L978.9,1003.1 L979.3,992.5 L979.7,983.5 L980.1,976.2 L980.5,971.0 L981.0,967.8 L981.4,966.7 L981.8,967.8 L982.2,971.0 L982.6,976.2 L983.1,983.5 L983.5,992.5 L983.9,1003.1 L984.3,1015.1 L984.7,1028.2 L985.2,1042.2 L985.6,1056.9 L986.0,1071.9 L986.4,1087.0 L986.8,1102.1 L987.3,1116.8 L987.7,1131.1 L988.1,1144.7 L988.5,1157.6 L988.9,1169.6 L989.4,1180.7 L989.8,1190.8 L990.2,1200.0 L990.6,1208.3 L991.0,1215.6 L991.5,1222.0 L991.9,1227.6 L992.3,1232.4 L992.7,1236.6 L993.1,1240.1 L993.6,1243.0 L994.0,1245.5 L994.4,1247.5 L994.8,1249.2 L995.2,1250.5 L995.7,1251.6 L996.1,1252.5 L996.5,1253.1 L996.9,1253.7 L997.3,1254.1 L997.8,1254.4 L998.2,1254.7 L998.6,1254.9 L999.0,1255.0 L999.4,1255.1 L999.9,1255.2 L1000.3,1255.3 L1000.7,1255.3 L1001.1,1255.3 L1001.5,1255.3 L1002.0,1255.4 L1002.4,1255.4 L1002.8,1255.4 L1003.2,1255.4 L1003.6,1255.4 L1004.1,1255.4 L1004.5,1255.4 L1004.9,1255.4 L1005.3,1255.4 L1005.7,1255.4 L1006.2,1255.4 L1006.6,1255.4 L1007.0,1255.4 L1007.4,1255.4 L1007.8,1255.4 L1008.3,1255.4 L1008.7,1255.4 L1009.1,1255.4 L1009.5,1255.4 L1009.9,1255.4 L1010.4,1255.4 L1010.8,1255.4 L1011.2,1255.4 L1011.6,1255.4 L1012.0,1255.4 L1012.5,1255.4 L1012.9,1255.4 L1013.3,1255.4 L1013.7,1255.4 L1014.1,1255.4 L1014.6,1255.4 L1015.0,1255.4 L1015.4,1255.4 L1015.8,1255.4 L1016.2,1255.4 L1016.7,1255.4 L1017.1,1255.4 L1017.5,1255.4 L1017.9,1255.4 L1018.3,1255.4 L1018.8,1255.4 L1019.2,1255.4 L1019.6,1255.4 L1020.0,1255.4 L1020.4,1255.4 L1020.9,1255.4 L1021.3,1255.4 L1021.7,1255.4 L1022.1,1255.4 L1022.5,1255.4 L1023.0,1255.4 L1023.4,1255.4 L1023.8,1255.4 L1024.2,1255.4 L1024.6,1255.4 L1025.1,1255.4 L1025.5,1255.4 L1025.9,1255.4 L1026.3,1255.4 L1026.7,1255.4 L1027.2,1255.4 L1027.6,1255.4 L1028.0,1255.4 L1028.4,1255.4 L1028.8,1255.4 L1029.3,1255.4 L1029.7,1255.4 L1030.1,1255.4 L1030.5,1255.4 L1030.9,1255.4 L1031.4,1255.4 L1031.8,1255.4 L1032.2,1255.4 L1032.6,1255.4 L1033.0,1255.4 L1033.5,1255.4 L1033.9,1255.4 L1034.3,1255.4 L1034.7,1255.4 L1035.1,1255.4 L1035.6,1255.4 L1036.0,1255.4 L1036.4,1255.4 L1036.8,1255.4 L1037.2,1255.4 L1037.7,1255.4 L1038.1,1255.4 L1038.5,1255.4 L1038.9,1255.4 L1039.3,1255.4 L1039.8,1255.4 L1040.2,1255.4 L1040.6,1255.4 L1041.0,1255.4 L1041.4,1255.4 L1041.9,1255.4 L1042.3,1255.4 L1042.7,1255.4 L1043.1,1255.4 L1043.5,1255.4 L1044.0,1255.4 L1044.4,1255.4 L1044.8,1255.4 L1045.2,1255.4 L1045.6,1255.4 L1046.1,1255.4 L1046.5,1255.4 L1046.9,1255.4 L1047.3,1255.4 L1047.7,1255.4 L1048.2,1255.4 L1048.6,1255.4 L1049.0,1255.4 L1049.4,1255.4 L1049.8,1255.4 L1050.3,1255.4 L1050.7,1255.4 L1051.1,1255.4 L1051.5,1255.4 L1051.9,1255.4 L1052.4,1255.4 L1052.8,1255.4 L1053.2,1255.4 L1053.6,1255.4 L1054.0,1255.4 L1054.5,1255.4 L1054.9,1255.4 L1055.3,1255.4 L1055.7,1255.4 L1056.1,1255.4 L1056.6,1255.4 L1057.0,1255.4 L1057.4,1255.4 L1057.8,1255.4 L1058.2,1255.4 L1058.7,1255.4 L1059.1,1255.4 L1059.5,1255.4 L1059.9,1255.4 L1060.3,1255.4 L1060.8,1255.4 L1061.2,1255.4 L1061.6,1255.4 L1062.0,1255.4 L1062.4,1255.4 L1062.9,1255.4 L1063.3,1255.4 L1063.7,1255.4 L1064.1,1255.4 L1064.5,1255.4 L1065.0,1255.4 L1065.4,1255.4 L1065.8,1255.4 L1066.2,1255.4 L1066.6,1255.4 L1067.1,1255.4 L1067.5,1255.4 L1067.9,1255.4 L1068.3,1255.4 L1068.7,1255.4 L1069.2,1255.4 L1069.6,1255.4 L1070.0,1255.4 L1070.4,1255.4 L1070.8,1255.4 L1071.3,1255.4 L1071.7,1255.4 L1072.1,1255.4 L1072.5,1255.4 L1072.9,1255.4 L1073.4,1255.4 L1073.8,1255.4 L1074.2,1255.4 L1074.6,1255.4 L1075.0,1255.4 L1075.5,1255.4 L1075.9,1255.4 L1076.3,1255.4 L1076.7,1255.4 L1077.1,1255.4 L1077.6,1255.4 L1078.0,1255.4 L1078.4,1255.4 L1078.8,1255.4 L1079.2,1255.4 L1079.7,1255.4 L1080.1,1255.4 L1080.5,1255.4 L1080.9,1255.4 L1081.3,1255.4 L1081.8,1255.4 L1082.2,1255.4 L1082.6,1255.4 L1083.0,1255.4 L1083.4,1255.4 L1083.9,1255.4 L1084.3,1255.4 L1084.7,1255.4 L1085.1,1255.4 L1085.5,1255.4 L1086.0,1255.4 L1086.4,1255.4 L1086.8,1255.4 L1087.2,1255.4 L1087.6,1255.4 L1088.1,1255.4 L1088.5,1255.4 L1088.9,1255.4 L1089.3,1255.4 L1089.7,1255.4 L1090.2,1255.4 L1090.6,1255.4 L1091.0,1255.4 L1091.4,1255.4 L1091.8,1255.4 L1092.3,1255.4 L1092.7,1255.4 L1093.1,1255.4 L1093.5,1255.4 L1093.9,1255.4 L1094.4,1255.4 L1094.8,1255.4 L1095.2,1255.4 L1095.6,1255.4 L1096.0,1255.4 L1096.5,1255.4 L1096.9,1255.4 L1097.3,1255.4 L1097.7,1255.4 L1098.1,1255.4 L1098.6,1255.4 L1099.0,1255.4 L1099.4,1255.4 L1099.8,1255.4 L1100.2,1255.4 L1100.7,1255.4 L1101.1,1255.4 L1101.5,1255.4 L1101.9,1255.4 L1102.3,1255.4 L1102.8,1255.4 L1103.2,1255.4 L1103.6,1255.4 L1104.0,1255.4 L1104.4,1255.4 L1104.9,1255.4 L1105.3,1255.4 L1105.7,1255.4 L1106.1,1255.4 L1106.5,1255.4 L1107.0,1255.4 L1107.4,1255.4 L1107.8,1255.4 L1108.2,1255.4 L1108.6,1255.4 L1109.1,1255.4 L1109.5,1255.4 L1109.9,1255.4 L1110.3,1255.4 L1110.7,1255.4 L1111.2,1255.4 L1111.6,1255.4 L1112.0,1255.4 L1112.4,1255.4 L1112.8,1255.4 L1113.3,1255.4 L1113.7,1255.4 L1114.1,1255.4 L1114.5,1255.4 L1114.9,1255.4 L1115.4,1255.4 L1115.8,1255.4 L1116.2,1255.4 L1116.6,1255.4 L1117.0,1255.4 L1117.5,1255.4 L1117.9,1255.4 L1118.3,1255.4 L1118.7,1255.4 L1119.1,1255.4 L1119.6,1255.4 L1120.0,1255.4 L1120.4,1255.4 L1120.8,1255.4 L1121.2,1255.4 L1121.7,1255.4 L1122.1,1255.4 L1122.5,1255.4 L1122.9,1255.4 L1123.3,1255.4 L1123.8,1255.4 L1124.2,1255.4 L1124.6,1255.4 L1125.0,1255.4 L1125.4,1255.4 L1125.9,1255.4 L1126.3,1255.4 L1126.7,1255.4 L1127.1,1255.4 L1127.5,1255.4 L1128.0,1255.4 L1128.4,1255.4 L1128.8,1255.4 L1129.2,1255.4 L1129.6,1255.4 L1130.1,1255.4 L1130.5,1255.4 L1130.9,1255.4 L1131.3,1255.4 L1131.7,1255.4 L1132.2,1255.4 L1132.6,1255.4 L1133.0,1255.4 L1133.4,1255.4 L1133.8,1255.4 L1134.3,1255.4 L1134.7,1255.4 L1135.1,1255.4 L1135.5,1255.4 L1135.9,1255.4 L1136.4,1255.4 L1136.8,1255.4 L1137.2,1255.4 L1137.6,1255.4 L1138.0,1255.4 L1138.5,1255.4 L1138.9,1255.4 L1139.3,1255.4 L1139.7,1255.4 L1140.1,1255.4 L1140.6,1255.4 L1141.0,1255.4 L1141.4,1255.4 L1141.8,1255.4 L1142.2,1255.4 L1142.7,1255.4 L1143.1,1255.4 L1143.5,1255.4 L1143.9,1255.4 L1144.3,1255.4 L1144.8,1255.4 L1145.2,1255.4 L1145.6,1255.4 L1146.0,1255.4 L1146.4,1255.4 L1146.9,1255.4 L1147.3,1255.4 L1147.7,1255.4 L1148.1,1255.4 L1148.5,1255.4 L1149.0,1255.4 L1149.4,1255.4 L1149.8,1255.4 L1150.2,1255.4 L1150.6,1255.4 L1151.1,1255.4 L1151.5,1255.4 L1151.9,1255.4 L1152.3,1255.4 L1152.7,1255.4 L1153.2,1255.4 L1153.6,1255.4 L1154.0,1255.4 L1154.4,1255.4 L1154.8,1255.4 L1155.3,1255.4 L1155.7,1255.4 L1156.1,1255.4 L1156.5,1255.4 L1156.9,1255.4 L1157.4,1255.4 L1157.8,1255.4 L1158.2,1255.4 L1158.6,1255.4 L1159.0,1255.4 L1159.5,1255.4 L1159.9,1255.4 L1160.3,1255.4 L1160.7,1255.4 L1161.1,1255.4 L1161.6,1255.4 L1162.0,1255.4 L1162.4,1255.4 L1162.8,1255.4 L1163.2,1255.4 L1163.7,1255.4 L1164.1,1255.4 L1164.5,1255.4 L1164.9,1255.4 L1165.3,1255.4 L1165.8,1255.4 L1166.2,1255.4 L1166.6,1255.4 L1167.0,1255.4 L1167.4,1255.4 L1167.9,1255.4 L1168.3,1255.4 L1168.7,1255.4 L1169.1,1255.4 L1169.5,1255.4 L1170.0,1255.4 L1170.4,1255.4 L1170.8,1255.4 L1171.2,1255.4 L1171.6,1255.4 L1172.1,1255.4 L1172.5,1255.4 L1172.9,1255.4 L1173.3,1255.4 L1173.7,1255.4 L1174.2,1255.4 L1174.6,1255.4 L1175.0,1255.4 L1175.4,1255.4 L1175.8,1255.4 L1176.3,1255.4 L1176.7,1255.4 L1177.1,1255.4 L1177.5,1255.4 L1177.9,1255.4 L1178.4,1255.4 L1178.8,1255.4 L1179.2,1255.4 L1179.6,1255.4 L1180.0,1255.4 L1180.5,1255.4 L1180.9,1255.4 L1181.3,1255.4 L1181.7,1255.4 L1182.1,1255.4 L1182.6,1255.4 L1183.0,1255.4 L1183.4,1255.4 L1183.8,1255.4 L1184.2,1255.4 L1184.7,1255.4 L1185.1,1255.4 L1185.5,1255.4 L1185.9,1255.4 L1186.3,1255.4 L1186.8,1255.4 L1187.2,1255.4 L1187.6,1255.4 L1188.0,1255.4 L1188.4,1255.4 L1188.9,1255.4 L1189.3,1255.4 L1189.7,1255.4 L1190.1,1255.4 L1190.5,1255.4 L1191.0,1255.4 L1191.4,1255.4 L1191.8,1255.4 L1192.2,1255.4 L1192.6,1255.4 L1193.1,1255.4 L1193.5,1255.4 L1193.9,1255.4 L1194.3,1255.4 L1194.7,1255.4 L1195.2,1255.4 L1195.6,1255.4 L1196.0,1255.4 L1196.4,1255.4 L1196.8,1255.4 L1197.3,1255.4 L1197.7,1255.4 L1198.1,1255.4 L1198.5,1255.4 L1198.9,1255.4 L1199.4,1255.4 L1199.8,1255.4 L1200.2,1255.4 L1200.6,1255.4 L1201.0,1255.4 L1201.5,1255.4 L1201.9,1255.4 L1202.3,1255.4 L1202.7,1255.4 L1203.1,1255.4 L1203.6,1255.4 L1204.0,1255.4 L1204.4,1255.4 L1204.8,1255.4 L1205.2,1255.4 L1205.7,1255.4 L1206.1,1255.4 L1206.5,1255.4 L1206.9,1255.4 L1207.3,1255.4 L1207.8,1255.4 L1208.2,1255.4 L1208.6,1255.4 L1209.0,1255.4 L1209.4,1255.4 L1209.9,1255.4 L1210.3,1255.4 L1210.7,1255.4 L1211.1,1255.4 L1211.5,1255.4 L1212.0,1255.4 L1212.4,1255.4 L1212.8,1255.4 L1213.2,1255.4 L1213.6,1255.4 L1214.1,1255.4 L1214.5,1255.4 L1214.9,1255.4 L1215.3,1255.4 L1215.7,1255.4 L1216.2,1255.4 L1216.6,1255.4 L1217.0,1255.4 L1217.4,1255.4 L1217.8,1255.4 L1218.3,1255.4 L1218.7,1255.4 L1219.1,1255.4 L1219.5,1255.4 L1219.9,1255.4 L1220.4,1255.4 L1220.8,1255.4 L1221.2,1255.4 L1221.6,1255.4 L1222.1,1255.4 L1222.5,1255.4 L1222.9,1255.4 L1223.3,1255.4 L1223.7,1255.4 L1224.2,1255.4 L1224.6,1255.4 L1225.0,1255.4 L1225.4,1255.4 L1225.8,1255.4 L1226.3,1255.4 L1226.7,1255.4 L1227.1,1255.4 L1227.5,1255.4 L1227.9,1255.4 L1228.4,1255.4 L1228.8,1255.4 L1229.2,1255.4 L1229.6,1255.4 L1230.0,1255.4 L1230.5,1255.4 L1230.9,1255.4 L1231.3,1255.4 L1231.7,1255.4 L1232.1,1255.4 L1232.6,1255.4 L1233.0,1255.4 L1233.4,1255.4 L1233.8,1255.4 L1234.2,1255.4 L1234.7,1255.4 L1235.1,1255.4 L1235.5,1255.4 L1235.9,1255.4 L1236.3,1255.4 L1236.8,1255.4 L1237.2,1255.4 L1237.6,1255.4 L1238.0,1255.4 L1238.4,1255.4 L1238.9,1255.4 L1239.3,1255.4 L1239.7,1255.4 L1240.1,1255.4 L1240.5,1255.4 L1241.0,1255.4 L1241.4,1255.4 L1241.8,1255.4 L1242.2,1255.4 L1242.6,1255.4 L1243.1,1255.4 L1243.5,1255.4 L1243.9,1255.4 L1244.3,1255.4 L1244.7,1255.4 L1245.2,1255.4 L1245.6,1255.4 L1246.0,1255.4 L1246.4,1255.4 L1246.8,1255.4 L1247.3,1255.4 L1247.7,1255.4 L1248.1,1255.4 L1248.5,1255.4 L1248.9,1255.4 L1249.4,1255.4 L1249.8,1255.4 L1250.2,1255.4 L1250.6,1255.4 L1251.0,1255.4 L1251.5,1255.4 L1251.9,1255.4 L1252.3,1255.4 L1252.7,1255.4 L1253.1,1255.4 L1253.6,1255.4 L1254.0,1255.4 L1254.4,1255.4 L1254.8,1255.4 L1255.2,1255.4 L1255.7,1255.4 L1256.1,1255.4 L1256.5,1255.4 L1256.9,1255.4 L1257.3,1255.4 L1257.8,1255.4 L1258.2,1255.4 L1258.6,1255.4 L1259.0,1255.4 L1259.4,1255.4 L1259.9,1255.4 L1260.3,1255.4 L1260.7,1255.4 L1261.1,1255.4 L1261.5,1255.4 L1262.0,1255.4 L1262.4,1255.4 L1262.8,1255.4 L1263.2,1255.4 L1263.6,1255.4 L1264.1,1255.4 L1264.5,1255.4 L1264.9,1255.4 L1265.3,1255.4 L1265.7,1255.4 L1266.2,1255.4 L1266.6,1255.4 L1267.0,1255.4 L1267.4,1255.4 L1267.8,1255.4 L1268.3,1255.4" stroke="#ff0a0a" stroke-width="2.8" fill="none" />
<line x1="802.0" y1="1255.4" x2="966.0" y2="1255.4" stroke="#ff0a0a" stroke-width="5" />
<line x1="997.0" y1="1255.4" x2="1267.0" y2="1255.4" stroke="#ff0a0a" stroke-width="5" />
</g>
<path d="M801.6,934.8 H1268.3 V1279.2 H801.6 Z" fill="none" stroke="#777" stroke-width="2"/>
<line x1="801.6" y1="1279.2" x2="801.6" y2="1290.4" stroke="#777" stroke-width="2" />
<line x1="789.6" y1="1255.4" x2="801.6" y2="1255.4" stroke="#777" stroke-width="2" />
<line x1="792.6" y1="1175.2" x2="801.6" y2="1175.2" stroke="#777" stroke-width="2" />
<line x1="789.6" y1="1095.0" x2="801.6" y2="1095.0" stroke="#777" stroke-width="2" />
<line x1="792.6" y1="1014.8" x2="801.6" y2="1014.8" stroke="#777" stroke-width="2" />
<line x1="789.6" y1="934.6" x2="801.6" y2="934.6" stroke="#777" stroke-width="2" />
<text x="779.0" y="1263.6" font-size="23" text-anchor="end" fill="#222">0</text>
<text x="779.0" y="1103.2" font-size="23" text-anchor="end" fill="#222">2</text>
<text x="779.0" y="942.8" font-size="23" text-anchor="end" fill="#222">4</text>
<line x1="918.3" y1="1279.2" x2="918.3" y2="1288.2" stroke="#777" stroke-width="2" />
<line x1="1035.0" y1="1279.2" x2="1035.0" y2="1290.2" stroke="#777" stroke-width="2" />
<line x1="1151.6" y1="1279.2" x2="1151.6" y2="1288.2" stroke="#777" stroke-width="2" />
<line x1="1268.3" y1="1279.2" x2="1268.3" y2="1290.2" stroke="#777" stroke-width="2" />
<text x="801.6" y="1320.2" font-size="23.5" text-anchor="middle" fill="#222" textLength="33.0" lengthAdjust="spacingAndGlyphs">2.0</text>
<text x="1035.0" y="1320.2" font-size="23.5" text-anchor="middle" fill="#222" textLength="33.0" lengthAdjust="spacingAndGlyphs">2.5</text>
<text x="1268.3" y="1320.2" font-size="23.5" text-anchor="middle" fill="#222" textLength="33.0" lengthAdjust="spacingAndGlyphs">3.0</text>
<text x="1034.4" y="1357.6" font-size="24" text-anchor="middle" fill="#222" textLength="206.7" lengthAdjust="spacingAndGlyphs">Photon energy (eV)</text>
<text x="738.5" y="1106.7" font-size="23.7" text-anchor="middle" fill="#222" textLength="150.4" lengthAdjust="spacingAndGlyphs" transform="rotate(-90 738.5 1106.7)">Intensity (a.u.)</text>
<text x="844.0" y="1047.5" font-size="23" fill="#222" textLength="55.0" lengthAdjust="spacingAndGlyphs">(×15)</text>
<g fill="none" stroke-linejoin="round">
<path d="M1475.1,1232.7 L1476.4,1232.0 L1477.7,1231.4 L1479.0,1232.1 L1480.3,1233.8 L1481.6,1232.5 L1482.9,1232.0 L1484.2,1230.8 L1485.5,1232.3 L1486.8,1232.4 L1488.1,1231.2 L1489.4,1231.6 L1490.7,1231.6 L1492.0,1232.3 L1493.3,1231.5 L1494.6,1231.3 L1495.9,1230.1 L1497.2,1231.5 L1498.5,1232.4 L1499.8,1232.4 L1501.1,1232.9 L1502.5,1231.9 L1503.8,1231.6 L1505.1,1231.6 L1506.4,1232.2 L1507.7,1231.0 L1509.0,1232.2 L1510.3,1232.6 L1511.6,1232.3 L1512.9,1232.7 L1514.2,1231.5 L1515.5,1233.4 L1516.8,1232.3 L1518.1,1232.0 L1519.4,1231.9 L1520.7,1231.1 L1522.0,1231.6 L1523.3,1232.4 L1524.6,1232.4 L1525.9,1232.6 L1527.2,1233.2 L1528.5,1232.3 L1529.8,1232.1 L1531.1,1232.8 L1532.4,1231.8 L1533.7,1231.5 L1535.0,1232.0 L1536.3,1230.9 L1537.6,1230.8 L1538.9,1231.9 L1540.2,1232.4 L1541.5,1232.7 L1542.8,1232.8 L1544.1,1231.4 L1545.4,1232.3 L1546.7,1232.1 L1548.0,1231.3 L1549.3,1231.1 L1550.6,1232.5 L1551.9,1230.8 L1553.2,1231.6 L1554.6,1232.6 L1555.9,1231.5 L1557.2,1231.3 L1558.5,1232.1 L1559.8,1232.5 L1561.1,1232.6 L1562.4,1231.5 L1563.7,1230.4 L1565.0,1232.0 L1566.3,1231.6 L1567.6,1231.8 L1568.9,1232.0 L1570.2,1231.6 L1571.5,1230.8 L1572.8,1231.4 L1574.1,1230.9 L1575.4,1232.2 L1576.7,1231.9 L1578.0,1232.6 L1579.3,1233.5 L1580.6,1233.5 L1581.9,1233.1 L1583.2,1233.3 L1584.5,1231.8 L1585.8,1232.3 L1587.1,1233.2 L1588.4,1232.6 L1589.7,1233.0 L1591.0,1232.1 L1592.3,1232.3 L1593.6,1231.7 L1594.9,1231.4 L1596.2,1231.1 L1597.5,1232.0 L1598.8,1231.4 L1600.1,1232.4 L1601.4,1232.1 L1602.7,1231.6 L1604.0,1232.2 L1605.3,1231.3 L1606.7,1232.1 L1608.0,1233.1 L1609.3,1232.8 L1610.6,1232.2 L1611.9,1232.3 L1613.2,1233.2 L1614.5,1232.6 L1615.8,1232.5 L1617.1,1232.6 L1618.4,1231.9 L1619.7,1232.0 L1621.0,1231.8 L1622.3,1232.9 L1623.6,1231.6 L1624.9,1231.3 L1626.2,1231.6 L1627.5,1233.0 L1628.8,1231.7 L1630.1,1231.7 L1631.4,1231.3 L1632.7,1231.8 L1634.0,1230.9 L1635.3,1232.4 L1636.6,1232.1 L1637.9,1232.9 L1639.2,1232.5 L1640.5,1231.7 L1641.8,1231.2 L1643.1,1231.0 L1644.4,1230.9 L1645.7,1231.6 L1647.0,1232.2 L1648.3,1232.8 L1649.6,1233.2 L1650.9,1231.9 L1652.2,1231.3 L1653.5,1230.8 L1654.8,1230.9 L1656.1,1232.2 L1657.4,1233.1 L1658.8,1232.2 L1660.1,1231.6 L1661.4,1232.0 L1662.7,1232.5 L1664.0,1233.6 L1665.3,1232.9 L1666.6,1231.9 L1667.9,1230.9 L1669.2,1231.3 L1670.5,1231.1 L1671.8,1232.7 L1673.1,1233.0 L1674.4,1232.7 L1675.7,1232.2 L1677.0,1232.7 L1678.3,1232.2 L1679.6,1232.7 L1680.9,1232.5 L1682.2,1231.6 L1683.5,1231.5 L1684.8,1232.3 L1686.1,1231.2 L1687.4,1231.6 L1688.7,1233.1 L1690.0,1231.6 L1691.3,1233.0 L1692.6,1233.2 L1693.9,1232.7 L1695.2,1232.0 L1696.5,1233.0 L1697.8,1232.8 L1699.1,1232.2 L1700.4,1232.8 L1701.7,1232.5 L1703.0,1231.8 L1704.3,1231.8 L1705.6,1232.2 L1706.9,1231.3 L1708.2,1231.4 L1709.5,1231.8 L1710.9,1232.0 L1712.2,1232.1 L1713.5,1230.7 L1714.8,1230.8 L1716.1,1231.9 L1717.4,1230.9 L1718.7,1230.2 L1720.0,1230.8 L1721.3,1230.6 L1722.6,1231.2 L1723.9,1230.6 L1725.2,1231.2 L1726.5,1229.7 L1727.8,1230.3 L1729.1,1230.0 L1730.4,1230.6 L1731.7,1231.2 L1733.0,1230.2 L1734.3,1230.1 L1735.6,1232.2 L1736.9,1230.9 L1738.2,1231.0 L1739.5,1231.0 L1740.8,1230.7 L1742.1,1230.5 L1743.4,1230.2 L1744.7,1230.6 L1746.0,1230.6 L1747.3,1230.6 L1748.6,1231.8 L1749.9,1231.7 L1751.2,1231.6 L1752.5,1230.8 L1753.8,1230.7 L1755.1,1231.9 L1756.4,1231.1 L1757.7,1232.1 L1759.0,1230.6 L1760.3,1230.6 L1761.6,1231.4 L1763.0,1231.4 L1764.3,1230.9 L1765.6,1230.0 L1766.9,1230.7 L1768.2,1231.5 L1769.5,1231.7 L1770.8,1230.5 L1772.1,1230.9 L1773.4,1231.5 L1774.7,1232.3 L1776.0,1232.2 L1777.3,1232.1 L1778.6,1230.9 L1779.9,1232.7 L1781.2,1231.6 L1782.5,1232.2 L1783.8,1230.6 L1785.1,1231.4 L1786.4,1232.4 L1787.7,1232.5 L1789.0,1233.2 L1790.3,1231.7 L1791.6,1232.8 L1792.9,1231.7 L1794.2,1232.3 L1795.5,1231.5 L1796.8,1232.7 L1798.1,1232.8 L1799.4,1233.3 L1800.7,1232.9 L1802.0,1231.8 L1803.3,1233.2 L1804.6,1232.6 L1805.9,1232.1 L1807.2,1232.9 L1808.5,1232.5 L1809.8,1231.4 L1811.1,1231.5 L1812.4,1232.3 L1813.8,1233.6 L1815.1,1231.1 L1816.4,1231.1 L1817.7,1230.7 L1819.0,1231.8 L1820.3,1232.0 L1821.6,1232.1 L1822.9,1231.4 L1824.2,1232.6 L1825.5,1232.3 L1826.8,1232.9 L1828.1,1232.2 L1829.4,1231.7 L1830.7,1232.6 L1832.0,1232.9 L1833.3,1232.3 L1834.6,1231.7 L1835.9,1233.3 L1837.2,1233.0 L1838.5,1231.4 L1839.8,1231.4 L1841.1,1232.3 L1842.4,1232.4 L1843.7,1232.4 L1845.0,1232.6 L1846.3,1232.2 L1847.6,1232.8 L1848.9,1231.1 L1850.2,1231.6 L1851.5,1231.1 L1852.8,1232.0 L1854.1,1232.1 L1855.4,1231.8 L1856.7,1231.5 L1858.0,1231.4 L1859.3,1231.2 L1860.6,1231.2 L1861.9,1232.1 L1863.2,1231.7 L1864.5,1231.2 L1865.8,1230.7 L1867.2,1231.6 L1868.5,1231.8 L1869.8,1233.0 L1871.1,1231.0 L1872.4,1231.4 L1873.7,1231.2 L1875.0,1231.3 L1876.3,1232.3 L1877.6,1232.8 L1878.9,1232.5 L1880.2,1233.6 L1881.5,1232.4 L1882.8,1231.8 L1884.1,1232.4 L1885.4,1231.9 L1886.7,1232.0 L1888.0,1231.9 L1889.3,1232.4 L1890.6,1231.5 L1891.9,1232.0 L1893.2,1231.4 L1894.5,1231.3 L1895.8,1231.1 L1897.1,1231.2 L1898.4,1232.1 L1899.7,1231.5 L1901.0,1231.4 L1902.3,1231.6 L1903.6,1230.4 L1904.9,1230.7 L1906.2,1231.5 L1907.5,1231.7 L1908.8,1232.3 L1910.1,1233.4 L1911.4,1231.2 L1912.7,1231.8 L1914.0,1232.8 L1915.3,1232.7 L1916.6,1231.7 L1917.9,1232.2 L1919.3,1232.4 L1920.6,1231.3 L1921.9,1232.2 L1923.2,1231.2 L1924.5,1233.2 L1925.8,1231.5 L1927.1,1231.4 L1928.4,1233.0 L1929.7,1232.7 L1931.0,1232.4 L1932.3,1232.3 L1933.6,1231.8 L1934.9,1232.1 L1936.2,1231.8 L1937.5,1231.9 L1938.8,1231.0 L1940.1,1232.3 L1941.4,1232.0 L1942.7,1231.8 L1944.0,1231.3 L1945.3,1232.2 L1946.6,1231.8 L1947.9,1231.4 L1949.2,1231.6 L1950.5,1231.1 L1951.8,1231.1 L1953.1,1232.0 L1954.4,1232.2 L1955.7,1232.1 L1957.0,1231.3 L1958.3,1231.9 L1959.6,1231.5 L1960.9,1231.6 L1962.2,1231.5 L1963.5,1232.0 L1964.8,1232.2 L1966.1,1231.1 L1967.4,1231.2 L1968.7,1231.3 L1970.0,1232.1 L1971.4,1231.6 L1972.7,1232.5 L1974.0,1231.8 L1975.3,1232.6 L1976.6,1233.4 L1977.9,1233.3 L1979.2,1231.2 L1980.5,1230.6 L1981.8,1232.1 L1983.1,1232.5 L1984.4,1231.9 L1985.7,1232.2 L1987.0,1232.3 L1988.3,1232.9 L1989.6,1232.0 L1990.9,1231.2 L1992.2,1231.6 L1993.5,1231.8 L1994.8,1231.6 L1996.1,1232.1" stroke="#1a1aff" stroke-width="2.2" fill="none" />
<path d="M1475.1,1232.0 L1476.4,1231.7 L1477.7,1230.6 L1479.0,1231.8 L1480.3,1232.1 L1481.6,1231.9 L1482.9,1232.3 L1484.2,1233.4 L1485.5,1231.9 L1486.8,1230.5 L1488.1,1231.1 L1489.4,1230.5 L1490.7,1232.4 L1492.0,1232.2 L1493.3,1232.5 L1494.6,1232.5 L1495.9,1233.4 L1497.2,1231.0 L1498.5,1231.2 L1499.8,1231.9 L1501.1,1230.3 L1502.5,1230.8 L1503.8,1232.3 L1505.1,1233.4 L1506.4,1232.0 L1507.7,1230.2 L1509.0,1231.1 L1510.3,1231.2 L1511.6,1231.7 L1512.9,1232.8 L1514.2,1232.1 L1515.5,1232.8 L1516.8,1232.8 L1518.1,1232.3 L1519.4,1231.6 L1520.7,1230.8 L1522.0,1231.3 L1523.3,1231.5 L1524.6,1231.1 L1525.9,1231.2 L1527.2,1232.0 L1528.5,1232.4 L1529.8,1231.2 L1531.1,1232.1 L1532.4,1230.7 L1533.7,1231.1 L1535.0,1231.0 L1536.3,1231.6 L1537.6,1233.4 L1538.9,1231.9 L1540.2,1230.6 L1541.5,1231.3 L1542.8,1231.3 L1544.1,1232.7 L1545.4,1232.0 L1546.7,1233.8 L1548.0,1232.1 L1549.3,1232.3 L1550.6,1232.1 L1551.9,1232.6 L1553.2,1232.6 L1554.6,1233.4 L1555.9,1232.6 L1557.2,1231.9 L1558.5,1232.5 L1559.8,1231.7 L1561.1,1231.1 L1562.4,1233.0 L1563.7,1231.1 L1565.0,1232.0 L1566.3,1232.1 L1567.6,1234.8 L1568.9,1232.7 L1570.2,1233.0 L1571.5,1232.1 L1572.8,1232.9 L1574.1,1232.1 L1575.4,1232.1 L1576.7,1231.7 L1578.0,1233.5 L1579.3,1231.7 L1580.6,1232.5 L1581.9,1231.9 L1583.2,1231.4 L1584.5,1232.5 L1585.8,1233.4 L1587.1,1232.3 L1588.4,1231.8 L1589.7,1231.6 L1591.0,1232.5 L1592.3,1231.3 L1593.6,1231.6 L1594.9,1230.2 L1596.2,1230.4 L1597.5,1230.2 L1598.8,1230.3 L1600.1,1231.7 L1601.4,1232.2 L1602.7,1232.5 L1604.0,1232.1 L1605.3,1233.1 L1606.7,1233.3 L1608.0,1233.0 L1609.3,1233.1 L1610.6,1234.0 L1611.9,1232.9 L1613.2,1232.5 L1614.5,1231.8 L1615.8,1231.8 L1617.1,1231.4 L1618.4,1230.7 L1619.7,1232.8 L1621.0,1231.8 L1622.3,1232.3 L1623.6,1232.5 L1624.9,1230.6 L1626.2,1232.1 L1627.5,1231.5 L1628.8,1231.4 L1630.1,1231.9 L1631.4,1230.6 L1632.7,1232.0 L1634.0,1231.9 L1635.3,1231.2 L1636.6,1232.2 L1637.9,1233.5 L1639.2,1231.8 L1640.5,1231.6 L1641.8,1231.8 L1643.1,1231.2 L1644.4,1232.1 L1645.7,1232.7 L1647.0,1231.5 L1648.3,1232.5 L1649.6,1232.7 L1650.9,1232.8 L1652.2,1233.2 L1653.5,1233.1 L1654.8,1232.6 L1656.1,1233.2 L1657.4,1233.2 L1658.8,1231.8 L1660.1,1233.9 L1661.4,1232.0 L1662.7,1231.9 L1664.0,1232.7 L1665.3,1231.4 L1666.6,1230.0 L1667.9,1232.4 L1669.2,1232.8 L1670.5,1232.5 L1671.8,1232.8 L1673.1,1232.4 L1674.4,1232.7 L1675.7,1232.5 L1677.0,1232.6 L1678.3,1231.4 L1679.6,1231.8 L1680.9,1232.1 L1682.2,1231.3 L1683.5,1231.6 L1684.8,1231.6 L1686.1,1230.9 L1687.4,1231.2 L1688.7,1230.8 L1690.0,1231.5 L1691.3,1232.4 L1692.6,1231.6 L1693.9,1234.2 L1695.2,1232.6 L1696.5,1232.7 L1697.8,1232.5 L1699.1,1232.3 L1700.4,1231.4 L1701.7,1231.6 L1703.0,1230.2 L1704.3,1231.0 L1705.6,1230.2 L1706.9,1228.9 L1708.2,1227.4 L1709.5,1229.0 L1710.9,1228.6 L1712.2,1227.8 L1713.5,1228.1 L1714.8,1227.0 L1716.1,1226.3 L1717.4,1227.7 L1718.7,1227.0 L1720.0,1224.5 L1721.3,1225.5 L1722.6,1225.5 L1723.9,1225.0 L1725.2,1222.9 L1726.5,1224.4 L1727.8,1224.1 L1729.1,1222.3 L1730.4,1221.9 L1731.7,1223.4 L1733.0,1223.1 L1734.3,1222.6 L1735.6,1222.1 L1736.9,1222.8 L1738.2,1220.5 L1739.5,1220.8 L1740.8,1221.7 L1742.1,1220.7 L1743.4,1220.9 L1744.7,1223.5 L1746.0,1223.9 L1747.3,1222.4 L1748.6,1224.4 L1749.9,1225.5 L1751.2,1225.0 L1752.5,1223.8 L1753.8,1226.0 L1755.1,1226.4 L1756.4,1226.6 L1757.7,1227.3 L1759.0,1227.8 L1760.3,1229.0 L1761.6,1229.1 L1763.0,1231.4 L1764.3,1231.6 L1765.6,1230.9 L1766.9,1231.1 L1768.2,1233.4 L1769.5,1230.3 L1770.8,1231.2 L1772.1,1229.7 L1773.4,1230.3 L1774.7,1231.1 L1776.0,1231.6 L1777.3,1232.3 L1778.6,1233.9 L1779.9,1232.9 L1781.2,1231.6 L1782.5,1230.8 L1783.8,1229.7 L1785.1,1233.0 L1786.4,1233.6 L1787.7,1232.3 L1789.0,1233.9 L1790.3,1231.4 L1791.6,1229.4 L1792.9,1229.2 L1794.2,1230.5 L1795.5,1232.2 L1796.8,1232.8 L1798.1,1232.4 L1799.4,1233.8 L1800.7,1233.0 L1802.0,1231.9 L1803.3,1232.2 L1804.6,1231.9 L1805.9,1231.2 L1807.2,1233.5 L1808.5,1231.9 L1809.8,1232.0 L1811.1,1231.6 L1812.4,1230.7 L1813.8,1232.9 L1815.1,1234.5 L1816.4,1234.4 L1817.7,1233.6 L1819.0,1233.8 L1820.3,1231.7 L1821.6,1233.4 L1822.9,1232.3 L1824.2,1230.8 L1825.5,1232.8 L1826.8,1231.3 L1828.1,1231.0 L1829.4,1233.4 L1830.7,1232.6 L1832.0,1233.2 L1833.3,1232.1 L1834.6,1233.6 L1835.9,1231.9 L1837.2,1231.1 L1838.5,1231.0 L1839.8,1231.9 L1841.1,1229.7 L1842.4,1230.7 L1843.7,1232.8 L1845.0,1232.3 L1846.3,1227.9 L1847.6,1232.8 L1848.9,1232.1 L1850.2,1232.5 L1851.5,1233.2 L1852.8,1232.3 L1854.1,1229.2 L1855.4,1233.3 L1856.7,1231.8 L1858.0,1230.4 L1859.3,1232.2 L1860.6,1232.5 L1861.9,1233.8 L1863.2,1234.9 L1864.5,1231.2 L1865.8,1231.7 L1867.2,1231.7 L1868.5,1232.0 L1869.8,1232.7 L1871.1,1230.8 L1872.4,1231.2 L1873.7,1230.8 L1875.0,1233.7 L1876.3,1232.1 L1877.6,1229.6 L1878.9,1231.1 L1880.2,1232.0 L1881.5,1231.4 L1882.8,1231.6 L1884.1,1233.4 L1885.4,1232.4 L1886.7,1232.8 L1888.0,1230.8 L1889.3,1230.6 L1890.6,1230.8 L1891.9,1231.2 L1893.2,1232.2 L1894.5,1230.9 L1895.8,1231.2 L1897.1,1229.8 L1898.4,1229.9 L1899.7,1231.1 L1901.0,1230.0 L1902.3,1229.6 L1903.6,1230.2 L1904.9,1231.3 L1906.2,1229.9 L1907.5,1230.6 L1908.8,1233.5 L1910.1,1233.5 L1911.4,1231.1 L1912.7,1231.9 L1914.0,1232.6 L1915.3,1233.9 L1916.6,1233.1 L1917.9,1233.0 L1919.3,1231.1 L1920.6,1232.4 L1921.9,1231.7 L1923.2,1230.9 L1924.5,1232.7 L1925.8,1232.3 L1927.1,1231.5 L1928.4,1233.2 L1929.7,1231.8 L1931.0,1235.2 L1932.3,1234.6 L1933.6,1230.7 L1934.9,1230.5 L1936.2,1229.8 L1937.5,1231.5 L1938.8,1231.6 L1940.1,1232.4 L1941.4,1230.2 L1942.7,1231.1 L1944.0,1233.1 L1945.3,1230.3 L1946.6,1233.3 L1947.9,1235.2 L1949.2,1232.9 L1950.5,1233.0 L1951.8,1234.6 L1953.1,1233.8 L1954.4,1231.8 L1955.7,1229.9 L1957.0,1231.5 L1958.3,1230.6 L1959.6,1230.4 L1960.9,1231.1 L1962.2,1232.0 L1963.5,1233.2 L1964.8,1231.9 L1966.1,1232.1 L1967.4,1232.1 L1968.7,1234.6 L1970.0,1232.9 L1971.4,1233.7 L1972.7,1234.2 L1974.0,1232.3 L1975.3,1232.1 L1976.6,1229.6 L1977.9,1231.6 L1979.2,1231.4 L1980.5,1230.1 L1981.8,1231.4 L1983.1,1230.5 L1984.4,1231.8 L1985.7,1232.3 L1987.0,1232.6 L1988.3,1230.1 L1989.6,1231.5 L1990.9,1230.8 L1992.2,1233.2 L1993.5,1234.4 L1994.8,1233.5 L1996.1,1230.8" stroke="#111" stroke-width="2.4" fill="none" />
<path d="M1475.1,1231.5 L1476.4,1231.0 L1477.7,1231.5 L1479.0,1230.6 L1480.3,1232.6 L1481.6,1230.5 L1482.9,1230.7 L1484.2,1230.8 L1485.5,1231.5 L1486.8,1232.4 L1488.1,1232.5 L1489.4,1234.6 L1490.7,1231.8 L1492.0,1230.3 L1493.3,1231.9 L1494.6,1231.8 L1495.9,1233.0 L1497.2,1232.9 L1498.5,1232.5 L1499.8,1233.0 L1501.1,1231.5 L1502.5,1232.7 L1503.8,1231.1 L1505.1,1231.8 L1506.4,1233.5 L1507.7,1232.6 L1509.0,1231.7 L1510.3,1230.6 L1511.6,1233.3 L1512.9,1231.5 L1514.2,1231.4 L1515.5,1230.7 L1516.8,1231.5 L1518.1,1234.6 L1519.4,1233.3 L1520.7,1232.1 L1522.0,1230.8 L1523.3,1231.0 L1524.6,1231.3 L1525.9,1232.9 L1527.2,1233.7 L1528.5,1232.2 L1529.8,1230.9 L1531.1,1233.9 L1532.4,1231.6 L1533.7,1231.2 L1535.0,1232.1 L1536.3,1233.2 L1537.6,1232.5 L1538.9,1231.9 L1540.2,1231.5 L1541.5,1231.1 L1542.8,1231.5 L1544.1,1230.7 L1545.4,1230.9 L1546.7,1232.4 L1548.0,1232.2 L1549.3,1231.8 L1550.6,1231.9 L1551.9,1230.9 L1553.2,1232.5 L1554.6,1232.8 L1555.9,1233.1 L1557.2,1231.6 L1558.5,1234.1 L1559.8,1233.4 L1561.1,1233.1 L1562.4,1232.1 L1563.7,1231.3 L1565.0,1230.3 L1566.3,1228.9 L1567.6,1229.7 L1568.9,1229.9 L1570.2,1229.7 L1571.5,1230.3 L1572.8,1229.6 L1574.1,1230.9 L1575.4,1230.5 L1576.7,1228.8 L1578.0,1228.4 L1579.3,1228.1 L1580.6,1226.2 L1581.9,1224.9 L1583.2,1225.4 L1584.5,1224.2 L1585.8,1225.8 L1587.1,1226.3 L1588.4,1227.0 L1589.7,1226.8 L1591.0,1224.2 L1592.3,1225.6 L1593.6,1226.7 L1594.9,1226.4 L1596.2,1224.9 L1597.5,1226.0 L1598.8,1226.1 L1600.1,1227.3 L1601.4,1226.0 L1602.7,1227.8 L1604.0,1229.0 L1605.3,1229.1 L1606.7,1230.7 L1608.0,1229.9 L1609.3,1230.5 L1610.6,1229.0 L1611.9,1229.8 L1613.2,1229.5 L1614.5,1231.0 L1615.8,1231.8 L1617.1,1231.5 L1618.4,1233.2 L1619.7,1233.0 L1621.0,1232.2 L1622.3,1232.5 L1623.6,1232.9 L1624.9,1233.6 L1626.2,1233.0 L1627.5,1231.9 L1628.8,1232.3 L1630.1,1231.7 L1631.4,1232.4 L1632.7,1231.7 L1634.0,1231.6 L1635.3,1229.9 L1636.6,1230.7 L1637.9,1229.7 L1639.2,1231.9 L1640.5,1233.9 L1641.8,1231.4 L1643.1,1232.4 L1644.4,1232.4 L1645.7,1232.8 L1647.0,1231.7 L1648.3,1231.4 L1649.6,1229.4 L1650.9,1230.9 L1652.2,1234.1 L1653.5,1232.4 L1654.8,1231.1 L1656.1,1231.1 L1657.4,1231.6 L1658.8,1232.4 L1660.1,1233.1 L1661.4,1232.6 L1662.7,1232.7 L1664.0,1232.8 L1665.3,1231.3 L1666.6,1232.2 L1667.9,1232.5 L1669.2,1230.9 L1670.5,1232.6 L1671.8,1232.5 L1673.1,1231.6 L1674.4,1229.9 L1675.7,1231.0 L1677.0,1231.4 L1678.3,1232.1 L1679.6,1230.6 L1680.9,1231.4 L1682.2,1232.0 L1683.5,1231.7 L1684.8,1231.2 L1686.1,1230.6 L1687.4,1234.5 L1688.7,1235.4 L1690.0,1233.5 L1691.3,1232.7 L1692.6,1232.5 L1693.9,1230.6 L1695.2,1232.0 L1696.5,1230.9 L1697.8,1230.9 L1699.1,1228.7 L1700.4,1225.4 L1701.7,1224.7 L1703.0,1216.1 L1704.3,1207.6 L1705.6,1200.1 L1706.9,1194.5 L1708.2,1176.2 L1709.5,1161.7 L1710.9,1143.7 L1712.2,1129.0 L1713.5,1113.7 L1714.8,1097.1 L1716.1,1082.6 L1717.4,1067.7 L1718.7,1056.2 L1720.0,1046.4 L1721.3,1033.0 L1722.6,1025.1 L1723.9,1014.3 L1725.2,1004.6 L1726.5,996.4 L1727.8,991.1 L1729.1,985.4 L1730.4,980.3 L1731.7,976.6 L1733.0,975.0 L1734.3,975.8 L1735.6,974.1 L1736.9,975.0 L1738.2,973.7 L1739.5,975.4 L1740.8,975.3 L1742.1,977.4 L1743.4,984.7 L1744.7,995.3 L1746.0,1008.0 L1747.3,1019.6 L1748.6,1033.8 L1749.9,1045.2 L1751.2,1057.8 L1752.5,1068.4 L1753.8,1079.4 L1755.1,1090.4 L1756.4,1100.7 L1757.7,1111.9 L1759.0,1123.9 L1760.3,1140.7 L1761.6,1156.9 L1763.0,1172.5 L1764.3,1185.3 L1765.6,1196.4 L1766.9,1203.1 L1768.2,1211.5 L1769.5,1218.7 L1770.8,1223.0 L1772.1,1225.1 L1773.4,1228.4 L1774.7,1230.1 L1776.0,1229.6 L1777.3,1230.7 L1778.6,1231.3 L1779.9,1231.3 L1781.2,1230.3 L1782.5,1231.6 L1783.8,1231.9 L1785.1,1231.9 L1786.4,1231.6 L1787.7,1229.4 L1789.0,1230.7 L1790.3,1232.3 L1791.6,1231.8 L1792.9,1233.0 L1794.2,1232.3 L1795.5,1230.1 L1796.8,1231.6 L1798.1,1232.2 L1799.4,1233.5 L1800.7,1231.1 L1802.0,1230.9 L1803.3,1230.6 L1804.6,1231.2 L1805.9,1232.7 L1807.2,1230.6 L1808.5,1231.2 L1809.8,1230.7 L1811.1,1231.8 L1812.4,1233.0 L1813.8,1231.5 L1815.1,1231.8 L1816.4,1233.9 L1817.7,1231.9 L1819.0,1230.4 L1820.3,1231.3 L1821.6,1231.2 L1822.9,1233.2 L1824.2,1233.5 L1825.5,1235.0 L1826.8,1232.2 L1828.1,1232.9 L1829.4,1233.3 L1830.7,1232.6 L1832.0,1233.4 L1833.3,1231.7 L1834.6,1235.6 L1835.9,1233.6 L1837.2,1233.5 L1838.5,1229.3 L1839.8,1228.6 L1841.1,1231.8 L1842.4,1232.7 L1843.7,1231.5 L1845.0,1231.8 L1846.3,1232.6 L1847.6,1232.5 L1848.9,1231.2 L1850.2,1232.4 L1851.5,1231.2 L1852.8,1232.0 L1854.1,1231.1 L1855.4,1233.5 L1856.7,1231.9 L1858.0,1232.2 L1859.3,1232.6 L1860.6,1231.1 L1861.9,1231.8 L1863.2,1232.3 L1864.5,1231.7 L1865.8,1233.0 L1867.2,1230.3 L1868.5,1227.7 L1869.8,1226.8 L1871.1,1227.2 L1872.4,1224.5 L1873.7,1223.1 L1875.0,1218.7 L1876.3,1214.1 L1877.6,1207.7 L1878.9,1202.6 L1880.2,1199.7 L1881.5,1193.1 L1882.8,1187.3 L1884.1,1182.4 L1885.4,1178.8 L1886.7,1171.7 L1888.0,1164.1 L1889.3,1154.0 L1890.6,1144.2 L1891.9,1137.0 L1893.2,1127.4 L1894.5,1119.8 L1895.8,1112.4 L1897.1,1104.2 L1898.4,1098.1 L1899.7,1092.0 L1901.0,1083.8 L1902.3,1079.8 L1903.6,1076.6 L1904.9,1072.2 L1906.2,1070.1 L1907.5,1068.5 L1908.8,1069.5 L1910.1,1070.3 L1911.4,1071.9 L1912.7,1073.2 L1914.0,1079.0 L1915.3,1082.4 L1916.6,1085.3 L1917.9,1088.8 L1919.3,1094.3 L1920.6,1102.7 L1921.9,1110.3 L1923.2,1121.8 L1924.5,1130.0 L1925.8,1139.9 L1927.1,1151.2 L1928.4,1163.2 L1929.7,1173.2 L1931.0,1178.6 L1932.3,1186.5 L1933.6,1192.9 L1934.9,1198.2 L1936.2,1202.9 L1937.5,1210.2 L1938.8,1213.2 L1940.1,1219.8 L1941.4,1223.0 L1942.7,1225.6 L1944.0,1228.2 L1945.3,1229.5 L1946.6,1230.4 L1947.9,1229.6 L1949.2,1230.6 L1950.5,1231.3 L1951.8,1231.9 L1953.1,1231.5 L1954.4,1231.9 L1955.7,1231.6 L1957.0,1231.6 L1958.3,1231.0 L1959.6,1232.1 L1960.9,1232.0 L1962.2,1230.7 L1963.5,1232.5 L1964.8,1233.8 L1966.1,1233.0 L1967.4,1233.5 L1968.7,1232.2 L1970.0,1231.7 L1971.4,1231.6 L1972.7,1232.0 L1974.0,1232.9 L1975.3,1232.6 L1976.6,1231.3 L1977.9,1232.2 L1979.2,1232.7 L1980.5,1231.7 L1981.8,1232.5 L1983.1,1233.9 L1984.4,1232.5 L1985.7,1231.3 L1987.0,1231.7 L1988.3,1231.4 L1989.6,1231.7 L1990.9,1232.4 L1992.2,1233.0 L1993.5,1232.8 L1994.8,1233.0 L1996.1,1233.6" stroke="#ff0a0a" stroke-width="3.0" fill="none" />
</g>
<path d="M1475.1,1263.9 V948.9 H1996 V1263.9 Z" fill="none" stroke="#444" stroke-width="1.8"/>
<line x1="1475.1" y1="948.9" x2="1996.0" y2="948.9" stroke="#888" stroke-width="2" />
<line x1="1468.1" y1="1232.0" x2="1475.1" y2="1232.0" stroke="#333" stroke-width="1.8" />
<line x1="1470.6" y1="1200.5" x2="1475.1" y2="1200.5" stroke="#333" stroke-width="1.8" />
<line x1="1468.1" y1="1169.1" x2="1475.1" y2="1169.1" stroke="#333" stroke-width="1.8" />
<line x1="1470.6" y1="1137.6" x2="1475.1" y2="1137.6" stroke="#333" stroke-width="1.8" />
<line x1="1468.1" y1="1106.2" x2="1475.1" y2="1106.2" stroke="#333" stroke-width="1.8" />
<line x1="1470.6" y1="1074.7" x2="1475.1" y2="1074.7" stroke="#333" stroke-width="1.8" />
<line x1="1468.1" y1="1043.2" x2="1475.1" y2="1043.2" stroke="#333" stroke-width="1.8" />
<line x1="1470.6" y1="1011.8" x2="1475.1" y2="1011.8" stroke="#333" stroke-width="1.8" />
<line x1="1468.1" y1="980.3" x2="1475.1" y2="980.3" stroke="#333" stroke-width="1.8" />
<text x="1459.0" y="1240.0" font-size="23" text-anchor="end" fill="#222">0</text>
<text x="1459.0" y="1177.1" font-size="23" text-anchor="end" fill="#222" textLength="37.7" lengthAdjust="spacingAndGlyphs">200</text>
<text x="1459.0" y="1114.2" font-size="23" text-anchor="end" fill="#222" textLength="37.7" lengthAdjust="spacingAndGlyphs">400</text>
<text x="1459.0" y="1051.2" font-size="23" text-anchor="end" fill="#222" textLength="37.7" lengthAdjust="spacingAndGlyphs">600</text>
<text x="1459.0" y="988.3" font-size="23" text-anchor="end" fill="#222" textLength="37.7" lengthAdjust="spacingAndGlyphs">800</text>
<line x1="1475.1" y1="1263.9" x2="1475.1" y2="1268.4" stroke="#333" stroke-width="1.8" />
<line x1="1527.2" y1="1263.9" x2="1527.2" y2="1270.9" stroke="#333" stroke-width="1.8" />
<line x1="1579.3" y1="1263.9" x2="1579.3" y2="1268.4" stroke="#333" stroke-width="1.8" />
<line x1="1631.4" y1="1263.9" x2="1631.4" y2="1270.9" stroke="#333" stroke-width="1.8" />
<line x1="1683.5" y1="1263.9" x2="1683.5" y2="1268.4" stroke="#333" stroke-width="1.8" />
<line x1="1735.6" y1="1263.9" x2="1735.6" y2="1270.9" stroke="#333" stroke-width="1.8" />
<line x1="1787.7" y1="1263.9" x2="1787.7" y2="1268.4" stroke="#333" stroke-width="1.8" />
<line x1="1839.8" y1="1263.9" x2="1839.8" y2="1270.9" stroke="#333" stroke-width="1.8" />
<line x1="1891.9" y1="1263.9" x2="1891.9" y2="1268.4" stroke="#333" stroke-width="1.8" />
<line x1="1944.0" y1="1263.9" x2="1944.0" y2="1270.9" stroke="#333" stroke-width="1.8" />
<line x1="1996.1" y1="1263.9" x2="1996.1" y2="1268.4" stroke="#333" stroke-width="1.8" />
<text x="1527.2" y="1297.8" font-size="22.5" text-anchor="middle" fill="#222" textLength="39.0" lengthAdjust="spacingAndGlyphs">360</text>
<text x="1631.4" y="1297.8" font-size="22.5" text-anchor="middle" fill="#222" textLength="39.0" lengthAdjust="spacingAndGlyphs">380</text>
<text x="1735.6" y="1297.8" font-size="22.5" text-anchor="middle" fill="#222" textLength="39.0" lengthAdjust="spacingAndGlyphs">400</text>
<text x="1839.8" y="1297.8" font-size="22.5" text-anchor="middle" fill="#222" textLength="39.0" lengthAdjust="spacingAndGlyphs">420</text>
<text x="1944.0" y="1297.8" font-size="22.5" text-anchor="middle" fill="#222" textLength="39.0" lengthAdjust="spacingAndGlyphs">440</text>
<text x="1735.5" y="1339.0" font-size="23.5" text-anchor="middle" fill="#222" textLength="179.3" lengthAdjust="spacingAndGlyphs">Wavelength (nm)</text>
<text x="1394.5" y="1106.7" font-size="23.2" text-anchor="middle" fill="#222" textLength="116.2" lengthAdjust="spacingAndGlyphs" transform="rotate(-90 1394.5 1106.7)">FWM (a.u.)</text>
<rect x="1529.4" y="971.3" width="105.59999999999991" height="188.4000000000001" fill="#fff" stroke="#333" stroke-width="1.8"/>
<line x1="1529.4" y1="971.3" x2="1529.4" y2="1159.7" stroke="#888" stroke-width="2" />
<g fill="none" stroke-linejoin="miter">
<path d="M1529.3,1111.3 L1530.1,1118.9 L1531.0,1121.5 L1531.8,1098.4 L1532.7,1111.5 L1533.5,1118.3 L1534.4,1102.1 L1535.2,1133.1 L1536.1,1105.5 L1536.9,1127.3 L1537.7,1091.2 L1538.6,1112.8 L1539.4,1119.9 L1540.3,1110.0 L1541.1,1128.1 L1542.0,1094.0 L1542.8,1122.4 L1543.7,1125.6 L1544.5,1120.1 L1545.4,1114.1 L1546.2,1095.8 L1547.1,1118.8 L1547.9,1108.0 L1548.8,1136.2 L1549.6,1115.0 L1550.4,1097.4 L1551.3,1118.5 L1552.1,1107.8 L1553.0,1130.7 L1553.8,1119.1 L1554.7,1095.0 L1555.5,1128.2 L1556.4,1100.6 L1557.2,1103.0 L1558.1,1128.1 L1558.9,1100.0 L1559.8,1126.6 L1560.6,1099.6 L1561.4,1125.0 L1562.3,1125.1 L1563.1,1128.5 L1564.0,1109.9 L1564.8,1115.1 L1565.7,1118.1 L1566.5,1102.7 L1567.4,1112.0 L1568.2,1119.7 L1569.1,1129.2 L1569.9,1122.6 L1570.8,1090.1 L1571.6,1107.4 L1572.5,1112.5 L1573.3,1113.2 L1574.1,1110.9 L1575.0,1105.3 L1575.8,1092.6 L1576.7,1120.9 L1577.5,1120.1 L1578.4,1083.3 L1579.2,1112.2 L1580.1,1096.1 L1580.9,1117.7 L1581.8,1092.5 L1582.6,1109.1 L1583.5,1112.6 L1584.3,1105.4 L1585.1,1097.3 L1586.0,1110.0 L1586.8,1136.5 L1587.7,1114.5 L1588.5,1095.7 L1589.4,1094.9 L1590.2,1108.2 L1591.1,1106.1 L1591.9,1117.0 L1592.8,1121.1 L1593.6,1106.2 L1594.5,1116.0 L1595.3,1123.6 L1596.2,1102.3 L1597.0,1090.1 L1597.8,1116.1 L1598.7,1108.4 L1599.5,1114.9 L1600.4,1092.4 L1601.2,1120.9 L1602.1,1110.6 L1602.9,1106.6 L1603.8,1114.4 L1604.6,1115.6 L1605.5,1117.0 L1606.3,1094.0 L1607.2,1115.5 L1608.0,1107.6 L1608.8,1127.3 L1609.7,1111.0 L1610.5,1124.8 L1611.4,1111.3 L1612.2,1119.1 L1613.1,1094.8 L1613.9,1110.6 L1614.8,1113.1 L1615.6,1141.8 L1616.5,1126.4 L1617.3,1104.6 L1618.2,1103.1 L1619.0,1138.3 L1619.9,1105.7 L1620.7,1112.4 L1621.5,1096.7 L1622.4,1094.7 L1623.2,1111.0 L1624.1,1107.2 L1624.9,1121.5 L1625.8,1128.6 L1626.6,1102.0 L1627.5,1105.2 L1628.3,1112.4 L1629.2,1116.8 L1630.0,1103.5 L1630.9,1113.2 L1631.7,1114.7 L1632.5,1097.6 L1633.4,1133.6 L1634.2,1101.9" stroke="#1a1aff" stroke-width="2.6" fill="none" />
<path d="M1529.3,1113.5 L1530.1,1141.9 L1531.0,1082.9 L1531.8,1107.5 L1532.7,1099.5 L1533.5,1118.3 L1534.4,1109.1 L1535.2,1126.0 L1536.1,1112.3 L1536.9,1081.9 L1537.7,1125.6 L1538.6,1134.5 L1539.4,1117.7 L1540.3,1097.5 L1541.1,1114.6 L1542.0,1114.4 L1542.8,1106.3 L1543.7,1116.6 L1544.5,1116.3 L1545.4,1121.0 L1546.2,1100.8 L1547.1,1109.0 L1547.9,1122.3 L1548.8,1100.1 L1549.6,1134.7 L1550.4,1114.6 L1551.3,1119.4 L1552.1,1117.5 L1553.0,1096.4 L1553.8,1088.2 L1554.7,1115.0 L1555.5,1111.6 L1556.4,1093.2 L1557.2,1117.5 L1558.1,1105.5 L1558.9,1130.4 L1559.8,1114.8 L1560.6,1097.8 L1561.4,1104.7 L1562.3,1119.0 L1563.1,1091.0 L1564.0,1136.5 L1564.8,1139.1 L1565.7,1101.6 L1566.5,1106.6 L1567.4,1104.6 L1568.2,1087.7 L1569.1,1138.6 L1569.9,1118.9 L1570.8,1131.6 L1571.6,1095.0 L1572.5,1112.2 L1573.3,1133.1 L1574.1,1113.4 L1575.0,1132.2 L1575.8,1131.5 L1576.7,1097.8 L1577.5,1119.3 L1578.4,1128.0 L1579.2,1102.1 L1580.1,1122.3 L1580.9,1095.8 L1581.8,1098.9 L1582.6,1125.7 L1583.5,1114.9 L1584.3,1113.8 L1585.1,1103.8 L1586.0,1095.9 L1586.8,1125.6 L1587.7,1095.3 L1588.5,1092.6 L1589.4,1090.9 L1590.2,1112.7 L1591.1,1100.4 L1591.9,1100.8 L1592.8,1117.5 L1593.6,1096.8 L1594.5,1115.1 L1595.3,1123.6 L1596.2,1100.1 L1597.0,1120.3 L1597.8,1106.9 L1598.7,1093.8 L1599.5,1108.3 L1600.4,1121.5 L1601.2,1120.7 L1602.1,1120.7 L1602.9,1118.8 L1603.8,1100.1 L1604.6,1109.8 L1605.5,1127.8 L1606.3,1116.8 L1607.2,1118.0 L1608.0,1115.0 L1608.8,1105.7 L1609.7,1115.6 L1610.5,1105.1 L1611.4,1122.7 L1612.2,1116.5 L1613.1,1128.6 L1613.9,1114.8 L1614.8,1122.6 L1615.6,1090.8 L1616.5,1104.5 L1617.3,1124.7 L1618.2,1117.5 L1619.0,1107.7 L1619.9,1131.7 L1620.7,1104.7 L1621.5,1118.4 L1622.4,1096.6 L1623.2,1100.6 L1624.1,1097.5 L1624.9,1106.8 L1625.8,1126.0 L1626.6,1115.5 L1627.5,1103.7 L1628.3,1129.9 L1629.2,1098.3 L1630.0,1081.8 L1630.9,1132.6 L1631.7,1118.0 L1632.5,1091.7 L1633.4,1116.7 L1634.2,1101.0" stroke="#111" stroke-width="2.8" fill="none" />
<path d="M1529.3,1123.2 L1530.1,1100.1 L1531.0,1109.8 L1531.8,1108.2 L1532.7,1126.3 L1533.5,1112.3 L1534.4,1120.5 L1535.2,1102.6 L1536.1,1096.9 L1536.9,1123.8 L1537.7,1104.6 L1538.6,1117.1 L1539.4,1111.2 L1540.3,1094.3 L1541.1,1093.9 L1542.0,1103.9 L1542.8,1127.8 L1543.7,1124.4 L1544.5,1113.7 L1545.4,1093.2 L1546.2,1131.1 L1547.1,1116.8 L1547.9,1109.5 L1548.8,1106.1 L1549.6,1125.9 L1550.4,1112.4 L1551.3,1094.4 L1552.1,1098.1 L1553.0,1103.6 L1553.8,1131.1 L1554.7,1121.4 L1555.5,1131.7 L1556.4,1094.5 L1557.2,1119.7 L1558.1,1116.4 L1558.9,1112.6 L1559.8,1113.0 L1560.6,1096.3 L1561.4,1104.7 L1562.3,1103.8 L1563.1,1127.2 L1564.0,1104.9 L1564.8,1100.9 L1565.7,1097.8 L1566.5,1118.0 L1567.4,1108.3 L1568.2,1131.4 L1569.1,1102.6 L1569.9,1113.4 L1570.8,1100.6 L1571.6,1093.8 L1572.5,1092.2 L1573.3,1104.0 L1574.1,1086.6 L1575.0,1104.3 L1575.8,1089.0 L1576.7,1093.1 L1577.5,1079.3 L1578.4,1074.0 L1579.2,1053.7 L1580.1,1065.7 L1580.9,1064.6 L1581.8,1047.6 L1582.6,1028.3 L1583.5,1047.1 L1584.3,1023.7 L1585.1,1032.5 L1586.0,1016.2 L1586.8,1041.3 L1587.7,1053.7 L1588.5,1049.0 L1589.4,1007.5 L1590.2,1017.6 L1591.1,1038.8 L1591.9,1047.8 L1592.8,1063.1 L1593.6,1046.4 L1594.5,1075.7 L1595.3,1096.6 L1596.2,1108.0 L1597.0,1093.0 L1597.8,1086.3 L1598.7,1112.9 L1599.5,1100.0 L1600.4,1123.2 L1601.2,1118.0 L1602.1,1098.2 L1602.9,1126.1 L1603.8,1126.3 L1604.6,1105.5 L1605.5,1130.0 L1606.3,1125.5 L1607.2,1116.5 L1608.0,1085.9 L1608.8,1106.4 L1609.7,1106.5 L1610.5,1127.1 L1611.4,1118.0 L1612.2,1114.2 L1613.1,1113.2 L1613.9,1118.3 L1614.8,1109.3 L1615.6,1116.0 L1616.5,1105.9 L1617.3,1113.8 L1618.2,1117.7 L1619.0,1135.3 L1619.9,1109.1 L1620.7,1098.7 L1621.5,1122.7 L1622.4,1112.4 L1623.2,1121.4 L1624.1,1091.6 L1624.9,1132.2 L1625.8,1116.0 L1626.6,1117.8 L1627.5,1106.8 L1628.3,1107.1 L1629.2,1100.0 L1630.0,1109.9 L1630.9,1104.1 L1631.7,1122.8 L1632.5,1117.7 L1633.4,1107.4 L1634.2,1108.7" stroke="#ff0a0a" stroke-width="2.8" fill="none" />
</g>
<line x1="1520.9" y1="971.3" x2="1529.4" y2="971.3" stroke="#333" stroke-width="1.8" />
<line x1="1522.0" y1="1112.5" x2="1529.4" y2="1112.5" stroke="#333" stroke-width="1.8" />
<line x1="1525.0" y1="1042.0" x2="1529.4" y2="1042.0" stroke="#333" stroke-width="1.5" />
<text x="1515.5" y="978.3" font-size="22.5" text-anchor="end" fill="#222" textLength="25.3" lengthAdjust="spacingAndGlyphs">30</text>
<text x="1515.5" y="1120.4" font-size="22.5" text-anchor="end" fill="#222">0</text>
<line x1="1556.0" y1="1159.7" x2="1556.0" y2="1164.7" stroke="#333" stroke-width="1.6" />
<line x1="1582.5" y1="1159.7" x2="1582.5" y2="1164.7" stroke="#333" stroke-width="1.6" />
<line x1="1608.9" y1="1159.7" x2="1608.9" y2="1164.7" stroke="#333" stroke-width="1.6" />
<text x="1556.0" y="1194.6" font-size="22.5" text-anchor="middle" fill="#222" textLength="39.0" lengthAdjust="spacingAndGlyphs">360</text>
<text x="1608.9" y="1194.6" font-size="22.5" text-anchor="middle" fill="#222" textLength="39.0" lengthAdjust="spacingAndGlyphs">380</text>
<text x="2.8" y="36.0" font-size="40.6" font-weight="bold" textLength="51.5" lengthAdjust="spacingAndGlyphs">(a)</text>
<text x="810.2" y="36.1" font-size="40.6" font-weight="bold" textLength="53.0" lengthAdjust="spacingAndGlyphs">(b)</text>
<text x="1457.2" y="36.1" font-size="40.6" font-weight="bold" textLength="51.0" lengthAdjust="spacingAndGlyphs">(c)</text>
<text x="0.0" y="478.3" font-size="40.6" font-weight="bold" textLength="52.8" lengthAdjust="spacingAndGlyphs">(d)</text>
<text x="554.6" y="477.9" font-size="40.6" font-weight="bold" textLength="51.1" lengthAdjust="spacingAndGlyphs">(e)</text>
<text x="1125.8" y="505.0" font-size="40.6" font-weight="bold" textLength="42.0" lengthAdjust="spacingAndGlyphs">(f)</text>
<text x="1503.1" y="505.4" font-size="40.6" font-weight="bold" textLength="53.4" lengthAdjust="spacingAndGlyphs">(g)</text>
<text x="0.2" y="949.5" font-size="40.6" font-weight="bold" textLength="53.4" lengthAdjust="spacingAndGlyphs">(h)</text>
<text x="679.4" y="950.1" font-size="40.6" font-weight="bold" textLength="39.9" lengthAdjust="spacingAndGlyphs">(i)</text>
<text x="1355.5" y="950.0" font-size="40.6" font-weight="bold" textLength="38.9" lengthAdjust="spacingAndGlyphs">(j)</text>
</svg></body></html>
